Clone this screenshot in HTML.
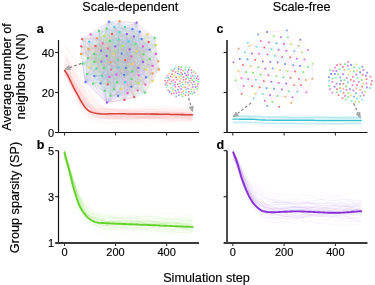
<!DOCTYPE html>
<html><head><meta charset="utf-8"><style>
html,body{margin:0;padding:0;background:#fff;width:375px;height:285px;overflow:hidden;}
svg{display:block;font-family:"Liberation Sans",sans-serif;will-change:transform;}
</style></head><body><svg width="375" height="285" viewBox="0 0 375 285"><defs><filter id="bl" x="-10%" y="-10%" width="120%" height="120%"><feGaussianBlur stdDeviation="0.45"/></filter><filter id="bl2" x="-10%" y="-10%" width="120%" height="120%"><feGaussianBlur stdDeviation="0.7"/></filter><filter id="bl4" x="-10%" y="-10%" width="120%" height="120%"><feGaussianBlur stdDeviation="0.8"/></filter><filter id="bl3" x="-30%" y="-30%" width="160%" height="160%"><feGaussianBlur stdDeviation="5"/></filter></defs><g fill="none" stroke="#f07070" stroke-width="1.2" stroke-opacity="0.03"><polyline points="64.5,67.5 65.7,69.3 66.8,71.5 68,74.3 69.2,77.4 70.4,80.5 71.5,83.5 72.7,86.5 73.9,89.5 75.1,92.2 76.2,94.9 77.4,97.6 78.6,100.4 79.8,103.2 80.9,105.7 82.1,108.1 83.3,110.2 84.5,112.1 85.6,113.7 86.8,115 88,115.8 89.2,116.5 90.3,117 91.5,117.3 92.7,117.5 93.9,117.7 95,117.9 96.2,117.9 97.4,117.9 98.6,117.9 99.7,117.9 100.9,117.8 102.1,117.7 103.3,117.5 104.4,117.3 105.6,117.1 106.8,116.9 107.9,116.9 109.1,117.1 110.3,117.3 111.5,117.5 112.6,117.6 113.8,117.8 115,118 116.2,118.2 117.3,118.3 118.5,118.5 119.7,118.7 120.9,118.9 122,119.1 123.2,119.2 124.4,119.4 125.6,119.6 126.7,119.8 127.9,120 129.1,120 130.3,120 131.4,120 132.6,120 133.8,120 135,120 136.1,120 137.3,120 138.5,120 139.7,120 140.8,120 142,120 143.2,120 144.4,120 145.5,119.9 146.7,119.9 147.9,119.9 149.1,119.9 150.2,119.9 151.4,119.9 152.6,119.9 153.7,119.9 154.9,119.9 156.1,119.9 157.3,120 158.4,120 159.6,120 160.8,120 162,120 163.1,120 164.3,120 165.5,120 166.7,120.1 167.8,120.1 169,120.1 170.2,120.1 171.4,120.1 172.5,120.2 173.7,120.3 174.9,120.4 176.1,120.5 177.2,120.5 178.4,120.6 179.6,120.7 180.8,120.8 181.9,120.9 183.1,121 184.3,121.1 185.5,121.1 186.6,121.2 187.8,121.3 189,121.3 190.2,121.4 191.3,121.4 192.5,121.5"/><polyline points="64.5,46.3 65.7,47.4 66.8,48.5 68,49.8 69.2,51.1 70.4,52.8 71.5,54.6 72.7,56.5 73.9,58.3 75.1,60.2 76.2,62.1 77.4,64 78.6,65.9 79.8,67.8 80.9,69.6 82.1,71.5 83.3,73.3 84.5,75.1 85.6,76.9 86.8,78.5 88,80.2 89.2,81.8 90.3,83.4 91.5,85.2 92.7,86.9 93.9,88.7 95,90.5 96.2,92.2 97.4,93.9 98.6,95.5 99.7,97.1 100.9,98.5 102.1,99.9 103.3,101.3 104.4,102.6 105.6,103.8 106.8,105 107.9,106.1 109.1,107.1 110.3,108 111.5,108.9 112.6,109.7 113.8,110.4 115,111 116.2,111.5 117.3,112 118.5,112.5 119.7,112.9 120.9,113.2 122,113.6 123.2,113.9 124.4,114.2 125.6,114.5 126.7,114.8 127.9,115 129.1,115.2 130.3,115.3 131.4,115.4 132.6,115.5 133.8,115.6 135,115.7 136.1,115.7 137.3,115.8 138.5,115.9 139.7,115.9 140.8,115.9 142,116 143.2,116 144.4,115.9 145.5,115.9 146.7,115.9 147.9,115.8 149.1,115.8 150.2,115.7 151.4,115.5 152.6,115.4 153.7,115.2 154.9,115.1 156.1,115 157.3,114.8 158.4,114.7 159.6,114.6 160.8,114.5 162,114.3 163.1,114.2 164.3,114.1 165.5,114 166.7,113.9 167.8,113.7 169,113.6 170.2,113.5 171.4,113.4 172.5,113.4 173.7,113.4 174.9,113.5 176.1,113.5 177.2,113.5 178.4,113.5 179.6,113.5 180.8,113.5 181.9,113.6 183.1,113.6 184.3,113.6 185.5,113.6 186.6,113.6 187.8,113.6 189,113.7 190.2,113.7 191.3,113.7 192.5,113.7"/><polyline points="64.5,68.9 65.7,70.6 66.8,72.7 68,75.5 69.2,78.4 70.4,81.3 71.5,84.2 72.7,87 73.9,89.7 75.1,92.3 76.2,94.7 77.4,97.2 78.6,99.9 79.8,102.4 80.9,104.7 82.1,106.8 83.3,108.6 84.5,110.2 85.6,111.6 86.8,112.7 88,113.5 89.2,114.1 90.3,114.6 91.5,115 92.7,115.3 93.9,115.5 95,115.7 96.2,115.8 97.4,115.9 98.6,116 99.7,116 100.9,116 102.1,116 103.3,115.9 104.4,115.8 105.6,115.7 106.8,115.6 107.9,115.7 109.1,115.8 110.3,115.9 111.5,116 112.6,116.1 113.8,116.2 115,116.4 116.2,116.5 117.3,116.6 118.5,116.7 119.7,116.9 120.9,117 122,117.1 123.2,117.2 124.4,117.4 125.6,117.5 126.7,117.6 127.9,117.7 129.1,117.8 130.3,117.7 131.4,117.6 132.6,117.5 133.8,117.4 135,117.3 136.1,117.3 137.3,117.2 138.5,117.1 139.7,117 140.8,117 142,116.9 143.2,116.8 144.4,116.7 145.5,116.6 146.7,116.6 147.9,116.5 149.1,116.4 150.2,116.4 151.4,116.5 152.6,116.5 153.7,116.6 154.9,116.7 156.1,116.8 157.3,116.9 158.4,117 159.6,117.1 160.8,117.2 162,117.3 163.1,117.4 164.3,117.5 165.5,117.6 166.7,117.7 167.8,117.7 169,117.8 170.2,117.9 171.4,118 172.5,118.1 173.7,118.2 174.9,118.3 176.1,118.4 177.2,118.4 178.4,118.5 179.6,118.6 180.8,118.7 181.9,118.8 183.1,118.9 184.3,118.9 185.5,119 186.6,119.1 187.8,119.1 189,119.2 190.2,119.2 191.3,119.3 192.5,119.3"/><polyline points="64.5,57.6 65.7,58.7 66.8,59.9 68,61.2 69.2,62.8 70.4,64.6 71.5,66.5 72.7,68.5 73.9,70.4 75.1,72.3 76.2,74.3 77.4,76.2 78.6,78.1 79.8,80 80.9,81.9 82.1,83.7 83.3,85.4 84.5,87.1 85.6,88.8 86.8,90.5 88,92.2 89.2,94 90.3,95.9 91.5,97.6 92.7,99.2 93.9,100.8 95,102.2 96.2,103.6 97.4,105 98.6,106.2 99.7,107.4 100.9,108.4 102.1,109.4 103.3,110.2 104.4,111 105.6,111.6 106.8,112.1 107.9,112.6 109.1,113.1 110.3,113.5 111.5,113.8 112.6,114.1 113.8,114.4 115,114.6 116.2,114.9 117.3,115.1 118.5,115.3 119.7,115.4 120.9,115.6 122,115.7 123.2,115.8 124.4,115.9 125.6,116 126.7,116.1 127.9,116.2 129.1,116.2 130.3,116.2 131.4,116.2 132.6,116.1 133.8,116.1 135,116 136.1,116 137.3,115.9 138.5,115.9 139.7,115.8 140.8,115.8 142,115.8 143.2,115.7 144.4,115.7 145.5,115.7 146.7,115.7 147.9,115.7 149.1,115.6 150.2,115.6 151.4,115.7 152.6,115.7 153.7,115.7 154.9,115.7 156.1,115.8 157.3,115.8 158.4,115.8 159.6,115.8 160.8,115.8 162,115.9 163.1,115.9 164.3,115.9 165.5,115.9 166.7,116 167.8,116 169,116 170.2,116 171.4,116.1 172.5,116.1 173.7,116 174.9,116 176.1,116 177.2,116 178.4,116 179.6,116 180.8,116 181.9,116 183.1,116 184.3,116 185.5,116 186.6,116 187.8,116 189,116 190.2,116 191.3,116 192.5,116"/><polyline points="64.5,49.9 65.7,51 66.8,52.2 68,53.5 69.2,54.9 70.4,56.6 71.5,58.4 72.7,60.3 73.9,62.2 75.1,64 76.2,65.9 77.4,67.7 78.6,69.5 79.8,71.3 80.9,73.1 82.1,74.8 83.3,76.5 84.5,78.1 85.6,79.7 86.8,81.3 88,83 89.2,84.7 90.3,86.5 91.5,88.3 92.7,90.2 93.9,92.1 95,93.8 96.2,95.6 97.4,97.3 98.6,98.9 99.7,100.5 100.9,102 102.1,103.5 103.3,104.9 104.4,106.2 105.6,107.5 106.8,108.6 107.9,109.5 109.1,110.3 110.3,110.9 111.5,111.4 112.6,111.9 113.8,112.2 115,112.6 116.2,112.8 117.3,113.1 118.5,113.3 119.7,113.4 120.9,113.6 122,113.7 123.2,113.8 124.4,113.9 125.6,113.9 126.7,114 127.9,114 129.1,114 130.3,114 131.4,114.1 132.6,114.1 133.8,114.1 135,114.1 136.1,114.1 137.3,114 138.5,114 139.7,113.9 140.8,113.9 142,113.8 143.2,113.7 144.4,113.6 145.5,113.5 146.7,113.4 147.9,113.3 149.1,113.2 150.2,113.1 151.4,113.2 152.6,113.2 153.7,113.3 154.9,113.4 156.1,113.5 157.3,113.5 158.4,113.6 159.6,113.7 160.8,113.7 162,113.8 163.1,113.9 164.3,113.9 165.5,114 166.7,114.1 167.8,114.2 169,114.2 170.2,114.3 171.4,114.4 172.5,114.4 173.7,114.4 174.9,114.4 176.1,114.5 177.2,114.5 178.4,114.5 179.6,114.5 180.8,114.5 181.9,114.6 183.1,114.6 184.3,114.6 185.5,114.6 186.6,114.7 187.8,114.7 189,114.7 190.2,114.7 191.3,114.8 192.5,114.8"/><polyline points="64.5,70.3 65.7,71.6 66.8,73 68,74.8 69.2,76.9 70.4,79.1 71.5,81.3 72.7,83.5 73.9,85.7 75.1,87.8 76.2,90 77.4,92 78.6,94 79.8,95.9 80.9,97.9 82.1,100 83.3,102.1 84.5,104.1 85.6,106 86.8,107.6 88,109.2 89.2,110.6 90.3,111.9 91.5,113 92.7,113.9 93.9,114.7 95,115.3 96.2,115.7 97.4,116.2 98.6,116.5 99.7,116.8 100.9,117 102.1,117.2 103.3,117.4 104.4,117.5 105.6,117.6 106.8,117.7 107.9,117.7 109.1,117.7 110.3,117.6 111.5,117.5 112.6,117.4 113.8,117.2 115,117.1 116.2,116.9 117.3,116.7 118.5,116.6 119.7,116.5 120.9,116.4 122,116.2 123.2,116.1 124.4,116 125.6,115.9 126.7,115.8 127.9,115.7 129.1,115.6 130.3,115.7 131.4,115.7 132.6,115.7 133.8,115.8 135,115.8 136.1,115.8 137.3,115.9 138.5,115.9 139.7,116 140.8,116 142,116 143.2,116.1 144.4,116.1 145.5,116.2 146.7,116.2 147.9,116.2 149.1,116.3 150.2,116.3 151.4,116.5 152.6,116.6 153.7,116.7 154.9,116.8 156.1,117 157.3,117.1 158.4,117.2 159.6,117.4 160.8,117.5 162,117.6 163.1,117.7 164.3,117.9 165.5,118 166.7,118.1 167.8,118.2 169,118.4 170.2,118.5 171.4,118.6 172.5,118.6 173.7,118.6 174.9,118.7 176.1,118.7 177.2,118.7 178.4,118.7 179.6,118.7 180.8,118.8 181.9,118.8 183.1,118.8 184.3,118.8 185.5,118.9 186.6,118.9 187.8,118.9 189,118.9 190.2,119 191.3,119 192.5,119"/><polyline points="64.5,54.4 65.7,55.6 66.8,56.8 68,58.2 69.2,59.8 70.4,61.6 71.5,63.6 72.7,65.6 73.9,67.6 75.1,69.6 76.2,71.6 77.4,73.6 78.6,75.6 79.8,77.6 80.9,79.5 82.1,81.4 83.3,83.3 84.5,85.1 85.6,86.8 86.8,88.5 88,90.2 89.2,92 90.3,93.8 91.5,95.6 92.7,97.2 93.9,98.8 95,100.3 96.2,101.7 97.4,103 98.6,104.2 99.7,105.4 100.9,106.4 102.1,107.3 103.3,108.2 104.4,108.9 105.6,109.6 106.8,110.1 107.9,110.6 109.1,111.1 110.3,111.6 111.5,112 112.6,112.3 113.8,112.7 115,113 116.2,113.2 117.3,113.5 118.5,113.7 119.7,113.9 120.9,114.1 122,114.3 123.2,114.4 124.4,114.6 125.6,114.7 126.7,114.8 127.9,114.9 129.1,115 130.3,115.1 131.4,115.2 132.6,115.2 133.8,115.2 135,115.2 136.1,115.2 137.3,115.2 138.5,115.2 139.7,115.2 140.8,115.2 142,115.2 143.2,115.2 144.4,115.3 145.5,115.3 146.7,115.3 147.9,115.4 149.1,115.4 150.2,115.4 151.4,115.3 152.6,115.1 153.7,115 154.9,114.9 156.1,114.8 157.3,114.6 158.4,114.5 159.6,114.4 160.8,114.3 162,114.1 163.1,114 164.3,113.9 165.5,113.8 166.7,113.6 167.8,113.5 169,113.4 170.2,113.3 171.4,113.2 172.5,113.4 173.7,113.6 174.9,113.8 176.1,114 177.2,114.2 178.4,114.4 179.6,114.6 180.8,114.8 181.9,114.9 183.1,115.1 184.3,115.3 185.5,115.5 186.6,115.7 187.8,115.9 189,116.1 190.2,116.3 191.3,116.5 192.5,116.7"/><polyline points="64.5,60.3 65.7,61.9 66.8,63.7 68,66.1 69.2,68.7 70.4,71.5 71.5,74.3 72.7,77.1 73.9,79.9 75.1,82.6 76.2,85.3 77.4,87.9 78.6,90.3 79.8,92.7 80.9,95.2 82.1,97.8 83.3,100.5 84.5,103 85.6,105.3 86.8,107.5 88,109.6 89.2,111.5 90.3,113.3 91.5,114.9 92.7,116.2 93.9,117.4 95,118.3 96.2,119.1 97.4,119.8 98.6,120.4 99.7,120.9 100.9,121.4 102.1,121.8 103.3,122.2 104.4,122.5 105.6,122.8 106.8,123.1 107.9,123.1 109.1,123 110.3,122.9 111.5,122.8 112.6,122.6 113.8,122.4 115,122.2 116.2,121.9 117.3,121.7 118.5,121.5 119.7,121.3 120.9,121.1 122,121 123.2,120.8 124.4,120.6 125.6,120.5 126.7,120.3 127.9,120.1 129.1,120.1 130.3,120.1 131.4,120.1 132.6,120.2 133.8,120.2 135,120.3 136.1,120.3 137.3,120.4 138.5,120.4 139.7,120.5 140.8,120.5 142,120.6 143.2,120.6 144.4,120.7 145.5,120.7 146.7,120.8 147.9,120.9 149.1,120.9 150.2,121 151.4,121 152.6,121.1 153.7,121.2 154.9,121.3 156.1,121.3 157.3,121.4 158.4,121.5 159.6,121.6 160.8,121.6 162,121.7 163.1,121.8 164.3,121.9 165.5,121.9 166.7,122 167.8,122.1 169,122.2 170.2,122.2 171.4,122.3 172.5,122.3 173.7,122.3 174.9,122.3 176.1,122.3 177.2,122.3 178.4,122.4 179.6,122.4 180.8,122.4 181.9,122.4 183.1,122.4 184.3,122.4 185.5,122.5 186.6,122.5 187.8,122.5 189,122.5 190.2,122.5 191.3,122.6 192.5,122.6"/><polyline points="64.5,51.8 65.7,53 66.8,54.2 68,55.6 69.2,57.2 70.4,59.1 71.5,61.1 72.7,63.1 73.9,65.2 75.1,67.2 76.2,69.3 77.4,71.3 78.6,73.4 79.8,75.4 80.9,77.4 82.1,79.3 83.3,81.2 84.5,83.1 85.6,84.8 86.8,86.6 88,88.3 89.2,90 90.3,91.9 91.5,93.7 92.7,95.6 93.9,97.3 95,99.1 96.2,100.7 97.4,102.2 98.6,103.6 99.7,105 100.9,106.3 102.1,107.5 103.3,108.7 104.4,109.7 105.6,110.6 106.8,111.4 107.9,112.3 109.1,112.9 110.3,113.5 111.5,114 112.6,114.5 113.8,114.9 115,115.2 116.2,115.5 117.3,115.8 118.5,116.1 119.7,116.3 120.9,116.5 122,116.7 123.2,116.9 124.4,117 125.6,117.1 126.7,117.2 127.9,117.3 129.1,117.4 130.3,117.4 131.4,117.4 132.6,117.4 133.8,117.3 135,117.3 136.1,117.2 137.3,117.2 138.5,117.1 139.7,117 140.8,116.8 142,116.7 143.2,116.6 144.4,116.5 145.5,116.4 146.7,116.3 147.9,116.2 149.1,116.1 150.2,116.1 151.4,116.3 152.6,116.4 153.7,116.6 154.9,116.8 156.1,116.9 157.3,117.1 158.4,117.3 159.6,117.5 160.8,117.6 162,117.8 163.1,118 164.3,118.1 165.5,118.3 166.7,118.5 167.8,118.7 169,118.8 170.2,119 171.4,119.1 172.5,119 173.7,118.8 174.9,118.6 176.1,118.5 177.2,118.3 178.4,118.2 179.6,118 180.8,117.9 181.9,117.7 183.1,117.5 184.3,117.4 185.5,117.2 186.6,117.1 187.8,116.9 189,116.8 190.2,116.6 191.3,116.4 192.5,116.3"/><polyline points="64.5,54.2 65.7,55.3 66.8,56.5 68,57.8 69.2,59.5 70.4,61.2 71.5,63.1 72.7,65 73.9,66.9 75.1,68.8 76.2,70.7 77.4,72.5 78.6,74.4 79.8,76.3 80.9,78 82.1,79.8 83.3,81.4 84.5,83.1 85.6,84.7 86.8,86.5 88,88.3 89.2,90.1 90.3,91.9 91.5,93.6 92.7,95.2 93.9,96.8 95,98.3 96.2,99.7 97.4,101 98.6,102.2 99.7,103.4 100.9,104.4 102.1,105.4 103.3,106.2 104.4,106.9 105.6,107.5 106.8,108.1 107.9,108.4 109.1,108.7 110.3,108.9 111.5,109 112.6,109.2 113.8,109.3 115,109.3 116.2,109.4 117.3,109.4 118.5,109.4 119.7,109.4 120.9,109.4 122,109.4 123.2,109.4 124.4,109.3 125.6,109.2 126.7,109.2 127.9,109.1 129.1,109 130.3,109.1 131.4,109.1 132.6,109.1 133.8,109.1 135,109.1 136.1,109.1 137.3,109.1 138.5,109.2 139.7,109.2 140.8,109.3 142,109.3 143.2,109.4 144.4,109.4 145.5,109.5 146.7,109.5 147.9,109.6 149.1,109.6 150.2,109.6 151.4,109.6 152.6,109.6 153.7,109.6 154.9,109.6 156.1,109.5 157.3,109.5 158.4,109.5 159.6,109.5 160.8,109.4 162,109.4 163.1,109.4 164.3,109.4 165.5,109.4 166.7,109.3 167.8,109.3 169,109.3 170.2,109.3 171.4,109.3 172.5,109.3 173.7,109.3 174.9,109.3 176.1,109.4 177.2,109.4 178.4,109.4 179.6,109.4 180.8,109.5 181.9,109.5 183.1,109.5 184.3,109.5 185.5,109.6 186.6,109.6 187.8,109.6 189,109.6 190.2,109.7 191.3,109.7 192.5,109.7"/><polyline points="64.5,63.5 65.7,64.7 66.8,66.1 68,67.6 69.2,69.5 70.4,71.5 71.5,73.6 72.7,75.6 73.9,77.7 75.1,79.8 76.2,81.8 77.4,83.8 78.6,85.8 79.8,87.7 80.9,89.5 82.1,91.3 83.3,93.1 84.5,95.1 85.6,97.1 86.8,98.9 88,100.5 89.2,102.1 90.3,103.5 91.5,104.8 92.7,106.1 93.9,107.2 95,108.1 96.2,108.9 97.4,109.7 98.6,110.2 99.7,110.6 100.9,110.9 102.1,111.2 103.3,111.4 104.4,111.5 105.6,111.7 106.8,111.8 107.9,112 109.1,112.3 110.3,112.6 111.5,112.9 112.6,113.1 113.8,113.4 115,113.6 116.2,113.8 117.3,114 118.5,114.2 119.7,114.3 120.9,114.5 122,114.6 123.2,114.7 124.4,114.8 125.6,114.9 126.7,115 127.9,115.2 129.1,115.2 130.3,115.2 131.4,115.2 132.6,115.1 133.8,115.1 135,115 136.1,115 137.3,114.9 138.5,114.9 139.7,114.9 140.8,114.8 142,114.8 143.2,114.7 144.4,114.7 145.5,114.7 146.7,114.6 147.9,114.6 149.1,114.5 150.2,114.5 151.4,114.6 152.6,114.6 153.7,114.6 154.9,114.7 156.1,114.7 157.3,114.7 158.4,114.8 159.6,114.8 160.8,114.9 162,114.9 163.1,114.9 164.3,115 165.5,115 166.7,115 167.8,115.1 169,115.1 170.2,115.1 171.4,115.2 172.5,115.1 173.7,115.1 174.9,115 176.1,115 177.2,115 178.4,114.9 179.6,114.9 180.8,114.8 181.9,114.8 183.1,114.7 184.3,114.7 185.5,114.7 186.6,114.6 187.8,114.6 189,114.5 190.2,114.5 191.3,114.4 192.5,114.4"/><polyline points="64.5,61.6 65.7,63 66.8,64.6 68,66.6 69.2,68.9 70.4,71.3 71.5,73.8 72.7,76.2 73.9,78.6 75.1,81 76.2,83.4 77.4,85.7 78.6,87.9 79.8,90 80.9,92.1 82.1,94.3 83.3,96.6 84.5,98.8 85.6,100.9 86.8,103 88,104.9 89.2,106.7 90.3,108.4 91.5,109.9 92.7,111.3 93.9,112.5 95,113.5 96.2,114.3 97.4,115.1 98.6,115.7 99.7,116.2 100.9,116.7 102.1,117.1 103.3,117.5 104.4,117.8 105.6,118.2 106.8,118.4 107.9,118.6 109.1,118.7 110.3,118.9 111.5,119 112.6,119 113.8,119.1 115,119.1 116.2,119.1 117.3,119.1 118.5,119.1 119.7,119 120.9,119 122,119 123.2,119 124.4,119.1 125.6,119.1 126.7,119.1 127.9,119.2 129.1,119.1 130.3,119 131.4,118.8 132.6,118.7 133.8,118.5 135,118.4 136.1,118.3 137.3,118.1 138.5,118 139.7,117.8 140.8,117.7 142,117.6 143.2,117.4 144.4,117.3 145.5,117.1 146.7,117 147.9,116.9 149.1,116.7 150.2,116.7 151.4,116.8 152.6,117 153.7,117.1 154.9,117.2 156.1,117.4 157.3,117.5 158.4,117.6 159.6,117.8 160.8,117.9 162,118.1 163.1,118.2 164.3,118.3 165.5,118.5 166.7,118.6 167.8,118.8 169,118.9 170.2,119 171.4,119.1 172.5,118.9 173.7,118.6 174.9,118.4 176.1,118.1 177.2,117.9 178.4,117.7 179.6,117.4 180.8,117.2 181.9,116.9 183.1,116.7 184.3,116.4 185.5,116.2 186.6,116 187.8,115.7 189,115.5 190.2,115.2 191.3,115 192.5,114.8"/><polyline points="64.5,43.5 65.7,44.5 66.8,45.5 68,46.6 69.2,47.8 70.4,49.2 71.5,50.7 72.7,52.4 73.9,54 75.1,55.6 76.2,57.3 77.4,58.9 78.6,60.6 79.8,62.2 80.9,63.8 82.1,65.4 83.3,67 84.5,68.5 85.6,70 86.8,71.6 88,73.1 89.2,74.5 90.3,76 91.5,77.4 92.7,78.9 93.9,80.4 95,82 96.2,83.6 97.4,85.1 98.6,86.6 99.7,88.1 100.9,89.5 102.1,90.9 103.3,92.2 104.4,93.5 105.6,94.7 106.8,95.9 107.9,96.9 109.1,97.9 110.3,98.8 111.5,99.7 112.6,100.5 113.8,101.2 115,101.9 116.2,102.4 117.3,102.9 118.5,103.3 119.7,103.7 120.9,104.1 122,104.4 123.2,104.7 124.4,104.9 125.6,105.2 126.7,105.4 127.9,105.6 129.1,105.7 130.3,105.9 131.4,106 132.6,106.1 133.8,106.1 135,106.2 136.1,106.3 137.3,106.3 138.5,106.3 139.7,106.4 140.8,106.4 142,106.4 143.2,106.4 144.4,106.4 145.5,106.4 146.7,106.4 147.9,106.4 149.1,106.3 150.2,106.3 151.4,106.3 152.6,106.4 153.7,106.4 154.9,106.4 156.1,106.4 157.3,106.4 158.4,106.4 159.6,106.5 160.8,106.5 162,106.5 163.1,106.6 164.3,106.6 165.5,106.7 166.7,106.7 167.8,106.8 169,106.8 170.2,106.9 171.4,106.9 172.5,106.9 173.7,106.9 174.9,106.8 176.1,106.8 177.2,106.8 178.4,106.7 179.6,106.7 180.8,106.7 181.9,106.6 183.1,106.6 184.3,106.6 185.5,106.6 186.6,106.5 187.8,106.5 189,106.5 190.2,106.4 191.3,106.4 192.5,106.4"/><polyline points="64.5,58 65.7,59.4 66.8,61 68,62.8 69.2,65 70.4,67.3 71.5,69.7 72.7,72 73.9,74.3 75.1,76.6 76.2,78.8 77.4,81 78.6,83.1 79.8,85.1 80.9,87 82.1,88.9 83.3,90.8 84.5,92.9 85.6,94.9 86.8,96.9 88,98.8 89.2,100.6 90.3,102.3 91.5,104 92.7,105.4 93.9,106.7 95,107.9 96.2,109 97.4,109.9 98.6,110.6 99.7,111.2 100.9,111.8 102.1,112.2 103.3,112.6 104.4,113 105.6,113.3 106.8,113.6 107.9,113.8 109.1,114 110.3,114 111.5,114.1 112.6,114.2 113.8,114.3 115,114.3 116.2,114.3 117.3,114.3 118.5,114.3 119.7,114.2 120.9,114.1 122,114 123.2,114 124.4,113.9 125.6,113.8 126.7,113.8 127.9,113.8 129.1,113.8 130.3,113.8 131.4,113.8 132.6,113.8 133.8,113.9 135,113.9 136.1,113.9 137.3,113.9 138.5,114 139.7,114 140.8,114 142,114 143.2,114 144.4,114.1 145.5,114.1 146.7,114.1 147.9,114.1 149.1,114.2 150.2,114.2 151.4,114.4 152.6,114.5 153.7,114.6 154.9,114.7 156.1,114.9 157.3,115 158.4,115.1 159.6,115.2 160.8,115.4 162,115.5 163.1,115.6 164.3,115.7 165.5,115.9 166.7,116 167.8,116.1 169,116.2 170.2,116.4 171.4,116.5 172.5,116.4 173.7,116.3 174.9,116.3 176.1,116.2 177.2,116.1 178.4,116 179.6,116 180.8,115.9 181.9,115.8 183.1,115.7 184.3,115.7 185.5,115.6 186.6,115.5 187.8,115.5 189,115.4 190.2,115.3 191.3,115.2 192.5,115.2"/><polyline points="64.5,54.6 65.7,56 66.8,57.6 68,59.4 69.2,61.7 70.4,64.2 71.5,66.6 72.7,69.1 73.9,71.6 75.1,74.1 76.2,76.5 77.4,79 78.6,81.3 79.8,83.6 80.9,85.7 82.1,87.9 83.3,90.1 84.5,92.5 85.6,94.9 86.8,97.1 88,99.3 89.2,101.4 90.3,103.3 91.5,105.2 92.7,106.9 93.9,108.5 95,109.9 96.2,111.2 97.4,112.3 98.6,113.3 99.7,114 100.9,114.7 102.1,115.3 103.3,115.8 104.4,116.3 105.6,116.7 106.8,117.1 107.9,117.4 109.1,117.6 110.3,117.7 111.5,117.8 112.6,117.8 113.8,117.9 115,118 116.2,118 117.3,118 118.5,118 119.7,117.9 120.9,117.8 122,117.7 123.2,117.6 124.4,117.5 125.6,117.4 126.7,117.4 127.9,117.3 129.1,117.3 130.3,117.2 131.4,117.1 132.6,117.1 133.8,117 135,117 136.1,116.9 137.3,116.9 138.5,116.8 139.7,116.8 140.8,116.7 142,116.6 143.2,116.6 144.4,116.5 145.5,116.5 146.7,116.4 147.9,116.4 149.1,116.3 150.2,116.3 151.4,116.3 152.6,116.2 153.7,116.2 154.9,116.2 156.1,116.2 157.3,116.2 158.4,116.2 159.6,116.1 160.8,116.1 162,116.1 163.1,116.1 164.3,116.1 165.5,116 166.7,116 167.8,116 169,116 170.2,116 171.4,116 172.5,116 173.7,116 174.9,116.1 176.1,116.1 177.2,116.1 178.4,116.2 179.6,116.2 180.8,116.2 181.9,116.3 183.1,116.3 184.3,116.3 185.5,116.3 186.6,116.4 187.8,116.4 189,116.4 190.2,116.5 191.3,116.5 192.5,116.6"/><polyline points="64.5,55.6 65.7,57 66.8,58.4 68,60 69.2,62.1 70.4,64.3 71.5,66.5 72.7,68.7 73.9,71 75.1,73.2 76.2,75.4 77.4,77.5 78.6,79.6 79.8,81.7 80.9,83.6 82.1,85.5 83.3,87.3 84.5,89.2 85.6,91.2 86.8,93.3 88,95.3 89.2,97.2 90.3,99.1 91.5,100.7 92.7,102.3 93.9,103.9 95,105.3 96.2,106.5 97.4,107.7 98.6,108.7 99.7,109.5 100.9,110.2 102.1,110.8 103.3,111.3 104.4,111.8 105.6,112.2 106.8,112.5 107.9,112.9 109.1,113.2 110.3,113.5 111.5,113.8 112.6,114 113.8,114.2 115,114.4 116.2,114.6 117.3,114.7 118.5,114.9 119.7,115 120.9,115.1 122,115.2 123.2,115.3 124.4,115.3 125.6,115.4 126.7,115.4 127.9,115.4 129.1,115.4 130.3,115.4 131.4,115.4 132.6,115.3 133.8,115.3 135,115.3 136.1,115.3 137.3,115.3 138.5,115.3 139.7,115.2 140.8,115.2 142,115.2 143.2,115.2 144.4,115.2 145.5,115.2 146.7,115.2 147.9,115.2 149.1,115.1 150.2,115.1 151.4,115.1 152.6,115 153.7,115 154.9,114.9 156.1,114.9 157.3,114.9 158.4,114.8 159.6,114.8 160.8,114.7 162,114.7 163.1,114.7 164.3,114.6 165.5,114.6 166.7,114.5 167.8,114.5 169,114.5 170.2,114.4 171.4,114.4 172.5,114.5 173.7,114.5 174.9,114.6 176.1,114.7 177.2,114.8 178.4,114.8 179.6,114.9 180.8,115 181.9,115.1 183.1,115.1 184.3,115.2 185.5,115.3 186.6,115.4 187.8,115.4 189,115.5 190.2,115.6 191.3,115.7 192.5,115.8"/><polyline points="64.5,67.6 65.7,68.7 66.8,70 68,71.5 69.2,73.4 70.4,75.4 71.5,77.3 72.7,79.3 73.9,81.3 75.1,83.3 76.2,85.3 77.4,87.2 78.6,89.1 79.8,90.9 80.9,92.6 82.1,94.3 83.3,96.1 84.5,98 85.6,99.9 86.8,101.6 88,103.3 89.2,104.8 90.3,106.3 91.5,107.6 92.7,108.9 93.9,110 95,111 96.2,111.9 97.4,112.6 98.6,113.2 99.7,113.7 100.9,114.1 102.1,114.5 103.3,114.8 104.4,115 105.6,115.2 106.8,115.4 107.9,115.6 109.1,115.7 110.3,115.8 111.5,115.9 112.6,116 113.8,116 115,116.1 116.2,116.1 117.3,116.1 118.5,116.1 119.7,116.1 120.9,116 122,116 123.2,115.9 124.4,115.8 125.6,115.8 126.7,115.8 127.9,115.7 129.1,115.8 130.3,115.9 131.4,116 132.6,116.2 133.8,116.3 135,116.4 136.1,116.6 137.3,116.7 138.5,116.8 139.7,116.9 140.8,117.1 142,117.2 143.2,117.3 144.4,117.5 145.5,117.6 146.7,117.7 147.9,117.9 149.1,118 150.2,118.1 151.4,118.1 152.6,118.1 153.7,118 154.9,118 156.1,118 157.3,118 158.4,118 159.6,118 160.8,118 162,118 163.1,118 164.3,117.9 165.5,117.9 166.7,117.9 167.8,117.9 169,117.9 170.2,117.9 171.4,117.9 172.5,117.9 173.7,117.9 174.9,117.9 176.1,117.9 177.2,117.9 178.4,117.9 179.6,117.9 180.8,117.9 181.9,117.9 183.1,117.9 184.3,117.9 185.5,117.9 186.6,117.9 187.8,117.9 189,117.9 190.2,117.9 191.3,117.9 192.5,117.9"/><polyline points="64.5,64.1 65.7,65.5 66.8,67 68,69 69.2,71.2 70.4,73.5 71.5,75.8 72.7,78.2 73.9,80.5 75.1,82.8 76.2,85 77.4,87.1 78.6,89.2 79.8,91.2 80.9,93.3 82.1,95.5 83.3,97.7 84.5,99.7 85.6,101.6 86.8,103.3 88,104.9 89.2,106.3 90.3,107.5 91.5,108.6 92.7,109.5 93.9,110.2 95,110.7 96.2,111.2 97.4,111.5 98.6,111.8 99.7,112 100.9,112.2 102.1,112.4 103.3,112.5 104.4,112.6 105.6,112.6 106.8,112.7 107.9,112.8 109.1,113 110.3,113.1 111.5,113.2 112.6,113.2 113.8,113.3 115,113.3 116.2,113.4 117.3,113.4 118.5,113.5 119.7,113.6 120.9,113.7 122,113.8 123.2,113.8 124.4,113.9 125.6,114 126.7,114.1 127.9,114.2 129.1,114.3 130.3,114.4 131.4,114.5 132.6,114.5 133.8,114.6 135,114.7 136.1,114.8 137.3,114.9 138.5,114.9 139.7,115 140.8,115.1 142,115.2 143.2,115.3 144.4,115.3 145.5,115.4 146.7,115.5 147.9,115.6 149.1,115.7 150.2,115.7 151.4,115.7 152.6,115.7 153.7,115.7 154.9,115.7 156.1,115.7 157.3,115.7 158.4,115.7 159.6,115.7 160.8,115.7 162,115.7 163.1,115.7 164.3,115.7 165.5,115.7 166.7,115.7 167.8,115.7 169,115.6 170.2,115.6 171.4,115.6 172.5,115.7 173.7,115.7 174.9,115.7 176.1,115.7 177.2,115.7 178.4,115.7 179.6,115.8 180.8,115.8 181.9,115.8 183.1,115.8 184.3,115.9 185.5,115.9 186.6,115.9 187.8,115.9 189,116 190.2,116 191.3,116 192.5,116"/><polyline points="64.5,46 65.7,47.2 66.8,48.4 68,49.8 69.2,51.2 70.4,53.1 71.5,55 72.7,57 73.9,59 75.1,60.9 76.2,62.9 77.4,64.9 78.6,66.8 79.8,68.7 80.9,70.6 82.1,72.5 83.3,74.3 84.5,76.1 85.6,77.8 86.8,79.5 88,81.2 89.2,82.9 90.3,84.7 91.5,86.5 92.7,88.3 93.9,90.1 95,91.9 96.2,93.5 97.4,95.1 98.6,96.6 99.7,98 100.9,99.4 102.1,100.7 103.3,101.9 104.4,103 105.6,104 106.8,104.9 107.9,105.8 109.1,106.5 110.3,107.2 111.5,107.7 112.6,108.2 113.8,108.6 115,109 116.2,109.3 117.3,109.6 118.5,109.8 119.7,110.1 120.9,110.3 122,110.5 123.2,110.7 124.4,110.8 125.6,110.9 126.7,111.1 127.9,111.1 129.1,111.3 130.3,111.5 131.4,111.6 132.6,111.8 133.8,111.9 135,112.1 136.1,112.2 137.3,112.3 138.5,112.4 139.7,112.4 140.8,112.5 142,112.6 143.2,112.6 144.4,112.6 145.5,112.7 146.7,112.7 147.9,112.8 149.1,112.9 150.2,112.9 151.4,112.9 152.6,112.9 153.7,112.8 154.9,112.8 156.1,112.8 157.3,112.8 158.4,112.7 159.6,112.7 160.8,112.7 162,112.7 163.1,112.6 164.3,112.6 165.5,112.6 166.7,112.6 167.8,112.5 169,112.5 170.2,112.5 171.4,112.5 172.5,112.5 173.7,112.5 174.9,112.5 176.1,112.5 177.2,112.5 178.4,112.5 179.6,112.5 180.8,112.5 181.9,112.5 183.1,112.5 184.3,112.5 185.5,112.5 186.6,112.5 187.8,112.5 189,112.5 190.2,112.5 191.3,112.5 192.5,112.5"/><polyline points="64.5,57.8 65.7,59.1 66.8,60.6 68,62.3 69.2,64.3 70.4,66.5 71.5,68.7 72.7,70.9 73.9,73 75.1,75.2 76.2,77.3 77.4,79.3 78.6,81.3 79.8,83.1 80.9,84.9 82.1,86.8 83.3,88.7 84.5,90.7 85.6,92.5 86.8,94.4 88,96.1 89.2,97.7 90.3,99.2 91.5,100.6 92.7,101.9 93.9,103 95,104 96.2,104.8 97.4,105.5 98.6,106.1 99.7,106.5 100.9,106.9 102.1,107.3 103.3,107.6 104.4,107.9 105.6,108.1 106.8,108.3 107.9,108.4 109.1,108.5 110.3,108.6 111.5,108.7 112.6,108.8 113.8,108.8 115,108.8 116.2,108.8 117.3,108.8 118.5,108.7 119.7,108.7 120.9,108.6 122,108.5 123.2,108.5 124.4,108.5 125.6,108.4 126.7,108.4 127.9,108.4 129.1,108.3 130.3,108.2 131.4,108.1 132.6,108 133.8,108 135,107.9 136.1,107.8 137.3,107.7 138.5,107.6 139.7,107.5 140.8,107.4 142,107.3 143.2,107.2 144.4,107.1 145.5,107 146.7,106.9 147.9,106.9 149.1,106.8 150.2,106.7 151.4,106.7 152.6,106.8 153.7,106.8 154.9,106.8 156.1,106.8 157.3,106.8 158.4,106.9 159.6,106.9 160.8,106.9 162,106.9 163.1,107 164.3,107 165.5,107 166.7,107 167.8,107 169,107.1 170.2,107.1 171.4,107.1 172.5,107.2 173.7,107.3 174.9,107.4 176.1,107.5 177.2,107.6 178.4,107.7 179.6,107.8 180.8,107.9 181.9,108 183.1,108.1 184.3,108.2 185.5,108.3 186.6,108.4 187.8,108.5 189,108.6 190.2,108.7 191.3,108.8 192.5,108.9"/><polyline points="64.5,62.7 65.7,63.8 66.8,65.1 68,66.5 69.2,68.3 70.4,70.2 71.5,72.1 72.7,73.9 73.9,75.8 75.1,77.7 76.2,79.5 77.4,81.3 78.6,83.1 79.8,84.8 80.9,86.3 82.1,87.9 83.3,89.5 84.5,91.1 85.6,92.9 86.8,94.5 88,96.1 89.2,97.6 90.3,99 91.5,100.3 92.7,101.6 93.9,102.7 95,103.7 96.2,104.6 97.4,105.4 98.6,106 99.7,106.6 100.9,107 102.1,107.4 103.3,107.7 104.4,108 105.6,108.2 106.8,108.4 107.9,108.7 109.1,108.9 110.3,109.1 111.5,109.3 112.6,109.5 113.8,109.7 115,109.8 116.2,110 117.3,110.1 118.5,110.2 119.7,110.3 120.9,110.3 122,110.4 123.2,110.4 124.4,110.5 125.6,110.5 126.7,110.6 127.9,110.7 129.1,110.7 130.3,110.7 131.4,110.8 132.6,110.8 133.8,110.8 135,110.8 136.1,110.9 137.3,110.9 138.5,110.9 139.7,110.9 140.8,111 142,111 143.2,111 144.4,111 145.5,111.1 146.7,111.1 147.9,111.1 149.1,111.2 150.2,111.2 151.4,111.2 152.6,111.1 153.7,111.1 154.9,111.1 156.1,111.1 157.3,111.1 158.4,111.1 159.6,111 160.8,111 162,111 163.1,111 164.3,111 165.5,111 166.7,111 167.8,110.9 169,110.9 170.2,110.9 171.4,110.9 172.5,111.1 173.7,111.2 174.9,111.3 176.1,111.5 177.2,111.6 178.4,111.7 179.6,111.9 180.8,112 181.9,112.1 183.1,112.3 184.3,112.4 185.5,112.5 186.6,112.7 187.8,112.8 189,112.9 190.2,113.1 191.3,113.2 192.5,113.4"/><polyline points="64.5,44.8 65.7,46.1 66.8,47.6 68,49.2 69.2,51 70.4,53.1 71.5,55.4 72.7,57.7 73.9,59.9 75.1,62.2 76.2,64.4 77.4,66.7 78.6,68.9 79.8,71 80.9,73.2 82.1,75.3 83.3,77.3 84.5,79.2 85.6,81.1 86.8,83 88,85 89.2,87.1 90.3,89.2 91.5,91.4 92.7,93.5 93.9,95.6 95,97.5 96.2,99.4 97.4,101.2 98.6,102.9 99.7,104.6 100.9,106.2 102.1,107.6 103.3,109 104.4,110.2 105.6,111.4 106.8,112.4 107.9,113.3 109.1,114.1 110.3,114.8 111.5,115.5 112.6,116 113.8,116.6 115,117 116.2,117.5 117.3,117.9 118.5,118.2 119.7,118.6 120.9,118.9 122,119.2 123.2,119.5 124.4,119.7 125.6,120 126.7,120.2 127.9,120.4 129.1,120.4 130.3,120.4 131.4,120.3 132.6,120.2 133.8,120 135,119.9 136.1,119.7 137.3,119.5 138.5,119.3 139.7,119.1 140.8,118.9 142,118.7 143.2,118.5 144.4,118.3 145.5,118.1 146.7,117.9 147.9,117.7 149.1,117.6 150.2,117.5 151.4,117.5 152.6,117.5 153.7,117.6 154.9,117.6 156.1,117.6 157.3,117.7 158.4,117.7 159.6,117.7 160.8,117.7 162,117.8 163.1,117.8 164.3,117.8 165.5,117.9 166.7,117.9 167.8,118 169,118 170.2,118 171.4,118 172.5,118 173.7,118 174.9,118 176.1,118 177.2,118 178.4,117.9 179.6,117.9 180.8,117.9 181.9,117.9 183.1,117.9 184.3,117.9 185.5,117.8 186.6,117.8 187.8,117.8 189,117.8 190.2,117.8 191.3,117.8 192.5,117.7"/><polyline points="64.5,63.2 65.7,64.7 66.8,66.3 68,68.2 69.2,70.5 70.4,72.9 71.5,75.3 72.7,77.7 73.9,80.1 75.1,82.5 76.2,84.9 77.4,87.1 78.6,89.2 79.8,91.3 80.9,93.5 82.1,95.7 83.3,98 84.5,100.1 85.6,102.2 86.8,104 88,105.6 89.2,107.2 90.3,108.5 91.5,109.7 92.7,110.7 93.9,111.6 95,112.2 96.2,112.7 97.4,113.1 98.6,113.4 99.7,113.7 100.9,113.9 102.1,114 103.3,114.2 104.4,114.2 105.6,114.3 106.8,114.3 107.9,114.3 109.1,114.2 110.3,114.2 111.5,114.1 112.6,114 113.8,113.8 115,113.6 116.2,113.5 117.3,113.3 118.5,113.1 119.7,113 120.9,112.8 122,112.7 123.2,112.6 124.4,112.4 125.6,112.3 126.7,112.2 127.9,112.1 129.1,112.1 130.3,112.2 131.4,112.3 132.6,112.4 133.8,112.6 135,112.7 136.1,112.8 137.3,113 138.5,113.1 139.7,113.2 140.8,113.4 142,113.5 143.2,113.6 144.4,113.8 145.5,113.9 146.7,114 147.9,114.2 149.1,114.3 150.2,114.4 151.4,114.4 152.6,114.4 153.7,114.3 154.9,114.3 156.1,114.3 157.3,114.3 158.4,114.3 159.6,114.3 160.8,114.3 162,114.3 163.1,114.3 164.3,114.3 165.5,114.3 166.7,114.3 167.8,114.2 169,114.2 170.2,114.2 171.4,114.2 172.5,114.3 173.7,114.3 174.9,114.4 176.1,114.5 177.2,114.5 178.4,114.6 179.6,114.6 180.8,114.7 181.9,114.8 183.1,114.8 184.3,114.9 185.5,114.9 186.6,115 187.8,115.1 189,115.1 190.2,115.2 191.3,115.3 192.5,115.3"/><polyline points="64.5,65.2 65.7,66.5 66.8,67.9 68,69.7 69.2,71.8 70.4,73.9 71.5,76.1 72.7,78.3 73.9,80.5 75.1,82.7 76.2,84.9 77.4,87 78.6,89 79.8,90.9 80.9,92.9 82.1,95 83.3,97.2 84.5,99.2 85.6,101.1 86.8,102.9 88,104.6 89.2,106.2 90.3,107.6 91.5,108.9 92.7,110 93.9,111 95,111.8 96.2,112.4 97.4,113 98.6,113.4 99.7,113.8 100.9,114.2 102.1,114.5 103.3,114.8 104.4,115 105.6,115.2 106.8,115.4 107.9,115.6 109.1,115.6 110.3,115.7 111.5,115.8 112.6,115.8 113.8,115.8 115,115.8 116.2,115.7 117.3,115.7 118.5,115.6 119.7,115.6 120.9,115.6 122,115.6 123.2,115.6 124.4,115.6 125.6,115.6 126.7,115.6 127.9,115.6 129.1,115.7 130.3,115.7 131.4,115.8 132.6,115.9 133.8,116 135,116.1 136.1,116.2 137.3,116.2 138.5,116.3 139.7,116.4 140.8,116.5 142,116.6 143.2,116.7 144.4,116.8 145.5,116.8 146.7,116.9 147.9,117 149.1,117.1 150.2,117.1 151.4,116.8 152.6,116.6 153.7,116.3 154.9,116.1 156.1,115.8 157.3,115.6 158.4,115.3 159.6,115.1 160.8,114.9 162,114.6 163.1,114.4 164.3,114.1 165.5,113.9 166.7,113.6 167.8,113.4 169,113.1 170.2,112.9 171.4,112.7 172.5,112.9 173.7,113.1 174.9,113.3 176.1,113.5 177.2,113.6 178.4,113.8 179.6,114 180.8,114.2 181.9,114.4 183.1,114.6 184.3,114.8 185.5,115 186.6,115.2 187.8,115.4 189,115.6 190.2,115.8 191.3,116 192.5,116.2"/><polyline points="64.5,64.3 65.7,65.4 66.8,66.7 68,68.1 69.2,69.9 70.4,71.9 71.5,73.9 72.7,75.9 73.9,77.9 75.1,79.9 76.2,81.9 77.4,83.9 78.6,85.9 79.8,87.8 80.9,89.6 82.1,91.4 83.3,93.2 84.5,95.1 85.6,97.1 86.8,99 88,100.8 89.2,102.5 90.3,104.1 91.5,105.6 92.7,107 93.9,108.3 95,109.5 96.2,110.6 97.4,111.6 98.6,112.4 99.7,113.1 100.9,113.7 102.1,114.2 103.3,114.6 104.4,114.9 105.6,115.2 106.8,115.5 107.9,115.6 109.1,115.8 110.3,115.8 111.5,115.9 112.6,115.9 113.8,115.9 115,115.9 116.2,115.9 117.3,115.9 118.5,115.8 119.7,115.8 120.9,115.7 122,115.6 123.2,115.5 124.4,115.3 125.6,115.2 126.7,115 127.9,114.9 129.1,114.8 130.3,114.8 131.4,114.9 132.6,114.9 133.8,114.9 135,114.9 136.1,114.9 137.3,115 138.5,115 139.7,115 140.8,115 142,115.1 143.2,115.1 144.4,115.1 145.5,115.1 146.7,115.2 147.9,115.2 149.1,115.2 150.2,115.2 151.4,115.3 152.6,115.3 153.7,115.3 154.9,115.4 156.1,115.4 157.3,115.5 158.4,115.5 159.6,115.5 160.8,115.6 162,115.6 163.1,115.6 164.3,115.7 165.5,115.7 166.7,115.8 167.8,115.8 169,115.8 170.2,115.9 171.4,115.9 172.5,115.9 173.7,115.9 174.9,115.8 176.1,115.8 177.2,115.8 178.4,115.8 179.6,115.8 180.8,115.7 181.9,115.7 183.1,115.7 184.3,115.7 185.5,115.6 186.6,115.6 187.8,115.6 189,115.6 190.2,115.6 191.3,115.5 192.5,115.5"/><polyline points="64.5,57.2 65.7,58.5 66.8,59.8 68,61.2 69.2,63 70.4,64.9 71.5,67 72.7,69.1 73.9,71.1 75.1,73.2 76.2,75.3 77.4,77.3 78.6,79.3 79.8,81.3 80.9,83.2 82.1,85.1 83.3,86.9 84.5,88.6 85.6,90.4 86.8,92.2 88,94 89.2,96 90.3,97.9 91.5,99.7 92.7,101.4 93.9,103.1 95,104.6 96.2,106.1 97.4,107.5 98.6,108.7 99.7,110 100.9,111 102.1,112 103.3,112.9 104.4,113.6 105.6,114.3 106.8,114.8 107.9,115.2 109.1,115.6 110.3,115.9 111.5,116.2 112.6,116.4 113.8,116.6 115,116.8 116.2,116.9 117.3,117.1 118.5,117.1 119.7,117.2 120.9,117.3 122,117.3 123.2,117.4 124.4,117.4 125.6,117.4 126.7,117.4 127.9,117.4 129.1,117.4 130.3,117.4 131.4,117.4 132.6,117.4 133.8,117.4 135,117.3 136.1,117.3 137.3,117.3 138.5,117.2 139.7,117.2 140.8,117.2 142,117.3 143.2,117.3 144.4,117.3 145.5,117.3 146.7,117.3 147.9,117.3 149.1,117.3 150.2,117.3 151.4,117.3 152.6,117.3 153.7,117.3 154.9,117.3 156.1,117.3 157.3,117.3 158.4,117.3 159.6,117.4 160.8,117.4 162,117.4 163.1,117.4 164.3,117.4 165.5,117.4 166.7,117.4 167.8,117.4 169,117.4 170.2,117.4 171.4,117.4 172.5,117.5 173.7,117.6 174.9,117.7 176.1,117.7 177.2,117.8 178.4,117.9 179.6,118 180.8,118.1 181.9,118.2 183.1,118.2 184.3,118.3 185.5,118.4 186.6,118.5 187.8,118.6 189,118.7 190.2,118.7 191.3,118.8 192.5,118.9"/><polyline points="64.5,58 65.7,59.5 66.8,61.1 68,63 69.2,65.3 70.4,67.7 71.5,70.1 72.7,72.5 73.9,75 75.1,77.4 76.2,79.8 77.4,82.1 78.6,84.3 79.8,86.4 80.9,88.5 82.1,90.7 83.3,93 84.5,95.3 85.6,97.5 86.8,99.5 88,101.5 89.2,103.3 90.3,105.1 91.5,106.7 92.7,108.1 93.9,109.4 95,110.5 96.2,111.4 97.4,112.1 98.6,112.8 99.7,113.3 100.9,113.8 102.1,114.3 103.3,114.7 104.4,115 105.6,115.4 106.8,115.6 107.9,115.8 109.1,115.9 110.3,116.1 111.5,116.2 112.6,116.3 113.8,116.3 115,116.3 116.2,116.3 117.3,116.3 118.5,116.3 119.7,116.2 120.9,116.2 122,116.2 123.2,116.2 124.4,116.2 125.6,116.2 126.7,116.2 127.9,116.2 129.1,116.1 130.3,116 131.4,115.8 132.6,115.7 133.8,115.5 135,115.4 136.1,115.2 137.3,115.1 138.5,114.9 139.7,114.8 140.8,114.6 142,114.5 143.2,114.3 144.4,114.2 145.5,114 146.7,113.9 147.9,113.7 149.1,113.6 150.2,113.5 151.4,113.5 152.6,113.6 153.7,113.6 154.9,113.7 156.1,113.7 157.3,113.8 158.4,113.8 159.6,113.9 160.8,113.9 162,114 163.1,114 164.3,114.1 165.5,114.1 166.7,114.2 167.8,114.2 169,114.3 170.2,114.3 171.4,114.4 172.5,114.4 173.7,114.4 174.9,114.4 176.1,114.4 177.2,114.4 178.4,114.4 179.6,114.4 180.8,114.4 181.9,114.4 183.1,114.4 184.3,114.4 185.5,114.4 186.6,114.4 187.8,114.4 189,114.4 190.2,114.4 191.3,114.4 192.5,114.4"/><polyline points="64.5,45.9 65.7,47 66.8,48.1 68,49.3 69.2,50.6 70.4,52.3 71.5,54 72.7,55.8 73.9,57.6 75.1,59.5 76.2,61.3 77.4,63.1 78.6,65 79.8,66.8 80.9,68.6 82.1,70.3 83.3,72.1 84.5,73.8 85.6,75.5 86.8,77.2 88,78.8 89.2,80.4 90.3,82 91.5,83.6 92.7,85.3 93.9,87 95,88.8 96.2,90.6 97.4,92.2 98.6,93.9 99.7,95.4 100.9,96.9 102.1,98.3 103.3,99.7 104.4,101 105.6,102.3 106.8,103.5 107.9,104.6 109.1,105.6 110.3,106.6 111.5,107.5 112.6,108.3 113.8,109 115,109.7 116.2,110.2 117.3,110.7 118.5,111.2 119.7,111.6 120.9,112 122,112.3 123.2,112.6 124.4,112.9 125.6,113.1 126.7,113.4 127.9,113.6 129.1,113.7 130.3,113.7 131.4,113.7 132.6,113.7 133.8,113.7 135,113.6 136.1,113.5 137.3,113.5 138.5,113.4 139.7,113.3 140.8,113.2 142,113.1 143.2,113 144.4,112.9 145.5,112.8 146.7,112.6 147.9,112.4 149.1,112.3 150.2,112.1 151.4,112.1 152.6,112.1 153.7,112.1 154.9,112.1 156.1,112.1 157.3,112 158.4,112.1 159.6,112.1 160.8,112.1 162,112.1 163.1,112.1 164.3,112.1 165.5,112.2 166.7,112.2 167.8,112.2 169,112.2 170.2,112.2 171.4,112.2 172.5,112.3 173.7,112.3 174.9,112.3 176.1,112.3 177.2,112.3 178.4,112.4 179.6,112.4 180.8,112.4 181.9,112.4 183.1,112.4 184.3,112.4 185.5,112.5 186.6,112.5 187.8,112.5 189,112.5 190.2,112.5 191.3,112.6 192.5,112.6"/><polyline points="64.5,60.1 65.7,61.3 66.8,62.6 68,64 69.2,65.8 70.4,67.7 71.5,69.8 72.7,71.8 73.9,73.8 75.1,75.9 76.2,77.9 77.4,79.9 78.6,81.9 79.8,83.8 80.9,85.7 82.1,87.5 83.3,89.3 84.5,91 85.6,92.8 86.8,94.7 88,96.6 89.2,98.4 90.3,100.2 91.5,101.8 92.7,103.4 93.9,104.8 95,106.2 96.2,107.6 97.4,108.7 98.6,109.8 99.7,110.8 100.9,111.6 102.1,112.4 103.3,113 104.4,113.5 105.6,113.9 106.8,114.3 107.9,114.5 109.1,114.8 110.3,115 111.5,115.1 112.6,115.3 113.8,115.4 115,115.5 116.2,115.5 117.3,115.6 118.5,115.6 119.7,115.6 120.9,115.6 122,115.6 123.2,115.5 124.4,115.5 125.6,115.5 126.7,115.4 127.9,115.3 129.1,115.2 130.3,115.1 131.4,115 132.6,114.9 133.8,114.8 135,114.7 136.1,114.7 137.3,114.6 138.5,114.6 139.7,114.5 140.8,114.5 142,114.4 143.2,114.4 144.4,114.3 145.5,114.3 146.7,114.2 147.9,114.2 149.1,114.1 150.2,114.2 151.4,114.4 152.6,114.5 153.7,114.7 154.9,114.9 156.1,115.1 157.3,115.2 158.4,115.4 159.6,115.6 160.8,115.8 162,116 163.1,116.1 164.3,116.3 165.5,116.5 166.7,116.7 167.8,116.9 169,117 170.2,117.2 171.4,117.4 172.5,117.3 173.7,117.3 174.9,117.3 176.1,117.2 177.2,117.2 178.4,117.2 179.6,117.1 180.8,117.1 181.9,117.1 183.1,117 184.3,117 185.5,116.9 186.6,116.9 187.8,116.9 189,116.8 190.2,116.8 191.3,116.8 192.5,116.7"/><polyline points="64.5,64.1 65.7,65.4 66.8,67 68,69 69.2,71.3 70.4,73.6 71.5,75.9 72.7,78.3 73.9,80.7 75.1,83 76.2,85.2 77.4,87.4 78.6,89.5 79.8,91.6 80.9,93.9 82.1,96.2 83.3,98.4 84.5,100.4 85.6,102.3 86.8,103.9 88,105.3 89.2,106.6 90.3,107.6 91.5,108.5 92.7,109.2 93.9,109.7 95,110.1 96.2,110.4 97.4,110.7 98.6,110.9 99.7,111.1 100.9,111.2 102.1,111.3 103.3,111.3 104.4,111.4 105.6,111.4 106.8,111.4 107.9,111.4 109.1,111.4 110.3,111.5 111.5,111.4 112.6,111.4 113.8,111.4 115,111.4 116.2,111.4 117.3,111.5 118.5,111.5 119.7,111.5 120.9,111.6 122,111.6 123.2,111.6 124.4,111.7 125.6,111.7 126.7,111.7 127.9,111.8 129.1,111.8 130.3,111.9 131.4,112 132.6,112 133.8,112.1 135,112.2 136.1,112.3 137.3,112.3 138.5,112.4 139.7,112.5 140.8,112.6 142,112.6 143.2,112.7 144.4,112.8 145.5,112.9 146.7,113 147.9,113 149.1,113.1 150.2,113.1 151.4,113.1 152.6,113.1 153.7,113 154.9,113 156.1,112.9 157.3,112.9 158.4,112.8 159.6,112.8 160.8,112.8 162,112.7 163.1,112.7 164.3,112.6 165.5,112.6 166.7,112.5 167.8,112.5 169,112.5 170.2,112.4 171.4,112.4 172.5,112.4 173.7,112.5 174.9,112.6 176.1,112.6 177.2,112.7 178.4,112.7 179.6,112.8 180.8,112.9 181.9,112.9 183.1,113 184.3,113.1 185.5,113.1 186.6,113.2 187.8,113.3 189,113.3 190.2,113.4 191.3,113.5 192.5,113.5"/><polyline points="64.5,58.1 65.7,59.2 66.8,60.4 68,61.7 69.2,63.3 70.4,65 71.5,66.9 72.7,68.8 73.9,70.6 75.1,72.5 76.2,74.4 77.4,76.2 78.6,78 79.8,79.8 80.9,81.5 82.1,83.2 83.3,84.8 84.5,86.3 85.6,87.8 86.8,89.5 88,91.2 89.2,93.1 90.3,94.9 91.5,96.6 92.7,98.3 93.9,99.9 95,101.4 96.2,102.9 97.4,104.3 98.6,105.7 99.7,106.9 100.9,108 102.1,109.1 103.3,110.1 104.4,111 105.6,111.7 106.8,112.3 107.9,112.8 109.1,113 110.3,113.2 111.5,113.4 112.6,113.5 113.8,113.6 115,113.6 116.2,113.7 117.3,113.7 118.5,113.7 119.7,113.6 120.9,113.6 122,113.5 123.2,113.4 124.4,113.3 125.6,113.2 126.7,113.1 127.9,113 129.1,113 130.3,113.1 131.4,113.2 132.6,113.3 133.8,113.4 135,113.5 136.1,113.5 137.3,113.6 138.5,113.7 139.7,113.7 140.8,113.8 142,113.9 143.2,114 144.4,114.2 145.5,114.3 146.7,114.4 147.9,114.5 149.1,114.6 150.2,114.6 151.4,114.6 152.6,114.6 153.7,114.5 154.9,114.5 156.1,114.5 157.3,114.4 158.4,114.4 159.6,114.4 160.8,114.3 162,114.3 163.1,114.3 164.3,114.2 165.5,114.2 166.7,114.2 167.8,114.2 169,114.1 170.2,114.1 171.4,114.1 172.5,114 173.7,114 174.9,113.9 176.1,113.8 177.2,113.8 178.4,113.7 179.6,113.7 180.8,113.6 181.9,113.6 183.1,113.5 184.3,113.5 185.5,113.4 186.6,113.4 187.8,113.3 189,113.3 190.2,113.2 191.3,113.2 192.5,113.1"/><polyline points="64.5,58.4 65.7,59.6 66.8,60.8 68,62.2 69.2,64 70.4,66 71.5,67.9 72.7,69.9 73.9,71.9 75.1,73.9 76.2,75.8 77.4,77.8 78.6,79.7 79.8,81.6 80.9,83.3 82.1,85.1 83.3,86.8 84.5,88.7 85.6,90.6 86.8,92.5 88,94.2 89.2,95.9 90.3,97.4 91.5,98.9 92.7,100.3 93.9,101.6 95,102.8 96.2,103.8 97.4,104.7 98.6,105.6 99.7,106.2 100.9,106.8 102.1,107.2 103.3,107.6 104.4,108 105.6,108.3 106.8,108.5 107.9,108.7 109.1,109 110.3,109.2 111.5,109.3 112.6,109.4 113.8,109.6 115,109.7 116.2,109.8 117.3,109.8 118.5,109.9 119.7,110 120.9,110 122,110 123.2,110 124.4,110 125.6,109.9 126.7,109.9 127.9,109.9 129.1,109.8 130.3,109.8 131.4,109.8 132.6,109.7 133.8,109.7 135,109.7 136.1,109.6 137.3,109.6 138.5,109.6 139.7,109.5 140.8,109.5 142,109.5 143.2,109.4 144.4,109.4 145.5,109.4 146.7,109.3 147.9,109.3 149.1,109.3 150.2,109.2 151.4,109.2 152.6,109.1 153.7,109 154.9,108.9 156.1,108.9 157.3,108.8 158.4,108.7 159.6,108.6 160.8,108.6 162,108.5 163.1,108.4 164.3,108.3 165.5,108.3 166.7,108.2 167.8,108.1 169,108 170.2,108 171.4,107.9 172.5,108.1 173.7,108.3 174.9,108.4 176.1,108.6 177.2,108.8 178.4,108.9 179.6,109.1 180.8,109.2 181.9,109.4 183.1,109.6 184.3,109.7 185.5,109.9 186.6,110.1 187.8,110.2 189,110.4 190.2,110.6 191.3,110.7 192.5,110.9"/><polyline points="64.5,56.2 65.7,57.7 66.8,59.3 68,61.2 69.2,63.5 70.4,66 71.5,68.5 72.7,70.9 73.9,73.4 75.1,75.8 76.2,78.2 77.4,80.6 78.6,82.9 79.8,85 80.9,87.1 82.1,89.2 83.3,91.3 84.5,93.6 85.6,95.8 86.8,98 88,99.9 89.2,101.8 90.3,103.6 91.5,105.3 92.7,106.8 93.9,108.1 95,109.3 96.2,110.4 97.4,111.2 98.6,111.9 99.7,112.5 100.9,113 102.1,113.4 103.3,113.8 104.4,114.1 105.6,114.3 106.8,114.6 107.9,114.8 109.1,115 110.3,115.1 111.5,115.2 112.6,115.3 113.8,115.4 115,115.5 116.2,115.5 117.3,115.6 118.5,115.6 119.7,115.5 120.9,115.5 122,115.5 123.2,115.4 124.4,115.4 125.6,115.3 126.7,115.3 127.9,115.3 129.1,115.3 130.3,115.2 131.4,115.1 132.6,115 133.8,114.9 135,114.8 136.1,114.7 137.3,114.6 138.5,114.5 139.7,114.4 140.8,114.3 142,114.2 143.2,114.1 144.4,114 145.5,113.9 146.7,113.8 147.9,113.7 149.1,113.6 150.2,113.5 151.4,113.6 152.6,113.7 153.7,113.8 154.9,113.9 156.1,113.9 157.3,114 158.4,114.1 159.6,114.2 160.8,114.3 162,114.3 163.1,114.4 164.3,114.5 165.5,114.6 166.7,114.7 167.8,114.7 169,114.8 170.2,114.9 171.4,115 172.5,115 173.7,115 174.9,115 176.1,115 177.2,115 178.4,114.9 179.6,114.9 180.8,114.9 181.9,114.9 183.1,114.9 184.3,114.9 185.5,114.9 186.6,114.9 187.8,114.9 189,114.9 190.2,114.9 191.3,114.9 192.5,114.9"/><polyline points="64.5,57.6 65.7,59 66.8,60.6 68,62.4 69.2,64.6 70.4,67 71.5,69.4 72.7,71.8 73.9,74.2 75.1,76.6 76.2,78.9 77.4,81.2 78.6,83.5 79.8,85.5 80.9,87.6 82.1,89.7 83.3,91.8 84.5,94.1 85.6,96.3 86.8,98.2 88,100 89.2,101.6 90.3,103 91.5,104.4 92.7,105.6 93.9,106.6 95,107.5 96.2,108.2 97.4,108.7 98.6,109.1 99.7,109.4 100.9,109.6 102.1,109.7 103.3,109.8 104.4,109.9 105.6,109.9 106.8,109.9 107.9,110 109.1,110.3 110.3,110.5 111.5,110.8 112.6,111 113.8,111.2 115,111.4 116.2,111.5 117.3,111.6 118.5,111.7 119.7,111.8 120.9,111.9 122,112 123.2,112.1 124.4,112.2 125.6,112.3 126.7,112.5 127.9,112.6 129.1,112.6 130.3,112.5 131.4,112.5 132.6,112.4 133.8,112.3 135,112.3 136.1,112.2 137.3,112.1 138.5,112.1 139.7,112 140.8,111.9 142,111.8 143.2,111.8 144.4,111.7 145.5,111.6 146.7,111.6 147.9,111.5 149.1,111.4 150.2,111.4 151.4,111.5 152.6,111.7 153.7,111.8 154.9,111.9 156.1,112 157.3,112.1 158.4,112.2 159.6,112.3 160.8,112.4 162,112.5 163.1,112.6 164.3,112.8 165.5,112.9 166.7,113 167.8,113.1 169,113.2 170.2,113.3 171.4,113.4 172.5,113.4 173.7,113.4 174.9,113.4 176.1,113.4 177.2,113.3 178.4,113.3 179.6,113.3 180.8,113.3 181.9,113.3 183.1,113.3 184.3,113.2 185.5,113.2 186.6,113.2 187.8,113.2 189,113.2 190.2,113.2 191.3,113.2 192.5,113.2"/><polyline points="64.5,55.3 65.7,56.5 66.8,57.7 68,59 69.2,60.6 70.4,62.4 71.5,64.3 72.7,66.2 73.9,68.1 75.1,70 76.2,71.9 77.4,73.8 78.6,75.6 79.8,77.4 80.9,79.2 82.1,80.9 83.3,82.6 84.5,84.1 85.6,85.7 86.8,87.3 88,89.1 89.2,90.9 90.3,92.7 91.5,94.5 92.7,96.3 93.9,97.9 95,99.5 96.2,101 97.4,102.4 98.6,103.8 99.7,105.1 100.9,106.3 102.1,107.4 103.3,108.5 104.4,109.4 105.6,110.2 106.8,110.9 107.9,111.5 109.1,112 110.3,112.4 111.5,112.8 112.6,113.1 113.8,113.4 115,113.7 116.2,114 117.3,114.2 118.5,114.4 119.7,114.6 120.9,114.8 122,114.9 123.2,115 124.4,115.1 125.6,115.2 126.7,115.3 127.9,115.4 129.1,115.5 130.3,115.5 131.4,115.6 132.6,115.6 133.8,115.6 135,115.6 136.1,115.6 137.3,115.6 138.5,115.6 139.7,115.6 140.8,115.5 142,115.5 143.2,115.6 144.4,115.6 145.5,115.6 146.7,115.6 147.9,115.7 149.1,115.7 150.2,115.7 151.4,115.7 152.6,115.6 153.7,115.6 154.9,115.6 156.1,115.5 157.3,115.5 158.4,115.5 159.6,115.4 160.8,115.4 162,115.4 163.1,115.3 164.3,115.3 165.5,115.3 166.7,115.3 167.8,115.2 169,115.2 170.2,115.2 171.4,115.2 172.5,115.4 173.7,115.5 174.9,115.7 176.1,115.9 177.2,116.1 178.4,116.2 179.6,116.4 180.8,116.6 181.9,116.8 183.1,117 184.3,117.1 185.5,117.3 186.6,117.5 187.8,117.7 189,117.9 190.2,118 191.3,118.2 192.5,118.4"/><polyline points="64.5,70 65.7,71.3 66.8,72.8 68,74.6 69.2,76.7 70.4,79 71.5,81.2 72.7,83.4 73.9,85.7 75.1,87.9 76.2,90 77.4,92.1 78.6,94.1 79.8,96.1 80.9,98.1 82.1,100.2 83.3,102.4 84.5,104.4 85.6,106.3 86.8,108 88,109.5 89.2,111 90.3,112.3 91.5,113.4 92.7,114.4 93.9,115.2 95,115.8 96.2,116.3 97.4,116.8 98.6,117.1 99.7,117.4 100.9,117.7 102.1,118 103.3,118.2 104.4,118.3 105.6,118.4 106.8,118.6 107.9,118.7 109.1,118.8 110.3,118.8 111.5,118.9 112.6,118.9 113.8,118.9 115,118.8 116.2,118.8 117.3,118.8 118.5,118.8 119.7,118.8 120.9,118.8 122,118.8 123.2,118.9 124.4,118.9 125.6,118.9 126.7,118.9 127.9,118.9 129.1,119 130.3,119 131.4,119 132.6,119 133.8,119 135,119 136.1,119 137.3,119 138.5,119 139.7,119 140.8,119 142,119 143.2,119 144.4,119 145.5,119 146.7,119 147.9,119 149.1,119.1 150.2,119 151.4,118.9 152.6,118.8 153.7,118.7 154.9,118.6 156.1,118.5 157.3,118.4 158.4,118.3 159.6,118.2 160.8,118.1 162,117.9 163.1,117.8 164.3,117.7 165.5,117.6 166.7,117.5 167.8,117.4 169,117.3 170.2,117.2 171.4,117.1 172.5,117.2 173.7,117.3 174.9,117.3 176.1,117.4 177.2,117.5 178.4,117.5 179.6,117.6 180.8,117.7 181.9,117.8 183.1,117.8 184.3,117.9 185.5,118 186.6,118.1 187.8,118.2 189,118.2 190.2,118.3 191.3,118.4 192.5,118.5"/><polyline points="64.5,66.5 65.7,67.7 66.8,69 68,70.6 69.2,72.5 70.4,74.5 71.5,76.5 72.7,78.5 73.9,80.5 75.1,82.4 76.2,84.4 77.4,86.2 78.6,88 79.8,89.7 80.9,91.4 82.1,93.2 83.3,95 84.5,96.8 85.6,98.5 86.8,100 88,101.4 89.2,102.7 90.3,103.8 91.5,104.8 92.7,105.7 93.9,106.5 95,107 96.2,107.5 97.4,107.8 98.6,108.1 99.7,108.3 100.9,108.5 102.1,108.7 103.3,108.8 104.4,108.9 105.6,108.9 106.8,108.9 107.9,109.1 109.1,109.4 110.3,109.6 111.5,109.8 112.6,110 113.8,110.2 115,110.3 116.2,110.4 117.3,110.5 118.5,110.7 119.7,110.8 120.9,111 122,111.1 123.2,111.3 124.4,111.4 125.6,111.6 126.7,111.8 127.9,111.9 129.1,112 130.3,111.9 131.4,111.9 132.6,111.8 133.8,111.7 135,111.6 136.1,111.6 137.3,111.5 138.5,111.4 139.7,111.4 140.8,111.3 142,111.2 143.2,111.2 144.4,111.1 145.5,111 146.7,111 147.9,110.9 149.1,110.9 150.2,110.8 151.4,110.9 152.6,111 153.7,111.1 154.9,111.2 156.1,111.3 157.3,111.4 158.4,111.5 159.6,111.6 160.8,111.6 162,111.7 163.1,111.8 164.3,111.9 165.5,112 166.7,112.1 167.8,112.2 169,112.3 170.2,112.4 171.4,112.4 172.5,112.4 173.7,112.3 174.9,112.3 176.1,112.2 177.2,112.2 178.4,112.1 179.6,112.1 180.8,112 181.9,112 183.1,111.9 184.3,111.9 185.5,111.8 186.6,111.8 187.8,111.7 189,111.7 190.2,111.6 191.3,111.6 192.5,111.5"/><polyline points="64.5,67 65.7,68.4 66.8,70 68,72 69.2,74.3 70.4,76.6 71.5,79 72.7,81.3 73.9,83.5 75.1,85.8 76.2,87.9 77.4,89.9 78.6,91.9 79.8,94 80.9,96.2 82.1,98.2 83.3,100.2 84.5,101.9 85.6,103.5 86.8,105.1 88,106.5 89.2,107.7 90.3,108.7 91.5,109.5 92.7,110.1 93.9,110.7 95,111.1 96.2,111.5 97.4,111.9 98.6,112.2 99.7,112.4 100.9,112.7 102.1,112.9 103.3,113 104.4,113.2 105.6,113.3 106.8,113.4 107.9,113.4 109.1,113.4 110.3,113.3 111.5,113.2 112.6,113.1 113.8,113 115,113 116.2,113 117.3,112.9 118.5,112.9 119.7,112.8 120.9,112.8 122,112.8 123.2,112.7 124.4,112.7 125.6,112.6 126.7,112.6 127.9,112.6 129.1,112.6 130.3,112.6 131.4,112.6 132.6,112.7 133.8,112.7 135,112.7 136.1,112.8 137.3,112.8 138.5,112.8 139.7,112.9 140.8,112.9 142,112.9 143.2,113 144.4,113 145.5,113 146.7,113.1 147.9,113.1 149.1,113.1 150.2,113.1 151.4,113 152.6,112.9 153.7,112.8 154.9,112.7 156.1,112.6 157.3,112.5 158.4,112.4 159.6,112.3 160.8,112.2 162,112.1 163.1,112 164.3,111.9 165.5,111.8 166.7,111.7 167.8,111.6 169,111.5 170.2,111.4 171.4,111.3 172.5,111.4 173.7,111.6 174.9,111.7 176.1,111.8 177.2,112 178.4,112.1 179.6,112.3 180.8,112.4 181.9,112.5 183.1,112.7 184.3,112.8 185.5,113 186.6,113.1 187.8,113.3 189,113.4 190.2,113.6 191.3,113.7 192.5,113.8"/><polyline points="64.5,73.7 65.7,74.8 66.8,76 68,77.4 69.2,79.1 70.4,80.8 71.5,82.5 72.7,84.2 73.9,85.9 75.1,87.5 76.2,89.1 77.4,90.6 78.6,92 79.8,93.4 80.9,94.8 82.1,96.3 83.3,97.7 84.5,99 85.6,100.2 86.8,101.4 88,102.6 89.2,103.6 90.3,104.5 91.5,105.3 92.7,105.9 93.9,106.4 95,106.9 96.2,107.2 97.4,107.5 98.6,107.7 99.7,107.9 100.9,108.1 102.1,108.3 103.3,108.4 104.4,108.5 105.6,108.6 106.8,108.7 107.9,108.7 109.1,108.8 110.3,108.8 111.5,108.8 112.6,108.8 113.8,108.7 115,108.7 116.2,108.7 117.3,108.6 118.5,108.6 119.7,108.6 120.9,108.6 122,108.6 123.2,108.6 124.4,108.6 125.6,108.6 126.7,108.6 127.9,108.6 129.1,108.6 130.3,108.6 131.4,108.6 132.6,108.6 133.8,108.6 135,108.6 136.1,108.6 137.3,108.5 138.5,108.5 139.7,108.5 140.8,108.5 142,108.5 143.2,108.5 144.4,108.5 145.5,108.5 146.7,108.5 147.9,108.5 149.1,108.5 150.2,108.4 151.4,108.4 152.6,108.4 153.7,108.3 154.9,108.3 156.1,108.2 157.3,108.2 158.4,108.1 159.6,108.1 160.8,108.1 162,108 163.1,108 164.3,107.9 165.5,107.9 166.7,107.9 167.8,107.8 169,107.8 170.2,107.7 171.4,107.7 172.5,107.8 173.7,107.8 174.9,107.9 176.1,107.9 177.2,108 178.4,108 179.6,108.1 180.8,108.1 181.9,108.2 183.1,108.2 184.3,108.3 185.5,108.4 186.6,108.4 187.8,108.5 189,108.5 190.2,108.6 191.3,108.6 192.5,108.7"/><polyline points="64.5,74.5 65.7,75.7 66.8,77.2 68,79.2 69.2,81.2 70.4,83.3 71.5,85.4 72.7,87.4 73.9,89.3 75.1,91.1 76.2,92.8 77.4,94.6 78.6,96.4 79.8,98.2 80.9,99.8 82.1,101.2 83.3,102.6 84.5,103.7 85.6,104.7 86.8,105.5 88,106.2 89.2,106.7 90.3,107.1 91.5,107.4 92.7,107.6 93.9,107.8 95,108 96.2,108.1 97.4,108.2 98.6,108.2 99.7,108.3 100.9,108.3 102.1,108.3 103.3,108.3 104.4,108.2 105.6,108.2 106.8,108.1 107.9,108.2 109.1,108.4 110.3,108.5 111.5,108.7 112.6,108.9 113.8,109 115,109.2 116.2,109.4 117.3,109.5 118.5,109.7 119.7,109.9 120.9,110.1 122,110.2 123.2,110.4 124.4,110.6 125.6,110.8 126.7,110.9 127.9,111.1 129.1,111.1 130.3,111.1 131.4,111 132.6,110.9 133.8,110.8 135,110.7 136.1,110.7 137.3,110.6 138.5,110.5 139.7,110.4 140.8,110.3 142,110.2 143.2,110.2 144.4,110.1 145.5,110 146.7,109.9 147.9,109.8 149.1,109.8 150.2,109.7 151.4,109.7 152.6,109.7 153.7,109.7 154.9,109.7 156.1,109.7 157.3,109.7 158.4,109.7 159.6,109.7 160.8,109.7 162,109.7 163.1,109.7 164.3,109.7 165.5,109.7 166.7,109.7 167.8,109.7 169,109.7 170.2,109.7 171.4,109.8 172.5,109.9 173.7,110 174.9,110.1 176.1,110.2 177.2,110.3 178.4,110.4 179.6,110.5 180.8,110.6 181.9,110.7 183.1,110.8 184.3,110.9 185.5,110.9 186.6,111 187.8,111.1 189,111.2 190.2,111.3 191.3,111.4 192.5,111.4"/><polyline points="64.5,74.1 65.7,75.2 66.8,76.5 68,78.2 69.2,80.1 70.4,82 71.5,83.9 72.7,85.8 73.9,87.7 75.1,89.6 76.2,91.3 77.4,93 78.6,94.8 79.8,96.6 80.9,98.4 82.1,100.2 83.3,101.7 84.5,103.2 85.6,104.6 86.8,105.7 88,106.6 89.2,107.4 90.3,107.9 91.5,108.3 92.7,108.7 93.9,108.9 95,109.1 96.2,109.2 97.4,109.3 98.6,109.4 99.7,109.4 100.9,109.4 102.1,109.4 103.3,109.4 104.4,109.3 105.6,109.2 106.8,109.1 107.9,109.2 109.1,109.3 110.3,109.5 111.5,109.6 112.6,109.8 113.8,110 115,110.1 116.2,110.3 117.3,110.5 118.5,110.7 119.7,110.9 120.9,111 122,111.2 123.2,111.4 124.4,111.6 125.6,111.8 126.7,111.9 127.9,112.1 129.1,112.2 130.3,112.1 131.4,112 132.6,111.9 133.8,111.8 135,111.7 136.1,111.6 137.3,111.5 138.5,111.4 139.7,111.4 140.8,111.3 142,111.2 143.2,111.1 144.4,111 145.5,110.9 146.7,110.8 147.9,110.7 149.1,110.6 150.2,110.6 151.4,110.6 152.6,110.6 153.7,110.6 154.9,110.6 156.1,110.6 157.3,110.6 158.4,110.7 159.6,110.7 160.8,110.7 162,110.7 163.1,110.7 164.3,110.7 165.5,110.7 166.7,110.8 167.8,110.8 169,110.8 170.2,110.8 171.4,110.8 172.5,110.8 173.7,110.8 174.9,110.8 176.1,110.8 177.2,110.7 178.4,110.7 179.6,110.7 180.8,110.7 181.9,110.7 183.1,110.7 184.3,110.7 185.5,110.6 186.6,110.6 187.8,110.6 189,110.6 190.2,110.6 191.3,110.6 192.5,110.6"/><polyline points="64.5,75.1 65.7,76.2 66.8,77.6 68,79.4 69.2,81.3 70.4,83.3 71.5,85.4 72.7,87.4 73.9,89.4 75.1,91.3 76.2,93.2 77.4,95 78.6,96.7 79.8,98.6 80.9,100.6 82.1,102.4 83.3,104.2 84.5,105.8 85.6,107.3 86.8,108.6 88,109.8 89.2,110.8 90.3,111.6 91.5,112.2 92.7,112.8 93.9,113.2 95,113.5 96.2,113.8 97.4,114 98.6,114.2 99.7,114.4 100.9,114.5 102.1,114.6 103.3,114.7 104.4,114.7 105.6,114.8 106.8,114.8 107.9,114.8 109.1,114.7 110.3,114.6 111.5,114.5 112.6,114.4 113.8,114.3 115,114.2 116.2,114.1 117.3,114.1 118.5,114 119.7,114 120.9,113.9 122,113.8 123.2,113.8 124.4,113.7 125.6,113.7 126.7,113.6 127.9,113.5 129.1,113.6 130.3,113.7 131.4,113.8 132.6,113.9 133.8,114.1 135,114.2 136.1,114.3 137.3,114.5 138.5,114.6 139.7,114.7 140.8,114.8 142,115 143.2,115.1 144.4,115.2 145.5,115.3 146.7,115.5 147.9,115.6 149.1,115.7 150.2,115.8 151.4,115.7 152.6,115.6 153.7,115.6 154.9,115.5 156.1,115.4 157.3,115.4 158.4,115.3 159.6,115.2 160.8,115.1 162,115.1 163.1,115 164.3,114.9 165.5,114.9 166.7,114.8 167.8,114.7 169,114.7 170.2,114.6 171.4,114.5 172.5,114.6 173.7,114.6 174.9,114.6 176.1,114.6 177.2,114.7 178.4,114.7 179.6,114.7 180.8,114.7 181.9,114.8 183.1,114.8 184.3,114.8 185.5,114.9 186.6,114.9 187.8,114.9 189,114.9 190.2,115 191.3,115 192.5,115"/><polyline points="64.5,72.1 65.7,74 66.8,76.4 68,79.5 69.2,82.6 70.4,85.8 71.5,88.8 72.7,91.9 73.9,94.7 75.1,97.3 76.2,100.2 77.4,103.1 78.6,105.7 79.8,108.1 80.9,110.3 82.1,112.1 83.3,113.6 84.5,114.7 85.6,115.6 86.8,116.2 88,116.6 89.2,116.9 90.3,117.2 91.5,117.4 92.7,117.5 93.9,117.6 95,117.7 96.2,117.7 97.4,117.7 98.6,117.6 99.7,117.4 100.9,117.3 102.1,117.3 103.3,117.2 104.4,117.2 105.6,117.1 106.8,117.1 107.9,117.1 109.1,117.2 110.3,117.3 111.5,117.3 112.6,117.4 113.8,117.5 115,117.5 116.2,117.6 117.3,117.7 118.5,117.8 119.7,117.8 120.9,117.9 122,118 123.2,118 124.4,118.1 125.6,118.2 126.7,118.3 127.9,118.3 129.1,118.3 130.3,118.3 131.4,118.2 132.6,118.1 133.8,118 135,118 136.1,117.9 137.3,117.8 138.5,117.8 139.7,117.7 140.8,117.6 142,117.5 143.2,117.5 144.4,117.4 145.5,117.3 146.7,117.3 147.9,117.2 149.1,117.2 150.2,117.2 151.4,117.3 152.6,117.4 153.7,117.6 154.9,117.7 156.1,117.9 157.3,118 158.4,118.2 159.6,118.3 160.8,118.4 162,118.6 163.1,118.7 164.3,118.9 165.5,119 166.7,119.1 167.8,119.3 169,119.4 170.2,119.6 171.4,119.6 172.5,119.6 173.7,119.6 174.9,119.5 176.1,119.5 177.2,119.5 178.4,119.4 179.6,119.4 180.8,119.3 181.9,119.3 183.1,119.3 184.3,119.2 185.5,119.2 186.6,119.1 187.8,119.1 189,119.1 190.2,119 191.3,119 192.5,118.9"/><polyline points="64.5,72.1 65.7,73.6 66.8,75.4 68,77.7 69.2,80.1 70.4,82.5 71.5,84.9 72.7,87.2 73.9,89.4 75.1,91.5 76.2,93.5 77.4,95.6 78.6,97.8 79.8,99.8 80.9,101.6 82.1,103.3 83.3,104.7 84.5,105.9 85.6,106.9 86.8,107.7 88,108.4 89.2,108.9 90.3,109.4 91.5,109.7 92.7,110.1 93.9,110.3 95,110.5 96.2,110.7 97.4,110.9 98.6,111 99.7,111.1 100.9,111.2 102.1,111.2 103.3,111.3 104.4,111.3 105.6,111.4 106.8,111.4 107.9,111.5 109.1,111.6 110.3,111.7 111.5,111.7 112.6,111.8 113.8,111.9 115,112 116.2,112.1 117.3,112.1 118.5,112.2 119.7,112.3 120.9,112.4 122,112.5 123.2,112.6 124.4,112.6 125.6,112.7 126.7,112.8 127.9,112.9 129.1,112.8 130.3,112.7 131.4,112.5 132.6,112.3 133.8,112.1 135,112 136.1,111.8 137.3,111.6 138.5,111.4 139.7,111.3 140.8,111.1 142,110.9 143.2,110.7 144.4,110.6 145.5,110.4 146.7,110.2 147.9,110 149.1,109.9 150.2,109.8 151.4,109.8 152.6,109.8 153.7,109.8 154.9,109.8 156.1,109.8 157.3,109.8 158.4,109.8 159.6,109.8 160.8,109.8 162,109.8 163.1,109.8 164.3,109.8 165.5,109.8 166.7,109.8 167.8,109.8 169,109.8 170.2,109.8 171.4,109.8 172.5,109.8 173.7,109.8 174.9,109.8 176.1,109.8 177.2,109.8 178.4,109.8 179.6,109.7 180.8,109.7 181.9,109.7 183.1,109.6 184.3,109.6 185.5,109.6 186.6,109.5 187.8,109.5 189,109.5 190.2,109.4 191.3,109.4 192.5,109.3"/><polyline points="64.5,70.4 65.7,71.6 66.8,72.9 68,74.5 69.2,76.3 70.4,78.2 71.5,80.2 72.7,82.1 73.9,84.1 75.1,86 76.2,87.9 77.4,89.7 78.6,91.4 79.8,93.1 80.9,94.8 82.1,96.6 83.3,98.5 84.5,100.2 85.6,101.8 86.8,103.3 88,104.8 89.2,106.2 90.3,107.5 91.5,108.6 92.7,109.5 93.9,110.3 95,111 96.2,111.6 97.4,112.1 98.6,112.5 99.7,112.9 100.9,113.2 102.1,113.6 103.3,113.9 104.4,114.1 105.6,114.3 106.8,114.5 107.9,114.6 109.1,114.6 110.3,114.6 111.5,114.6 112.6,114.5 113.8,114.5 115,114.4 116.2,114.3 117.3,114.2 118.5,114.1 119.7,114 120.9,114 122,113.9 123.2,113.9 124.4,113.8 125.6,113.8 126.7,113.7 127.9,113.7 129.1,113.7 130.3,113.7 131.4,113.7 132.6,113.8 133.8,113.8 135,113.9 136.1,113.9 137.3,114 138.5,114 139.7,114.1 140.8,114.1 142,114.2 143.2,114.2 144.4,114.3 145.5,114.3 146.7,114.4 147.9,114.4 149.1,114.5 150.2,114.5 151.4,114.6 152.6,114.6 153.7,114.7 154.9,114.8 156.1,114.8 157.3,114.9 158.4,115 159.6,115 160.8,115.1 162,115.2 163.1,115.2 164.3,115.3 165.5,115.3 166.7,115.4 167.8,115.5 169,115.5 170.2,115.6 171.4,115.7 172.5,115.6 173.7,115.6 174.9,115.6 176.1,115.5 177.2,115.5 178.4,115.5 179.6,115.5 180.8,115.4 181.9,115.4 183.1,115.4 184.3,115.4 185.5,115.3 186.6,115.3 187.8,115.3 189,115.3 190.2,115.2 191.3,115.2 192.5,115.2"/><polyline points="64.5,64.8 65.7,66.1 66.8,67.5 68,69.3 69.2,71.3 70.4,73.4 71.5,75.5 72.7,77.6 73.9,79.7 75.1,81.8 76.2,83.8 77.4,85.6 78.6,87.5 79.8,89.2 80.9,91.1 82.1,93.1 83.3,95 84.5,96.7 85.6,98.4 86.8,99.9 88,101.5 89.2,102.8 90.3,104 91.5,105 92.7,105.9 93.9,106.6 95,107.2 96.2,107.7 97.4,108.2 98.6,108.5 99.7,108.9 100.9,109.2 102.1,109.4 103.3,109.7 104.4,109.9 105.6,110.1 106.8,110.2 107.9,110.3 109.1,110.4 110.3,110.5 111.5,110.5 112.6,110.5 113.8,110.5 115,110.4 116.2,110.4 117.3,110.4 118.5,110.4 119.7,110.5 120.9,110.5 122,110.5 123.2,110.5 124.4,110.6 125.6,110.6 126.7,110.6 127.9,110.7 129.1,110.6 130.3,110.5 131.4,110.4 132.6,110.2 133.8,110.1 135,110 136.1,109.9 137.3,109.7 138.5,109.6 139.7,109.5 140.8,109.4 142,109.2 143.2,109.1 144.4,109 145.5,108.9 146.7,108.8 147.9,108.6 149.1,108.5 150.2,108.5 151.4,108.6 152.6,108.7 153.7,108.8 154.9,108.9 156.1,108.9 157.3,109 158.4,109.1 159.6,109.2 160.8,109.3 162,109.4 163.1,109.5 164.3,109.6 165.5,109.7 166.7,109.8 167.8,109.9 169,110 170.2,110.1 171.4,110.2 172.5,110.2 173.7,110.2 174.9,110.2 176.1,110.2 177.2,110.2 178.4,110.2 179.6,110.2 180.8,110.2 181.9,110.1 183.1,110.1 184.3,110.1 185.5,110.1 186.6,110.1 187.8,110.1 189,110.1 190.2,110.1 191.3,110.1 192.5,110.1"/><polyline points="64.5,68.2 65.7,69.4 66.8,70.8 68,72.4 69.2,74.3 70.4,76.3 71.5,78.4 72.7,80.5 73.9,82.6 75.1,84.6 76.2,86.7 77.4,88.6 78.6,90.6 79.8,92.4 80.9,94.2 82.1,96 83.3,98 84.5,99.9 85.6,101.8 86.8,103.7 88,105.4 89.2,107.1 90.3,108.6 91.5,110 92.7,111.4 93.9,112.5 95,113.6 96.2,114.5 97.4,115.2 98.6,115.9 99.7,116.4 100.9,116.9 102.1,117.3 103.3,117.7 104.4,118 105.6,118.4 106.8,118.6 107.9,118.8 109.1,118.9 110.3,119 111.5,119 112.6,119.1 113.8,119.1 115,119.1 116.2,119.1 117.3,119 118.5,119 119.7,118.9 120.9,118.8 122,118.7 123.2,118.7 124.4,118.6 125.6,118.6 126.7,118.5 127.9,118.5 129.1,118.5 130.3,118.4 131.4,118.4 132.6,118.3 133.8,118.3 135,118.2 136.1,118.2 137.3,118.2 138.5,118.1 139.7,118.1 140.8,118 142,118 143.2,117.9 144.4,117.9 145.5,117.9 146.7,117.8 147.9,117.8 149.1,117.7 150.2,117.8 151.4,117.9 152.6,118 153.7,118.1 154.9,118.2 156.1,118.4 157.3,118.5 158.4,118.6 159.6,118.7 160.8,118.9 162,119 163.1,119.1 164.3,119.2 165.5,119.4 166.7,119.5 167.8,119.6 169,119.7 170.2,119.9 171.4,120 172.5,120 173.7,120 174.9,120.1 176.1,120.1 177.2,120.1 178.4,120.1 179.6,120.2 180.8,120.2 181.9,120.2 183.1,120.3 184.3,120.3 185.5,120.3 186.6,120.4 187.8,120.4 189,120.4 190.2,120.5 191.3,120.5 192.5,120.5"/><polyline points="64.5,74.4 65.7,75.5 66.8,76.8 68,78.4 69.2,80.2 70.4,82 71.5,83.9 72.7,85.7 73.9,87.5 75.1,89.3 76.2,91 77.4,92.7 78.6,94.2 79.8,95.8 80.9,97.4 82.1,99.1 83.3,100.7 84.5,102.2 85.6,103.6 86.8,104.8 88,105.9 89.2,106.9 90.3,107.6 91.5,108.3 92.7,108.8 93.9,109.2 95,109.5 96.2,109.7 97.4,109.8 98.6,109.9 99.7,110 100.9,110 102.1,110 103.3,110 104.4,109.9 105.6,109.8 106.8,109.7 107.9,109.8 109.1,110.1 110.3,110.3 111.5,110.4 112.6,110.6 113.8,110.7 115,110.9 116.2,111 117.3,111.2 118.5,111.4 119.7,111.6 120.9,111.8 122,112 123.2,112.1 124.4,112.3 125.6,112.5 126.7,112.7 127.9,112.9 129.1,113 130.3,113 131.4,112.9 132.6,112.9 133.8,112.9 135,112.9 136.1,112.9 137.3,112.9 138.5,112.8 139.7,112.8 140.8,112.8 142,112.8 143.2,112.8 144.4,112.8 145.5,112.8 146.7,112.7 147.9,112.7 149.1,112.7 150.2,112.7 151.4,112.6 152.6,112.5 153.7,112.5 154.9,112.4 156.1,112.3 157.3,112.2 158.4,112.2 159.6,112.1 160.8,112 162,112 163.1,111.9 164.3,111.8 165.5,111.7 166.7,111.7 167.8,111.6 169,111.5 170.2,111.5 171.4,111.4 172.5,111.5 173.7,111.6 174.9,111.6 176.1,111.7 177.2,111.8 178.4,111.9 179.6,112 180.8,112 181.9,112.1 183.1,112.2 184.3,112.3 185.5,112.4 186.6,112.4 187.8,112.5 189,112.6 190.2,112.7 191.3,112.8 192.5,112.9"/><polyline points="64.5,63.4 65.7,64.6 66.8,65.9 68,67.4 69.2,69.4 70.4,71.4 71.5,73.5 72.7,75.6 73.9,77.7 75.1,79.8 76.2,81.9 77.4,84 78.6,86 79.8,88 80.9,89.8 82.1,91.7 83.3,93.6 84.5,95.6 85.6,97.6 86.8,99.6 88,101.4 89.2,103 90.3,104.6 91.5,106 92.7,107.4 93.9,108.6 95,109.8 96.2,110.7 97.4,111.6 98.6,112.3 99.7,112.9 100.9,113.3 102.1,113.7 103.3,114 104.4,114.2 105.6,114.4 106.8,114.6 107.9,114.9 109.1,115.2 110.3,115.5 111.5,115.7 112.6,116 113.8,116.2 115,116.4 116.2,116.6 117.3,116.8 118.5,116.9 119.7,117.1 120.9,117.2 122,117.3 123.2,117.4 124.4,117.4 125.6,117.5 126.7,117.6 127.9,117.7 129.1,117.7 130.3,117.8 131.4,117.8 132.6,117.8 133.8,117.8 135,117.8 136.1,117.8 137.3,117.8 138.5,117.9 139.7,117.9 140.8,117.9 142,117.9 143.2,117.9 144.4,117.9 145.5,118 146.7,118 147.9,118 149.1,118 150.2,118 151.4,117.9 152.6,117.8 153.7,117.6 154.9,117.5 156.1,117.4 157.3,117.3 158.4,117.2 159.6,117.1 160.8,116.9 162,116.8 163.1,116.7 164.3,116.6 165.5,116.5 166.7,116.4 167.8,116.3 169,116.1 170.2,116 171.4,115.9 172.5,116 173.7,116 174.9,116.1 176.1,116.1 177.2,116.1 178.4,116.2 179.6,116.2 180.8,116.3 181.9,116.3 183.1,116.4 184.3,116.4 185.5,116.5 186.6,116.5 187.8,116.5 189,116.6 190.2,116.6 191.3,116.7 192.5,116.7"/><polyline points="64.5,68.7 65.7,70.1 66.8,71.5 68,73.2 69.2,75.3 70.4,77.5 71.5,79.8 72.7,82 73.9,84.3 75.1,86.4 76.2,88.6 77.4,90.8 78.6,92.8 79.8,94.8 80.9,96.7 82.1,98.6 83.3,100.6 84.5,102.6 85.6,104.6 86.8,106.6 88,108.5 89.2,110.2 90.3,111.9 91.5,113.4 92.7,114.8 93.9,116.1 95,117.2 96.2,118.3 97.4,119.1 98.6,119.7 99.7,120.3 100.9,120.8 102.1,121.3 103.3,121.6 104.4,122 105.6,122.3 106.8,122.6 107.9,122.7 109.1,122.8 110.3,122.8 111.5,122.8 112.6,122.8 113.8,122.8 115,122.8 116.2,122.8 117.3,122.7 118.5,122.6 119.7,122.5 120.9,122.3 122,122.2 123.2,122.1 124.4,122 125.6,121.8 126.7,121.8 127.9,121.7 129.1,121.6 130.3,121.7 131.4,121.7 132.6,121.7 133.8,121.7 135,121.8 136.1,121.8 137.3,121.8 138.5,121.8 139.7,121.9 140.8,121.9 142,121.9 143.2,122 144.4,122 145.5,122 146.7,122 147.9,122.1 149.1,122.1 150.2,122.1 151.4,122.2 152.6,122.2 153.7,122.3 154.9,122.3 156.1,122.4 157.3,122.4 158.4,122.5 159.6,122.5 160.8,122.5 162,122.6 163.1,122.6 164.3,122.7 165.5,122.7 166.7,122.8 167.8,122.8 169,122.9 170.2,122.9 171.4,123 172.5,123.1 173.7,123.2 174.9,123.3 176.1,123.4 177.2,123.5 178.4,123.6 179.6,123.7 180.8,123.8 181.9,123.9 183.1,124 184.3,124.1 185.5,124.2 186.6,124.3 187.8,124.5 189,124.6 190.2,124.7 191.3,124.8 192.5,124.9"/><polyline points="64.5,69.1 65.7,70.5 66.8,72.1 68,74.1 69.2,76.4 70.4,78.7 71.5,81.1 72.7,83.4 73.9,85.6 75.1,87.8 76.2,89.9 77.4,91.9 78.6,93.8 79.8,95.9 80.9,98.1 82.1,100.1 83.3,101.9 84.5,103.6 85.6,105.1 86.8,106.6 88,108 89.2,109.2 90.3,110.1 91.5,110.9 92.7,111.5 93.9,112.1 95,112.5 96.2,112.9 97.4,113.2 98.6,113.6 99.7,113.8 100.9,114 102.1,114.2 103.3,114.4 104.4,114.6 105.6,114.7 106.8,114.8 107.9,114.8 109.1,114.8 110.3,114.7 111.5,114.7 112.6,114.7 113.8,114.6 115,114.7 116.2,114.7 117.3,114.7 118.5,114.7 119.7,114.7 120.9,114.7 122,114.7 123.2,114.7 124.4,114.7 125.6,114.7 126.7,114.7 127.9,114.8 129.1,114.7 130.3,114.7 131.4,114.7 132.6,114.6 133.8,114.6 135,114.6 136.1,114.5 137.3,114.5 138.5,114.4 139.7,114.4 140.8,114.4 142,114.3 143.2,114.3 144.4,114.3 145.5,114.2 146.7,114.2 147.9,114.2 149.1,114.1 150.2,114.1 151.4,114.3 152.6,114.4 153.7,114.5 154.9,114.6 156.1,114.7 157.3,114.8 158.4,114.9 159.6,115 160.8,115.1 162,115.3 163.1,115.4 164.3,115.5 165.5,115.6 166.7,115.7 167.8,115.8 169,116 170.2,116.1 171.4,116.2 172.5,116.1 173.7,116 174.9,115.9 176.1,115.9 177.2,115.8 178.4,115.7 179.6,115.6 180.8,115.6 181.9,115.5 183.1,115.4 184.3,115.3 185.5,115.3 186.6,115.2 187.8,115.1 189,115 190.2,115 191.3,114.9 192.5,114.8"/><polyline points="64.5,70 65.7,71.3 66.8,72.7 68,74.4 69.2,76.4 70.4,78.6 71.5,80.7 72.7,82.8 73.9,85 75.1,87 76.2,89.1 77.4,91.1 78.6,92.9 79.8,94.7 80.9,96.5 82.1,98.4 83.3,100.4 84.5,102.3 85.6,104.1 86.8,105.7 88,107.2 89.2,108.6 90.3,109.9 91.5,111 92.7,111.9 93.9,112.8 95,113.4 96.2,113.9 97.4,114.3 98.6,114.7 99.7,114.9 100.9,115.1 102.1,115.3 103.3,115.5 104.4,115.6 105.6,115.6 106.8,115.7 107.9,115.8 109.1,115.9 110.3,116 111.5,116 112.6,116.1 113.8,116.1 115,116.1 116.2,116.1 117.3,116 118.5,116 119.7,116 120.9,116 122,116 123.2,116 124.4,116 125.6,116.1 126.7,116.1 127.9,116.1 129.1,116.1 130.3,116.2 131.4,116.2 132.6,116.3 133.8,116.3 135,116.3 136.1,116.4 137.3,116.4 138.5,116.5 139.7,116.5 140.8,116.6 142,116.6 143.2,116.7 144.4,116.7 145.5,116.8 146.7,116.8 147.9,116.9 149.1,116.9 150.2,117 151.4,117 152.6,117 153.7,117 154.9,117 156.1,117 157.3,117 158.4,117.1 159.6,117.1 160.8,117.1 162,117.1 163.1,117.1 164.3,117.1 165.5,117.2 166.7,117.2 167.8,117.2 169,117.2 170.2,117.2 171.4,117.2 172.5,117.3 173.7,117.3 174.9,117.3 176.1,117.3 177.2,117.4 178.4,117.4 179.6,117.4 180.8,117.4 181.9,117.5 183.1,117.5 184.3,117.5 185.5,117.5 186.6,117.6 187.8,117.6 189,117.6 190.2,117.7 191.3,117.7 192.5,117.7"/><polyline points="64.5,71.3 65.7,72.6 66.8,74 68,75.7 69.2,77.7 70.4,79.8 71.5,82 72.7,84.1 73.9,86.2 75.1,88.2 76.2,90.3 77.4,92.2 78.6,94.1 79.8,95.9 80.9,97.7 82.1,99.6 83.3,101.6 84.5,103.5 85.6,105.3 86.8,106.9 88,108.5 89.2,110 90.3,111.3 91.5,112.5 92.7,113.6 93.9,114.5 95,115.2 96.2,115.8 97.4,116.3 98.6,116.7 99.7,117.1 100.9,117.4 102.1,117.6 103.3,117.9 104.4,118.1 105.6,118.3 106.8,118.4 107.9,118.5 109.1,118.6 110.3,118.7 111.5,118.8 112.6,118.8 113.8,118.8 115,118.8 116.2,118.8 117.3,118.8 118.5,118.7 119.7,118.7 120.9,118.7 122,118.7 123.2,118.7 124.4,118.7 125.6,118.8 126.7,118.8 127.9,118.8 129.1,118.7 130.3,118.6 131.4,118.5 132.6,118.4 133.8,118.3 135,118.2 136.1,118.1 137.3,118 138.5,117.8 139.7,117.7 140.8,117.6 142,117.5 143.2,117.4 144.4,117.3 145.5,117.2 146.7,117.1 147.9,117 149.1,116.9 150.2,116.8 151.4,116.9 152.6,117 153.7,117 154.9,117.1 156.1,117.2 157.3,117.2 158.4,117.3 159.6,117.4 160.8,117.5 162,117.5 163.1,117.6 164.3,117.7 165.5,117.8 166.7,117.8 167.8,117.9 169,118 170.2,118.1 171.4,118.1 172.5,118.1 173.7,118.1 174.9,118.1 176.1,118.1 177.2,118.1 178.4,118.1 179.6,118.1 180.8,118.1 181.9,118.1 183.1,118.1 184.3,118.1 185.5,118.1 186.6,118.1 187.8,118.1 189,118.1 190.2,118.1 191.3,118.1 192.5,118.1"/><polyline points="64.5,74.1 65.7,75.8 66.8,78 68,80.8 69.2,83.5 70.4,86.3 71.5,89 72.7,91.5 73.9,93.9 75.1,96.4 76.2,99 77.4,101.3 78.6,103.4 79.8,105.2 80.9,106.8 82.1,108 83.3,108.8 84.5,109.4 85.6,109.9 86.8,110.3 88,110.7 89.2,111 90.3,111.3 91.5,111.5 92.7,111.7 93.9,111.9 95,112 96.2,112 97.4,112.1 98.6,112.2 99.7,112.3 100.9,112.4 102.1,112.6 103.3,112.7 104.4,112.8 105.6,113 106.8,113.1 107.9,113.1 109.1,113.1 110.3,113.1 111.5,113 112.6,113 113.8,113 115,113 116.2,113 117.3,112.9 118.5,112.9 119.7,112.9 120.9,112.9 122,112.9 123.2,112.9 124.4,112.8 125.6,112.8 126.7,112.8 127.9,112.8 129.1,112.8 130.3,112.9 131.4,113 132.6,113 133.8,113.1 135,113.2 136.1,113.3 137.3,113.3 138.5,113.4 139.7,113.5 140.8,113.6 142,113.7 143.2,113.7 144.4,113.8 145.5,113.9 146.7,114 147.9,114.1 149.1,114.2 150.2,114.2 151.4,114.2 152.6,114.1 153.7,114.1 154.9,114 156.1,113.9 157.3,113.9 158.4,113.8 159.6,113.8 160.8,113.7 162,113.6 163.1,113.5 164.3,113.4 165.5,113.4 166.7,113.3 167.8,113.2 169,113.1 170.2,113 171.4,112.9 172.5,113 173.7,113 174.9,113 176.1,113 177.2,113 178.4,113 179.6,113 180.8,113 181.9,113 183.1,113 184.3,113.1 185.5,113.1 186.6,113.1 187.8,113.1 189,113.1 190.2,113.1 191.3,113.1 192.5,113.1"/><polyline points="64.5,62.3 65.7,63.7 66.8,65.2 68,67.1 69.2,69.2 70.4,71.5 71.5,73.8 72.7,76 73.9,78.3 75.1,80.5 76.2,82.7 77.4,84.8 78.6,86.8 79.8,88.7 80.9,90.6 82.1,92.6 83.3,94.6 84.5,96.6 85.6,98.5 86.8,100.4 88,102.1 89.2,103.8 90.3,105.4 91.5,106.8 92.7,108.1 93.9,109.2 95,110.1 96.2,110.9 97.4,111.5 98.6,112.1 99.7,112.6 100.9,113.1 102.1,113.5 103.3,113.9 104.4,114.2 105.6,114.5 106.8,114.8 107.9,114.8 109.1,114.7 110.3,114.6 111.5,114.5 112.6,114.4 113.8,114.2 115,114 116.2,113.7 117.3,113.5 118.5,113.2 119.7,113 120.9,112.8 122,112.6 123.2,112.4 124.4,112.2 125.6,112 126.7,111.8 127.9,111.6 129.1,111.6 130.3,111.8 131.4,112 132.6,112.3 133.8,112.5 135,112.7 136.1,112.9 137.3,113.1 138.5,113.4 139.7,113.6 140.8,113.8 142,114 143.2,114.2 144.4,114.5 145.5,114.7 146.7,114.9 147.9,115.1 149.1,115.3 150.2,115.5 151.4,115.4 152.6,115.4 153.7,115.4 154.9,115.3 156.1,115.3 157.3,115.3 158.4,115.2 159.6,115.2 160.8,115.2 162,115.1 163.1,115.1 164.3,115.1 165.5,115 166.7,115 167.8,115 169,114.9 170.2,114.9 171.4,114.9 172.5,115 173.7,115 174.9,115.1 176.1,115.1 177.2,115.2 178.4,115.2 179.6,115.3 180.8,115.4 181.9,115.4 183.1,115.5 184.3,115.5 185.5,115.6 186.6,115.7 187.8,115.7 189,115.8 190.2,115.9 191.3,115.9 192.5,116"/><polyline points="64.5,69.7 65.7,71.1 66.8,72.7 68,74.9 69.2,77.1 70.4,79.4 71.5,81.7 72.7,84 73.9,86.2 75.1,88.2 76.2,90.2 77.4,92.2 78.6,94.3 79.8,96.4 80.9,98.3 82.1,100.1 83.3,101.7 84.5,103.1 85.6,104.3 86.8,105.4 88,106.3 89.2,106.9 90.3,107.5 91.5,107.9 92.7,108.2 93.9,108.5 95,108.8 96.2,109 97.4,109.2 98.6,109.3 99.7,109.4 100.9,109.5 102.1,109.6 103.3,109.6 104.4,109.6 105.6,109.6 106.8,109.6 107.9,109.6 109.1,109.6 110.3,109.6 111.5,109.6 112.6,109.6 113.8,109.6 115,109.6 116.2,109.6 117.3,109.6 118.5,109.6 119.7,109.6 120.9,109.6 122,109.6 123.2,109.6 124.4,109.6 125.6,109.6 126.7,109.6 127.9,109.6 129.1,109.5 130.3,109.5 131.4,109.4 132.6,109.4 133.8,109.4 135,109.3 136.1,109.3 137.3,109.2 138.5,109.2 139.7,109.1 140.8,109.1 142,109 143.2,109 144.4,109 145.5,108.9 146.7,108.9 147.9,108.8 149.1,108.8 150.2,108.8 151.4,109 152.6,109.2 153.7,109.4 154.9,109.6 156.1,109.8 157.3,110 158.4,110.2 159.6,110.5 160.8,110.7 162,110.9 163.1,111.1 164.3,111.3 165.5,111.5 166.7,111.7 167.8,111.9 169,112.1 170.2,112.4 171.4,112.5 172.5,112.5 173.7,112.5 174.9,112.5 176.1,112.5 177.2,112.4 178.4,112.4 179.6,112.4 180.8,112.4 181.9,112.4 183.1,112.3 184.3,112.3 185.5,112.3 186.6,112.3 187.8,112.3 189,112.2 190.2,112.2 191.3,112.1 192.5,112.1"/><polyline points="64.5,71.1 65.7,72.6 66.8,74.5 68,76.9 69.2,79.5 70.4,82.1 71.5,84.7 72.7,87.3 73.9,89.8 75.1,92.2 76.2,94.5 77.4,96.8 78.6,99.3 79.8,101.7 80.9,103.9 82.1,105.9 83.3,107.8 84.5,109.5 85.6,110.9 86.8,112.1 88,113.1 89.2,113.8 90.3,114.3 91.5,114.8 92.7,115.1 93.9,115.4 95,115.7 96.2,115.9 97.4,116 98.6,116.1 99.7,116.2 100.9,116.3 102.1,116.3 103.3,116.3 104.4,116.3 105.6,116.2 106.8,116.2 107.9,116.2 109.1,116.2 110.3,116.2 111.5,116.2 112.6,116.2 113.8,116.3 115,116.3 116.2,116.3 117.3,116.3 118.5,116.3 119.7,116.4 120.9,116.4 122,116.4 123.2,116.4 124.4,116.4 125.6,116.5 126.7,116.5 127.9,116.5 129.1,116.5 130.3,116.5 131.4,116.4 132.6,116.4 133.8,116.4 135,116.3 136.1,116.3 137.3,116.3 138.5,116.2 139.7,116.2 140.8,116.2 142,116.1 143.2,116.1 144.4,116.1 145.5,116 146.7,116 147.9,116 149.1,115.9 150.2,115.9 151.4,115.9 152.6,115.9 153.7,115.9 154.9,116 156.1,116 157.3,116 158.4,116 159.6,116 160.8,116 162,116 163.1,116.1 164.3,116.1 165.5,116.1 166.7,116.1 167.8,116.1 169,116.2 170.2,116.2 171.4,116.2 172.5,116.2 173.7,116.2 174.9,116.2 176.1,116.2 177.2,116.2 178.4,116.2 179.6,116.2 180.8,116.1 181.9,116.1 183.1,116.1 184.3,116.1 185.5,116.1 186.6,116.1 187.8,116.1 189,116.1 190.2,116 191.3,116 192.5,116"/><polyline points="64.5,69.4 65.7,70.7 66.8,72.2 68,74.1 69.2,76.2 70.4,78.5 71.5,80.7 72.7,83 73.9,85.3 75.1,87.5 76.2,89.7 77.4,91.8 78.6,93.7 79.8,95.7 80.9,97.7 82.1,99.8 83.3,101.9 84.5,104 85.6,105.8 86.8,107.5 88,109.2 89.2,110.7 90.3,112 91.5,113.2 92.7,114.3 93.9,115.1 95,115.8 96.2,116.3 97.4,116.8 98.6,117.2 99.7,117.5 100.9,117.8 102.1,118.1 103.3,118.3 104.4,118.5 105.6,118.7 106.8,118.8 107.9,118.9 109.1,118.8 110.3,118.8 111.5,118.8 112.6,118.7 113.8,118.6 115,118.4 116.2,118.3 117.3,118.2 118.5,118 119.7,117.9 120.9,117.9 122,117.8 123.2,117.7 124.4,117.6 125.6,117.5 126.7,117.4 127.9,117.4 129.1,117.4 130.3,117.4 131.4,117.5 132.6,117.6 133.8,117.7 135,117.8 136.1,117.8 137.3,117.9 138.5,118 139.7,118.1 140.8,118.2 142,118.3 143.2,118.3 144.4,118.4 145.5,118.5 146.7,118.6 147.9,118.7 149.1,118.8 150.2,118.9 151.4,119 152.6,119.1 153.7,119.3 154.9,119.4 156.1,119.6 157.3,119.7 158.4,119.9 159.6,120 160.8,120.1 162,120.3 163.1,120.4 164.3,120.6 165.5,120.7 166.7,120.9 167.8,121 169,121.2 170.2,121.3 171.4,121.4 172.5,121.3 173.7,121.2 174.9,121 176.1,120.9 177.2,120.8 178.4,120.7 179.6,120.6 180.8,120.4 181.9,120.3 183.1,120.2 184.3,120.1 185.5,120 186.6,119.9 187.8,119.7 189,119.6 190.2,119.5 191.3,119.4 192.5,119.3"/><polyline points="64.5,77.6 65.7,78.8 66.8,80.2 68,82 69.2,83.9 70.4,85.9 71.5,87.9 72.7,89.8 73.9,91.7 75.1,93.6 76.2,95.3 77.4,97.1 78.6,99 79.8,100.9 80.9,102.6 82.1,104.2 83.3,105.7 84.5,107.1 85.6,108.2 86.8,109 88,109.5 89.2,109.9 90.3,110.1 91.5,110.3 92.7,110.4 93.9,110.4 95,110.5 96.2,110.4 97.4,110.3 98.6,110.3 99.7,110.2 100.9,110.1 102.1,109.9 103.3,109.7 104.4,109.5 105.6,109.3 106.8,109.1 107.9,109.1 109.1,109.2 110.3,109.2 111.5,109.3 112.6,109.4 113.8,109.5 115,109.5 116.2,109.6 117.3,109.7 118.5,109.8 119.7,109.8 120.9,109.9 122,110 123.2,110 124.4,110.1 125.6,110.2 126.7,110.3 127.9,110.4 129.1,110.3 130.3,110.3 131.4,110.2 132.6,110.1 133.8,110 135,109.9 136.1,109.8 137.3,109.7 138.5,109.6 139.7,109.5 140.8,109.5 142,109.4 143.2,109.3 144.4,109.2 145.5,109.1 146.7,109 147.9,108.9 149.1,108.8 150.2,108.8 151.4,108.8 152.6,108.8 153.7,108.8 154.9,108.9 156.1,108.9 157.3,108.9 158.4,108.9 159.6,108.9 160.8,109 162,109 163.1,109 164.3,109 165.5,109.1 166.7,109.1 167.8,109.1 169,109.1 170.2,109.2 171.4,109.2 172.5,109.3 173.7,109.4 174.9,109.5 176.1,109.6 177.2,109.8 178.4,109.9 179.6,110 180.8,110.1 181.9,110.2 183.1,110.3 184.3,110.4 185.5,110.5 186.6,110.6 187.8,110.7 189,110.8 190.2,110.9 191.3,111 192.5,111.1"/><polyline points="64.5,70.1 65.7,71.6 66.8,73.3 68,75.7 69.2,78.2 70.4,80.8 71.5,83.3 72.7,85.9 73.9,88.4 75.1,90.7 76.2,93 77.4,95.2 78.6,97.4 79.8,99.8 80.9,102.1 82.1,104.2 83.3,106.1 84.5,107.9 85.6,109.5 86.8,110.9 88,112.1 89.2,113 90.3,113.7 91.5,114.3 92.7,114.7 93.9,115.1 95,115.4 96.2,115.7 97.4,115.9 98.6,116 99.7,116.1 100.9,116.3 102.1,116.3 103.3,116.4 104.4,116.4 105.6,116.4 106.8,116.3 107.9,116.3 109.1,116.3 110.3,116.4 111.5,116.4 112.6,116.5 113.8,116.6 115,116.6 116.2,116.7 117.3,116.8 118.5,116.8 119.7,116.9 120.9,117 122,117 123.2,117.1 124.4,117.2 125.6,117.2 126.7,117.3 127.9,117.4 129.1,117.4 130.3,117.3 131.4,117.2 132.6,117.2 133.8,117.1 135,117 136.1,117 137.3,116.9 138.5,116.8 139.7,116.8 140.8,116.7 142,116.6 143.2,116.5 144.4,116.5 145.5,116.4 146.7,116.3 147.9,116.3 149.1,116.2 150.2,116.2 151.4,116.1 152.6,116.1 153.7,116.1 154.9,116 156.1,116 157.3,116 158.4,115.9 159.6,115.9 160.8,115.9 162,115.9 163.1,115.8 164.3,115.8 165.5,115.8 166.7,115.8 167.8,115.7 169,115.7 170.2,115.7 171.4,115.7 172.5,115.8 173.7,116 174.9,116.1 176.1,116.3 177.2,116.4 178.4,116.5 179.6,116.7 180.8,116.8 181.9,117 183.1,117.1 184.3,117.3 185.5,117.4 186.6,117.5 187.8,117.7 189,117.8 190.2,118 191.3,118.1 192.5,118.2"/><polyline points="64.5,71.7 65.7,73.5 66.8,75.8 68,78.7 69.2,81.7 70.4,84.8 71.5,87.9 72.7,90.9 73.9,93.8 75.1,96.5 76.2,99.1 77.4,101.9 78.6,104.8 79.8,107.5 80.9,109.9 82.1,112.1 83.3,114.1 84.5,115.7 85.6,117.1 86.8,118.2 88,118.9 89.2,119.5 90.3,120 91.5,120.4 92.7,120.8 93.9,121 95,121.2 96.2,121.4 97.4,121.5 98.6,121.6 99.7,121.7 100.9,121.7 102.1,121.7 103.3,121.6 104.4,121.6 105.6,121.6 106.8,121.6 107.9,121.6 109.1,121.7 110.3,121.7 111.5,121.8 112.6,121.8 113.8,121.9 115,121.9 116.2,122 117.3,122 118.5,122.1 119.7,122.2 120.9,122.2 122,122.3 123.2,122.3 124.4,122.4 125.6,122.4 126.7,122.5 127.9,122.6 129.1,122.6 130.3,122.7 131.4,122.8 132.6,123 133.8,123.1 135,123.2 136.1,123.3 137.3,123.4 138.5,123.5 139.7,123.6 140.8,123.7 142,123.8 143.2,123.9 144.4,124 145.5,124.1 146.7,124.3 147.9,124.4 149.1,124.5 150.2,124.5 151.4,124.3 152.6,124.1 153.7,123.9 154.9,123.7 156.1,123.5 157.3,123.3 158.4,123.1 159.6,122.9 160.8,122.7 162,122.5 163.1,122.3 164.3,122.1 165.5,121.9 166.7,121.7 167.8,121.5 169,121.3 170.2,121.1 171.4,121 172.5,121 173.7,121 174.9,121 176.1,121 177.2,121 178.4,121 179.6,120.9 180.8,120.9 181.9,120.9 183.1,120.9 184.3,120.8 185.5,120.8 186.6,120.8 187.8,120.8 189,120.7 190.2,120.7 191.3,120.7 192.5,120.7"/><polyline points="64.5,71.2 65.7,72.6 66.8,74.3 68,76.5 69.2,78.9 70.4,81.3 71.5,83.8 72.7,86.2 73.9,88.6 75.1,90.9 76.2,93.1 77.4,95.3 78.6,97.5 79.8,99.8 80.9,102.1 82.1,104.2 83.3,106.1 84.5,108 85.6,109.6 86.8,111 88,112.2 89.2,113.2 90.3,114 91.5,114.6 92.7,115 93.9,115.4 95,115.7 96.2,116 97.4,116.2 98.6,116.4 99.7,116.5 100.9,116.6 102.1,116.7 103.3,116.8 104.4,116.8 105.6,116.8 106.8,116.7 107.9,116.7 109.1,116.7 110.3,116.7 111.5,116.7 112.6,116.7 113.8,116.7 115,116.7 116.2,116.8 117.3,116.8 118.5,116.8 119.7,116.8 120.9,116.9 122,116.9 123.2,116.9 124.4,117 125.6,117 126.7,117 127.9,117.1 129.1,117.1 130.3,117 131.4,117 132.6,117 133.8,116.9 135,116.9 136.1,116.8 137.3,116.8 138.5,116.8 139.7,116.7 140.8,116.7 142,116.7 143.2,116.6 144.4,116.6 145.5,116.6 146.7,116.5 147.9,116.5 149.1,116.5 150.2,116.5 151.4,116.5 152.6,116.5 153.7,116.5 154.9,116.6 156.1,116.6 157.3,116.6 158.4,116.6 159.6,116.6 160.8,116.7 162,116.7 163.1,116.7 164.3,116.7 165.5,116.8 166.7,116.8 167.8,116.8 169,116.9 170.2,116.9 171.4,116.9 172.5,117 173.7,117 174.9,117 176.1,117 177.2,117.1 178.4,117.1 179.6,117.1 180.8,117.2 181.9,117.2 183.1,117.2 184.3,117.2 185.5,117.3 186.6,117.3 187.8,117.3 189,117.3 190.2,117.4 191.3,117.4 192.5,117.4"/><polyline points="64.5,72 65.7,73.2 66.8,74.7 68,76.6 69.2,78.8 70.4,80.9 71.5,83.1 72.7,85.3 73.9,87.4 75.1,89.5 76.2,91.5 77.4,93.4 78.6,95.4 79.8,97.4 80.9,99.5 82.1,101.5 83.3,103.3 84.5,104.9 85.6,106.5 86.8,107.8 88,108.8 89.2,109.7 90.3,110.4 91.5,110.9 92.7,111.3 93.9,111.5 95,111.7 96.2,111.9 97.4,112 98.6,112.1 99.7,112.1 100.9,112.1 102.1,112.1 103.3,112.1 104.4,112 105.6,111.9 106.8,111.8 107.9,111.8 109.1,111.7 110.3,111.7 111.5,111.7 112.6,111.7 113.8,111.7 115,111.7 116.2,111.7 117.3,111.7 118.5,111.7 119.7,111.8 120.9,111.8 122,111.8 123.2,111.8 124.4,111.8 125.6,111.8 126.7,111.8 127.9,111.9 129.1,111.9 130.3,111.8 131.4,111.8 132.6,111.8 133.8,111.8 135,111.8 136.1,111.8 137.3,111.7 138.5,111.7 139.7,111.7 140.8,111.7 142,111.7 143.2,111.7 144.4,111.6 145.5,111.6 146.7,111.6 147.9,111.6 149.1,111.6 150.2,111.6 151.4,111.6 152.6,111.6 153.7,111.6 154.9,111.6 156.1,111.6 157.3,111.6 158.4,111.6 159.6,111.5 160.8,111.5 162,111.5 163.1,111.5 164.3,111.5 165.5,111.5 166.7,111.5 167.8,111.6 169,111.6 170.2,111.6 171.4,111.6 172.5,111.8 173.7,112 174.9,112.2 176.1,112.5 177.2,112.7 178.4,112.9 179.6,113.1 180.8,113.3 181.9,113.5 183.1,113.8 184.3,114 185.5,114.2 186.6,114.4 187.8,114.6 189,114.8 190.2,115.1 191.3,115.3 192.5,115.5"/><polyline points="64.5,72.2 65.7,73.8 66.8,75.5 68,77.9 69.2,80.4 70.4,83 71.5,85.6 72.7,88.2 73.9,90.7 75.1,93.1 76.2,95.5 77.4,97.7 78.6,99.9 79.8,102.2 80.9,104.6 82.1,106.8 83.3,108.8 84.5,110.6 85.6,112.4 86.8,114 88,115.5 89.2,116.8 90.3,117.8 91.5,118.7 92.7,119.4 93.9,120 95,120.5 96.2,121 97.4,121.5 98.6,121.8 99.7,122.2 100.9,122.5 102.1,122.8 103.3,123 104.4,123.3 105.6,123.5 106.8,123.6 107.9,123.5 109.1,123.4 110.3,123.2 111.5,123 112.6,122.9 113.8,122.8 115,122.6 116.2,122.5 117.3,122.4 118.5,122.3 119.7,122.2 120.9,122.1 122,121.9 123.2,121.8 124.4,121.7 125.6,121.6 126.7,121.5 127.9,121.4 129.1,121.3 130.3,121.3 131.4,121.2 132.6,121.2 133.8,121.2 135,121.2 136.1,121.1 137.3,121.1 138.5,121.1 139.7,121 140.8,121 142,121 143.2,121 144.4,120.9 145.5,120.9 146.7,120.9 147.9,120.9 149.1,120.8 150.2,120.8 151.4,120.8 152.6,120.8 153.7,120.7 154.9,120.7 156.1,120.7 157.3,120.6 158.4,120.6 159.6,120.6 160.8,120.5 162,120.5 163.1,120.5 164.3,120.5 165.5,120.4 166.7,120.4 167.8,120.4 169,120.4 170.2,120.3 171.4,120.3 172.5,120.3 173.7,120.3 174.9,120.3 176.1,120.2 177.2,120.2 178.4,120.2 179.6,120.2 180.8,120.2 181.9,120.1 183.1,120.1 184.3,120.1 185.5,120.1 186.6,120.1 187.8,120.1 189,120 190.2,120 191.3,120 192.5,120"/><polyline points="64.5,69 65.7,70.2 66.8,71.5 68,73 69.2,74.9 70.4,76.9 71.5,78.8 72.7,80.8 73.9,82.8 75.1,84.8 76.2,86.8 77.4,88.7 78.6,90.5 79.8,92.3 80.9,94 82.1,95.8 83.3,97.6 84.5,99.5 85.6,101.3 86.8,103 88,104.6 89.2,106 90.3,107.4 91.5,108.7 92.7,109.8 93.9,110.8 95,111.7 96.2,112.4 97.4,113 98.6,113.5 99.7,113.9 100.9,114.2 102.1,114.5 103.3,114.7 104.4,114.9 105.6,115.1 106.8,115.2 107.9,115.4 109.1,115.6 110.3,115.7 111.5,115.9 112.6,116 113.8,116.2 115,116.3 116.2,116.4 117.3,116.4 118.5,116.5 119.7,116.5 120.9,116.5 122,116.6 123.2,116.6 124.4,116.7 125.6,116.7 126.7,116.8 127.9,116.9 129.1,116.9 130.3,116.9 131.4,116.8 132.6,116.8 133.8,116.7 135,116.7 136.1,116.6 137.3,116.6 138.5,116.6 139.7,116.5 140.8,116.5 142,116.4 143.2,116.4 144.4,116.4 145.5,116.3 146.7,116.3 147.9,116.3 149.1,116.2 150.2,116.2 151.4,116.1 152.6,116 153.7,115.9 154.9,115.8 156.1,115.7 157.3,115.6 158.4,115.5 159.6,115.5 160.8,115.4 162,115.3 163.1,115.2 164.3,115.1 165.5,115 166.7,114.9 167.8,114.9 169,114.8 170.2,114.7 171.4,114.6 172.5,114.7 173.7,114.8 174.9,114.9 176.1,115 177.2,115.1 178.4,115.2 179.6,115.3 180.8,115.4 181.9,115.4 183.1,115.5 184.3,115.6 185.5,115.7 186.6,115.8 187.8,115.9 189,116 190.2,116.1 191.3,116.2 192.5,116.3"/><polyline points="64.5,72.6 65.7,73.9 66.8,75.4 68,77.2 69.2,79.3 70.4,81.5 71.5,83.6 72.7,85.7 73.9,87.8 75.1,89.8 76.2,91.8 77.4,93.6 78.6,95.4 79.8,97.2 80.9,99.1 82.1,101 83.3,102.7 84.5,104.3 85.6,105.8 86.8,107.2 88,108.5 89.2,109.7 90.3,110.7 91.5,111.5 92.7,112.1 93.9,112.6 95,113.1 96.2,113.5 97.4,113.8 98.6,114 99.7,114.3 100.9,114.5 102.1,114.6 103.3,114.7 104.4,114.9 105.6,115 106.8,115.1 107.9,115.2 109.1,115.3 110.3,115.4 111.5,115.4 112.6,115.5 113.8,115.6 115,115.7 116.2,115.8 117.3,115.9 118.5,116 119.7,116.1 120.9,116.2 122,116.3 123.2,116.5 124.4,116.6 125.6,116.7 126.7,116.8 127.9,116.9 129.1,116.9 130.3,116.8 131.4,116.7 132.6,116.5 133.8,116.4 135,116.3 136.1,116.2 137.3,116 138.5,115.9 139.7,115.8 140.8,115.7 142,115.6 143.2,115.4 144.4,115.3 145.5,115.2 146.7,115.1 147.9,115 149.1,114.8 150.2,114.7 151.4,114.7 152.6,114.7 153.7,114.6 154.9,114.6 156.1,114.5 157.3,114.5 158.4,114.4 159.6,114.4 160.8,114.4 162,114.3 163.1,114.3 164.3,114.2 165.5,114.2 166.7,114.2 167.8,114.1 169,114.1 170.2,114 171.4,114 172.5,114.1 173.7,114.2 174.9,114.4 176.1,114.5 177.2,114.6 178.4,114.7 179.6,114.8 180.8,114.9 181.9,115 183.1,115.2 184.3,115.3 185.5,115.4 186.6,115.5 187.8,115.6 189,115.8 190.2,115.9 191.3,116 192.5,116.1"/><polyline points="64.5,71.9 65.7,73.2 66.8,74.7 68,76.7 69.2,78.9 70.4,81.1 71.5,83.4 72.7,85.6 73.9,87.8 75.1,89.9 76.2,91.9 77.4,93.8 78.6,95.7 79.8,97.6 80.9,99.6 82.1,101.5 83.3,103.3 84.5,105 85.6,106.5 86.8,108 88,109.4 89.2,110.6 90.3,111.7 91.5,112.5 92.7,113.2 93.9,113.7 95,114.2 96.2,114.6 97.4,115 98.6,115.3 99.7,115.6 100.9,115.9 102.1,116.1 103.3,116.3 104.4,116.5 105.6,116.6 106.8,116.8 107.9,116.7 109.1,116.6 110.3,116.4 111.5,116.3 112.6,116.1 113.8,116 115,115.8 116.2,115.7 117.3,115.6 118.5,115.5 119.7,115.4 120.9,115.2 122,115.1 123.2,115 124.4,114.9 125.6,114.8 126.7,114.7 127.9,114.6 129.1,114.6 130.3,114.8 131.4,115.1 132.6,115.3 133.8,115.5 135,115.7 136.1,116 137.3,116.2 138.5,116.4 139.7,116.6 140.8,116.9 142,117.1 143.2,117.3 144.4,117.5 145.5,117.8 146.7,118 147.9,118.2 149.1,118.5 150.2,118.6 151.4,118.5 152.6,118.5 153.7,118.4 154.9,118.4 156.1,118.3 157.3,118.3 158.4,118.2 159.6,118.1 160.8,118.1 162,118 163.1,118 164.3,117.9 165.5,117.9 166.7,117.8 167.8,117.8 169,117.7 170.2,117.7 171.4,117.6 172.5,117.4 173.7,117.3 174.9,117.1 176.1,117 177.2,116.8 178.4,116.6 179.6,116.5 180.8,116.3 181.9,116.2 183.1,116 184.3,115.9 185.5,115.7 186.6,115.6 187.8,115.4 189,115.2 190.2,115.1 191.3,114.9 192.5,114.8"/><polyline points="64.5,62.7 65.7,64.4 66.8,66.3 68,68.8 69.2,71.5 70.4,74.4 71.5,77.2 72.7,80 73.9,82.8 75.1,85.5 76.2,88.1 77.4,90.5 78.6,92.9 79.8,95.4 80.9,98 82.1,100.5 83.3,102.9 84.5,105 85.6,107 86.8,108.9 88,110.6 89.2,112.1 90.3,113.4 91.5,114.3 92.7,115.1 93.9,115.8 95,116.3 96.2,116.8 97.4,117.2 98.6,117.5 99.7,117.8 100.9,118.1 102.1,118.2 103.3,118.4 104.4,118.6 105.6,118.7 106.8,118.8 107.9,118.8 109.1,118.7 110.3,118.5 111.5,118.4 112.6,118.2 113.8,118.1 115,118 116.2,117.9 117.3,117.8 118.5,117.7 119.7,117.6 120.9,117.5 122,117.4 123.2,117.3 124.4,117.2 125.6,117.1 126.7,117 127.9,116.9 129.1,117 130.3,117.1 131.4,117.2 132.6,117.3 133.8,117.5 135,117.6 136.1,117.7 137.3,117.8 138.5,118 139.7,118.1 140.8,118.2 142,118.3 143.2,118.5 144.4,118.6 145.5,118.7 146.7,118.9 147.9,119 149.1,119.1 150.2,119.2 151.4,119.1 152.6,119.1 153.7,119 154.9,119 156.1,118.9 157.3,118.9 158.4,118.8 159.6,118.8 160.8,118.7 162,118.7 163.1,118.6 164.3,118.6 165.5,118.5 166.7,118.5 167.8,118.4 169,118.4 170.2,118.4 171.4,118.3 172.5,118.4 173.7,118.5 174.9,118.6 176.1,118.7 177.2,118.8 178.4,118.9 179.6,119 180.8,119.1 181.9,119.2 183.1,119.3 184.3,119.5 185.5,119.6 186.6,119.7 187.8,119.8 189,119.9 190.2,120 191.3,120.1 192.5,120.2"/><polyline points="64.5,68.4 65.7,69.7 66.8,71.2 68,73.1 69.2,75.3 70.4,77.5 71.5,79.6 72.7,81.8 73.9,84 75.1,86 76.2,88.1 77.4,89.9 78.6,91.8 79.8,93.6 80.9,95.6 82.1,97.6 83.3,99.4 84.5,101 85.6,102.5 86.8,104 88,105.4 89.2,106.5 90.3,107.5 91.5,108.3 92.7,109 93.9,109.5 95,110 96.2,110.3 97.4,110.6 98.6,110.9 99.7,111.2 100.9,111.3 102.1,111.5 103.3,111.6 104.4,111.8 105.6,111.9 106.8,112 107.9,111.9 109.1,111.8 110.3,111.6 111.5,111.4 112.6,111.2 113.8,111 115,110.9 116.2,110.7 117.3,110.6 118.5,110.5 119.7,110.3 120.9,110.2 122,110.1 123.2,109.9 124.4,109.8 125.6,109.7 126.7,109.5 127.9,109.4 129.1,109.3 130.3,109.3 131.4,109.3 132.6,109.3 133.8,109.3 135,109.3 136.1,109.3 137.3,109.3 138.5,109.3 139.7,109.3 140.8,109.3 142,109.3 143.2,109.3 144.4,109.3 145.5,109.3 146.7,109.3 147.9,109.3 149.1,109.3 150.2,109.3 151.4,109.5 152.6,109.7 153.7,109.9 154.9,110.1 156.1,110.3 157.3,110.5 158.4,110.7 159.6,110.9 160.8,111.1 162,111.3 163.1,111.4 164.3,111.6 165.5,111.8 166.7,112 167.8,112.2 169,112.4 170.2,112.6 171.4,112.8 172.5,112.6 173.7,112.5 174.9,112.4 176.1,112.2 177.2,112.1 178.4,112 179.6,111.8 180.8,111.7 181.9,111.6 183.1,111.4 184.3,111.3 185.5,111.2 186.6,111.1 187.8,110.9 189,110.8 190.2,110.7 191.3,110.5 192.5,110.4"/><polyline points="64.5,69.5 65.7,70.6 66.8,71.8 68,73.3 69.2,75 70.4,76.9 71.5,78.7 72.7,80.6 73.9,82.4 75.1,84.2 76.2,86 77.4,87.7 78.6,89.4 79.8,90.9 80.9,92.4 82.1,94 83.3,95.7 84.5,97.3 85.6,98.9 86.8,100.5 88,101.9 89.2,103.3 90.3,104.6 91.5,105.8 92.7,106.9 93.9,107.9 95,108.7 96.2,109.4 97.4,110 98.6,110.5 99.7,110.9 100.9,111.3 102.1,111.6 103.3,111.9 104.4,112.1 105.6,112.4 106.8,112.6 107.9,112.7 109.1,112.7 110.3,112.7 111.5,112.7 112.6,112.7 113.8,112.7 115,112.7 116.2,112.6 117.3,112.5 118.5,112.5 119.7,112.4 120.9,112.3 122,112.2 123.2,112.1 124.4,112 125.6,111.9 126.7,111.9 127.9,111.8 129.1,111.8 130.3,111.8 131.4,111.9 132.6,111.9 133.8,111.9 135,112 136.1,112 137.3,112 138.5,112.1 139.7,112.1 140.8,112.1 142,112.2 143.2,112.2 144.4,112.3 145.5,112.3 146.7,112.3 147.9,112.4 149.1,112.4 150.2,112.4 151.4,112.4 152.6,112.4 153.7,112.3 154.9,112.3 156.1,112.3 157.3,112.3 158.4,112.2 159.6,112.2 160.8,112.2 162,112.2 163.1,112.1 164.3,112.1 165.5,112.1 166.7,112.1 167.8,112 169,112 170.2,112 171.4,112 172.5,112.1 173.7,112.2 174.9,112.4 176.1,112.5 177.2,112.6 178.4,112.8 179.6,112.9 180.8,113 181.9,113.2 183.1,113.3 184.3,113.4 185.5,113.6 186.6,113.7 187.8,113.8 189,114 190.2,114.1 191.3,114.2 192.5,114.4"/><polyline points="64.5,65.8 65.7,67.4 66.8,69.4 68,72 69.2,74.9 70.4,77.7 71.5,80.6 72.7,83.4 73.9,86.3 75.1,89 76.2,91.5 77.4,94.1 78.6,96.7 79.8,99.5 80.9,102.2 82.1,104.6 83.3,106.9 84.5,108.9 85.6,110.8 86.8,112.3 88,113.6 89.2,114.6 90.3,115.3 91.5,115.9 92.7,116.4 93.9,116.8 95,117.1 96.2,117.4 97.4,117.6 98.6,117.7 99.7,117.8 100.9,118 102.1,118 103.3,118.1 104.4,118.1 105.6,118 106.8,118 107.9,117.9 109.1,117.9 110.3,118 111.5,118 112.6,118.1 113.8,118.1 115,118.2 116.2,118.3 117.3,118.3 118.5,118.4 119.7,118.4 120.9,118.5 122,118.6 123.2,118.6 124.4,118.7 125.6,118.7 126.7,118.8 127.9,118.9 129.1,118.9 130.3,118.8 131.4,118.8 132.6,118.7 133.8,118.6 135,118.6 136.1,118.5 137.3,118.5 138.5,118.4 139.7,118.4 140.8,118.3 142,118.2 143.2,118.2 144.4,118.1 145.5,118.1 146.7,118 147.9,118 149.1,117.9 150.2,117.8 151.4,117.7 152.6,117.6 153.7,117.4 154.9,117.3 156.1,117.1 157.3,117 158.4,116.9 159.6,116.7 160.8,116.6 162,116.5 163.1,116.4 164.3,116.2 165.5,116.1 166.7,116 167.8,115.8 169,115.7 170.2,115.6 171.4,115.5 172.5,115.6 173.7,115.7 174.9,115.8 176.1,115.9 177.2,116 178.4,116.1 179.6,116.3 180.8,116.4 181.9,116.5 183.1,116.6 184.3,116.7 185.5,116.8 186.6,116.9 187.8,117 189,117.1 190.2,117.2 191.3,117.3 192.5,117.4"/><polyline points="64.5,69.3 65.7,71 66.8,73 68,75.7 69.2,78.6 70.4,81.5 71.5,84.4 72.7,87.2 73.9,90 75.1,92.7 76.2,95.2 77.4,97.8 78.6,100.6 79.8,103.3 80.9,105.8 82.1,108.1 83.3,110.2 84.5,112.1 85.6,113.7 86.8,114.9 88,115.9 89.2,116.6 90.3,117.1 91.5,117.5 92.7,117.9 93.9,118.2 95,118.4 96.2,118.6 97.4,118.7 98.6,118.8 99.7,118.8 100.9,118.9 102.1,118.9 103.3,118.8 104.4,118.7 105.6,118.6 106.8,118.6 107.9,118.6 109.1,118.6 110.3,118.7 111.5,118.7 112.6,118.8 113.8,118.8 115,118.9 116.2,118.9 117.3,118.9 118.5,119 119.7,119 120.9,119.1 122,119.1 123.2,119.2 124.4,119.2 125.6,119.3 126.7,119.3 127.9,119.4 129.1,119.4 130.3,119.4 131.4,119.3 132.6,119.3 133.8,119.2 135,119.2 136.1,119.1 137.3,119.1 138.5,119.1 139.7,119 140.8,119 142,118.9 143.2,118.9 144.4,118.8 145.5,118.8 146.7,118.8 147.9,118.7 149.1,118.7 150.2,118.7 151.4,118.7 152.6,118.8 153.7,118.8 154.9,118.8 156.1,118.9 157.3,118.9 158.4,119 159.6,119.1 160.8,119.1 162,119.2 163.1,119.2 164.3,119.3 165.5,119.3 166.7,119.4 167.8,119.5 169,119.5 170.2,119.6 171.4,119.6 172.5,119.6 173.7,119.6 174.9,119.6 176.1,119.6 177.2,119.6 178.4,119.5 179.6,119.5 180.8,119.5 181.9,119.5 183.1,119.5 184.3,119.5 185.5,119.5 186.6,119.4 187.8,119.4 189,119.3 190.2,119.3 191.3,119.3 192.5,119.2"/><polyline points="64.5,74.2 65.7,75.4 66.8,76.8 68,78.7 69.2,80.7 70.4,82.8 71.5,84.9 72.7,87 73.9,89.1 75.1,91.2 76.2,93.2 77.4,95.1 78.6,96.9 79.8,98.8 80.9,100.8 82.1,102.8 83.3,104.7 84.5,106.5 85.6,108.1 86.8,109.6 88,110.9 89.2,112 90.3,113 91.5,113.8 92.7,114.4 93.9,114.9 95,115.3 96.2,115.7 97.4,115.9 98.6,116.1 99.7,116.3 100.9,116.5 102.1,116.6 103.3,116.7 104.4,116.7 105.6,116.8 106.8,116.8 107.9,116.8 109.1,116.8 110.3,116.8 111.5,116.7 112.6,116.6 113.8,116.6 115,116.5 116.2,116.5 117.3,116.4 118.5,116.4 119.7,116.4 120.9,116.4 122,116.4 123.2,116.3 124.4,116.3 125.6,116.3 126.7,116.3 127.9,116.3 129.1,116.3 130.3,116.2 131.4,116.2 132.6,116.2 133.8,116.2 135,116.2 136.1,116.2 137.3,116.2 138.5,116.1 139.7,116.1 140.8,116.1 142,116.1 143.2,116.1 144.4,116.1 145.5,116.1 146.7,116.1 147.9,116.1 149.1,116 150.2,116 151.4,116.1 152.6,116.1 153.7,116.1 154.9,116.1 156.1,116.1 157.3,116.2 158.4,116.2 159.6,116.2 160.8,116.2 162,116.2 163.1,116.2 164.3,116.3 165.5,116.3 166.7,116.3 167.8,116.3 169,116.3 170.2,116.4 171.4,116.4 172.5,116.5 173.7,116.5 174.9,116.6 176.1,116.7 177.2,116.7 178.4,116.8 179.6,116.9 180.8,116.9 181.9,117 183.1,117.1 184.3,117.1 185.5,117.2 186.6,117.3 187.8,117.3 189,117.4 190.2,117.5 191.3,117.6 192.5,117.6"/><polyline points="64.5,63.6 65.7,65.3 66.8,67.2 68,69.8 69.2,72.6 70.4,75.4 71.5,78.2 72.7,81 73.9,83.8 75.1,86.5 76.2,89 77.4,91.5 78.6,93.9 79.8,96.4 80.9,99.1 82.1,101.6 83.3,103.8 84.5,105.9 85.6,107.9 86.8,109.7 88,111.3 89.2,112.7 90.3,113.9 91.5,114.8 92.7,115.5 93.9,116.2 95,116.7 96.2,117.2 97.4,117.6 98.6,117.9 99.7,118.2 100.9,118.5 102.1,118.7 103.3,118.9 104.4,119.1 105.6,119.2 106.8,119.3 107.9,119.3 109.1,119.2 110.3,119 111.5,118.9 112.6,118.8 113.8,118.7 115,118.6 116.2,118.6 117.3,118.5 118.5,118.4 119.7,118.3 120.9,118.3 122,118.2 123.2,118.1 124.4,118.1 125.6,118 126.7,117.9 127.9,117.9 129.1,117.8 130.3,117.8 131.4,117.7 132.6,117.7 133.8,117.7 135,117.6 136.1,117.6 137.3,117.6 138.5,117.5 139.7,117.5 140.8,117.5 142,117.4 143.2,117.4 144.4,117.4 145.5,117.4 146.7,117.3 147.9,117.3 149.1,117.3 150.2,117.3 151.4,117.3 152.6,117.3 153.7,117.4 154.9,117.4 156.1,117.5 157.3,117.5 158.4,117.6 159.6,117.6 160.8,117.6 162,117.7 163.1,117.7 164.3,117.8 165.5,117.8 166.7,117.9 167.8,117.9 169,118 170.2,118 171.4,118.1 172.5,118.1 173.7,118.2 174.9,118.2 176.1,118.2 177.2,118.3 178.4,118.3 179.6,118.4 180.8,118.4 181.9,118.4 183.1,118.5 184.3,118.5 185.5,118.6 186.6,118.6 187.8,118.7 189,118.7 190.2,118.8 191.3,118.8 192.5,118.8"/><polyline points="64.5,67.6 65.7,68.7 66.8,70 68,71.4 69.2,73.3 70.4,75.2 71.5,77.1 72.7,79.1 73.9,81.1 75.1,83.1 76.2,85 77.4,87 78.6,88.9 79.8,90.7 80.9,92.5 82.1,94.2 83.3,96 84.5,97.9 85.6,99.9 86.8,101.6 88,103.2 89.2,104.7 90.3,106 91.5,107.3 92.7,108.5 93.9,109.5 95,110.4 96.2,111.2 97.4,111.9 98.6,112.4 99.7,112.8 100.9,113.1 102.1,113.3 103.3,113.5 104.4,113.7 105.6,113.8 106.8,113.9 107.9,113.9 109.1,113.9 110.3,113.9 111.5,113.8 112.6,113.7 113.8,113.6 115,113.6 116.2,113.4 117.3,113.3 118.5,113.2 119.7,113 120.9,112.8 122,112.6 123.2,112.4 124.4,112.2 125.6,112 126.7,111.9 127.9,111.7 129.1,111.7 130.3,111.8 131.4,111.9 132.6,112 133.8,112.1 135,112.2 136.1,112.3 137.3,112.4 138.5,112.5 139.7,112.7 140.8,112.8 142,112.9 143.2,113 144.4,113.1 145.5,113.2 146.7,113.3 147.9,113.4 149.1,113.5 150.2,113.6 151.4,113.7 152.6,113.8 153.7,113.8 154.9,113.9 156.1,113.9 157.3,114 158.4,114.1 159.6,114.1 160.8,114.2 162,114.2 163.1,114.3 164.3,114.4 165.5,114.4 166.7,114.5 167.8,114.6 169,114.6 170.2,114.7 171.4,114.8 172.5,115 173.7,115.2 174.9,115.4 176.1,115.6 177.2,115.8 178.4,116 179.6,116.2 180.8,116.4 181.9,116.5 183.1,116.7 184.3,116.9 185.5,117.1 186.6,117.3 187.8,117.5 189,117.7 190.2,117.9 191.3,118.1 192.5,118.3"/><polyline points="64.5,68.2 65.7,69.4 66.8,70.7 68,72.3 69.2,74.3 70.4,76.3 71.5,78.3 72.7,80.3 73.9,82.3 75.1,84.3 76.2,86.3 77.4,88.2 78.6,90 79.8,91.8 80.9,93.5 82.1,95.4 83.3,97.3 84.5,99.2 85.6,100.9 86.8,102.5 88,103.9 89.2,105.3 90.3,106.5 91.5,107.5 92.7,108.4 93.9,109.2 95,109.8 96.2,110.2 97.4,110.6 98.6,110.9 99.7,111.1 100.9,111.3 102.1,111.5 103.3,111.6 104.4,111.7 105.6,111.7 106.8,111.7 107.9,111.7 109.1,111.7 110.3,111.7 111.5,111.7 112.6,111.6 113.8,111.6 115,111.5 116.2,111.4 117.3,111.2 118.5,111.1 119.7,111 120.9,110.9 122,110.8 123.2,110.7 124.4,110.7 125.6,110.6 126.7,110.5 127.9,110.4 129.1,110.4 130.3,110.5 131.4,110.6 132.6,110.6 133.8,110.7 135,110.8 136.1,110.8 137.3,110.9 138.5,111 139.7,111 140.8,111.1 142,111.2 143.2,111.3 144.4,111.3 145.5,111.4 146.7,111.5 147.9,111.5 149.1,111.6 150.2,111.6 151.4,111.6 152.6,111.6 153.7,111.6 154.9,111.5 156.1,111.5 157.3,111.5 158.4,111.5 159.6,111.4 160.8,111.4 162,111.4 163.1,111.4 164.3,111.3 165.5,111.3 166.7,111.3 167.8,111.3 169,111.2 170.2,111.2 171.4,111.2 172.5,111.4 173.7,111.6 174.9,111.7 176.1,111.9 177.2,112.1 178.4,112.3 179.6,112.5 180.8,112.6 181.9,112.8 183.1,113 184.3,113.2 185.5,113.4 186.6,113.5 187.8,113.7 189,113.9 190.2,114.1 191.3,114.3 192.5,114.5"/><polyline points="64.5,72.9 65.7,74.3 66.8,75.8 68,77.9 69.2,80.2 70.4,82.4 71.5,84.7 72.7,86.9 73.9,89.1 75.1,91.1 76.2,93.1 77.4,95.1 78.6,97.2 79.8,99.3 80.9,101.3 82.1,103 83.3,104.7 84.5,106.2 85.6,107.5 86.8,108.6 88,109.6 89.2,110.3 90.3,110.9 91.5,111.4 92.7,111.8 93.9,112.2 95,112.5 96.2,112.8 97.4,113 98.6,113.2 99.7,113.4 100.9,113.6 102.1,113.7 103.3,113.8 104.4,113.8 105.6,113.9 106.8,113.9 107.9,113.8 109.1,113.6 110.3,113.5 111.5,113.3 112.6,113.2 113.8,113 115,112.9 116.2,112.7 117.3,112.6 118.5,112.4 119.7,112.3 120.9,112.1 122,112 123.2,111.8 124.4,111.6 125.6,111.5 126.7,111.3 127.9,111.2 129.1,111.2 130.3,111.2 131.4,111.3 132.6,111.4 133.8,111.4 135,111.5 136.1,111.6 137.3,111.6 138.5,111.7 139.7,111.8 140.8,111.9 142,111.9 143.2,112 144.4,112.1 145.5,112.1 146.7,112.2 147.9,112.3 149.1,112.4 150.2,112.4 151.4,112.4 152.6,112.3 153.7,112.3 154.9,112.2 156.1,112.2 157.3,112.1 158.4,112.1 159.6,112.1 160.8,112 162,112 163.1,112 164.3,111.9 165.5,111.9 166.7,111.9 167.8,111.8 169,111.8 170.2,111.8 171.4,111.7 172.5,111.8 173.7,111.8 174.9,111.9 176.1,111.9 177.2,112 178.4,112 179.6,112 180.8,112.1 181.9,112.1 183.1,112.2 184.3,112.2 185.5,112.3 186.6,112.3 187.8,112.3 189,112.4 190.2,112.4 191.3,112.4 192.5,112.5"/><polyline points="64.5,74.4 65.7,75.5 66.8,76.9 68,78.6 69.2,80.6 70.4,82.5 71.5,84.5 72.7,86.5 73.9,88.4 75.1,90.3 76.2,92.2 77.4,93.9 78.6,95.6 79.8,97.4 80.9,99.2 82.1,101 83.3,102.6 84.5,104.2 85.6,105.6 86.8,106.9 88,108.2 89.2,109.3 90.3,110.2 91.5,111 92.7,111.6 93.9,112.2 95,112.6 96.2,113 97.4,113.4 98.6,113.7 99.7,114 100.9,114.3 102.1,114.5 103.3,114.7 104.4,114.9 105.6,115.1 106.8,115.2 107.9,115.2 109.1,115 110.3,114.8 111.5,114.6 112.6,114.4 113.8,114.2 115,114 116.2,113.9 117.3,113.7 118.5,113.6 119.7,113.4 120.9,113.3 122,113.1 123.2,113 124.4,112.8 125.6,112.6 126.7,112.5 127.9,112.3 129.1,112.3 130.3,112.5 131.4,112.6 132.6,112.7 133.8,112.9 135,113 136.1,113.2 137.3,113.3 138.5,113.4 139.7,113.6 140.8,113.7 142,113.8 143.2,114 144.4,114.1 145.5,114.3 146.7,114.4 147.9,114.6 149.1,114.7 150.2,114.8 151.4,114.8 152.6,114.8 153.7,114.8 154.9,114.8 156.1,114.8 157.3,114.8 158.4,114.9 159.6,114.9 160.8,114.9 162,114.9 163.1,114.9 164.3,114.9 165.5,114.9 166.7,114.9 167.8,114.9 169,115 170.2,115 171.4,115 172.5,114.9 173.7,114.8 174.9,114.7 176.1,114.6 177.2,114.5 178.4,114.5 179.6,114.4 180.8,114.3 181.9,114.2 183.1,114.1 184.3,114 185.5,114 186.6,113.9 187.8,113.8 189,113.7 190.2,113.6 191.3,113.5 192.5,113.5"/><polyline points="64.5,68.4 65.7,69.7 66.8,71.1 68,72.6 69.2,74.6 70.4,76.7 71.5,78.8 72.7,80.9 73.9,83 75.1,85.1 76.2,87.2 77.4,89.2 78.6,91.2 79.8,93.1 80.9,94.9 82.1,96.7 83.3,98.6 84.5,100.6 85.6,102.6 86.8,104.4 88,106 89.2,107.6 90.3,109 91.5,110.3 92.7,111.5 93.9,112.6 95,113.5 96.2,114.3 97.4,114.9 98.6,115.4 99.7,115.8 100.9,116.1 102.1,116.4 103.3,116.6 104.4,116.7 105.6,116.8 106.8,116.9 107.9,117.1 109.1,117.3 110.3,117.5 111.5,117.7 112.6,117.8 113.8,118 115,118.1 116.2,118.2 117.3,118.3 118.5,118.4 119.7,118.4 120.9,118.5 122,118.5 123.2,118.5 124.4,118.6 125.6,118.6 126.7,118.7 127.9,118.8 129.1,118.7 130.3,118.6 131.4,118.5 132.6,118.4 133.8,118.3 135,118.2 136.1,118.1 137.3,118 138.5,117.8 139.7,117.7 140.8,117.6 142,117.5 143.2,117.4 144.4,117.3 145.5,117.2 146.7,117.1 147.9,117 149.1,116.9 150.2,116.9 151.4,117.1 152.6,117.3 153.7,117.5 154.9,117.7 156.1,117.9 157.3,118.1 158.4,118.3 159.6,118.5 160.8,118.7 162,118.9 163.1,119.1 164.3,119.3 165.5,119.5 166.7,119.7 167.8,119.9 169,120.1 170.2,120.3 171.4,120.5 172.5,120.4 173.7,120.3 174.9,120.2 176.1,120.2 177.2,120.1 178.4,120 179.6,119.9 180.8,119.9 181.9,119.8 183.1,119.7 184.3,119.7 185.5,119.6 186.6,119.5 187.8,119.4 189,119.4 190.2,119.3 191.3,119.2 192.5,119.1"/><polyline points="64.5,74.5 65.7,76 66.8,77.8 68,80.2 69.2,82.6 70.4,85.1 71.5,87.5 72.7,89.9 73.9,92.1 75.1,94.2 76.2,96.3 77.4,98.6 78.6,100.7 79.8,102.6 80.9,104.4 82.1,105.9 83.3,107.2 84.5,108.3 85.6,109.1 86.8,109.7 88,110.1 89.2,110.4 90.3,110.6 91.5,110.8 92.7,111 93.9,111 95,111.1 96.2,111.1 97.4,111.1 98.6,111.1 99.7,111 100.9,110.9 102.1,110.8 103.3,110.7 104.4,110.7 105.6,110.6 106.8,110.6 107.9,110.5 109.1,110.5 110.3,110.4 111.5,110.3 112.6,110.3 113.8,110.2 115,110.2 116.2,110.1 117.3,110 118.5,110 119.7,109.9 120.9,109.9 122,109.8 123.2,109.7 124.4,109.7 125.6,109.6 126.7,109.6 127.9,109.5 129.1,109.6 130.3,109.7 131.4,109.8 132.6,109.9 133.8,110 135,110.2 136.1,110.3 137.3,110.4 138.5,110.5 139.7,110.7 140.8,110.8 142,110.9 143.2,111 144.4,111.1 145.5,111.3 146.7,111.4 147.9,111.5 149.1,111.7 150.2,111.8 151.4,111.8 152.6,111.9 153.7,112 154.9,112 156.1,112.1 157.3,112.2 158.4,112.2 159.6,112.3 160.8,112.4 162,112.5 163.1,112.5 164.3,112.6 165.5,112.7 166.7,112.7 167.8,112.8 169,112.9 170.2,113 171.4,113 172.5,112.9 173.7,112.8 174.9,112.7 176.1,112.6 177.2,112.4 178.4,112.3 179.6,112.2 180.8,112 181.9,111.9 183.1,111.8 184.3,111.7 185.5,111.5 186.6,111.4 187.8,111.3 189,111.2 190.2,111 191.3,110.9 192.5,110.8"/><polyline points="64.5,69.5 65.7,70.7 66.8,72.1 68,73.8 69.2,75.8 70.4,77.9 71.5,80 72.7,82.1 73.9,84.3 75.1,86.4 76.2,88.4 77.4,90.4 78.6,92.3 79.8,94.2 80.9,96 82.1,97.9 83.3,99.9 84.5,101.8 85.6,103.7 86.8,105.4 88,106.9 89.2,108.3 90.3,109.6 91.5,110.7 92.7,111.7 93.9,112.6 95,113.3 96.2,113.8 97.4,114.2 98.6,114.6 99.7,114.8 100.9,115 102.1,115.2 103.3,115.3 104.4,115.4 105.6,115.5 106.8,115.5 107.9,115.6 109.1,115.8 110.3,115.9 111.5,116 112.6,116.1 113.8,116.2 115,116.2 116.2,116.2 117.3,116.3 118.5,116.3 119.7,116.3 120.9,116.3 122,116.3 123.2,116.4 124.4,116.4 125.6,116.5 126.7,116.5 127.9,116.6 129.1,116.7 130.3,116.8 131.4,117 132.6,117.1 133.8,117.3 135,117.4 136.1,117.6 137.3,117.7 138.5,117.9 139.7,118 140.8,118.2 142,118.3 143.2,118.5 144.4,118.7 145.5,118.8 146.7,119 147.9,119.1 149.1,119.3 150.2,119.3 151.4,119.1 152.6,118.9 153.7,118.6 154.9,118.4 156.1,118.2 157.3,118 158.4,117.8 159.6,117.5 160.8,117.3 162,117.1 163.1,116.9 164.3,116.7 165.5,116.4 166.7,116.2 167.8,116 169,115.8 170.2,115.6 171.4,115.4 172.5,115.5 173.7,115.6 174.9,115.7 176.1,115.8 177.2,115.9 178.4,115.9 179.6,116 180.8,116.1 181.9,116.2 183.1,116.3 184.3,116.4 185.5,116.5 186.6,116.6 187.8,116.7 189,116.8 190.2,116.9 191.3,117 192.5,117.1"/><polyline points="64.5,68.8 65.7,70.6 66.8,72.8 68,75.7 69.2,78.7 70.4,81.8 71.5,84.8 72.7,87.8 73.9,90.7 75.1,93.5 76.2,96.1 77.4,98.7 78.6,101.5 79.8,104.2 80.9,106.8 82.1,109 83.3,111.1 84.5,113 85.6,114.5 86.8,115.9 88,116.9 89.2,117.6 90.3,118.2 91.5,118.7 92.7,119 93.9,119.3 95,119.6 96.2,119.7 97.4,119.9 98.6,119.9 99.7,120 100.9,120 102.1,120 103.3,120 104.4,119.9 105.6,119.8 106.8,119.7 107.9,119.5 109.1,119.4 110.3,119.2 111.5,119.1 112.6,119 113.8,118.8 115,118.7 116.2,118.6 117.3,118.5 118.5,118.3 119.7,118.2 120.9,118.1 122,117.9 123.2,117.8 124.4,117.7 125.6,117.5 126.7,117.4 127.9,117.3 129.1,117.3 130.3,117.3 131.4,117.4 132.6,117.5 133.8,117.5 135,117.6 136.1,117.7 137.3,117.7 138.5,117.8 139.7,117.9 140.8,117.9 142,118 143.2,118.1 144.4,118.1 145.5,118.2 146.7,118.3 147.9,118.3 149.1,118.4 150.2,118.5 151.4,118.6 152.6,118.7 153.7,118.8 154.9,119 156.1,119.1 157.3,119.2 158.4,119.3 159.6,119.4 160.8,119.6 162,119.7 163.1,119.8 164.3,119.9 165.5,120.1 166.7,120.2 167.8,120.3 169,120.4 170.2,120.6 171.4,120.7 172.5,120.7 173.7,120.7 174.9,120.7 176.1,120.7 177.2,120.6 178.4,120.6 179.6,120.6 180.8,120.6 181.9,120.6 183.1,120.6 184.3,120.6 185.5,120.6 186.6,120.6 187.8,120.5 189,120.5 190.2,120.5 191.3,120.4 192.5,120.4"/><polyline points="64.5,69.7 65.7,71.1 66.8,72.6 68,74.6 69.2,76.8 70.4,79.1 71.5,81.3 72.7,83.5 73.9,85.7 75.1,87.8 76.2,89.8 77.4,91.7 78.6,93.5 79.8,95.4 80.9,97.3 82.1,99.2 83.3,101 84.5,102.6 85.6,104 86.8,105.5 88,106.9 89.2,108 90.3,109.1 91.5,109.9 92.7,110.6 93.9,111.1 95,111.5 96.2,111.9 97.4,112.2 98.6,112.4 99.7,112.6 100.9,112.8 102.1,112.9 103.3,113 104.4,113.1 105.6,113.2 106.8,113.3 107.9,113.4 109.1,113.6 110.3,113.7 111.5,113.8 112.6,113.9 113.8,114 115,114.1 116.2,114.2 117.3,114.4 118.5,114.5 119.7,114.7 120.9,114.8 122,115 123.2,115.1 124.4,115.3 125.6,115.4 126.7,115.6 127.9,115.7 129.1,115.8 130.3,115.9 131.4,116 132.6,116.1 133.8,116.2 135,116.3 136.1,116.4 137.3,116.5 138.5,116.6 139.7,116.7 140.8,116.8 142,116.9 143.2,117 144.4,117.1 145.5,117.2 146.7,117.3 147.9,117.4 149.1,117.5 150.2,117.5 151.4,117.3 152.6,117.1 153.7,116.9 154.9,116.7 156.1,116.5 157.3,116.3 158.4,116.1 159.6,115.9 160.8,115.7 162,115.5 163.1,115.3 164.3,115.1 165.5,114.9 166.7,114.7 167.8,114.4 169,114.2 170.2,114 171.4,113.9 172.5,113.8 173.7,113.8 174.9,113.8 176.1,113.7 177.2,113.7 178.4,113.6 179.6,113.6 180.8,113.6 181.9,113.5 183.1,113.5 184.3,113.5 185.5,113.4 186.6,113.4 187.8,113.4 189,113.3 190.2,113.3 191.3,113.3 192.5,113.2"/><polyline points="64.5,69.6 65.7,71 66.8,72.7 68,75 69.2,77.4 70.4,79.8 71.5,82.2 72.7,84.7 73.9,87 75.1,89.3 76.2,91.5 77.4,93.6 78.6,95.9 79.8,98.3 80.9,100.4 82.1,102.4 83.3,104.3 84.5,106 85.6,107.5 86.8,108.6 88,109.6 89.2,110.2 90.3,110.7 91.5,111.1 92.7,111.4 93.9,111.7 95,111.9 96.2,112 97.4,112.1 98.6,112.2 99.7,112.2 100.9,112.3 102.1,112.3 103.3,112.2 104.4,112.1 105.6,112 106.8,111.9 107.9,111.8 109.1,111.8 110.3,111.7 111.5,111.6 112.6,111.6 113.8,111.5 115,111.5 116.2,111.4 117.3,111.4 118.5,111.3 119.7,111.3 120.9,111.2 122,111.2 123.2,111.1 124.4,111.1 125.6,111 126.7,111 127.9,110.9 129.1,110.9 130.3,111 131.4,111 132.6,111.1 133.8,111.2 135,111.2 136.1,111.3 137.3,111.3 138.5,111.4 139.7,111.4 140.8,111.5 142,111.5 143.2,111.6 144.4,111.7 145.5,111.7 146.7,111.8 147.9,111.8 149.1,111.9 150.2,111.9 151.4,112 152.6,112 153.7,112.1 154.9,112.1 156.1,112.1 157.3,112.2 158.4,112.2 159.6,112.3 160.8,112.3 162,112.4 163.1,112.4 164.3,112.5 165.5,112.5 166.7,112.6 167.8,112.6 169,112.7 170.2,112.7 171.4,112.8 172.5,112.9 173.7,112.9 174.9,113 176.1,113.1 177.2,113.2 178.4,113.3 179.6,113.3 180.8,113.4 181.9,113.5 183.1,113.6 184.3,113.7 185.5,113.8 186.6,113.8 187.8,113.9 189,114 190.2,114.1 191.3,114.1 192.5,114.2"/><polyline points="64.5,73.5 65.7,75.1 66.8,77 68,79.5 69.2,82.2 70.4,84.8 71.5,87.5 72.7,90.1 73.9,92.7 75.1,95.1 76.2,97.4 77.4,99.8 78.6,102.3 79.8,104.7 80.9,106.9 82.1,108.9 83.3,110.7 84.5,112.3 85.6,113.6 86.8,114.6 88,115.4 89.2,116 90.3,116.4 91.5,116.8 92.7,117.1 93.9,117.4 95,117.5 96.2,117.7 97.4,117.8 98.6,117.8 99.7,117.9 100.9,117.9 102.1,117.9 103.3,117.8 104.4,117.7 105.6,117.7 106.8,117.6 107.9,117.6 109.1,117.6 110.3,117.7 111.5,117.7 112.6,117.7 113.8,117.8 115,117.8 116.2,117.8 117.3,117.8 118.5,117.9 119.7,117.9 120.9,117.9 122,118 123.2,118 124.4,118 125.6,118.1 126.7,118.1 127.9,118.1 129.1,118.2 130.3,118.2 131.4,118.2 132.6,118.2 133.8,118.2 135,118.3 136.1,118.3 137.3,118.3 138.5,118.3 139.7,118.3 140.8,118.4 142,118.4 143.2,118.4 144.4,118.4 145.5,118.5 146.7,118.5 147.9,118.5 149.1,118.5 150.2,118.5 151.4,118.5 152.6,118.5 153.7,118.4 154.9,118.4 156.1,118.4 157.3,118.3 158.4,118.3 159.6,118.3 160.8,118.2 162,118.2 163.1,118.2 164.3,118.1 165.5,118.1 166.7,118.1 167.8,118.1 169,118 170.2,118 171.4,118 172.5,117.8 173.7,117.7 174.9,117.6 176.1,117.5 177.2,117.4 178.4,117.3 179.6,117.1 180.8,117 181.9,116.9 183.1,116.8 184.3,116.7 185.5,116.5 186.6,116.4 187.8,116.2 189,116.1 190.2,116 191.3,115.8 192.5,115.7"/><polyline points="64.5,70 65.7,71.2 66.8,72.5 68,74.2 69.2,76.1 70.4,78.1 71.5,80 72.7,82 73.9,83.9 75.1,85.7 76.2,87.5 77.4,89.2 78.6,90.8 79.8,92.5 80.9,94.2 82.1,95.9 83.3,97.5 84.5,99 85.6,100.4 86.8,101.7 88,103 89.2,104.1 90.3,105.1 91.5,106 92.7,106.6 93.9,107.1 95,107.6 96.2,107.9 97.4,108.2 98.6,108.5 99.7,108.7 100.9,108.9 102.1,109.1 103.3,109.2 104.4,109.3 105.6,109.4 106.8,109.5 107.9,109.6 109.1,109.6 110.3,109.7 111.5,109.7 112.6,109.7 113.8,109.6 115,109.6 116.2,109.6 117.3,109.7 118.5,109.7 119.7,109.7 120.9,109.7 122,109.8 123.2,109.8 124.4,109.8 125.6,109.9 126.7,109.9 127.9,109.9 129.1,110 130.3,110.1 131.4,110.3 132.6,110.4 133.8,110.5 135,110.6 136.1,110.8 137.3,110.9 138.5,111 139.7,111.2 140.8,111.3 142,111.4 143.2,111.5 144.4,111.7 145.5,111.8 146.7,111.9 147.9,112.1 149.1,112.2 150.2,112.2 151.4,112 152.6,111.9 153.7,111.7 154.9,111.5 156.1,111.3 157.3,111.1 158.4,111 159.6,110.8 160.8,110.6 162,110.4 163.1,110.2 164.3,110.1 165.5,109.9 166.7,109.7 167.8,109.5 169,109.3 170.2,109.2 171.4,109 172.5,109 173.7,108.9 174.9,108.9 176.1,108.9 177.2,108.9 178.4,108.8 179.6,108.8 180.8,108.8 181.9,108.7 183.1,108.7 184.3,108.7 185.5,108.7 186.6,108.6 187.8,108.6 189,108.6 190.2,108.6 191.3,108.5 192.5,108.5"/><polyline points="64.5,65.8 65.7,67.2 66.8,68.6 68,70.3 69.2,72.3 70.4,74.5 71.5,76.7 72.7,78.8 73.9,81 75.1,83.1 76.2,85.2 77.4,87.2 78.6,89.1 79.8,90.9 80.9,92.7 82.1,94.4 83.3,96.3 84.5,98.2 85.6,100 86.8,101.9 88,103.6 89.2,105.2 90.3,106.8 91.5,108.3 92.7,109.6 93.9,110.7 95,111.8 96.2,112.8 97.4,113.5 98.6,114.1 99.7,114.6 100.9,115.1 102.1,115.5 103.3,115.8 104.4,116.1 105.6,116.4 106.8,116.6 107.9,116.9 109.1,117.1 110.3,117.3 111.5,117.5 112.6,117.6 113.8,117.8 115,117.9 116.2,118 117.3,118.1 118.5,118.2 119.7,118.2 120.9,118.3 122,118.3 123.2,118.3 124.4,118.4 125.6,118.5 126.7,118.5 127.9,118.6 129.1,118.6 130.3,118.6 131.4,118.6 132.6,118.5 133.8,118.5 135,118.5 136.1,118.4 137.3,118.4 138.5,118.4 139.7,118.3 140.8,118.3 142,118.3 143.2,118.3 144.4,118.2 145.5,118.2 146.7,118.2 147.9,118.1 149.1,118.1 150.2,118.1 151.4,118 152.6,118 153.7,117.9 154.9,117.9 156.1,117.9 157.3,117.8 158.4,117.8 159.6,117.7 160.8,117.7 162,117.6 163.1,117.6 164.3,117.6 165.5,117.5 166.7,117.5 167.8,117.4 169,117.4 170.2,117.3 171.4,117.3 172.5,117.5 173.7,117.6 174.9,117.8 176.1,117.9 177.2,118.1 178.4,118.2 179.6,118.3 180.8,118.5 181.9,118.6 183.1,118.8 184.3,118.9 185.5,119.1 186.6,119.2 187.8,119.4 189,119.5 190.2,119.6 191.3,119.8 192.5,119.9"/><polyline points="64.5,72 65.7,73.4 66.8,75 68,77.2 69.2,79.6 70.4,81.9 71.5,84.4 72.7,86.7 73.9,89.1 75.1,91.4 76.2,93.6 77.4,95.7 78.6,97.9 79.8,100.2 80.9,102.5 82.1,104.7 83.3,106.6 84.5,108.5 85.6,110.2 86.8,111.5 88,112.7 89.2,113.7 90.3,114.4 91.5,114.9 92.7,115.4 93.9,115.7 95,116 96.2,116.3 97.4,116.5 98.6,116.6 99.7,116.7 100.9,116.8 102.1,116.9 103.3,116.9 104.4,116.9 105.6,116.9 106.8,116.8 107.9,116.8 109.1,116.8 110.3,116.8 111.5,116.8 112.6,116.8 113.8,116.9 115,116.9 116.2,116.9 117.3,117 118.5,117 119.7,117 120.9,117.1 122,117.1 123.2,117.2 124.4,117.2 125.6,117.2 126.7,117.3 127.9,117.3 129.1,117.4 130.3,117.4 131.4,117.5 132.6,117.5 133.8,117.6 135,117.7 136.1,117.7 137.3,117.8 138.5,117.9 139.7,117.9 140.8,118 142,118.1 143.2,118.1 144.4,118.2 145.5,118.3 146.7,118.3 147.9,118.4 149.1,118.5 150.2,118.5 151.4,118.4 152.6,118.4 153.7,118.3 154.9,118.3 156.1,118.2 157.3,118.2 158.4,118.1 159.6,118.1 160.8,118 162,118 163.1,117.9 164.3,117.9 165.5,117.8 166.7,117.8 167.8,117.7 169,117.7 170.2,117.6 171.4,117.6 172.5,117.6 173.7,117.6 174.9,117.7 176.1,117.7 177.2,117.7 178.4,117.7 179.6,117.7 180.8,117.8 181.9,117.8 183.1,117.8 184.3,117.8 185.5,117.8 186.6,117.8 187.8,117.9 189,117.9 190.2,117.9 191.3,117.9 192.5,117.9"/><polyline points="64.5,68.9 65.7,70.1 66.8,71.4 68,73 69.2,74.9 70.4,76.9 71.5,78.9 72.7,80.9 73.9,82.9 75.1,84.8 76.2,86.8 77.4,88.7 78.6,90.5 79.8,92.2 80.9,93.9 82.1,95.8 83.3,97.7 84.5,99.5 85.6,101.3 86.8,102.9 88,104.4 89.2,105.9 90.3,107.2 91.5,108.4 92.7,109.4 93.9,110.4 95,111.1 96.2,111.7 97.4,112.3 98.6,112.7 99.7,113.1 100.9,113.4 102.1,113.7 103.3,114 104.4,114.2 105.6,114.4 106.8,114.6 107.9,114.8 109.1,114.9 110.3,115.1 111.5,115.2 112.6,115.3 113.8,115.3 115,115.4 116.2,115.4 117.3,115.5 118.5,115.5 119.7,115.5 120.9,115.5 122,115.6 123.2,115.7 124.4,115.7 125.6,115.8 126.7,115.9 127.9,115.9 129.1,116 130.3,116 131.4,116.1 132.6,116.2 133.8,116.2 135,116.3 136.1,116.3 137.3,116.4 138.5,116.4 139.7,116.5 140.8,116.5 142,116.6 143.2,116.6 144.4,116.7 145.5,116.7 146.7,116.8 147.9,116.8 149.1,116.9 150.2,116.9 151.4,116.6 152.6,116.4 153.7,116.1 154.9,115.9 156.1,115.6 157.3,115.4 158.4,115.1 159.6,114.9 160.8,114.6 162,114.4 163.1,114.1 164.3,113.9 165.5,113.6 166.7,113.4 167.8,113.1 169,112.9 170.2,112.6 171.4,112.5 172.5,112.6 173.7,112.8 174.9,112.9 176.1,113.1 177.2,113.3 178.4,113.4 179.6,113.6 180.8,113.7 181.9,113.9 183.1,114.1 184.3,114.2 185.5,114.4 186.6,114.6 187.8,114.7 189,114.9 190.2,115.1 191.3,115.2 192.5,115.4"/><polyline points="64.5,69.1 65.7,70.6 66.8,72.5 68,74.9 69.2,77.6 70.4,80.2 71.5,82.8 72.7,85.4 73.9,87.9 75.1,90.3 76.2,92.6 77.4,94.9 78.6,97.4 79.8,99.8 80.9,102 82.1,104 83.3,105.9 84.5,107.5 85.6,108.9 86.8,110 88,110.9 89.2,111.6 90.3,112.1 91.5,112.5 92.7,112.9 93.9,113.2 95,113.5 96.2,113.7 97.4,113.9 98.6,114 99.7,114.1 100.9,114.2 102.1,114.3 103.3,114.3 104.4,114.3 105.6,114.2 106.8,114.3 107.9,114.3 109.1,114.3 110.3,114.3 111.5,114.3 112.6,114.3 113.8,114.3 115,114.3 116.2,114.3 117.3,114.3 118.5,114.3 119.7,114.3 120.9,114.4 122,114.4 123.2,114.4 124.4,114.4 125.6,114.4 126.7,114.4 127.9,114.4 129.1,114.4 130.3,114.3 131.4,114.1 132.6,114 133.8,113.9 135,113.8 136.1,113.7 137.3,113.6 138.5,113.4 139.7,113.3 140.8,113.2 142,113.1 143.2,113 144.4,112.9 145.5,112.8 146.7,112.6 147.9,112.5 149.1,112.4 150.2,112.3 151.4,112.4 152.6,112.4 153.7,112.4 154.9,112.4 156.1,112.4 157.3,112.5 158.4,112.5 159.6,112.5 160.8,112.6 162,112.6 163.1,112.6 164.3,112.6 165.5,112.7 166.7,112.7 167.8,112.7 169,112.8 170.2,112.8 171.4,112.8 172.5,113 173.7,113.1 174.9,113.2 176.1,113.4 177.2,113.5 178.4,113.6 179.6,113.8 180.8,113.9 181.9,114 183.1,114.1 184.3,114.3 185.5,114.4 186.6,114.5 187.8,114.6 189,114.7 190.2,114.8 191.3,114.9 192.5,115"/></g><g fill="none" stroke="#7fd8e6" stroke-width="0.9" stroke-opacity="0.17"><polyline points="232.9,116.1 234.2,115.8 235.5,115.8 236.8,115.8 238.1,115.8 239.4,115.8 240.7,115.8 242,115.8 243.3,115.8 244.6,115.8 245.9,115.9 247.2,115.9 248.5,115.9 249.7,115.9 251,115.9 252.3,115.9 253.6,116 254.9,116 256.2,116.1 257.5,116.2 258.8,116.3 260.1,116.5 261.4,116.5 262.7,116.6 264,116.6 265.3,116.6 266.6,116.6 267.9,116.6 269.2,116.6 270.5,116.7 271.8,116.7 273.1,116.7 274.4,116.7 275.7,116.7 277,116.7 278.3,116.8 279.6,116.8 280.9,116.8 282.1,116.8 283.4,116.9 284.7,116.9 286,116.9 287.3,117 288.6,117 289.9,117 291.2,117.1 292.5,117.1 293.8,117.1 295.1,117.1 296.4,117.2 297.7,117.2 299,117.2 300.3,117.2 301.6,117.2 302.9,117.2 304.2,117.2 305.5,117.2 306.8,117.2 308.1,117.2 309.4,117.2 310.7,117.2 312,117.1 313.2,117.1 314.5,117.1 315.8,117.1 317.1,117.1 318.4,117.1 319.7,117.2 321,117.2 322.3,117.3 323.6,117.3 324.9,117.4 326.2,117.4 327.5,117.5 328.8,117.5 330.1,117.6 331.4,117.6 332.7,117.7 334,117.7 335.3,117.8 336.6,117.8 337.9,117.9 339.2,117.9 340.5,117.9 341.8,117.9 343.1,117.9 344.4,117.8 345.6,117.8 346.9,117.8 348.2,117.8 349.5,117.7 350.8,117.7 352.1,117.7 353.4,117.6 354.7,117.6 356,117.6 357.3,117.5 358.6,117.5 359.9,117.5 361.2,117.5"/><polyline points="232.9,116.1 234.2,116.7 235.5,116.8 236.8,116.8 238.1,116.9 239.4,116.9 240.7,117 242,117.1 243.3,117.1 244.6,117.2 245.9,117.2 247.2,117.3 248.5,117.4 249.7,117.4 251,117.5 252.3,117.6 253.6,117.7 254.9,117.7 256.2,117.8 257.5,117.9 258.8,118 260.1,118.1 261.4,118.2 262.7,118.2 264,118.2 265.3,118.2 266.6,118.2 267.9,118.1 269.2,118.1 270.5,118.1 271.8,118.1 273.1,118.1 274.4,118.1 275.7,118.1 277,118.1 278.3,118.1 279.6,118.2 280.9,118.2 282.1,118.2 283.4,118.3 284.7,118.3 286,118.3 287.3,118.3 288.6,118.4 289.9,118.4 291.2,118.4 292.5,118.4 293.8,118.5 295.1,118.5 296.4,118.5 297.7,118.5 299,118.5 300.3,118.4 301.6,118.4 302.9,118.4 304.2,118.4 305.5,118.3 306.8,118.3 308.1,118.3 309.4,118.2 310.7,118.2 312,118.2 313.2,118.1 314.5,118.1 315.8,118.1 317.1,118.1 318.4,118 319.7,118 321,118 322.3,118 323.6,118 324.9,118 326.2,118 327.5,118 328.8,118 330.1,118 331.4,118 332.7,118 334,118 335.3,118 336.6,118 337.9,118 339.2,118 340.5,118 341.8,118.1 343.1,118.1 344.4,118.2 345.6,118.2 346.9,118.2 348.2,118.3 349.5,118.3 350.8,118.4 352.1,118.4 353.4,118.5 354.7,118.5 356,118.5 357.3,118.6 358.6,118.6 359.9,118.7 361.2,118.7"/><polyline points="232.9,116.1 234.2,116.1 235.5,116.1 236.8,116 238.1,116 239.4,115.9 240.7,115.9 242,115.8 243.3,115.8 244.6,115.7 245.9,115.7 247.2,115.6 248.5,115.6 249.7,115.5 251,115.5 252.3,115.5 253.6,115.4 254.9,115.5 256.2,115.5 257.5,115.7 258.8,115.9 260.1,116 261.4,116.1 262.7,116.2 264,116.2 265.3,116.3 266.6,116.3 267.9,116.4 269.2,116.4 270.5,116.4 271.8,116.5 273.1,116.5 274.4,116.5 275.7,116.6 277,116.6 278.3,116.6 279.6,116.6 280.9,116.7 282.1,116.7 283.4,116.7 284.7,116.7 286,116.8 287.3,116.8 288.6,116.8 289.9,116.8 291.2,116.9 292.5,116.9 293.8,116.9 295.1,116.9 296.4,117 297.7,117 299,117 300.3,117 301.6,117 302.9,117 304.2,117.1 305.5,117.1 306.8,117.1 308.1,117.1 309.4,117.1 310.7,117.1 312,117.1 313.2,117.2 314.5,117.2 315.8,117.2 317.1,117.2 318.4,117.2 319.7,117.2 321,117.2 322.3,117.1 323.6,117.1 324.9,117.1 326.2,117.1 327.5,117 328.8,117 330.1,117 331.4,116.9 332.7,116.9 334,116.9 335.3,116.9 336.6,116.8 337.9,116.8 339.2,116.8 340.5,116.7 341.8,116.7 343.1,116.7 344.4,116.7 345.6,116.7 346.9,116.6 348.2,116.6 349.5,116.6 350.8,116.6 352.1,116.5 353.4,116.5 354.7,116.5 356,116.5 357.3,116.5 358.6,116.4 359.9,116.4 361.2,116.4"/><polyline points="232.9,116.1 234.2,116.2 235.5,116.2 236.8,116.2 238.1,116.2 239.4,116.2 240.7,116.2 242,116.3 243.3,116.3 244.6,116.3 245.9,116.3 247.2,116.3 248.5,116.3 249.7,116.4 251,116.4 252.3,116.4 253.6,116.5 254.9,116.5 256.2,116.6 257.5,116.7 258.8,116.9 260.1,117 261.4,117.1 262.7,117.2 264,117.2 265.3,117.2 266.6,117.2 267.9,117.3 269.2,117.3 270.5,117.3 271.8,117.3 273.1,117.3 274.4,117.4 275.7,117.4 277,117.4 278.3,117.4 279.6,117.4 280.9,117.3 282.1,117.3 283.4,117.3 284.7,117.3 286,117.3 287.3,117.3 288.6,117.3 289.9,117.3 291.2,117.2 292.5,117.2 293.8,117.2 295.1,117.2 296.4,117.2 297.7,117.2 299,117.2 300.3,117.2 301.6,117.2 302.9,117.2 304.2,117.2 305.5,117.2 306.8,117.2 308.1,117.3 309.4,117.3 310.7,117.3 312,117.3 313.2,117.3 314.5,117.3 315.8,117.3 317.1,117.3 318.4,117.3 319.7,117.4 321,117.4 322.3,117.4 323.6,117.4 324.9,117.4 326.2,117.4 327.5,117.5 328.8,117.5 330.1,117.5 331.4,117.5 332.7,117.5 334,117.5 335.3,117.5 336.6,117.6 337.9,117.6 339.2,117.6 340.5,117.6 341.8,117.6 343.1,117.6 344.4,117.5 345.6,117.5 346.9,117.5 348.2,117.5 349.5,117.5 350.8,117.5 352.1,117.5 353.4,117.5 354.7,117.4 356,117.4 357.3,117.4 358.6,117.4 359.9,117.4 361.2,117.4"/><polyline points="232.9,116.1 234.2,116 235.5,116 236.8,116 238.1,116.1 239.4,116.1 240.7,116.1 242,116.1 243.3,116.2 244.6,116.2 245.9,116.2 247.2,116.2 248.5,116.3 249.7,116.3 251,116.3 252.3,116.4 253.6,116.4 254.9,116.5 256.2,116.5 257.5,116.6 258.8,116.7 260.1,116.8 261.4,116.8 262.7,116.8 264,116.8 265.3,116.8 266.6,116.8 267.9,116.8 269.2,116.7 270.5,116.7 271.8,116.7 273.1,116.7 274.4,116.6 275.7,116.6 277,116.7 278.3,116.8 279.6,116.8 280.9,116.9 282.1,117 283.4,117.1 284.7,117.2 286,117.2 287.3,117.3 288.6,117.4 289.9,117.5 291.2,117.6 292.5,117.6 293.8,117.7 295.1,117.8 296.4,117.9 297.7,117.9 299,117.8 300.3,117.7 301.6,117.6 302.9,117.5 304.2,117.4 305.5,117.3 306.8,117.2 308.1,117.1 309.4,117 310.7,116.9 312,116.8 313.2,116.7 314.5,116.6 315.8,116.5 317.1,116.4 318.4,116.3 319.7,116.4 321,116.5 322.3,116.5 323.6,116.6 324.9,116.7 326.2,116.8 327.5,116.8 328.8,116.9 330.1,117 331.4,117 332.7,117.1 334,117.2 335.3,117.3 336.6,117.3 337.9,117.4 339.2,117.5 340.5,117.5 341.8,117.5 343.1,117.5 344.4,117.4 345.6,117.4 346.9,117.4 348.2,117.4 349.5,117.4 350.8,117.3 352.1,117.3 353.4,117.3 354.7,117.3 356,117.3 357.3,117.3 358.6,117.2 359.9,117.2 361.2,117.2"/><polyline points="232.9,116.1 234.2,116.9 235.5,117 236.8,117 238.1,117 239.4,117 240.7,117 242,117 243.3,117 244.6,117.1 245.9,117.1 247.2,117.1 248.5,117.1 249.7,117.2 251,117.2 252.3,117.2 253.6,117.3 254.9,117.3 256.2,117.3 257.5,117.5 258.8,117.6 260.1,117.7 261.4,117.8 262.7,117.8 264,117.8 265.3,117.8 266.6,117.8 267.9,117.8 269.2,117.8 270.5,117.8 271.8,117.8 273.1,117.8 274.4,117.8 275.7,117.8 277,117.8 278.3,117.9 279.6,117.9 280.9,117.9 282.1,117.9 283.4,118 284.7,118 286,118 287.3,118 288.6,118 289.9,118.1 291.2,118.1 292.5,118.1 293.8,118.1 295.1,118.1 296.4,118.1 297.7,118.2 299,118.2 300.3,118.2 301.6,118.2 302.9,118.2 304.2,118.2 305.5,118.2 306.8,118.2 308.1,118.2 309.4,118.2 310.7,118.2 312,118.2 313.2,118.2 314.5,118.2 315.8,118.2 317.1,118.2 318.4,118.2 319.7,118.2 321,118.2 322.3,118.2 323.6,118.3 324.9,118.3 326.2,118.3 327.5,118.3 328.8,118.4 330.1,118.4 331.4,118.4 332.7,118.4 334,118.4 335.3,118.5 336.6,118.5 337.9,118.5 339.2,118.5 340.5,118.5 341.8,118.5 343.1,118.5 344.4,118.5 345.6,118.5 346.9,118.5 348.2,118.5 349.5,118.5 350.8,118.4 352.1,118.4 353.4,118.4 354.7,118.4 356,118.4 357.3,118.4 358.6,118.4 359.9,118.4 361.2,118.4"/><polyline points="232.9,116.1 234.2,116.4 235.5,116.4 236.8,116.4 238.1,116.4 239.4,116.3 240.7,116.3 242,116.3 243.3,116.3 244.6,116.3 245.9,116.2 247.2,116.2 248.5,116.2 249.7,116.2 251,116.2 252.3,116.2 253.6,116.2 254.9,116.2 256.2,116.3 257.5,116.4 258.8,116.6 260.1,116.7 261.4,116.8 262.7,116.8 264,116.8 265.3,116.9 266.6,116.9 267.9,116.9 269.2,116.9 270.5,116.9 271.8,117 273.1,117 274.4,117 275.7,117 277,117 278.3,117.1 279.6,117.1 280.9,117.2 282.1,117.2 283.4,117.2 284.7,117.3 286,117.3 287.3,117.4 288.6,117.4 289.9,117.4 291.2,117.5 292.5,117.5 293.8,117.5 295.1,117.6 296.4,117.6 297.7,117.6 299,117.6 300.3,117.6 301.6,117.6 302.9,117.6 304.2,117.6 305.5,117.6 306.8,117.6 308.1,117.6 309.4,117.6 310.7,117.5 312,117.5 313.2,117.5 314.5,117.5 315.8,117.5 317.1,117.5 318.4,117.5 319.7,117.5 321,117.5 322.3,117.5 323.6,117.5 324.9,117.6 326.2,117.6 327.5,117.6 328.8,117.6 330.1,117.6 331.4,117.6 332.7,117.6 334,117.6 335.3,117.7 336.6,117.7 337.9,117.7 339.2,117.7 340.5,117.7 341.8,117.7 343.1,117.7 344.4,117.7 345.6,117.7 346.9,117.7 348.2,117.7 349.5,117.7 350.8,117.8 352.1,117.8 353.4,117.8 354.7,117.8 356,117.8 357.3,117.8 358.6,117.8 359.9,117.8 361.2,117.8"/><polyline points="232.9,116.1 234.2,116.9 235.5,116.9 236.8,117 238.1,117.1 239.4,117.1 240.7,117.2 242,117.3 243.3,117.3 244.6,117.4 245.9,117.5 247.2,117.5 248.5,117.6 249.7,117.7 251,117.8 252.3,117.9 253.6,118 254.9,118 256.2,118.1 257.5,118.2 258.8,118.4 260.1,118.5 261.4,118.6 262.7,118.7 264,118.7 265.3,118.7 266.6,118.7 267.9,118.8 269.2,118.8 270.5,118.8 271.8,118.8 273.1,118.8 274.4,118.8 275.7,118.9 277,118.8 278.3,118.8 279.6,118.8 280.9,118.8 282.1,118.7 283.4,118.7 284.7,118.7 286,118.6 287.3,118.6 288.6,118.6 289.9,118.5 291.2,118.5 292.5,118.5 293.8,118.4 295.1,118.4 296.4,118.4 297.7,118.4 299,118.4 300.3,118.4 301.6,118.4 302.9,118.4 304.2,118.4 305.5,118.4 306.8,118.4 308.1,118.4 309.4,118.4 310.7,118.4 312,118.5 313.2,118.5 314.5,118.5 315.8,118.5 317.1,118.5 318.4,118.5 319.7,118.5 321,118.5 322.3,118.5 323.6,118.5 324.9,118.5 326.2,118.5 327.5,118.5 328.8,118.5 330.1,118.5 331.4,118.5 332.7,118.5 334,118.5 335.3,118.4 336.6,118.4 337.9,118.4 339.2,118.4 340.5,118.4 341.8,118.4 343.1,118.4 344.4,118.4 345.6,118.4 346.9,118.4 348.2,118.4 349.5,118.4 350.8,118.4 352.1,118.4 353.4,118.4 354.7,118.4 356,118.4 357.3,118.4 358.6,118.4 359.9,118.4 361.2,118.4"/><polyline points="232.9,116.1 234.2,115.4 235.5,115.5 236.8,115.5 238.1,115.5 239.4,115.6 240.7,115.6 242,115.6 243.3,115.7 244.6,115.7 245.9,115.8 247.2,115.8 248.5,115.9 249.7,115.9 251,116 252.3,116 253.6,116.1 254.9,116.2 256.2,116.3 257.5,116.4 258.8,116.6 260.1,116.8 261.4,116.9 262.7,117 264,117.1 265.3,117.1 266.6,117.2 267.9,117.2 269.2,117.3 270.5,117.3 271.8,117.4 273.1,117.4 274.4,117.5 275.7,117.5 277,117.5 278.3,117.5 279.6,117.5 280.9,117.5 282.1,117.5 283.4,117.5 284.7,117.5 286,117.4 287.3,117.4 288.6,117.4 289.9,117.4 291.2,117.4 292.5,117.4 293.8,117.4 295.1,117.3 296.4,117.3 297.7,117.3 299,117.3 300.3,117.2 301.6,117.2 302.9,117.2 304.2,117.2 305.5,117.1 306.8,117.1 308.1,117.1 309.4,117.1 310.7,117 312,117 313.2,117 314.5,116.9 315.8,116.9 317.1,116.9 318.4,116.9 319.7,116.9 321,116.9 322.3,116.9 323.6,116.9 324.9,116.9 326.2,116.9 327.5,116.9 328.8,116.9 330.1,116.9 331.4,117 332.7,117 334,117 335.3,117 336.6,117 337.9,117 339.2,117 340.5,117 341.8,117 343.1,117 344.4,117 345.6,117 346.9,117 348.2,117 349.5,117 350.8,117 352.1,117 353.4,117 354.7,117 356,117 357.3,117 358.6,117 359.9,117 361.2,117"/><polyline points="232.9,116.1 234.2,116.1 235.5,116.1 236.8,116.2 238.1,116.2 239.4,116.3 240.7,116.3 242,116.3 243.3,116.4 244.6,116.4 245.9,116.5 247.2,116.5 248.5,116.6 249.7,116.6 251,116.7 252.3,116.8 253.6,116.8 254.9,116.9 256.2,116.9 257.5,117 258.8,117.1 260.1,117.2 261.4,117.2 262.7,117.2 264,117.2 265.3,117.2 266.6,117.2 267.9,117.1 269.2,117.1 270.5,117.1 271.8,117.1 273.1,117 274.4,117 275.7,117 277,117 278.3,117 279.6,117.1 280.9,117.1 282.1,117.1 283.4,117.1 284.7,117.2 286,117.2 287.3,117.2 288.6,117.2 289.9,117.2 291.2,117.3 292.5,117.3 293.8,117.3 295.1,117.3 296.4,117.3 297.7,117.4 299,117.4 300.3,117.4 301.6,117.4 302.9,117.4 304.2,117.5 305.5,117.5 306.8,117.5 308.1,117.5 309.4,117.5 310.7,117.6 312,117.6 313.2,117.6 314.5,117.6 315.8,117.6 317.1,117.6 318.4,117.7 319.7,117.6 321,117.6 322.3,117.6 323.6,117.6 324.9,117.5 326.2,117.5 327.5,117.5 328.8,117.5 330.1,117.4 331.4,117.4 332.7,117.4 334,117.3 335.3,117.3 336.6,117.3 337.9,117.3 339.2,117.2 340.5,117.2 341.8,117.2 343.1,117.2 344.4,117.2 345.6,117.2 346.9,117.2 348.2,117.2 349.5,117.2 350.8,117.2 352.1,117.3 353.4,117.3 354.7,117.3 356,117.3 357.3,117.3 358.6,117.3 359.9,117.3 361.2,117.3"/></g><g fill="none" stroke="#8edde9" stroke-width="1.0" stroke-opacity="0.2"><polyline points="232.9,122.5 234.2,121.7 235.5,121.7 236.8,121.7 238.1,121.7 239.4,121.6 240.7,121.6 242,121.6 243.3,121.6 244.6,121.6 245.9,121.6 247.2,121.6 248.5,121.6 249.7,121.6 251,121.6 252.3,121.7 253.6,121.7 254.9,121.7 256.2,121.8 257.5,122 258.8,122.2 260.1,122.3 261.4,122.5 262.7,122.5 264,122.6 265.3,122.6 266.6,122.7 267.9,122.8 269.2,122.8 270.5,122.9 271.8,122.9 273.1,122.9 274.4,123 275.7,123 277,123 278.3,123 279.6,123 280.9,123 282.1,123 283.4,123 284.7,123 286,123 287.3,123 288.6,123 289.9,123 291.2,123 292.5,122.9 293.8,122.9 295.1,122.9 296.4,122.9 297.7,122.9 299,122.9 300.3,122.9 301.6,122.9 302.9,123 304.2,123 305.5,123 306.8,123 308.1,123 309.4,123 310.7,123 312,123 313.2,123 314.5,123 315.8,123 317.1,123.1 318.4,123.1 319.7,123.1 321,123.1 322.3,123.1 323.6,123.1 324.9,123.1 326.2,123.1 327.5,123.2 328.8,123.2 330.1,123.2 331.4,123.2 332.7,123.2 334,123.2 335.3,123.2 336.6,123.2 337.9,123.2 339.2,123.3 340.5,123.3 341.8,123.2 343.1,123.2 344.4,123.2 345.6,123.2 346.9,123.2 348.2,123.2 349.5,123.2 350.8,123.2 352.1,123.2 353.4,123.2 354.7,123.2 356,123.2 357.3,123.2 358.6,123.2 359.9,123.2 361.2,123.1"/><polyline points="232.9,122.5 234.2,122.4 235.5,122.4 236.8,122.4 238.1,122.4 239.4,122.4 240.7,122.4 242,122.4 243.3,122.4 244.6,122.4 245.9,122.4 247.2,122.4 248.5,122.4 249.7,122.4 251,122.4 252.3,122.4 253.6,122.5 254.9,122.5 256.2,122.6 257.5,122.8 258.8,122.9 260.1,123.1 261.4,123.2 262.7,123.3 264,123.3 265.3,123.4 266.6,123.4 267.9,123.5 269.2,123.5 270.5,123.6 271.8,123.6 273.1,123.6 274.4,123.7 275.7,123.7 277,123.7 278.3,123.7 279.6,123.7 280.9,123.7 282.1,123.7 283.4,123.7 284.7,123.7 286,123.7 287.3,123.7 288.6,123.7 289.9,123.7 291.2,123.6 292.5,123.6 293.8,123.6 295.1,123.6 296.4,123.6 297.7,123.6 299,123.6 300.3,123.6 301.6,123.6 302.9,123.6 304.2,123.6 305.5,123.6 306.8,123.6 308.1,123.6 309.4,123.6 310.7,123.5 312,123.5 313.2,123.5 314.5,123.5 315.8,123.5 317.1,123.5 318.4,123.5 319.7,123.5 321,123.5 322.3,123.5 323.6,123.5 324.9,123.5 326.2,123.5 327.5,123.5 328.8,123.5 330.1,123.5 331.4,123.5 332.7,123.5 334,123.5 335.3,123.5 336.6,123.5 337.9,123.5 339.2,123.5 340.5,123.5 341.8,123.5 343.1,123.5 344.4,123.5 345.6,123.5 346.9,123.4 348.2,123.4 349.5,123.4 350.8,123.4 352.1,123.4 353.4,123.4 354.7,123.4 356,123.4 357.3,123.3 358.6,123.3 359.9,123.3 361.2,123.3"/><polyline points="232.9,122.5 234.2,123.6 235.5,123.6 236.8,123.6 238.1,123.6 239.4,123.6 240.7,123.7 242,123.7 243.3,123.7 244.6,123.7 245.9,123.8 247.2,123.8 248.5,123.8 249.7,123.9 251,123.9 252.3,124 253.6,124 254.9,124 256.2,124.1 257.5,124.1 258.8,124.2 260.1,124.3 261.4,124.4 262.7,124.4 264,124.4 265.3,124.3 266.6,124.3 267.9,124.3 269.2,124.3 270.5,124.2 271.8,124.2 273.1,124.2 274.4,124.1 275.7,124.1 277,124.1 278.3,124.2 279.6,124.2 280.9,124.2 282.1,124.2 283.4,124.2 284.7,124.2 286,124.2 287.3,124.3 288.6,124.3 289.9,124.3 291.2,124.3 292.5,124.3 293.8,124.3 295.1,124.3 296.4,124.3 297.7,124.4 299,124.4 300.3,124.5 301.6,124.5 302.9,124.6 304.2,124.6 305.5,124.7 306.8,124.7 308.1,124.8 309.4,124.8 310.7,124.9 312,124.9 313.2,124.9 314.5,125 315.8,125 317.1,125.1 318.4,125.1 319.7,125.1 321,125 322.3,125 323.6,124.9 324.9,124.9 326.2,124.8 327.5,124.8 328.8,124.7 330.1,124.7 331.4,124.6 332.7,124.6 334,124.5 335.3,124.5 336.6,124.4 337.9,124.4 339.2,124.3 340.5,124.3 341.8,124.3 343.1,124.3 344.4,124.3 345.6,124.3 346.9,124.3 348.2,124.3 349.5,124.3 350.8,124.3 352.1,124.3 353.4,124.3 354.7,124.3 356,124.3 357.3,124.3 358.6,124.3 359.9,124.3 361.2,124.3"/><polyline points="232.9,122.5 234.2,122.5 235.5,122.5 236.8,122.5 238.1,122.5 239.4,122.6 240.7,122.6 242,122.6 243.3,122.6 244.6,122.6 245.9,122.7 247.2,122.7 248.5,122.7 249.7,122.7 251,122.8 252.3,122.8 253.6,122.9 254.9,122.9 256.2,123 257.5,123.1 258.8,123.2 260.1,123.4 261.4,123.4 262.7,123.5 264,123.5 265.3,123.5 266.6,123.5 267.9,123.5 269.2,123.5 270.5,123.5 271.8,123.5 273.1,123.5 274.4,123.6 275.7,123.6 277,123.6 278.3,123.6 279.6,123.6 280.9,123.6 282.1,123.6 283.4,123.6 284.7,123.6 286,123.6 287.3,123.6 288.6,123.6 289.9,123.6 291.2,123.6 292.5,123.6 293.8,123.6 295.1,123.6 296.4,123.6 297.7,123.6 299,123.7 300.3,123.7 301.6,123.8 302.9,123.8 304.2,123.9 305.5,123.9 306.8,124 308.1,124 309.4,124 310.7,124.1 312,124.1 313.2,124.2 314.5,124.2 315.8,124.3 317.1,124.3 318.4,124.4 319.7,124.4 321,124.3 322.3,124.3 323.6,124.3 324.9,124.3 326.2,124.3 327.5,124.2 328.8,124.2 330.1,124.2 331.4,124.2 332.7,124.2 334,124.1 335.3,124.1 336.6,124.1 337.9,124.1 339.2,124.1 340.5,124 341.8,124 343.1,124 344.4,124 345.6,123.9 346.9,123.9 348.2,123.9 349.5,123.9 350.8,123.8 352.1,123.8 353.4,123.8 354.7,123.8 356,123.7 357.3,123.7 358.6,123.7 359.9,123.7 361.2,123.7"/><polyline points="232.9,122.5 234.2,121.7 235.5,121.7 236.8,121.7 238.1,121.7 239.4,121.7 240.7,121.7 242,121.8 243.3,121.8 244.6,121.8 245.9,121.8 247.2,121.8 248.5,121.9 249.7,121.9 251,121.9 252.3,121.9 253.6,122 254.9,122 256.2,122.1 257.5,122.2 258.8,122.4 260.1,122.5 261.4,122.6 262.7,122.6 264,122.6 265.3,122.7 266.6,122.7 267.9,122.7 269.2,122.7 270.5,122.7 271.8,122.7 273.1,122.7 274.4,122.8 275.7,122.8 277,122.8 278.3,122.8 279.6,122.8 280.9,122.8 282.1,122.9 283.4,122.9 284.7,122.9 286,122.9 287.3,122.9 288.6,122.9 289.9,122.9 291.2,122.9 292.5,123 293.8,123 295.1,123 296.4,123 297.7,123 299,123 300.3,123 301.6,123 302.9,123 304.2,123 305.5,123 306.8,123 308.1,122.9 309.4,122.9 310.7,122.9 312,122.9 313.2,122.9 314.5,122.9 315.8,122.9 317.1,122.9 318.4,122.9 319.7,122.9 321,123 322.3,123 323.6,123 324.9,123 326.2,123.1 327.5,123.1 328.8,123.1 330.1,123.2 331.4,123.2 332.7,123.2 334,123.3 335.3,123.3 336.6,123.3 337.9,123.4 339.2,123.4 340.5,123.4 341.8,123.3 343.1,123.2 344.4,123.2 345.6,123.1 346.9,123 348.2,123 349.5,122.9 350.8,122.9 352.1,122.8 353.4,122.7 354.7,122.7 356,122.6 357.3,122.5 358.6,122.5 359.9,122.4 361.2,122.4"/><polyline points="232.9,122.5 234.2,122.7 235.5,122.7 236.8,122.7 238.1,122.7 239.4,122.7 240.7,122.7 242,122.6 243.3,122.6 244.6,122.6 245.9,122.6 247.2,122.6 248.5,122.6 249.7,122.6 251,122.6 252.3,122.6 253.6,122.6 254.9,122.7 256.2,122.7 257.5,122.9 258.8,123 260.1,123.2 261.4,123.3 262.7,123.3 264,123.4 265.3,123.4 266.6,123.4 267.9,123.4 269.2,123.5 270.5,123.5 271.8,123.5 273.1,123.5 274.4,123.6 275.7,123.6 277,123.6 278.3,123.6 279.6,123.6 280.9,123.6 282.1,123.6 283.4,123.6 284.7,123.6 286,123.6 287.3,123.6 288.6,123.6 289.9,123.6 291.2,123.6 292.5,123.6 293.8,123.7 295.1,123.7 296.4,123.7 297.7,123.7 299,123.7 300.3,123.7 301.6,123.7 302.9,123.7 304.2,123.7 305.5,123.7 306.8,123.7 308.1,123.8 309.4,123.8 310.7,123.8 312,123.8 313.2,123.8 314.5,123.8 315.8,123.8 317.1,123.8 318.4,123.8 319.7,123.8 321,123.8 322.3,123.8 323.6,123.8 324.9,123.8 326.2,123.8 327.5,123.8 328.8,123.8 330.1,123.8 331.4,123.8 332.7,123.8 334,123.8 335.3,123.8 336.6,123.8 337.9,123.8 339.2,123.8 340.5,123.8 341.8,123.7 343.1,123.7 344.4,123.7 345.6,123.7 346.9,123.6 348.2,123.6 349.5,123.6 350.8,123.6 352.1,123.5 353.4,123.5 354.7,123.5 356,123.4 357.3,123.4 358.6,123.4 359.9,123.4 361.2,123.3"/></g><g fill="none" stroke="#8fdc6a" stroke-width="0.8" stroke-opacity="0.085"><polyline points="64.4,153.7 65.7,157.9 67,162.1 68.3,166.5 69.6,171 70.9,175.7 72.2,180.5 73.5,185.4 74.8,190 76,194.4 77.3,198.5 78.6,202.3 79.9,206 81.2,209.4 82.5,212.5 83.8,215.3 85.1,217.7 86.4,219.9 87.7,221.8 89,223.6 90.3,225.2 91.6,226.7 92.9,228 94.2,229.3 95.5,230.2 96.7,231 98,231.7 99.3,232.3 100.6,232.8 101.9,233.3 103.2,233.7 104.5,233.9 105.8,234.1 107.1,234.3 108.4,234.2 109.7,234.1 111,234 112.3,233.9 113.6,233.8 114.9,233.6 116.2,233.5 117.5,233.4 118.7,233.3 120,233.2 121.3,233 122.6,232.9 123.9,232.8 125.2,232.7 126.5,232.6 127.8,232.5 129.1,232.4 130.4,232.5 131.7,232.6 133,232.6 134.3,232.7 135.6,232.8 136.9,232.8 138.2,232.9 139.4,232.9 140.7,233 142,233.1 143.3,233.1 144.6,233.2 145.9,233.2 147.2,233.3 148.5,233.4 149.8,233.4 151.1,233.4 152.4,233.5 153.7,233.5 155,233.5 156.3,233.5 157.6,233.5 158.9,233.6 160.2,233.6 161.4,233.6 162.7,233.6 164,233.7 165.3,233.7 166.6,233.7 167.9,233.7 169.2,233.8 170.5,233.8 171.8,233.9 173.1,234.1 174.4,234.3 175.7,234.5 177,234.7 178.3,234.9 179.6,235.1 180.9,235.3 182.1,235.4 183.4,235.6 184.7,235.8 186,236 187.3,236.2 188.6,236.4 189.9,236.6 191.2,236.8 192.5,237"/><polyline points="64.4,153.8 65.7,157.8 67,161.8 68.3,166 69.6,170.4 70.9,174.9 72.2,179.5 73.5,184.2 74.8,188.6 76,192.6 77.3,196.4 78.6,200 79.9,203.4 81.2,206.5 82.5,209.2 83.8,211.5 85.1,213.6 86.4,215.4 87.7,217 89,218.4 90.3,219.6 91.6,220.7 92.9,221.8 94.2,222.7 95.5,223.4 96.7,224 98,224.5 99.3,224.9 100.6,225.3 101.9,225.6 103.2,225.7 104.5,225.8 105.8,225.8 107.1,225.8 108.4,225.9 109.7,225.9 111,225.9 112.3,226 113.6,226 114.9,226 116.2,226.1 117.5,226.1 118.7,226.1 120,226.2 121.3,226.2 122.6,226.2 123.9,226.3 125.2,226.3 126.5,226.3 127.8,226.3 129.1,226.5 130.4,226.8 131.7,227 133,227.3 134.3,227.6 135.6,227.8 136.9,228.1 138.2,228.4 139.4,228.6 140.7,228.9 142,229.2 143.3,229.4 144.6,229.7 145.9,229.9 147.2,230.2 148.5,230.5 149.8,230.7 151.1,230.6 152.4,230.5 153.7,230.4 155,230.2 156.3,230.1 157.6,230 158.9,229.9 160.2,229.8 161.4,229.6 162.7,229.5 164,229.4 165.3,229.3 166.6,229.2 167.9,229 169.2,228.9 170.5,228.8 171.8,228.7 173.1,228.7 174.4,228.7 175.7,228.7 177,228.7 178.3,228.6 179.6,228.6 180.9,228.6 182.1,228.6 183.4,228.6 184.7,228.5 186,228.5 187.3,228.5 188.6,228.5 189.9,228.5 191.2,228.4 192.5,228.4"/><polyline points="64.4,153.8 65.7,158.4 67,163.1 68.3,168.2 69.6,173.5 70.9,178.9 72.2,184.3 73.5,189.1 74.8,193.5 76,197.5 77.3,201.2 78.6,204.3 79.9,206.7 81.2,208.8 82.5,210.6 83.8,212.2 85.1,213.6 86.4,214.9 87.7,215.8 89,216.6 90.3,217.1 91.6,217.6 92.9,218 94.2,218.3 95.5,218.4 96.7,218.5 98,218.6 99.3,218.6 100.6,218.7 101.9,218.7 103.2,218.7 104.5,218.8 105.8,218.8 107.1,218.9 108.4,218.9 109.7,218.9 111,218.9 112.3,218.9 113.6,218.9 114.9,218.9 116.2,218.9 117.5,218.9 118.7,218.9 120,218.9 121.3,218.9 122.6,218.9 123.9,218.9 125.2,218.9 126.5,218.9 127.8,218.9 129.1,218.9 130.4,218.8 131.7,218.7 133,218.6 134.3,218.5 135.6,218.5 136.9,218.4 138.2,218.3 139.4,218.2 140.7,218.1 142,218 143.3,218 144.6,217.9 145.9,217.8 147.2,217.7 148.5,217.6 149.8,217.5 151.1,217.7 152.4,217.9 153.7,218 155,218.2 156.3,218.4 157.6,218.5 158.9,218.7 160.2,218.9 161.4,219 162.7,219.2 164,219.3 165.3,219.5 166.6,219.7 167.9,219.8 169.2,220 170.5,220.2 171.8,220.2 173.1,220.2 174.4,220.2 175.7,220.2 177,220.2 178.3,220.2 179.6,220.2 180.9,220.2 182.1,220.1 183.4,220.1 184.7,220 186,219.9 187.3,219.8 188.6,219.8 189.9,219.7 191.2,219.6 192.5,219.5"/><polyline points="64.4,150.8 65.7,155.1 67,159.6 68.3,164.1 69.6,168.8 70.9,173.6 72.2,178.5 73.5,183.3 74.8,187.8 76,191.8 77.3,195.6 78.6,199.1 79.9,202.3 81.2,205.2 82.5,207.7 83.8,209.7 85.1,211.4 86.4,213.1 87.7,214.6 89,216.1 90.3,217.4 91.6,218.6 92.9,219.7 94.2,220.6 95.5,221.4 96.7,222 98,222.5 99.3,223 100.6,223.4 101.9,223.7 103.2,223.9 104.5,224 105.8,224.1 107.1,224.2 108.4,224.3 109.7,224.5 111,224.6 112.3,224.7 113.6,224.8 114.9,225 116.2,225.1 117.5,225.2 118.7,225.3 120,225.5 121.3,225.6 122.6,225.7 123.9,225.8 125.2,226 126.5,226.1 127.8,226.2 129.1,226.3 130.4,226.4 131.7,226.5 133,226.6 134.3,226.6 135.6,226.7 136.9,226.8 138.2,226.9 139.4,226.9 140.7,227 142,227.1 143.3,227.2 144.6,227.3 145.9,227.3 147.2,227.4 148.5,227.5 149.8,227.6 151.1,227.6 152.4,227.6 153.7,227.7 155,227.7 156.3,227.7 157.6,227.8 158.9,227.8 160.2,227.8 161.4,227.9 162.7,227.9 164,228 165.3,228 166.6,228 167.9,228.1 169.2,228.1 170.5,228.1 171.8,228.1 173.1,227.9 174.4,227.8 175.7,227.6 177,227.5 178.3,227.3 179.6,227.1 180.9,227 182.1,226.8 183.4,226.7 184.7,226.5 186,226.4 187.3,226.2 188.6,226 189.9,225.9 191.2,225.7 192.5,225.6"/><polyline points="64.4,152.7 65.7,156.5 67,160.4 68.3,164.4 69.6,168.6 70.9,173 72.2,177.5 73.5,181.9 74.8,186 76,189.8 77.3,193.2 78.6,196.4 79.9,199.5 81.2,202.1 82.5,204.3 83.8,206.2 85.1,207.9 86.4,209.3 87.7,210.4 89,211.4 90.3,212.3 91.6,213.1 92.9,213.7 94.2,214.3 95.5,214.8 96.7,215.3 98,215.7 99.3,216 100.6,216.1 101.9,216.2 103.2,216.2 104.5,216.1 105.8,216.1 107.1,216 108.4,216.2 109.7,216.4 111,216.6 112.3,216.8 113.6,217 114.9,217.2 116.2,217.4 117.5,217.6 118.7,217.8 120,218 121.3,218.2 122.6,218.5 123.9,218.7 125.2,218.9 126.5,219.1 127.8,219.3 129.1,219.4 130.4,219.6 131.7,219.8 133,219.9 134.3,220.1 135.6,220.3 136.9,220.4 138.2,220.6 139.4,220.8 140.7,220.9 142,221.1 143.3,221.2 144.6,221.4 145.9,221.6 147.2,221.7 148.5,221.9 149.8,222.1 151.1,221.9 152.4,221.6 153.7,221.4 155,221.2 156.3,221 157.6,220.8 158.9,220.6 160.2,220.4 161.4,220.2 162.7,220 164,219.8 165.3,219.6 166.6,219.4 167.9,219.2 169.2,219 170.5,218.8 171.8,218.7 173.1,218.9 174.4,219 175.7,219.1 177,219.2 178.3,219.4 179.6,219.5 180.9,219.6 182.1,219.7 183.4,219.8 184.7,220 186,220.1 187.3,220.2 188.6,220.3 189.9,220.5 191.2,220.6 192.5,220.7"/><polyline points="64.4,152 65.7,156.2 67,160.5 68.3,164.8 69.6,169.2 70.9,173.8 72.2,178.4 73.5,183 74.8,187.5 76,191.6 77.3,195.5 78.6,199 79.9,202.3 81.2,205.5 82.5,208.3 83.8,210.8 85.1,212.8 86.4,214.7 87.7,216.6 89,218.3 90.3,219.9 91.6,221.3 92.9,222.6 94.2,223.8 95.5,224.8 96.7,225.7 98,226.4 99.3,227 100.6,227.6 101.9,228.2 103.2,228.6 104.5,229 105.8,229.2 107.1,229.4 108.4,229.5 109.7,229.5 111,229.6 112.3,229.6 113.6,229.6 114.9,229.7 116.2,229.7 117.5,229.7 118.7,229.7 120,229.8 121.3,229.8 122.6,229.8 123.9,229.9 125.2,229.9 126.5,229.9 127.8,229.9 129.1,229.9 130.4,229.9 131.7,229.8 133,229.8 134.3,229.7 135.6,229.7 136.9,229.6 138.2,229.6 139.4,229.5 140.7,229.5 142,229.4 143.3,229.4 144.6,229.3 145.9,229.2 147.2,229.2 148.5,229.1 149.8,229.1 151.1,229.1 152.4,229.2 153.7,229.2 155,229.2 156.3,229.3 157.6,229.3 158.9,229.4 160.2,229.4 161.4,229.5 162.7,229.5 164,229.5 165.3,229.6 166.6,229.6 167.9,229.7 169.2,229.7 170.5,229.8 171.8,229.8 173.1,229.9 174.4,229.9 175.7,230 177,230 178.3,230.1 179.6,230.1 180.9,230.2 182.1,230.2 183.4,230.3 184.7,230.3 186,230.4 187.3,230.4 188.6,230.5 189.9,230.5 191.2,230.6 192.5,230.6"/><polyline points="64.4,154.3 65.7,158.5 67,162.7 68.3,167.1 69.6,171.7 70.9,176.5 72.2,181.3 73.5,185.9 74.8,190.2 76,194.1 77.3,197.7 78.6,201.1 79.9,204.2 81.2,206.8 82.5,208.9 83.8,210.7 85.1,212.3 86.4,213.8 87.7,215.2 89,216.4 90.3,217.6 91.6,218.7 92.9,219.7 94.2,220.4 95.5,221.2 96.7,221.8 98,222.4 99.3,222.8 100.6,223.1 101.9,223.4 103.2,223.6 104.5,223.8 105.8,224 107.1,224.2 108.4,224.3 109.7,224.4 111,224.5 112.3,224.6 113.6,224.7 114.9,224.8 116.2,224.9 117.5,225.1 118.7,225.2 120,225.3 121.3,225.4 122.6,225.5 123.9,225.6 125.2,225.7 126.5,225.8 127.8,225.9 129.1,225.9 130.4,225.7 131.7,225.5 133,225.3 134.3,225.2 135.6,225 136.9,224.8 138.2,224.6 139.4,224.4 140.7,224.2 142,224 143.3,223.9 144.6,223.7 145.9,223.5 147.2,223.3 148.5,223.1 149.8,222.9 151.1,223.3 152.4,223.7 153.7,224.1 155,224.5 156.3,224.9 157.6,225.3 158.9,225.7 160.2,226.1 161.4,226.5 162.7,226.9 164,227.3 165.3,227.7 166.6,228.1 167.9,228.5 169.2,228.9 170.5,229.3 171.8,229.4 173.1,229.3 174.4,229.2 175.7,229.1 177,229 178.3,228.9 179.6,228.8 180.9,228.7 182.1,228.6 183.4,228.5 184.7,228.4 186,228.3 187.3,228.2 188.6,228.1 189.9,228 191.2,227.9 192.5,227.8"/><polyline points="64.4,151.7 65.7,155.3 67,158.9 68.3,162.6 69.6,166.4 70.9,170.4 72.2,174.4 73.5,178.4 74.8,182.4 76,186.1 77.3,189.5 78.6,192.6 79.9,195.6 81.2,198.3 82.5,200.9 83.8,203.1 85.1,204.9 86.4,206.6 87.7,208.3 89,209.8 90.3,211.2 91.6,212.4 92.9,213.6 94.2,214.8 95.5,215.9 96.7,216.9 98,217.7 99.3,218.5 100.6,219.2 101.9,219.8 103.2,220.4 104.5,220.9 105.8,221.3 107.1,221.6 108.4,221.6 109.7,221.6 111,221.5 112.3,221.4 113.6,221.4 114.9,221.3 116.2,221.2 117.5,221.1 118.7,221 120,220.9 121.3,220.9 122.6,220.8 123.9,220.7 125.2,220.6 126.5,220.6 127.8,220.5 129.1,220.5 130.4,220.7 131.7,220.9 133,221.1 134.3,221.3 135.6,221.4 136.9,221.6 138.2,221.8 139.4,222 140.7,222.2 142,222.4 143.3,222.5 144.6,222.7 145.9,222.9 147.2,223.1 148.5,223.3 149.8,223.4 151.1,223.4 152.4,223.3 153.7,223.3 155,223.2 156.3,223.2 157.6,223.1 158.9,223.1 160.2,223 161.4,222.9 162.7,222.9 164,222.8 165.3,222.8 166.6,222.7 167.9,222.7 169.2,222.6 170.5,222.6 171.8,222.6 173.1,222.6 174.4,222.6 175.7,222.7 177,222.7 178.3,222.7 179.6,222.8 180.9,222.8 182.1,222.8 183.4,222.9 184.7,222.9 186,222.9 187.3,223 188.6,223 189.9,223 191.2,223.1 192.5,223.1"/><polyline points="64.4,152.5 65.7,157.3 67,162.2 68.3,167.4 69.6,172.7 70.9,178.2 72.2,183.8 73.5,189 74.8,193.8 76,198.2 77.3,202.2 78.6,206 79.9,209.4 81.2,212.1 82.5,214.5 83.8,216.7 85.1,218.6 86.4,220.2 87.7,221.5 89,222.8 90.3,223.8 91.6,224.7 92.9,225.3 94.2,225.8 95.5,226.2 96.7,226.4 98,226.5 99.3,226.4 100.6,226.3 101.9,226.2 103.2,226.1 104.5,225.9 105.8,225.8 107.1,225.6 108.4,225.8 109.7,226.1 111,226.3 112.3,226.5 113.6,226.7 114.9,226.9 116.2,227.1 117.5,227.4 118.7,227.6 120,227.8 121.3,228 122.6,228.2 123.9,228.4 125.2,228.6 126.5,228.8 127.8,229 129.1,229.2 130.4,229.3 131.7,229.5 133,229.6 134.3,229.7 135.6,229.9 136.9,230 138.2,230.1 139.4,230.3 140.7,230.4 142,230.6 143.3,230.7 144.6,230.8 145.9,231 147.2,231.1 148.5,231.2 149.8,231.4 151.1,231.4 152.4,231.4 153.7,231.4 155,231.4 156.3,231.4 157.6,231.4 158.9,231.4 160.2,231.4 161.4,231.5 162.7,231.5 164,231.5 165.3,231.5 166.6,231.5 167.9,231.5 169.2,231.5 170.5,231.5 171.8,231.5 173.1,231.6 174.4,231.7 175.7,231.7 177,231.8 178.3,231.8 179.6,231.9 180.9,232 182.1,232 183.4,232.1 184.7,232.1 186,232.2 187.3,232.3 188.6,232.3 189.9,232.4 191.2,232.4 192.5,232.5"/><polyline points="64.4,153.3 65.7,157.8 67,162.3 68.3,167.2 69.6,172.3 70.9,177.6 72.2,182.8 73.5,187.6 74.8,191.9 76,195.8 77.3,199.4 78.6,202.6 79.9,205.1 81.2,207.2 82.5,209.1 83.8,210.7 85.1,212.1 86.4,213.2 87.7,214.2 89,214.9 90.3,215.4 91.6,215.8 92.9,216.1 94.2,216.3 95.5,216.5 96.7,216.5 98,216.5 99.3,216.5 100.6,216.4 101.9,216.3 103.2,216.3 104.5,216.2 105.8,216.1 107.1,216.1 108.4,216.2 109.7,216.4 111,216.5 112.3,216.7 113.6,216.8 114.9,217 116.2,217.1 117.5,217.3 118.7,217.4 120,217.6 121.3,217.7 122.6,217.9 123.9,218 125.2,218.2 126.5,218.3 127.8,218.5 129.1,218.4 130.4,218.3 131.7,218.1 133,218 134.3,217.8 135.6,217.6 136.9,217.5 138.2,217.3 139.4,217.2 140.7,217 142,216.8 143.3,216.7 144.6,216.5 145.9,216.4 147.2,216.2 148.5,216.1 149.8,215.9 151.1,216.1 152.4,216.2 153.7,216.4 155,216.5 156.3,216.7 157.6,216.8 158.9,217 160.2,217.1 161.4,217.3 162.7,217.4 164,217.6 165.3,217.7 166.6,217.9 167.9,218.1 169.2,218.2 170.5,218.4 171.8,218.4 173.1,218.4 174.4,218.4 175.7,218.3 177,218.3 178.3,218.3 179.6,218.3 180.9,218.2 182.1,218.2 183.4,218.2 184.7,218.1 186,218.1 187.3,218 188.6,217.9 189.9,217.8 191.2,217.7 192.5,217.7"/><polyline points="64.4,152.6 65.7,156.2 67,159.9 68.3,163.8 69.6,167.8 70.9,172 72.2,176.3 73.5,180.6 74.8,184.7 76,188.4 77.3,191.9 78.6,195.1 79.9,198.2 81.2,201 82.5,203.4 83.8,205.4 85.1,207.2 86.4,208.7 87.7,210.1 89,211.3 90.3,212.4 91.6,213.4 92.9,214.3 94.2,215.2 95.5,216 96.7,216.6 98,217.2 99.3,217.7 100.6,218.1 101.9,218.4 103.2,218.7 104.5,218.8 105.8,218.8 107.1,218.9 108.4,219.1 109.7,219.3 111,219.6 112.3,219.8 113.6,220 114.9,220.2 116.2,220.4 117.5,220.6 118.7,220.8 120,221 121.3,221.2 122.6,221.4 123.9,221.6 125.2,221.9 126.5,222.1 127.8,222.3 129.1,222.3 130.4,222.2 131.7,222.2 133,222.1 134.3,222 135.6,221.9 136.9,221.8 138.2,221.7 139.4,221.7 140.7,221.6 142,221.5 143.3,221.4 144.6,221.3 145.9,221.2 147.2,221.1 148.5,221 149.8,221 151.1,221.1 152.4,221.2 153.7,221.4 155,221.5 156.3,221.7 157.6,221.8 158.9,221.9 160.2,222.1 161.4,222.2 162.7,222.4 164,222.5 165.3,222.7 166.6,222.8 167.9,223 169.2,223.1 170.5,223.2 171.8,223.3 173.1,223.3 174.4,223.2 175.7,223.2 177,223.2 178.3,223.2 179.6,223.1 180.9,223.1 182.1,223.1 183.4,223 184.7,223 186,223 187.3,223 188.6,222.9 189.9,222.9 191.2,222.9 192.5,222.8"/><polyline points="64.4,155.3 65.7,159.6 67,164 68.3,168.8 69.6,173.8 70.9,178.9 72.2,184.1 73.5,188.9 74.8,193.3 76,197.3 77.3,201 78.6,204.4 79.9,207.3 81.2,209.7 82.5,211.7 83.8,213.6 85.1,215.2 86.4,216.7 87.7,218 89,219.2 90.3,220.3 91.6,221.1 92.9,221.8 94.2,222.5 95.5,223.1 96.7,223.6 98,223.9 99.3,224.2 100.6,224.4 101.9,224.7 103.2,224.9 104.5,225.1 105.8,225.3 107.1,225.5 108.4,225.5 109.7,225.5 111,225.5 112.3,225.5 113.6,225.5 114.9,225.5 116.2,225.5 117.5,225.5 118.7,225.5 120,225.5 121.3,225.4 122.6,225.4 123.9,225.4 125.2,225.4 126.5,225.4 127.8,225.4 129.1,225.3 130.4,225.3 131.7,225.2 133,225.2 134.3,225.1 135.6,225.1 136.9,225 138.2,225 139.4,224.9 140.7,224.9 142,224.8 143.3,224.8 144.6,224.7 145.9,224.7 147.2,224.6 148.5,224.6 149.8,224.5 151.1,224.6 152.4,224.7 153.7,224.7 155,224.8 156.3,224.8 157.6,224.9 158.9,224.9 160.2,225 161.4,225 162.7,225.1 164,225.1 165.3,225.2 166.6,225.2 167.9,225.3 169.2,225.4 170.5,225.4 171.8,225.5 173.1,225.7 174.4,225.8 175.7,226 177,226.1 178.3,226.3 179.6,226.4 180.9,226.6 182.1,226.7 183.4,226.9 184.7,227 186,227.2 187.3,227.3 188.6,227.5 189.9,227.6 191.2,227.8 192.5,227.9"/><polyline points="64.4,155.8 65.7,159.2 67,162.6 68.3,166.1 69.6,169.8 70.9,173.6 72.2,177.5 73.5,181.5 74.8,185.3 76,188.9 77.3,192.1 78.6,195.1 79.9,197.9 81.2,200.5 82.5,203 83.8,205 85.1,206.7 86.4,208.3 87.7,209.9 89,211.4 90.3,212.7 91.6,214 92.9,215.2 94.2,216.4 95.5,217.6 96.7,218.6 98,219.6 99.3,220.4 100.6,221.2 101.9,221.9 103.2,222.6 104.5,223.2 105.8,223.6 107.1,224 108.4,224 109.7,223.9 111,223.8 112.3,223.7 113.6,223.6 114.9,223.4 116.2,223.3 117.5,223.2 118.7,223.1 120,222.9 121.3,222.8 122.6,222.7 123.9,222.6 125.2,222.5 126.5,222.4 127.8,222.2 129.1,222.2 130.4,222.2 131.7,222.3 133,222.3 134.3,222.4 135.6,222.4 136.9,222.5 138.2,222.5 139.4,222.6 140.7,222.6 142,222.7 143.3,222.7 144.6,222.8 145.9,222.8 147.2,222.9 148.5,222.9 149.8,222.9 151.1,222.9 152.4,222.8 153.7,222.7 155,222.7 156.3,222.6 157.6,222.6 158.9,222.5 160.2,222.4 161.4,222.4 162.7,222.3 164,222.2 165.3,222.2 166.6,222.1 167.9,222 169.2,222 170.5,221.9 171.8,222 173.1,222.3 174.4,222.6 175.7,222.9 177,223.2 178.3,223.5 179.6,223.8 180.9,224.1 182.1,224.4 183.4,224.7 184.7,225 186,225.3 187.3,225.6 188.6,225.9 189.9,226.2 191.2,226.5 192.5,226.8"/><polyline points="64.4,150.4 65.7,154.4 67,158.4 68.3,162.6 69.6,167.1 70.9,171.6 72.2,176.3 73.5,181 74.8,185.4 76,189.4 77.3,193.2 78.6,196.7 79.9,200 81.2,203.1 82.5,205.7 83.8,207.9 85.1,209.9 86.4,211.7 87.7,213.2 89,214.5 90.3,215.8 91.6,216.9 92.9,218 94.2,218.8 95.5,219.5 96.7,220.1 98,220.7 99.3,221.1 100.6,221.5 101.9,221.7 103.2,221.9 104.5,222 105.8,222 107.1,222.1 108.4,222.1 109.7,222.1 111,222.2 112.3,222.2 113.6,222.2 114.9,222.2 116.2,222.2 117.5,222.3 118.7,222.3 120,222.3 121.3,222.3 122.6,222.4 123.9,222.4 125.2,222.4 126.5,222.4 127.8,222.4 129.1,222.4 130.4,222.3 131.7,222.3 133,222.2 134.3,222.1 135.6,222 136.9,222 138.2,221.9 139.4,221.8 140.7,221.7 142,221.7 143.3,221.6 144.6,221.5 145.9,221.5 147.2,221.4 148.5,221.3 149.8,221.2 151.1,221.3 152.4,221.4 153.7,221.5 155,221.6 156.3,221.7 157.6,221.7 158.9,221.8 160.2,221.9 161.4,222 162.7,222.1 164,222.2 165.3,222.3 166.6,222.4 167.9,222.5 169.2,222.5 170.5,222.6 171.8,222.7 173.1,222.8 174.4,222.9 175.7,222.9 177,223 178.3,223.1 179.6,223.2 180.9,223.2 182.1,223.3 183.4,223.4 184.7,223.5 186,223.5 187.3,223.6 188.6,223.7 189.9,223.8 191.2,223.8 192.5,223.9"/><polyline points="64.4,150.7 65.7,155.3 67,159.9 68.3,164.8 69.6,169.8 70.9,174.9 72.2,180.2 73.5,185.1 74.8,189.6 76,193.7 77.3,197.4 78.6,200.9 79.9,204 81.2,206.5 82.5,208.6 83.8,210.4 85.1,212 86.4,213.6 87.7,215.1 89,216.6 90.3,217.9 91.6,219.1 92.9,220.1 94.2,221 95.5,221.8 96.7,222.5 98,223.1 99.3,223.5 100.6,223.9 101.9,224.2 103.2,224.5 104.5,224.8 105.8,225.1 107.1,225.4 108.4,225.3 109.7,225.3 111,225.2 112.3,225.2 113.6,225.1 114.9,225.1 116.2,225 117.5,224.9 118.7,224.9 120,224.8 121.3,224.8 122.6,224.7 123.9,224.6 125.2,224.6 126.5,224.5 127.8,224.4 129.1,224.4 130.4,224.3 131.7,224.3 133,224.3 134.3,224.3 135.6,224.2 136.9,224.2 138.2,224.2 139.4,224.1 140.7,224.1 142,224.1 143.3,224 144.6,224 145.9,224 147.2,224 148.5,223.9 149.8,223.9 151.1,223.9 152.4,224 153.7,224 155,224 156.3,224.1 157.6,224.1 158.9,224.1 160.2,224.1 161.4,224.2 162.7,224.2 164,224.2 165.3,224.3 166.6,224.3 167.9,224.3 169.2,224.4 170.5,224.4 171.8,224.5 173.1,224.6 174.4,224.7 175.7,224.8 177,225 178.3,225.1 179.6,225.2 180.9,225.3 182.1,225.4 183.4,225.6 184.7,225.7 186,225.8 187.3,225.9 188.6,226.1 189.9,226.2 191.2,226.3 192.5,226.4"/><polyline points="64.4,153.6 65.7,157.3 67,161 68.3,164.8 69.6,168.8 70.9,172.9 72.2,177 73.5,181.2 74.8,185.4 76,189.3 77.3,192.9 78.6,196.2 79.9,199.3 81.2,202.3 82.5,205.1 83.8,207.5 85.1,209.5 86.4,211.3 87.7,212.9 89,214.3 90.3,215.6 91.6,216.7 92.9,217.8 94.2,218.7 95.5,219.6 96.7,220.4 98,221 99.3,221.6 100.6,222 101.9,222.4 103.2,222.8 104.5,223 105.8,223.2 107.1,223.3 108.4,223.5 109.7,223.6 111,223.8 112.3,223.9 113.6,224.1 114.9,224.2 116.2,224.3 117.5,224.4 118.7,224.5 120,224.7 121.3,224.8 122.6,224.9 123.9,225 125.2,225.1 126.5,225.3 127.8,225.4 129.1,225.4 130.4,225.4 131.7,225.3 133,225.3 134.3,225.2 135.6,225.2 136.9,225.1 138.2,225 139.4,225 140.7,224.9 142,224.9 143.3,224.8 144.6,224.8 145.9,224.7 147.2,224.6 148.5,224.6 149.8,224.5 151.1,224.6 152.4,224.7 153.7,224.7 155,224.8 156.3,224.9 157.6,224.9 158.9,225 160.2,225.1 161.4,225.1 162.7,225.2 164,225.3 165.3,225.3 166.6,225.4 167.9,225.5 169.2,225.6 170.5,225.6 171.8,225.8 173.1,226.2 174.4,226.5 175.7,226.9 177,227.2 178.3,227.6 179.6,227.9 180.9,228.3 182.1,228.6 183.4,229 184.7,229.4 186,229.7 187.3,230.1 188.6,230.4 189.9,230.8 191.2,231.1 192.5,231.5"/><polyline points="64.4,153.8 65.7,158.3 67,162.8 68.3,167.7 69.6,172.7 70.9,177.8 72.2,183 73.5,187.7 74.8,192 76,195.8 77.3,199.3 78.6,202.5 79.9,205 81.2,207 82.5,208.8 83.8,210.2 85.1,211.5 86.4,212.6 87.7,213.9 89,215 90.3,215.9 91.6,216.7 92.9,217.4 94.2,218.1 95.5,218.7 96.7,219.2 98,219.5 99.3,219.8 100.6,220.1 101.9,220.4 103.2,220.7 104.5,220.9 105.8,221.2 107.1,221.4 108.4,221.5 109.7,221.5 111,221.6 112.3,221.7 113.6,221.7 114.9,221.8 116.2,221.8 117.5,221.9 118.7,221.9 120,222 121.3,222 122.6,222.1 123.9,222.1 125.2,222.2 126.5,222.2 127.8,222.2 129.1,222.2 130.4,222.1 131.7,221.9 133,221.8 134.3,221.7 135.6,221.5 136.9,221.4 138.2,221.3 139.4,221.1 140.7,221 142,220.9 143.3,220.7 144.6,220.6 145.9,220.5 147.2,220.3 148.5,220.2 149.8,220.1 151.1,220.1 152.4,220.1 153.7,220.2 155,220.2 156.3,220.2 157.6,220.2 158.9,220.2 160.2,220.3 161.4,220.3 162.7,220.3 164,220.3 165.3,220.3 166.6,220.4 167.9,220.4 169.2,220.4 170.5,220.4 171.8,220.6 173.1,220.9 174.4,221.1 175.7,221.4 177,221.7 178.3,222 179.6,222.3 180.9,222.6 182.1,222.9 183.4,223.1 184.7,223.4 186,223.7 187.3,224 188.6,224.3 189.9,224.6 191.2,224.8 192.5,225"/><polyline points="64.4,152.9 65.7,157.5 67,162.2 68.3,167.2 69.6,172.4 70.9,177.6 72.2,182.9 73.5,187.7 74.8,192 76,195.9 77.3,199.5 78.6,202.7 79.9,205.3 81.2,207.4 82.5,209.2 83.8,210.6 85.1,211.9 86.4,213.1 87.7,214.4 89,215.5 90.3,216.5 91.6,217.3 92.9,218 94.2,218.7 95.5,219.3 96.7,219.8 98,220.1 99.3,220.4 100.6,220.6 101.9,220.9 103.2,221.1 104.5,221.4 105.8,221.6 107.1,221.8 108.4,222 109.7,222.1 111,222.3 112.3,222.4 113.6,222.6 114.9,222.7 116.2,222.9 117.5,223 118.7,223.2 120,223.3 121.3,223.5 122.6,223.6 123.9,223.8 125.2,223.9 126.5,224 127.8,224.2 129.1,224.2 130.4,224 131.7,223.8 133,223.6 134.3,223.4 135.6,223.2 136.9,223 138.2,222.8 139.4,222.6 140.7,222.4 142,222.2 143.3,222 144.6,221.8 145.9,221.7 147.2,221.5 148.5,221.3 149.8,221.1 151.1,221.4 152.4,221.7 153.7,222 155,222.3 156.3,222.6 157.6,222.9 158.9,223.2 160.2,223.5 161.4,223.8 162.7,224.1 164,224.4 165.3,224.7 166.6,224.9 167.9,225.2 169.2,225.5 170.5,225.8 171.8,226 173.1,225.9 174.4,225.8 175.7,225.8 177,225.7 178.3,225.7 179.6,225.6 180.9,225.6 182.1,225.5 183.4,225.4 184.7,225.4 186,225.3 187.3,225.3 188.6,225.2 189.9,225.1 191.2,225 192.5,224.9"/><polyline points="64.4,151.7 65.7,155.7 67,159.8 68.3,163.9 69.6,168.3 70.9,172.7 72.2,177.2 73.5,181.8 74.8,186.2 76,190.2 77.3,194.1 78.6,197.6 79.9,200.9 81.2,204 82.5,206.8 83.8,209.2 85.1,211.3 86.4,213.1 87.7,214.8 89,216.4 90.3,217.8 91.6,219.1 92.9,220.2 94.2,221.3 95.5,222.2 96.7,222.9 98,223.6 99.3,224.1 100.6,224.6 101.9,225.1 103.2,225.4 104.5,225.7 105.8,225.8 107.1,225.9 108.4,225.9 109.7,225.9 111,225.9 112.3,225.9 113.6,225.9 114.9,225.9 116.2,225.9 117.5,225.8 118.7,225.8 120,225.8 121.3,225.8 122.6,225.8 123.9,225.8 125.2,225.7 126.5,225.7 127.8,225.7 129.1,225.7 130.4,225.7 131.7,225.8 133,225.8 134.3,225.8 135.6,225.8 136.9,225.9 138.2,225.9 139.4,225.9 140.7,225.9 142,226 143.3,226 144.6,226 145.9,226 147.2,226 148.5,226.1 149.8,226.1 151.1,226.2 152.4,226.4 153.7,226.5 155,226.7 156.3,226.8 157.6,226.9 158.9,227.1 160.2,227.2 161.4,227.4 162.7,227.5 164,227.7 165.3,227.8 166.6,228 167.9,228.1 169.2,228.3 170.5,228.4 171.8,228.5 173.1,228.5 174.4,228.5 175.7,228.5 177,228.5 178.3,228.5 179.6,228.5 180.9,228.5 182.1,228.5 183.4,228.5 184.7,228.5 186,228.4 187.3,228.4 188.6,228.4 189.9,228.4 191.2,228.4 192.5,228.4"/><polyline points="64.4,153 65.7,156.8 67,160.5 68.3,164.5 69.6,168.6 70.9,172.8 72.2,177.1 73.5,181.6 74.8,185.9 76,189.9 77.3,193.7 78.6,197.2 79.9,200.6 81.2,203.8 82.5,206.8 83.8,209.4 85.1,211.6 86.4,213.5 87.7,215.2 89,216.7 90.3,218 91.6,219.1 92.9,220.2 94.2,221.2 95.5,222 96.7,222.7 98,223.3 99.3,223.8 100.6,224.2 101.9,224.5 103.2,224.8 104.5,225 105.8,225.1 107.1,225.1 108.4,225 109.7,224.9 111,224.8 112.3,224.6 113.6,224.5 114.9,224.3 116.2,224.1 117.5,224 118.7,223.8 120,223.6 121.3,223.5 122.6,223.3 123.9,223.2 125.2,223 126.5,222.8 127.8,222.7 129.1,222.7 130.4,222.9 131.7,223.1 133,223.4 134.3,223.6 135.6,223.8 136.9,224 138.2,224.2 139.4,224.4 140.7,224.6 142,224.8 143.3,225 144.6,225.3 145.9,225.5 147.2,225.7 148.5,225.9 149.8,226.1 151.1,226.1 152.4,226.1 153.7,226.1 155,226.1 156.3,226.1 157.6,226.1 158.9,226.1 160.2,226.1 161.4,226.1 162.7,226.2 164,226.2 165.3,226.2 166.6,226.2 167.9,226.2 169.2,226.2 170.5,226.2 171.8,226.3 173.1,226.5 174.4,226.7 175.7,226.9 177,227.1 178.3,227.3 179.6,227.5 180.9,227.7 182.1,227.9 183.4,228.1 184.7,228.3 186,228.5 187.3,228.7 188.6,228.9 189.9,229.1 191.2,229.3 192.5,229.5"/><polyline points="64.4,158 65.7,161.2 67,164.4 68.3,167.8 69.6,171.4 70.9,175.1 72.2,178.9 73.5,182.8 74.8,186.4 76,189.7 77.3,192.8 78.6,195.6 79.9,198.3 81.2,200.7 82.5,202.8 83.8,204.5 85.1,205.9 86.4,207.2 87.7,208.3 89,209.4 90.3,210.3 91.6,211.1 92.9,212 94.2,212.8 95.5,213.7 96.7,214.5 98,215.1 99.3,215.7 100.6,216.3 101.9,216.7 103.2,217.1 104.5,217.3 105.8,217.5 107.1,217.7 108.4,217.7 109.7,217.6 111,217.6 112.3,217.5 113.6,217.5 114.9,217.4 116.2,217.4 117.5,217.3 118.7,217.3 120,217.3 121.3,217.2 122.6,217.2 123.9,217.1 125.2,217.1 126.5,217 127.8,217 129.1,217 130.4,217 131.7,217 133,217 134.3,217 135.6,217 136.9,217 138.2,217 139.4,217 140.7,217 142,217 143.3,217 144.6,217 145.9,217 147.2,217 148.5,217 149.8,217 151.1,216.9 152.4,216.9 153.7,216.8 155,216.7 156.3,216.6 157.6,216.5 158.9,216.5 160.2,216.4 161.4,216.3 162.7,216.2 164,216.2 165.3,216.1 166.6,216 167.9,215.9 169.2,215.9 170.5,215.8 171.8,215.9 173.1,216.1 174.4,216.3 175.7,216.5 177,216.7 178.3,216.9 179.6,217.1 180.9,217.3 182.1,217.5 183.4,217.7 184.7,217.9 186,218.1 187.3,218.3 188.6,218.6 189.9,218.8 191.2,219 192.5,219.2"/><polyline points="64.4,152.3 65.7,156 67,159.7 68.3,163.6 69.6,167.7 70.9,171.9 72.2,176.2 73.5,180.5 74.8,184.5 76,188.2 77.3,191.5 78.6,194.6 79.9,197.5 81.2,200.1 82.5,202.3 83.8,204.1 85.1,205.6 86.4,206.9 87.7,208.1 89,209 90.3,209.9 91.6,210.7 92.9,211.4 94.2,212 95.5,212.6 96.7,213.1 98,213.5 99.3,213.9 100.6,214.1 101.9,214.3 103.2,214.3 104.5,214.3 105.8,214.3 107.1,214.2 108.4,214.3 109.7,214.3 111,214.3 112.3,214.4 113.6,214.4 114.9,214.4 116.2,214.5 117.5,214.5 118.7,214.5 120,214.6 121.3,214.6 122.6,214.6 123.9,214.7 125.2,214.7 126.5,214.7 127.8,214.8 129.1,214.9 130.4,215.1 131.7,215.4 133,215.6 134.3,215.8 135.6,216.1 136.9,216.3 138.2,216.5 139.4,216.8 140.7,217 142,217.3 143.3,217.5 144.6,217.7 145.9,218 147.2,218.2 148.5,218.4 149.8,218.7 151.1,218.7 152.4,218.6 153.7,218.6 155,218.6 156.3,218.6 157.6,218.6 158.9,218.6 160.2,218.6 161.4,218.6 162.7,218.6 164,218.6 165.3,218.6 166.6,218.6 167.9,218.6 169.2,218.6 170.5,218.6 171.8,218.7 173.1,218.8 174.4,219 175.7,219.1 177,219.2 178.3,219.4 179.6,219.5 180.9,219.7 182.1,219.8 183.4,220 184.7,220.1 186,220.3 187.3,220.4 188.6,220.6 189.9,220.7 191.2,220.8 192.5,221"/><polyline points="64.4,155.1 65.7,158.3 67,161.5 68.3,164.9 69.6,168.5 70.9,172.2 72.2,176 73.5,179.8 74.8,183.6 76,187 77.3,190.2 78.6,193.1 79.9,195.9 81.2,198.4 82.5,200.8 83.8,202.8 85.1,204.3 86.4,205.7 87.7,207 89,208 90.3,209 91.6,209.8 92.9,210.6 94.2,211.4 95.5,212.3 96.7,213 98,213.6 99.3,214.1 100.6,214.6 101.9,215 103.2,215.3 104.5,215.5 105.8,215.7 107.1,215.7 108.4,215.9 109.7,216.1 111,216.3 112.3,216.4 113.6,216.6 114.9,216.7 116.2,216.9 117.5,217 118.7,217.1 120,217.3 121.3,217.4 122.6,217.6 123.9,217.7 125.2,217.9 126.5,218 127.8,218.2 129.1,218.3 130.4,218.4 131.7,218.5 133,218.6 134.3,218.7 135.6,218.8 136.9,218.9 138.2,219 139.4,219.1 140.7,219.2 142,219.3 143.3,219.4 144.6,219.5 145.9,219.6 147.2,219.7 148.5,219.8 149.8,219.9 151.1,219.8 152.4,219.6 153.7,219.5 155,219.4 156.3,219.2 157.6,219.1 158.9,218.9 160.2,218.8 161.4,218.7 162.7,218.5 164,218.4 165.3,218.3 166.6,218.1 167.9,218 169.2,217.9 170.5,217.7 171.8,217.7 173.1,217.8 174.4,217.9 175.7,218 177,218.1 178.3,218.2 179.6,218.3 180.9,218.4 182.1,218.5 183.4,218.6 184.7,218.7 186,218.8 187.3,218.9 188.6,218.9 189.9,219 191.2,219.1 192.5,219.2"/><polyline points="64.4,157.5 65.7,161.2 67,165 68.3,168.9 69.6,173 70.9,177.2 72.2,181.6 73.5,185.9 74.8,189.9 76,193.6 77.3,197 78.6,200.2 79.9,203.1 81.2,205.8 82.5,208.1 83.8,209.9 85.1,211.5 86.4,212.9 87.7,214.1 89,215.1 90.3,216 91.6,216.8 92.9,217.5 94.2,218.1 95.5,218.7 96.7,219.2 98,219.6 99.3,219.9 100.6,220.2 101.9,220.4 103.2,220.4 104.5,220.3 105.8,220.3 107.1,220.2 108.4,220.4 109.7,220.5 111,220.7 112.3,220.8 113.6,221 114.9,221.2 116.2,221.3 117.5,221.5 118.7,221.6 120,221.8 121.3,221.9 122.6,222.1 123.9,222.2 125.2,222.4 126.5,222.5 127.8,222.7 129.1,222.7 130.4,222.6 131.7,222.5 133,222.4 134.3,222.3 135.6,222.2 136.9,222.1 138.2,222 139.4,221.9 140.7,221.8 142,221.6 143.3,221.5 144.6,221.4 145.9,221.3 147.2,221.2 148.5,221.1 149.8,221 151.1,221.4 152.4,221.7 153.7,222.1 155,222.4 156.3,222.8 157.6,223.2 158.9,223.5 160.2,223.9 161.4,224.2 162.7,224.6 164,225 165.3,225.3 166.6,225.7 167.9,226.1 169.2,226.4 170.5,226.8 171.8,227 173.1,227 174.4,227.1 175.7,227.1 177,227.2 178.3,227.3 179.6,227.3 180.9,227.4 182.1,227.4 183.4,227.5 184.7,227.5 186,227.6 187.3,227.6 188.6,227.7 189.9,227.7 191.2,227.8 192.5,227.8"/><polyline points="64.4,151.6 65.7,156 67,160.4 68.3,164.9 69.6,169.6 70.9,174.4 72.2,179.2 73.5,184.1 74.8,188.6 76,192.7 77.3,196.5 78.6,200 79.9,203.4 81.2,206.4 82.5,209 83.8,211.1 85.1,212.9 86.4,214.7 87.7,216.5 89,218.1 90.3,219.7 91.6,221.1 92.9,222.4 94.2,223.6 95.5,224.5 96.7,225.3 98,226 99.3,226.7 100.6,227.3 101.9,227.7 103.2,228.1 104.5,228.4 105.8,228.6 107.1,228.9 108.4,229 109.7,229.1 111,229.2 112.3,229.2 113.6,229.3 114.9,229.4 116.2,229.5 117.5,229.6 118.7,229.7 120,229.8 121.3,229.9 122.6,229.9 123.9,230 125.2,230.1 126.5,230.2 127.8,230.3 129.1,230.3 130.4,230.4 131.7,230.5 133,230.5 134.3,230.6 135.6,230.7 136.9,230.7 138.2,230.8 139.4,230.9 140.7,230.9 142,231 143.3,231 144.6,231.1 145.9,231.2 147.2,231.2 148.5,231.3 149.8,231.4 151.1,231.4 152.4,231.3 153.7,231.3 155,231.3 156.3,231.3 157.6,231.3 158.9,231.3 160.2,231.3 161.4,231.3 162.7,231.3 164,231.3 165.3,231.3 166.6,231.3 167.9,231.3 169.2,231.3 170.5,231.3 171.8,231.3 173.1,231.5 174.4,231.6 175.7,231.8 177,231.9 178.3,232 179.6,232.2 180.9,232.3 182.1,232.5 183.4,232.6 184.7,232.7 186,232.9 187.3,233 188.6,233.2 189.9,233.3 191.2,233.5 192.5,233.6"/><polyline points="64.4,151.5 65.7,155.3 67,159.1 68.3,163 69.6,167.1 70.9,171.3 72.2,175.5 73.5,179.9 74.8,183.9 76,187.7 77.3,191.3 78.6,194.5 79.9,197.5 81.2,200.3 82.5,202.8 83.8,204.9 85.1,206.6 86.4,208.3 87.7,210.1 89,211.7 90.3,213.3 91.6,214.7 92.9,216.1 94.2,217.4 95.5,218.6 96.7,219.7 98,220.6 99.3,221.5 100.6,222.3 101.9,223.1 103.2,223.7 104.5,224.3 105.8,224.7 107.1,225.2 108.4,225.1 109.7,224.9 111,224.8 112.3,224.7 113.6,224.6 114.9,224.4 116.2,224.3 117.5,224.1 118.7,224 120,223.9 121.3,223.7 122.6,223.6 123.9,223.5 125.2,223.3 126.5,223.2 127.8,223 129.1,223 130.4,223.1 131.7,223.3 133,223.4 134.3,223.5 135.6,223.6 136.9,223.7 138.2,223.8 139.4,223.9 140.7,224 142,224.1 143.3,224.2 144.6,224.4 145.9,224.5 147.2,224.6 148.5,224.7 149.8,224.8 151.1,224.7 152.4,224.6 153.7,224.5 155,224.4 156.3,224.3 157.6,224.3 158.9,224.2 160.2,224.1 161.4,224 162.7,223.9 164,223.8 165.3,223.7 166.6,223.7 167.9,223.6 169.2,223.5 170.5,223.4 171.8,223.5 173.1,223.8 174.4,224.1 175.7,224.4 177,224.8 178.3,225.1 179.6,225.4 180.9,225.7 182.1,226 183.4,226.3 184.7,226.6 186,226.9 187.3,227.3 188.6,227.6 189.9,227.9 191.2,228.2 192.5,228.5"/><polyline points="64.4,154.6 65.7,159.5 67,164.5 68.3,169.8 69.6,175.2 70.9,180.8 72.2,186.1 73.5,191 74.8,195.3 76,199.2 77.3,202.7 78.6,205.7 79.9,207.9 81.2,209.7 82.5,211.2 83.8,212.5 85.1,213.5 86.4,214.4 87.7,215.3 89,216 90.3,216.4 91.6,216.8 92.9,217.1 94.2,217.3 95.5,217.4 96.7,217.4 98,217.5 99.3,217.5 100.6,217.5 101.9,217.4 103.2,217.4 104.5,217.4 105.8,217.4 107.1,217.4 108.4,217.6 109.7,217.8 111,218 112.3,218.2 113.6,218.3 114.9,218.5 116.2,218.7 117.5,218.9 118.7,219.1 120,219.3 121.3,219.5 122.6,219.6 123.9,219.8 125.2,220 126.5,220.2 127.8,220.4 129.1,220.4 130.4,220.4 131.7,220.3 133,220.3 134.3,220.2 135.6,220.2 136.9,220.1 138.2,220.1 139.4,220 140.7,220 142,219.9 143.3,219.9 144.6,219.8 145.9,219.8 147.2,219.7 148.5,219.7 149.8,219.6 151.1,219.7 152.4,219.7 153.7,219.8 155,219.8 156.3,219.9 157.6,220 158.9,220 160.2,220.1 161.4,220.1 162.7,220.2 164,220.3 165.3,220.3 166.6,220.4 167.9,220.4 169.2,220.5 170.5,220.6 171.8,220.6 173.1,220.7 174.4,220.7 175.7,220.8 177,220.8 178.3,220.9 179.6,220.9 180.9,221 182.1,221.1 183.4,221.1 184.7,221.1 186,221.1 187.3,221 188.6,221 189.9,221 191.2,221 192.5,221"/><polyline points="64.4,157 65.7,160.3 67,163.7 68.3,167.2 69.6,170.9 70.9,174.7 72.2,178.6 73.5,182.6 74.8,186.2 76,189.5 77.3,192.5 78.6,195.2 79.9,197.8 81.2,200.1 82.5,201.9 83.8,203.4 85.1,204.6 86.4,205.7 87.7,206.7 89,207.6 90.3,208.3 91.6,209.1 92.9,209.7 94.2,210.4 95.5,211.1 96.7,211.7 98,212.3 99.3,212.8 100.6,213.2 101.9,213.5 103.2,213.6 104.5,213.7 105.8,213.8 107.1,213.9 108.4,214.1 109.7,214.2 111,214.3 112.3,214.4 113.6,214.5 114.9,214.7 116.2,214.8 117.5,214.9 118.7,215 120,215.1 121.3,215.3 122.6,215.4 123.9,215.5 125.2,215.6 126.5,215.7 127.8,215.8 129.1,215.8 130.4,215.7 131.7,215.6 133,215.5 134.3,215.4 135.6,215.3 136.9,215.2 138.2,215 139.4,214.9 140.7,214.8 142,214.7 143.3,214.6 144.6,214.5 145.9,214.3 147.2,214.2 148.5,214.1 149.8,214 151.1,214 152.4,213.9 153.7,213.9 155,213.8 156.3,213.8 157.6,213.7 158.9,213.7 160.2,213.7 161.4,213.6 162.7,213.6 164,213.5 165.3,213.5 166.6,213.5 167.9,213.4 169.2,213.4 170.5,213.4 171.8,213.4 173.1,213.6 174.4,213.8 175.7,214 177,214.2 178.3,214.4 179.6,214.5 180.9,214.7 182.1,214.9 183.4,215.1 184.7,215.3 186,215.5 187.3,215.7 188.6,215.8 189.9,216 191.2,216.2 192.5,216.4"/><polyline points="64.4,154.3 65.7,157.7 67,161.1 68.3,164.7 69.6,168.5 70.9,172.5 72.2,176.7 73.5,180.9 74.8,185.1 76,189.1 77.3,192.9 78.6,196.4 79.9,199.8 81.2,203 82.5,206.2 83.8,208.9 85.1,211.4 86.4,213.4 87.7,215.1 89,216.6 90.3,217.9 91.6,219.1 92.9,220.2 94.2,221.2 95.5,222.1 96.7,222.9 98,223.6 99.3,224.1 100.6,224.6 101.9,225 103.2,225.4 104.5,225.7 105.8,225.9 107.1,226 108.4,226 109.7,226 111,225.9 112.3,225.9 113.6,225.8 114.9,225.8 116.2,225.7 117.5,225.7 118.7,225.6 120,225.5 121.3,225.5 122.6,225.4 123.9,225.3 125.2,225.3 126.5,225.2 127.8,225.2 129.1,225.2 130.4,225.2 131.7,225.2 133,225.3 134.3,225.3 135.6,225.3 136.9,225.4 138.2,225.4 139.4,225.5 140.7,225.5 142,225.5 143.3,225.6 144.6,225.6 145.9,225.6 147.2,225.7 148.5,225.7 149.8,225.7 151.1,225.6 152.4,225.5 153.7,225.4 155,225.2 156.3,225.1 157.6,225 158.9,224.9 160.2,224.7 161.4,224.6 162.7,224.5 164,224.3 165.3,224.2 166.6,224.1 167.9,224 169.2,223.8 170.5,223.7 171.8,223.7 173.1,223.8 174.4,223.8 175.7,223.9 177,224 178.3,224 179.6,224.1 180.9,224.2 182.1,224.2 183.4,224.3 184.7,224.4 186,224.4 187.3,224.5 188.6,224.6 189.9,224.6 191.2,224.7 192.5,224.8"/><polyline points="64.4,157.9 65.7,161 67,164.1 68.3,167.5 69.6,171 70.9,174.7 72.2,178.5 73.5,182.5 74.8,186.2 76,189.8 77.3,193.2 78.6,196.2 79.9,199.1 81.2,201.9 82.5,204.4 83.8,206.7 85.1,208.5 86.4,210.1 87.7,211.4 89,212.7 90.3,213.7 91.6,214.7 92.9,215.6 94.2,216.5 95.5,217.4 96.7,218.2 98,218.9 99.3,219.5 100.6,220 101.9,220.4 103.2,220.8 104.5,221.1 105.8,221.3 107.1,221.4 108.4,221.4 109.7,221.3 111,221.2 112.3,221.1 113.6,221 114.9,220.9 116.2,220.8 117.5,220.7 118.7,220.6 120,220.5 121.3,220.4 122.6,220.3 123.9,220.3 125.2,220.2 126.5,220.1 127.8,220 129.1,220 130.4,220.3 131.7,220.5 133,220.7 134.3,221 135.6,221.2 136.9,221.5 138.2,221.7 139.4,221.9 140.7,222.2 142,222.4 143.3,222.6 144.6,222.9 145.9,223.1 147.2,223.3 148.5,223.6 149.8,223.8 151.1,223.8 152.4,223.7 153.7,223.7 155,223.6 156.3,223.6 157.6,223.6 158.9,223.5 160.2,223.5 161.4,223.5 162.7,223.4 164,223.4 165.3,223.4 166.6,223.3 167.9,223.3 169.2,223.3 170.5,223.2 171.8,223.2 173.1,223.2 174.4,223.2 175.7,223.2 177,223.2 178.3,223.2 179.6,223.2 180.9,223.2 182.1,223.2 183.4,223.2 184.7,223.2 186,223.2 187.3,223.2 188.6,223.2 189.9,223.2 191.2,223.2 192.5,223.2"/><polyline points="64.4,152.4 65.7,157.1 67,161.9 68.3,167 69.6,172.3 70.9,177.6 72.2,183.1 73.5,188.1 74.8,192.7 76,196.8 77.3,200.6 78.6,204.2 79.9,207.1 81.2,209.5 82.5,211.5 83.8,213.4 85.1,214.9 86.4,216.2 87.7,217.3 89,218.1 90.3,218.8 91.6,219.3 92.9,219.6 94.2,219.9 95.5,220 96.7,220 98,219.9 99.3,219.7 100.6,219.5 101.9,219.2 103.2,219 104.5,218.7 105.8,218.5 107.1,218.2 108.4,218.3 109.7,218.3 111,218.4 112.3,218.4 113.6,218.5 114.9,218.5 116.2,218.6 117.5,218.6 118.7,218.7 120,218.7 121.3,218.8 122.6,218.8 123.9,218.8 125.2,218.9 126.5,218.9 127.8,219 129.1,219.1 130.4,219.5 131.7,219.8 133,220.1 134.3,220.4 135.6,220.7 136.9,221 138.2,221.3 139.4,221.6 140.7,221.9 142,222.2 143.3,222.5 144.6,222.8 145.9,223.1 147.2,223.4 148.5,223.7 149.8,224.1 151.1,224.2 152.4,224.4 153.7,224.5 155,224.6 156.3,224.8 157.6,224.9 158.9,225.1 160.2,225.2 161.4,225.4 162.7,225.5 164,225.7 165.3,225.8 166.6,226 167.9,226.1 169.2,226.3 170.5,226.4 171.8,226.5 173.1,226.4 174.4,226.4 175.7,226.3 177,226.3 178.3,226.3 179.6,226.2 180.9,226.2 182.1,226.1 183.4,226.1 184.7,226.1 186,226 187.3,226 188.6,226 189.9,225.9 191.2,225.9 192.5,225.8"/><polyline points="64.4,158.2 65.7,161.4 67,164.6 68.3,168 69.6,171.6 70.9,175.4 72.2,179.3 73.5,183.3 74.8,187.2 76,190.8 77.3,194.3 78.6,197.4 79.9,200.4 81.2,203.3 82.5,206 83.8,208.3 85.1,210.3 86.4,211.9 87.7,213.2 89,214.4 90.3,215.4 91.6,216.3 92.9,217.1 94.2,217.9 95.5,218.7 96.7,219.5 98,220 99.3,220.5 100.6,220.9 101.9,221.2 103.2,221.5 104.5,221.7 105.8,221.8 107.1,221.8 108.4,221.9 109.7,222 111,222.1 112.3,222.1 113.6,222.2 114.9,222.3 116.2,222.3 117.5,222.4 118.7,222.5 120,222.5 121.3,222.6 122.6,222.7 123.9,222.8 125.2,222.8 126.5,222.9 127.8,223 129.1,223 130.4,223 131.7,223 133,222.9 134.3,222.9 135.6,222.9 136.9,222.9 138.2,222.9 139.4,222.9 140.7,222.8 142,222.8 143.3,222.8 144.6,222.8 145.9,222.8 147.2,222.7 148.5,222.7 149.8,222.7 151.1,222.8 152.4,222.9 153.7,223 155,223.1 156.3,223.2 157.6,223.3 158.9,223.4 160.2,223.4 161.4,223.5 162.7,223.6 164,223.7 165.3,223.8 166.6,223.9 167.9,224 169.2,224.1 170.5,224.2 171.8,224.3 173.1,224.3 174.4,224.3 175.7,224.3 177,224.3 178.3,224.3 179.6,224.3 180.9,224.3 182.1,224.3 183.4,224.4 184.7,224.4 186,224.4 187.3,224.4 188.6,224.4 189.9,224.4 191.2,224.4 192.5,224.4"/><polyline points="64.4,152.1 65.7,157.1 67,162.2 68.3,167.6 69.6,173.2 70.9,178.9 72.2,184.5 73.5,189.6 74.8,194.2 76,198.3 77.3,202.2 78.6,205.5 79.9,208 81.2,210.2 82.5,212.1 83.8,213.7 85.1,215.1 86.4,216.4 87.7,217.6 89,218.6 90.3,219.3 91.6,219.9 92.9,220.5 94.2,220.9 95.5,221.1 96.7,221.2 98,221.3 99.3,221.4 100.6,221.5 101.9,221.5 103.2,221.6 104.5,221.7 105.8,221.7 107.1,221.8 108.4,221.8 109.7,221.7 111,221.7 112.3,221.6 113.6,221.6 114.9,221.5 116.2,221.4 117.5,221.4 118.7,221.3 120,221.3 121.3,221.2 122.6,221.1 123.9,221.1 125.2,221 126.5,221 127.8,220.9 129.1,221 130.4,221.1 131.7,221.3 133,221.5 134.3,221.6 135.6,221.8 136.9,222 138.2,222.2 139.4,222.3 140.7,222.5 142,222.7 143.3,222.9 144.6,223.1 145.9,223.2 147.2,223.4 148.5,223.6 149.8,223.8 151.1,223.7 152.4,223.6 153.7,223.5 155,223.5 156.3,223.4 157.6,223.3 158.9,223.2 160.2,223.2 161.4,223.1 162.7,223 164,222.9 165.3,222.9 166.6,222.8 167.9,222.7 169.2,222.6 170.5,222.6 171.8,222.7 173.1,223 174.4,223.3 175.7,223.6 177,223.9 178.3,224.2 179.6,224.5 180.9,224.8 182.1,225.1 183.4,225.3 184.7,225.6 186,225.8 187.3,226 188.6,226.3 189.9,226.5 191.2,226.8 192.5,227"/><polyline points="64.4,157.2 65.7,161 67,165 68.3,169.2 69.6,173.5 70.9,178 72.2,182.6 73.5,187.3 74.8,191.6 76,195.7 77.3,199.4 78.6,202.9 79.9,206.3 81.2,209.4 82.5,212.1 83.8,214.3 85.1,216.4 86.4,218.1 87.7,219.5 89,220.7 90.3,221.8 91.6,222.9 92.9,223.8 94.2,224.5 95.5,225.1 96.7,225.6 98,226 99.3,226.4 100.6,226.6 101.9,226.8 103.2,226.8 104.5,226.8 105.8,226.7 107.1,226.6 108.4,226.7 109.7,226.8 111,226.9 112.3,227 113.6,227.1 114.9,227.2 116.2,227.3 117.5,227.4 118.7,227.5 120,227.5 121.3,227.6 122.6,227.7 123.9,227.8 125.2,227.9 126.5,228 127.8,228.1 129.1,228.1 130.4,228.1 131.7,228.1 133,228.1 134.3,228.1 135.6,228.1 136.9,228.1 138.2,228.1 139.4,228.1 140.7,228.1 142,228.1 143.3,228.1 144.6,228.1 145.9,228.1 147.2,228.1 148.5,228.1 149.8,228.1 151.1,228 152.4,227.8 153.7,227.7 155,227.6 156.3,227.4 157.6,227.3 158.9,227.1 160.2,227 161.4,226.9 162.7,226.7 164,226.6 165.3,226.5 166.6,226.3 167.9,226.2 169.2,226.1 170.5,225.9 171.8,226 173.1,226.3 174.4,226.6 175.7,226.9 177,227.2 178.3,227.5 179.6,227.8 180.9,228.1 182.1,228.4 183.4,228.7 184.7,229 186,229.3 187.3,229.7 188.6,230 189.9,230.3 191.2,230.6 192.5,230.9"/><polyline points="64.4,156.5 65.7,159.8 67,163.1 68.3,166.5 69.6,170.2 70.9,174 72.2,177.9 73.5,181.9 74.8,185.7 76,189.3 77.3,192.7 78.6,195.8 79.9,198.8 81.2,201.6 82.5,204.1 83.8,206.4 85.1,208.2 86.4,209.7 87.7,210.8 89,211.7 90.3,212.5 91.6,213.2 92.9,213.8 94.2,214.4 95.5,215 96.7,215.5 98,215.8 99.3,216.1 100.6,216.3 101.9,216.4 103.2,216.5 104.5,216.5 105.8,216.4 107.1,216.2 108.4,216.5 109.7,216.8 111,217.1 112.3,217.4 113.6,217.7 114.9,218 116.2,218.3 117.5,218.6 118.7,218.9 120,219.2 121.3,219.5 122.6,219.8 123.9,220 125.2,220.3 126.5,220.6 127.8,220.9 129.1,221 130.4,221 131.7,220.9 133,220.9 134.3,220.8 135.6,220.8 136.9,220.7 138.2,220.7 139.4,220.6 140.7,220.6 142,220.5 143.3,220.5 144.6,220.4 145.9,220.4 147.2,220.3 148.5,220.3 149.8,220.2 151.1,220.5 152.4,220.7 153.7,221 155,221.3 156.3,221.5 157.6,221.8 158.9,222.1 160.2,222.4 161.4,222.6 162.7,222.9 164,223.2 165.3,223.4 166.6,223.7 167.9,224 169.2,224.3 170.5,224.5 171.8,224.6 173.1,224.4 174.4,224.2 175.7,224.1 177,223.9 178.3,223.7 179.6,223.6 180.9,223.4 182.1,223.2 183.4,223.1 184.7,222.9 186,222.7 187.3,222.6 188.6,222.4 189.9,222.2 191.2,222 192.5,221.9"/><polyline points="64.4,158.3 65.7,161.7 67,165.2 68.3,168.9 69.6,172.7 70.9,176.7 72.2,180.7 73.5,184.9 74.8,188.6 76,192.1 77.3,195.3 78.6,198.2 79.9,201 81.2,203.6 82.5,205.7 83.8,207.3 85.1,208.8 86.4,210.1 87.7,211.4 89,212.6 90.3,213.7 91.6,214.7 92.9,215.6 94.2,216.5 95.5,217.5 96.7,218.3 98,219 99.3,219.6 100.6,220.2 101.9,220.7 103.2,221.1 104.5,221.3 105.8,221.6 107.1,221.8 108.4,222 109.7,222.3 111,222.5 112.3,222.7 113.6,222.9 114.9,223.1 116.2,223.3 117.5,223.6 118.7,223.8 120,224 121.3,224.2 122.6,224.4 123.9,224.6 125.2,224.9 126.5,225.1 127.8,225.3 129.1,225.4 130.4,225.5 131.7,225.5 133,225.5 134.3,225.6 135.6,225.6 136.9,225.7 138.2,225.7 139.4,225.8 140.7,225.8 142,225.8 143.3,225.9 144.6,225.9 145.9,226 147.2,226 148.5,226 149.8,226.1 151.1,225.8 152.4,225.5 153.7,225.3 155,225 156.3,224.7 157.6,224.5 158.9,224.2 160.2,223.9 161.4,223.7 162.7,223.4 164,223.1 165.3,222.8 166.6,222.6 167.9,222.3 169.2,222 170.5,221.8 171.8,221.8 173.1,222 174.4,222.3 175.7,222.6 177,222.8 178.3,223.1 179.6,223.3 180.9,223.6 182.1,223.9 183.4,224.1 184.7,224.4 186,224.6 187.3,224.9 188.6,225.2 189.9,225.4 191.2,225.7 192.5,225.9"/><polyline points="64.4,150.9 65.7,155.8 67,160.8 68.3,166 69.6,171.5 70.9,177 72.2,182.7 73.5,187.9 74.8,192.7 76,197 77.3,201 78.6,204.8 79.9,208 81.2,210.5 82.5,212.8 83.8,214.8 85.1,216.6 86.4,218.2 87.7,219.6 89,220.9 90.3,222 91.6,222.9 92.9,223.7 94.2,224.3 95.5,224.7 96.7,225 98,225.2 99.3,225.2 100.6,225.3 101.9,225.3 103.2,225.3 104.5,225.3 105.8,225.3 107.1,225.3 108.4,225.5 109.7,225.7 111,225.9 112.3,226.1 113.6,226.3 114.9,226.5 116.2,226.7 117.5,226.9 118.7,227.1 120,227.3 121.3,227.5 122.6,227.6 123.9,227.8 125.2,228 126.5,228.2 127.8,228.4 129.1,228.5 130.4,228.5 131.7,228.4 133,228.4 134.3,228.4 135.6,228.4 136.9,228.4 138.2,228.4 139.4,228.4 140.7,228.3 142,228.3 143.3,228.3 144.6,228.3 145.9,228.3 147.2,228.3 148.5,228.3 149.8,228.3 151.1,228.4 152.4,228.5 153.7,228.6 155,228.7 156.3,228.8 157.6,229 158.9,229.1 160.2,229.2 161.4,229.3 162.7,229.4 164,229.5 165.3,229.7 166.6,229.8 167.9,229.9 169.2,230 170.5,230.1 171.8,230.2 173.1,230.2 174.4,230.2 175.7,230.1 177,230.1 178.3,230.1 179.6,230.1 180.9,230.1 182.1,230 183.4,230 184.7,230 186,230 187.3,230 188.6,230 189.9,229.9 191.2,229.9 192.5,229.9"/><polyline points="64.4,154.1 65.7,158.2 67,162.4 68.3,166.8 69.6,171.3 70.9,176 72.2,180.7 73.5,185.3 74.8,189.5 76,193.4 77.3,196.9 78.6,200.2 79.9,203.2 81.2,205.7 82.5,207.7 83.8,209.5 85.1,211 86.4,212.4 87.7,213.7 89,214.8 90.3,215.9 91.6,216.8 92.9,217.6 94.2,218.3 95.5,218.9 96.7,219.5 98,219.9 99.3,220.3 100.6,220.5 101.9,220.7 103.2,220.8 104.5,220.9 105.8,220.9 107.1,221 108.4,221.1 109.7,221.2 111,221.4 112.3,221.5 113.6,221.6 114.9,221.7 116.2,221.9 117.5,222 118.7,222.1 120,222.2 121.3,222.4 122.6,222.5 123.9,222.6 125.2,222.7 126.5,222.8 127.8,223 129.1,223.1 130.4,223.2 131.7,223.3 133,223.5 134.3,223.6 135.6,223.8 136.9,223.9 138.2,224 139.4,224.2 140.7,224.3 142,224.4 143.3,224.6 144.6,224.7 145.9,224.8 147.2,225 148.5,225.1 149.8,225.2 151.1,225.1 152.4,224.9 153.7,224.7 155,224.5 156.3,224.3 157.6,224.2 158.9,224 160.2,223.8 161.4,223.6 162.7,223.4 164,223.3 165.3,223.1 166.6,222.9 167.9,222.7 169.2,222.6 170.5,222.4 171.8,222.4 173.1,222.6 174.4,222.9 175.7,223.1 177,223.3 178.3,223.6 179.6,223.8 180.9,224 182.1,224.2 183.4,224.5 184.7,224.7 186,224.9 187.3,225.2 188.6,225.4 189.9,225.6 191.2,225.9 192.5,226.1"/><polyline points="64.4,155.9 65.7,160.3 67,164.6 68.3,169.3 69.6,174.1 70.9,179 72.2,184 73.5,188.6 74.8,192.7 76,196.4 77.3,199.8 78.6,202.9 79.9,205.4 81.2,207.3 82.5,208.9 83.8,210.3 85.1,211.4 86.4,212.5 87.7,213.7 89,214.8 90.3,215.8 91.6,216.6 92.9,217.3 94.2,218 95.5,218.7 96.7,219.3 98,219.8 99.3,220.1 100.6,220.4 101.9,220.8 103.2,221.1 104.5,221.3 105.8,221.6 107.1,221.9 108.4,222.1 109.7,222.3 111,222.5 112.3,222.6 113.6,222.8 114.9,223 116.2,223.2 117.5,223.4 118.7,223.5 120,223.7 121.3,223.9 122.6,224.1 123.9,224.2 125.2,224.4 126.5,224.6 127.8,224.8 129.1,224.9 130.4,224.9 131.7,224.9 133,225 134.3,225 135.6,225 136.9,225.1 138.2,225.1 139.4,225.2 140.7,225.2 142,225.2 143.3,225.3 144.6,225.3 145.9,225.3 147.2,225.4 148.5,225.4 149.8,225.5 151.1,225.2 152.4,224.9 153.7,224.7 155,224.4 156.3,224.2 157.6,223.9 158.9,223.6 160.2,223.4 161.4,223.1 162.7,222.9 164,222.6 165.3,222.3 166.6,222.1 167.9,221.8 169.2,221.5 170.5,221.3 171.8,221.3 173.1,221.5 174.4,221.7 175.7,221.9 177,222.1 178.3,222.3 179.6,222.5 180.9,222.7 182.1,222.9 183.4,223.1 184.7,223.3 186,223.5 187.3,223.7 188.6,223.9 189.9,224.1 191.2,224.4 192.5,224.6"/><polyline points="64.4,157.9 65.7,161.9 67,165.9 68.3,170.1 69.6,174.5 70.9,178.9 72.2,183.4 73.5,188 74.8,192.2 76,196.1 77.3,199.7 78.6,203 79.9,206.2 81.2,209 82.5,211.5 83.8,213.4 85.1,215.1 86.4,216.8 87.7,218.3 89,219.8 90.3,221.1 91.6,222.4 92.9,223.5 94.2,224.6 95.5,225.5 96.7,226.3 98,227 99.3,227.6 100.6,228.2 101.9,228.6 103.2,229 104.5,229.2 105.8,229.5 107.1,229.7 108.4,229.4 109.7,229.2 111,228.9 112.3,228.6 113.6,228.3 114.9,228 116.2,227.8 117.5,227.5 118.7,227.2 120,226.9 121.3,226.7 122.6,226.4 123.9,226.1 125.2,225.8 126.5,225.6 127.8,225.3 129.1,225.3 130.4,225.6 131.7,225.9 133,226.2 134.3,226.5 135.6,226.8 136.9,227.1 138.2,227.4 139.4,227.7 140.7,228 142,228.3 143.3,228.6 144.6,228.9 145.9,229.2 147.2,229.5 148.5,229.8 149.8,230.1 151.1,230.3 152.4,230.4 153.7,230.5 155,230.6 156.3,230.7 157.6,230.8 158.9,230.9 160.2,231 161.4,231.2 162.7,231.3 164,231.4 165.3,231.5 166.6,231.6 167.9,231.7 169.2,231.8 170.5,232 171.8,232.1 173.1,232.2 174.4,232.2 175.7,232.3 177,232.4 178.3,232.5 179.6,232.6 180.9,232.7 182.1,232.8 183.4,232.9 184.7,233 186,233.1 187.3,233.2 188.6,233.2 189.9,233.3 191.2,233.4 192.5,233.5"/><polyline points="64.4,150.6 65.7,154.1 67,157.7 68.3,161.4 69.6,165.3 70.9,169.2 72.2,173.3 73.5,177.4 74.8,181.4 76,185.1 77.3,188.6 78.6,191.7 79.9,194.7 81.2,197.5 82.5,200.1 83.8,202.3 85.1,204.1 86.4,205.8 87.7,207.5 89,209 90.3,210.4 91.6,211.6 92.9,212.8 94.2,213.9 95.5,215 96.7,216 98,216.9 99.3,217.6 100.6,218.3 101.9,218.9 103.2,219.5 104.5,219.9 105.8,220.3 107.1,220.6 108.4,220.7 109.7,220.7 111,220.7 112.3,220.7 113.6,220.7 114.9,220.7 116.2,220.7 117.5,220.7 118.7,220.7 120,220.7 121.3,220.7 122.6,220.7 123.9,220.7 125.2,220.7 126.5,220.7 127.8,220.7 129.1,220.7 130.4,220.7 131.7,220.8 133,220.8 134.3,220.9 135.6,220.9 136.9,221 138.2,221 139.4,221.1 140.7,221.1 142,221.1 143.3,221.2 144.6,221.2 145.9,221.3 147.2,221.3 148.5,221.4 149.8,221.4 151.1,221.6 152.4,221.7 153.7,221.9 155,222 156.3,222.2 157.6,222.3 158.9,222.5 160.2,222.6 161.4,222.8 162.7,222.9 164,223.1 165.3,223.3 166.6,223.4 167.9,223.6 169.2,223.7 170.5,223.9 171.8,223.9 173.1,223.6 174.4,223.4 175.7,223.1 177,222.9 178.3,222.6 179.6,222.4 180.9,222.1 182.1,221.9 183.4,221.7 184.7,221.4 186,221.2 187.3,220.9 188.6,220.7 189.9,220.5 191.2,220.2 192.5,220"/><polyline points="64.4,155.5 65.7,159.2 67,162.9 68.3,166.7 69.6,170.6 70.9,174.7 72.2,178.8 73.5,182.9 74.8,187.1 76,190.9 77.3,194.4 78.6,197.7 79.9,200.8 81.2,203.7 82.5,206.4 83.8,208.8 85.1,210.8 86.4,212.6 87.7,214.4 89,215.9 90.3,217.4 91.6,218.7 92.9,219.9 94.2,221.1 95.5,222.1 96.7,223.1 98,224 99.3,224.7 100.6,225.3 101.9,225.9 103.2,226.5 104.5,226.9 105.8,227.3 107.1,227.6 108.4,227.7 109.7,227.8 111,227.9 112.3,227.9 113.6,228 114.9,228 116.2,228.1 117.5,228.1 118.7,228.1 120,228.2 121.3,228.2 122.6,228.2 123.9,228.3 125.2,228.3 126.5,228.4 127.8,228.4 129.1,228.4 130.4,228.4 131.7,228.4 133,228.4 134.3,228.4 135.6,228.4 136.9,228.4 138.2,228.5 139.4,228.5 140.7,228.5 142,228.5 143.3,228.5 144.6,228.5 145.9,228.5 147.2,228.5 148.5,228.5 149.8,228.5 151.1,228.3 152.4,228.1 153.7,228 155,227.8 156.3,227.7 157.6,227.5 158.9,227.4 160.2,227.2 161.4,227.1 162.7,226.9 164,226.8 165.3,226.6 166.6,226.5 167.9,226.3 169.2,226.2 170.5,226 171.8,226.1 173.1,226.4 174.4,226.6 175.7,226.9 177,227.1 178.3,227.4 179.6,227.6 180.9,227.9 182.1,228.2 183.4,228.4 184.7,228.7 186,228.9 187.3,229.2 188.6,229.5 189.9,229.7 191.2,230 192.5,230.2"/><polyline points="64.4,156.5 65.7,161.7 67,167 68.3,172.6 69.6,178.3 70.9,184.3 72.2,190 73.5,195.2 74.8,199.9 76,204.2 77.3,208.2 78.6,211.6 79.9,214.2 81.2,216.5 82.5,218.5 83.8,220.2 85.1,221.7 86.4,223.2 87.7,224.5 89,225.6 90.3,226.6 91.6,227.4 92.9,228.1 94.2,228.6 95.5,228.9 96.7,229.2 98,229.4 99.3,229.6 100.6,229.8 101.9,229.9 103.2,230.1 104.5,230.3 105.8,230.5 107.1,230.6 108.4,230.5 109.7,230.4 111,230.2 112.3,230.1 113.6,229.9 114.9,229.8 116.2,229.7 117.5,229.5 118.7,229.4 120,229.2 121.3,229.1 122.6,228.9 123.9,228.8 125.2,228.6 126.5,228.5 127.8,228.4 129.1,228.5 130.4,229.1 131.7,229.6 133,230.1 134.3,230.6 135.6,231.1 136.9,231.7 138.2,232.2 139.4,232.7 140.7,233.2 142,233.7 143.3,234.3 144.6,234.8 145.9,235.3 147.2,235.8 148.5,236.4 149.8,236.9 151.1,236.7 152.4,236.5 153.7,236.3 155,236.1 156.3,235.9 157.6,235.7 158.9,235.5 160.2,235.3 161.4,235.1 162.7,234.9 164,234.7 165.3,234.5 166.6,234.3 167.9,234.1 169.2,233.9 170.5,233.7 171.8,233.5 173.1,233.4 174.4,233.3 175.7,233.2 177,233.1 178.3,233.1 179.6,233 180.9,232.9 182.1,232.8 183.4,232.6 184.7,232.5 186,232.3 187.3,232.2 188.6,232 189.9,231.9 191.2,231.7 192.5,231.5"/><polyline points="64.4,157.5 65.7,161.6 67,165.8 68.3,170.4 69.6,175.2 70.9,180.1 72.2,185.1 73.5,189.6 74.8,193.7 76,197.4 77.3,200.9 78.6,204 79.9,206.5 81.2,208.6 82.5,210.3 83.8,211.9 85.1,213.2 86.4,214.3 87.7,215.2 89,216 90.3,216.6 91.6,217 92.9,217.3 94.2,217.6 95.5,217.9 96.7,218.1 98,218.2 99.3,218.2 100.6,218.2 101.9,218.2 103.2,218.2 104.5,218.2 105.8,218.2 107.1,218.1 108.4,218.1 109.7,218.1 111,218.1 112.3,218 113.6,218 114.9,218 116.2,217.9 117.5,217.9 118.7,217.8 120,217.8 121.3,217.8 122.6,217.7 123.9,217.7 125.2,217.6 126.5,217.6 127.8,217.6 129.1,217.6 130.4,217.8 131.7,218.1 133,218.3 134.3,218.5 135.6,218.7 136.9,218.9 138.2,219.1 139.4,219.3 140.7,219.5 142,219.7 143.3,219.9 144.6,220.2 145.9,220.4 147.2,220.6 148.5,220.8 149.8,221 151.1,221 152.4,221.1 153.7,221.1 155,221.1 156.3,221.2 157.6,221.2 158.9,221.2 160.2,221.2 161.4,221.3 162.7,221.3 164,221.3 165.3,221.4 166.6,221.4 167.9,221.4 169.2,221.5 170.5,221.5 171.8,221.5 173.1,221.4 174.4,221.3 175.7,221.2 177,221.1 178.3,221.1 179.6,221 180.9,220.9 182.1,220.8 183.4,220.7 184.7,220.6 186,220.6 187.3,220.5 188.6,220.4 189.9,220.3 191.2,220.2 192.5,220"/><polyline points="64.4,152.2 65.7,155.9 67,159.8 68.3,163.9 69.6,168.2 70.9,172.7 72.2,177.3 73.5,181.9 74.8,186.3 76,190.4 77.3,194.1 78.6,197.7 79.9,201.2 81.2,204.3 82.5,207.1 83.8,209.5 85.1,211.6 86.4,213.4 87.7,214.8 89,216 90.3,217.1 91.6,218.1 92.9,218.9 94.2,219.6 95.5,220.2 96.7,220.6 98,221 99.3,221.3 100.6,221.5 101.9,221.6 103.2,221.5 104.5,221.5 105.8,221.4 107.1,221.3 108.4,221.3 109.7,221.3 111,221.4 112.3,221.4 113.6,221.4 114.9,221.4 116.2,221.5 117.5,221.5 118.7,221.5 120,221.5 121.3,221.6 122.6,221.6 123.9,221.6 125.2,221.6 126.5,221.7 127.8,221.7 129.1,221.8 130.4,221.9 131.7,222.1 133,222.2 134.3,222.4 135.6,222.5 136.9,222.7 138.2,222.8 139.4,223 140.7,223.1 142,223.2 143.3,223.4 144.6,223.5 145.9,223.7 147.2,223.8 148.5,224 149.8,224.1 151.1,223.8 152.4,223.4 153.7,223.1 155,222.8 156.3,222.5 157.6,222.1 158.9,221.8 160.2,221.5 161.4,221.1 162.7,220.8 164,220.5 165.3,220.2 166.6,219.8 167.9,219.5 169.2,219.2 170.5,218.9 171.8,218.8 173.1,219 174.4,219.2 175.7,219.4 177,219.6 178.3,219.8 179.6,220 180.9,220.2 182.1,220.4 183.4,220.6 184.7,220.8 186,221 187.3,221.2 188.6,221.4 189.9,221.6 191.2,221.8 192.5,222"/><polyline points="64.4,151.7 65.7,156.3 67,161 68.3,165.9 69.6,171.2 70.9,176.5 72.2,181.7 73.5,186.4 74.8,190.7 76,194.6 77.3,198.1 78.6,201.1 79.9,203.4 81.2,205.4 82.5,207 83.8,208.4 85.1,209.6 86.4,210.7 87.7,211.7 89,212.4 90.3,213 91.6,213.4 92.9,213.8 94.2,214.1 95.5,214.3 96.7,214.4 98,214.6 99.3,214.7 100.6,214.7 101.9,214.8 103.2,214.9 104.5,215 105.8,215 107.1,215.1 108.4,215.2 109.7,215.4 111,215.5 112.3,215.7 113.6,215.8 114.9,215.9 116.2,216 117.5,216.2 118.7,216.3 120,216.4 121.3,216.6 122.6,216.7 123.9,216.8 125.2,216.9 126.5,217.1 127.8,217.2 129.1,217.2 130.4,217.1 131.7,217.1 133,217 134.3,217 135.6,216.9 136.9,216.8 138.2,216.8 139.4,216.7 140.7,216.7 142,216.6 143.3,216.6 144.6,216.5 145.9,216.4 147.2,216.4 148.5,216.3 149.8,216.3 151.1,216.5 152.4,216.7 153.7,216.8 155,217 156.3,217.2 157.6,217.4 158.9,217.6 160.2,217.8 161.4,218 162.7,218.2 164,218.3 165.3,218.5 166.6,218.7 167.9,218.9 169.2,219.1 170.5,219.3 171.8,219.3 173.1,219 174.4,218.8 175.7,218.6 177,218.4 178.3,218.2 179.6,218 180.9,217.7 182.1,217.5 183.4,217.3 184.7,217 186,216.7 187.3,216.5 188.6,216.2 189.9,215.9 191.2,215.6 192.5,215.3"/><polyline points="64.4,157.8 65.7,161.8 67,165.8 68.3,170.2 69.6,174.7 70.9,179.3 72.2,184 73.5,188.5 74.8,192.5 76,196.1 77.3,199.5 78.6,202.6 79.9,205.2 81.2,207.4 82.5,209.1 83.8,210.6 85.1,211.8 86.4,212.9 87.7,214 89,214.9 90.3,215.7 91.6,216.5 92.9,217 94.2,217.5 95.5,218.1 96.7,218.6 98,218.9 99.3,219.1 100.6,219.2 101.9,219.4 103.2,219.5 104.5,219.5 105.8,219.6 107.1,219.7 108.4,219.9 109.7,220.1 111,220.4 112.3,220.6 113.6,220.8 114.9,221.1 116.2,221.3 117.5,221.5 118.7,221.7 120,222 121.3,222.2 122.6,222.4 123.9,222.6 125.2,222.8 126.5,223.1 127.8,223.3 129.1,223.4 130.4,223.4 131.7,223.4 133,223.5 134.3,223.5 135.6,223.5 136.9,223.5 138.2,223.5 139.4,223.6 140.7,223.6 142,223.6 143.3,223.6 144.6,223.6 145.9,223.7 147.2,223.7 148.5,223.7 149.8,223.7 151.1,223.9 152.4,224.1 153.7,224.3 155,224.5 156.3,224.7 157.6,224.8 158.9,225 160.2,225.2 161.4,225.4 162.7,225.6 164,225.8 165.3,225.9 166.6,226.1 167.9,226.3 169.2,226.5 170.5,226.7 171.8,226.7 173.1,226.5 174.4,226.3 175.7,226.2 177,226 178.3,225.8 179.6,225.7 180.9,225.5 182.1,225.3 183.4,225.1 184.7,225 186,224.8 187.3,224.6 188.6,224.4 189.9,224.3 191.2,224.1 192.5,223.9"/><polyline points="64.4,153.8 65.7,158.1 67,162.4 68.3,167 69.6,171.9 70.9,176.8 72.2,181.9 73.5,186.8 74.8,191.3 76,195.6 77.3,199.5 78.6,203.2 79.9,206.6 81.2,209.5 82.5,212 83.8,214.2 85.1,216.2 86.4,217.9 87.7,219.4 89,220.8 90.3,222.1 91.6,223.3 92.9,224.3 94.2,225.1 95.5,225.7 96.7,226.3 98,226.8 99.3,227.2 100.6,227.4 101.9,227.5 103.2,227.7 104.5,227.8 105.8,227.9 107.1,228 108.4,227.9 109.7,227.9 111,227.8 112.3,227.8 113.6,227.7 114.9,227.7 116.2,227.7 117.5,227.6 118.7,227.6 120,227.5 121.3,227.5 122.6,227.4 123.9,227.4 125.2,227.3 126.5,227.3 127.8,227.2 129.1,227.2 130.4,227.2 131.7,227.2 133,227.2 134.3,227.3 135.6,227.3 136.9,227.3 138.2,227.3 139.4,227.3 140.7,227.4 142,227.4 143.3,227.4 144.6,227.4 145.9,227.4 147.2,227.5 148.5,227.5 149.8,227.5 151.1,227.7 152.4,227.8 153.7,228 155,228.1 156.3,228.3 157.6,228.4 158.9,228.6 160.2,228.7 161.4,228.9 162.7,229 164,229.2 165.3,229.4 166.6,229.5 167.9,229.7 169.2,229.8 170.5,230 171.8,230.1 173.1,230.2 174.4,230.2 175.7,230.3 177,230.4 178.3,230.5 179.6,230.6 180.9,230.6 182.1,230.7 183.4,230.8 184.7,230.9 186,230.9 187.3,231 188.6,231.1 189.9,231.2 191.2,231.3 192.5,231.3"/><polyline points="64.4,156.4 65.7,159.6 67,162.9 68.3,166.3 69.6,169.9 70.9,173.7 72.2,177.5 73.5,181.4 74.8,185.3 76,189 77.3,192.3 78.6,195.4 79.9,198.4 81.2,201.2 82.5,203.8 83.8,206.1 85.1,208 86.4,209.7 87.7,211.1 89,212.4 90.3,213.5 91.6,214.5 92.9,215.5 94.2,216.3 95.5,217.2 96.7,218 98,218.7 99.3,219.3 100.6,219.8 101.9,220.2 103.2,220.6 104.5,220.9 105.8,221.2 107.1,221.3 108.4,221.4 109.7,221.4 111,221.5 112.3,221.5 113.6,221.6 114.9,221.6 116.2,221.7 117.5,221.7 118.7,221.7 120,221.7 121.3,221.8 122.6,221.8 123.9,221.8 125.2,221.9 126.5,221.9 127.8,222 129.1,222 130.4,222 131.7,222 133,222 134.3,222 135.6,222 136.9,222 138.2,222 139.4,222 140.7,222 142,222 143.3,222 144.6,222 145.9,222 147.2,222 148.5,222.1 149.8,222.1 151.1,222.2 152.4,222.3 153.7,222.4 155,222.5 156.3,222.6 157.6,222.7 158.9,222.8 160.2,222.9 161.4,223 162.7,223.2 164,223.3 165.3,223.4 166.6,223.5 167.9,223.6 169.2,223.7 170.5,223.8 171.8,223.9 173.1,223.9 174.4,224 175.7,224 177,224 178.3,224.1 179.6,224.1 180.9,224.1 182.1,224.1 183.4,224.2 184.7,224.2 186,224.2 187.3,224.3 188.6,224.3 189.9,224.3 191.2,224.4 192.5,224.4"/><polyline points="64.4,150.5 65.7,155.4 67,160.4 68.3,165.8 69.6,171.4 70.9,177.2 72.2,182.9 73.5,188.2 74.8,193.1 76,197.6 77.3,201.9 78.6,205.7 79.9,208.9 81.2,211.6 82.5,214.1 83.8,216.3 85.1,218.4 86.4,220 87.7,221.4 89,222.5 90.3,223.4 91.6,224 92.9,224.6 94.2,225 95.5,225.2 96.7,225.1 98,225 99.3,224.9 100.6,224.8 101.9,224.7 103.2,224.5 104.5,224.3 105.8,224.2 107.1,224 108.4,224.1 109.7,224.1 111,224.1 112.3,224.1 113.6,224.1 114.9,224.2 116.2,224.2 117.5,224.2 118.7,224.2 120,224.2 121.3,224.2 122.6,224.2 123.9,224.3 125.2,224.3 126.5,224.3 127.8,224.3 129.1,224.4 130.4,224.5 131.7,224.7 133,224.9 134.3,225 135.6,225.2 136.9,225.4 138.2,225.6 139.4,225.7 140.7,225.9 142,226.1 143.3,226.2 144.6,226.4 145.9,226.6 147.2,226.8 148.5,226.9 149.8,227.1 151.1,227.1 152.4,227.1 153.7,227.1 155,227 156.3,227 157.6,227 158.9,227 160.2,227 161.4,227 162.7,226.9 164,226.9 165.3,226.9 166.6,226.9 167.9,226.9 169.2,226.9 170.5,226.8 171.8,226.9 173.1,226.9 174.4,227 175.7,227 177,227.1 178.3,227.1 179.6,227.2 180.9,227.3 182.1,227.3 183.4,227.4 184.7,227.4 186,227.5 187.3,227.5 188.6,227.5 189.9,227.5 191.2,227.5 192.5,227.5"/></g><g fill="none" stroke="#b08ae6" stroke-width="0.8" stroke-opacity="0.085"><polyline points="233.2,158.5 234.5,160.9 235.8,163.3 237.1,166.1 238.4,169.3 239.7,172.9 241,176.5 242.3,179.9 243.5,183 244.8,185.9 246.1,188.5 247.4,191 248.7,193.4 250,195.6 251.3,197.7 252.6,199.7 253.9,201.4 255.2,202.8 256.5,203.9 257.8,204.8 259.1,205.6 260.4,206.3 261.6,206.8 262.9,207.3 264.2,207.8 265.5,208.3 266.8,208.5 268.1,208.5 269.4,208.5 270.7,208.3 272,208.2 273.3,208 274.6,207.8 275.9,207.6 277.2,208 278.5,208.4 279.7,208.7 281,209.1 282.3,209.5 283.6,209.8 284.9,210.2 286.2,210.5 287.5,210.8 288.8,211.2 290.1,211.5 291.4,211.8 292.7,212.1 294,212.5 295.3,212.8 296.6,213.1 297.8,213.2 299.1,212.9 300.4,212.7 301.7,212.5 303,212.3 304.3,212.1 305.6,211.9 306.9,211.7 308.2,211.5 309.5,211.3 310.8,211.2 312.1,211 313.4,210.9 314.7,210.7 315.9,210.6 317.2,210.4 318.5,210.3 319.8,210.5 321.1,210.7 322.4,210.9 323.7,211.1 325,211.3 326.3,211.5 327.6,211.8 328.9,212 330.2,212.2 331.5,212.4 332.8,212.6 334,212.8 335.3,213.1 336.6,213.3 337.9,213.5 339.2,213.7 340.5,213.6 341.8,213.3 343.1,213 344.4,212.7 345.7,212.3 347,212 348.3,211.6 349.6,211.3 350.9,210.9 352.1,210.6 353.4,210.2 354.7,209.8 356,209.4 357.3,209 358.6,208.6 359.9,208.2 361.2,207.8"/><polyline points="233.2,157.7 234.5,160.7 235.8,163.9 237.1,167.7 238.4,172.2 239.7,176.7 241,180.8 242.3,184.7 243.5,188.1 244.8,191.3 246.1,194.2 247.4,197 248.7,199.6 250,201.8 251.3,203.7 252.6,205.4 253.9,207 255.2,208.2 256.5,209.3 257.8,210.4 259.1,211.2 260.4,211.9 261.6,212.2 262.9,212.4 264.2,212.6 265.5,212.8 266.8,213 268.1,213.1 269.4,213.1 270.7,213.1 272,213.1 273.3,213 274.6,213 275.9,212.9 277.2,212.7 278.5,212.5 279.7,212.3 281,212.1 282.3,211.9 283.6,211.7 284.9,211.5 286.2,211.3 287.5,211.1 288.8,210.9 290.1,210.7 291.4,210.5 292.7,210.4 294,210.2 295.3,210.1 296.6,209.9 297.8,209.8 299.1,209.6 300.4,209.4 301.7,209.2 303,209 304.3,208.8 305.6,208.6 306.9,208.5 308.2,208.3 309.5,208.1 310.8,207.9 312.1,207.8 313.4,207.6 314.7,207.4 315.9,207.3 317.2,207.1 318.5,206.9 319.8,207.1 321.1,207.3 322.4,207.4 323.7,207.6 325,207.7 326.3,207.9 327.6,208 328.9,208.1 330.2,208.2 331.5,208.3 332.8,208.4 334,208.5 335.3,208.5 336.6,208.5 337.9,208.6 339.2,208.6 340.5,208.7 341.8,208.9 343.1,209.1 344.4,209.3 345.7,209.5 347,209.6 348.3,209.8 349.6,210 350.9,210.2 352.1,210.4 353.4,210.6 354.7,210.8 356,211 357.3,211.3 358.6,211.6 359.9,211.9 361.2,212.2"/><polyline points="233.2,151 234.5,153.7 235.8,156.5 237.1,159.5 238.4,162.9 239.7,166.8 241,170.7 242.3,174.4 243.5,177.9 244.8,181.3 246.1,184.4 247.4,187.4 248.7,190.2 250,192.9 251.3,195.5 252.6,197.9 253.9,200.3 255.2,202.3 256.5,204.1 257.8,205.7 259.1,207.2 260.4,208.6 261.6,209.8 262.9,210.8 264.2,211.7 265.5,212.5 266.8,213.3 268.1,213.9 269.4,214.4 270.7,214.6 272,214.8 273.3,214.9 274.6,215 275.9,215.1 277.2,215.3 278.5,215.5 279.7,215.6 281,215.7 282.3,215.7 283.6,215.8 284.9,215.8 286.2,215.9 287.5,215.9 288.8,215.9 290.1,215.9 291.4,216 292.7,216 294,216 295.3,216 296.6,216 297.8,216 299.1,215.9 300.4,215.8 301.7,215.7 303,215.6 304.3,215.6 305.6,215.5 306.9,215.4 308.2,215.3 309.5,215.3 310.8,215.2 312.1,215.2 313.4,215.1 314.7,215.1 315.9,215.1 317.2,215 318.5,215 319.8,215 321.1,214.9 322.4,214.9 323.7,214.9 325,214.9 326.3,214.9 327.6,214.8 328.9,214.8 330.2,214.8 331.5,214.8 332.8,214.8 334,214.8 335.3,214.8 336.6,214.8 337.9,214.8 339.2,214.8 340.5,215 341.8,215.3 343.1,215.7 344.4,216.1 345.7,216.4 347,216.8 348.3,217.1 349.6,217.5 350.9,217.8 352.1,218.1 353.4,218.5 354.7,218.8 356,219.1 357.3,219.5 358.6,219.8 359.9,220.1 361.2,220.4"/><polyline points="233.2,151.4 234.5,154 235.8,156.6 237.1,159.3 238.4,162.4 239.7,165.9 241,169.5 242.3,173.1 243.5,176.5 244.8,179.8 246.1,182.9 247.4,185.8 248.7,188.6 250,191.3 251.3,193.8 252.6,196.2 253.9,198.6 255.2,200.8 256.5,203 257.8,204.8 259.1,206.6 260.4,208.2 261.6,209.7 262.9,211 264.2,212.1 265.5,213.1 266.8,214 268.1,214.9 269.4,215.8 270.7,216.5 272,217.1 273.3,217.6 274.6,218 275.9,218.2 277.2,218.4 278.5,218.6 279.7,218.7 281,218.8 282.3,218.9 283.6,218.9 284.9,218.9 286.2,218.9 287.5,218.9 288.8,218.9 290.1,218.8 291.4,218.8 292.7,218.7 294,218.7 295.3,218.6 296.6,218.6 297.8,218.4 299.1,218.1 300.4,217.9 301.7,217.6 303,217.4 304.3,217.1 305.6,216.9 306.9,216.6 308.2,216.3 309.5,216.1 310.8,215.8 312.1,215.6 313.4,215.3 314.7,215.1 315.9,214.8 317.2,214.6 318.5,214.4 319.8,214.6 321.1,214.7 322.4,214.9 323.7,215.1 325,215.3 326.3,215.5 327.6,215.7 328.9,215.9 330.2,216.2 331.5,216.4 332.8,216.6 334,216.8 335.3,217.1 336.6,217.3 337.9,217.5 339.2,217.8 340.5,217.9 341.8,217.9 343.1,218 344.4,218 345.7,218 347,218.1 348.3,218.1 349.6,218.2 350.9,218.2 352.1,218.2 353.4,218.3 354.7,218.3 356,218.4 357.3,218.4 358.6,218.4 359.9,218.5 361.2,218.5"/><polyline points="233.2,154 234.5,156.8 235.8,159.6 237.1,163 238.4,167.1 239.7,171.1 241,174.9 242.3,178.3 243.5,181.3 244.8,184 246.1,186.5 247.4,188.8 248.7,190.8 250,192.7 251.3,194.1 252.6,195.3 253.9,196.3 255.2,197.4 256.5,198.8 257.8,200 259.1,201.3 260.4,202.4 261.6,203.4 262.9,204.2 264.2,204.9 265.5,205.7 266.8,206.4 268.1,207 269.4,207.6 270.7,208.2 272,208.7 273.3,209.1 274.6,209.6 275.9,210 277.2,210.1 278.5,210.1 279.7,210.2 281,210.2 282.3,210.2 283.6,210.2 284.9,210.3 286.2,210.3 287.5,210.3 288.8,210.3 290.1,210.4 291.4,210.4 292.7,210.5 294,210.5 295.3,210.6 296.6,210.6 297.8,210.7 299.1,210.8 300.4,211 301.7,211.1 303,211.2 304.3,211.4 305.6,211.5 306.9,211.6 308.2,211.8 309.5,212 310.8,212.1 312.1,212.3 313.4,212.5 314.7,212.6 315.9,212.8 317.2,213 318.5,213.1 319.8,212.8 321.1,212.6 322.4,212.3 323.7,212 325,211.7 326.3,211.4 327.6,211.1 328.9,210.7 330.2,210.4 331.5,210.1 332.8,209.8 334,209.4 335.3,209.1 336.6,208.7 337.9,208.3 339.2,208 340.5,207.8 341.8,208 343.1,208.1 344.4,208.3 345.7,208.4 347,208.5 348.3,208.6 349.6,208.7 350.9,208.8 352.1,208.9 353.4,209 354.7,209.1 356,209.2 357.3,209.3 358.6,209.4 359.9,209.5 361.2,209.7"/><polyline points="233.2,152.1 234.5,153.9 235.8,155.7 237.1,157.9 238.4,160.6 239.7,163.7 241,166.9 242.3,169.8 243.5,172.5 244.8,175 246.1,177.4 247.4,179.6 248.7,181.7 250,183.7 251.3,185.6 252.6,187.3 253.9,188.9 255.2,190.3 256.5,191.5 257.8,192.6 259.1,193.6 260.4,194.4 261.6,195.2 262.9,196 264.2,197 265.5,197.9 266.8,198.6 268.1,199 269.4,199.4 270.7,199.7 272,200 273.3,200.2 274.6,200.4 275.9,200.6 277.2,200.5 278.5,200.4 279.7,200.3 281,200.1 282.3,199.9 283.6,199.8 284.9,199.6 286.2,199.4 287.5,199.3 288.8,199.1 290.1,198.9 291.4,198.7 292.7,198.5 294,198.3 295.3,198.1 296.6,198 297.8,197.9 299.1,197.9 300.4,197.9 301.7,197.9 303,197.9 304.3,197.9 305.6,197.9 306.9,197.9 308.2,197.9 309.5,198 310.8,198 312.1,198.1 313.4,198.1 314.7,198.2 315.9,198.3 317.2,198.3 318.5,198.4 319.8,198.9 321.1,199.4 322.4,199.9 323.7,200.5 325,201 326.3,201.5 327.6,202 328.9,202.6 330.2,203.1 331.5,203.6 332.8,204.1 334,204.7 335.3,205.2 336.6,205.7 337.9,206.2 339.2,206.8 340.5,206.9 341.8,206.6 343.1,206.3 344.4,205.9 345.7,205.6 347,205.3 348.3,205 349.6,204.7 350.9,204.3 352.1,204 353.4,203.7 354.7,203.3 356,202.9 357.3,202.6 358.6,202.2 359.9,201.8 361.2,201.4"/><polyline points="233.2,154 234.5,156.2 235.8,158.4 237.1,160.8 238.4,163.6 239.7,166.9 241,170.1 242.3,173.1 243.5,175.9 244.8,178.5 246.1,180.9 247.4,183.1 248.7,185.1 250,187 251.3,188.7 252.6,190.4 253.9,191.9 255.2,193.3 256.5,194.8 257.8,196.2 259.1,197.5 260.4,198.8 261.6,199.9 262.9,201 264.2,202.2 265.5,203.3 266.8,204.4 268.1,205.2 269.4,205.9 270.7,206.4 272,206.9 273.3,207.4 274.6,207.8 275.9,208.3 277.2,208.3 278.5,208.4 279.7,208.4 281,208.4 282.3,208.3 283.6,208.3 284.9,208.2 286.2,208.2 287.5,208.1 288.8,208 290.1,208 291.4,207.9 292.7,207.8 294,207.7 295.3,207.7 296.6,207.6 297.8,207.5 299.1,207.4 300.4,207.2 301.7,207.1 303,207 304.3,206.9 305.6,206.8 306.9,206.7 308.2,206.6 309.5,206.5 310.8,206.4 312.1,206.4 313.4,206.3 314.7,206.2 315.9,206.2 317.2,206.1 318.5,206.1 319.8,206 321.1,206 322.4,205.9 323.7,205.9 325,205.8 326.3,205.8 327.6,205.8 328.9,205.7 330.2,205.7 331.5,205.7 332.8,205.6 334,205.6 335.3,205.6 336.6,205.6 337.9,205.5 339.2,205.5 340.5,205.6 341.8,205.8 343.1,206 344.4,206.1 345.7,206.3 347,206.5 348.3,206.7 349.6,206.8 350.9,207 352.1,207.2 353.4,207.3 354.7,207.5 356,207.6 357.3,207.8 358.6,207.9 359.9,208 361.2,208.2"/><polyline points="233.2,155.8 234.5,158 235.8,160.4 237.1,163 238.4,166.1 239.7,169.6 241,173.1 242.3,176.3 243.5,179.4 244.8,182.2 246.1,184.8 247.4,187.2 248.7,189.5 250,191.7 251.3,193.8 252.6,195.7 253.9,197.4 255.2,198.7 256.5,199.9 257.8,200.8 259.1,201.7 260.4,202.3 261.6,202.9 262.9,203.5 264.2,204.1 265.5,204.7 266.8,205 268.1,205.1 269.4,205.1 270.7,205.1 272,205 273.3,204.9 274.6,204.8 275.9,204.6 277.2,204.6 278.5,204.6 279.7,204.5 281,204.4 282.3,204.3 283.6,204.3 284.9,204.2 286.2,204 287.5,203.9 288.8,203.8 290.1,203.7 291.4,203.6 292.7,203.5 294,203.4 295.3,203.2 296.6,203.1 297.8,203.1 299.1,203.2 300.4,203.3 301.7,203.5 303,203.6 304.3,203.7 305.6,203.8 306.9,204 308.2,204.1 309.5,204.3 310.8,204.4 312.1,204.6 313.4,204.8 314.7,204.9 315.9,205.1 317.2,205.3 318.5,205.5 319.8,205.5 321.1,205.6 322.4,205.6 323.7,205.7 325,205.7 326.3,205.8 327.6,205.8 328.9,205.9 330.2,205.9 331.5,206 332.8,206.1 334,206.1 335.3,206.2 336.6,206.2 337.9,206.3 339.2,206.3 340.5,206.4 341.8,206.4 343.1,206.4 344.4,206.4 345.7,206.4 347,206.5 348.3,206.5 349.6,206.5 350.9,206.5 352.1,206.4 353.4,206.4 354.7,206.4 356,206.4 357.3,206.3 358.6,206.3 359.9,206.2 361.2,206.1"/><polyline points="233.2,151.5 234.5,154.5 235.8,157.5 237.1,160.9 238.4,165 239.7,169.3 241,173.2 242.3,177 243.5,180.4 244.8,183.5 246.1,186.4 247.4,189 248.7,191.5 250,193.9 251.3,195.9 252.6,197.7 253.9,199.2 255.2,200.7 256.5,202 257.8,203.2 259.1,204.2 260.4,205.2 261.6,206.1 262.9,206.7 264.2,207.2 265.5,207.5 266.8,207.7 268.1,208 269.4,208.1 270.7,208.3 272,208.4 273.3,208.4 274.6,208.4 275.9,208.4 277.2,208.5 278.5,208.6 279.7,208.7 281,208.8 282.3,208.9 283.6,208.9 284.9,209 286.2,209.1 287.5,209.2 288.8,209.3 290.1,209.3 291.4,209.4 292.7,209.5 294,209.6 295.3,209.7 296.6,209.8 297.8,209.8 299.1,209.8 300.4,209.8 301.7,209.8 303,209.7 304.3,209.7 305.6,209.7 306.9,209.7 308.2,209.8 309.5,209.8 310.8,209.8 312.1,209.8 313.4,209.9 314.7,209.9 315.9,209.9 317.2,210 318.5,210 319.8,210 321.1,209.9 322.4,209.9 323.7,209.9 325,209.9 326.3,209.8 327.6,209.8 328.9,209.8 330.2,209.7 331.5,209.7 332.8,209.6 334,209.6 335.3,209.5 336.6,209.4 337.9,209.4 339.2,209.3 340.5,209.3 341.8,209.4 343.1,209.5 344.4,209.5 345.7,209.6 347,209.6 348.3,209.7 349.6,209.7 350.9,209.7 352.1,209.7 353.4,209.7 354.7,209.7 356,209.7 357.3,209.7 358.6,209.7 359.9,209.7 361.2,209.7"/><polyline points="233.2,158.2 234.5,160.2 235.8,162.3 237.1,164.7 238.4,167.7 239.7,171 241,174.3 242.3,177.5 243.5,180.4 244.8,183.1 246.1,185.7 247.4,188.1 248.7,190.3 250,192.5 251.3,194.7 252.6,196.6 253.9,198.3 255.2,199.8 256.5,201 257.8,202.2 259.1,203.2 260.4,204.1 261.6,204.9 262.9,205.7 264.2,206.6 265.5,207.3 266.8,207.9 268.1,208.2 269.4,208.5 270.7,208.8 272,209 273.3,209.2 274.6,209.3 275.9,209.4 277.2,209.3 278.5,209.2 279.7,209.1 281,209 282.3,208.9 283.6,208.8 284.9,208.6 286.2,208.5 287.5,208.4 288.8,208.2 290.1,208.1 291.4,207.9 292.7,207.8 294,207.6 295.3,207.5 296.6,207.3 297.8,207.3 299.1,207.4 300.4,207.6 301.7,207.7 303,207.8 304.3,208 305.6,208.1 306.9,208.3 308.2,208.5 309.5,208.6 310.8,208.8 312.1,209 313.4,209.2 314.7,209.4 315.9,209.6 317.2,209.8 318.5,210 319.8,209.8 321.1,209.7 322.4,209.5 323.7,209.3 325,209.2 326.3,209 327.6,208.9 328.9,208.7 330.2,208.5 331.5,208.4 332.8,208.2 334,208.1 335.3,207.9 336.6,207.7 337.9,207.6 339.2,207.4 340.5,207.3 341.8,207.2 343.1,207.2 344.4,207.2 345.7,207.1 347,207.1 348.3,207 349.6,206.9 350.9,206.9 352.1,206.8 353.4,206.7 354.7,206.6 356,206.5 357.3,206.4 358.6,206.2 359.9,206.1 361.2,206"/><polyline points="233.2,150.8 234.5,153.7 235.8,156.5 237.1,159.7 238.4,163.5 239.7,167.5 241,171.3 242.3,174.9 243.5,178.3 244.8,181.2 246.1,184 247.4,186.6 248.7,188.9 250,191.2 251.3,193.2 252.6,195.1 253.9,196.6 255.2,198.1 256.5,199.7 257.8,201.1 259.1,202.4 260.4,203.5 261.6,204.6 262.9,205.7 264.2,206.7 265.5,207.5 266.8,208 268.1,208.4 269.4,208.8 270.7,209.1 272,209.4 273.3,209.7 274.6,209.9 275.9,210.1 277.2,210 278.5,209.8 279.7,209.6 281,209.4 282.3,209.2 283.6,209 284.9,208.8 286.2,208.6 287.5,208.4 288.8,208.2 290.1,208 291.4,207.7 292.7,207.5 294,207.3 295.3,207.1 296.6,206.9 297.8,206.8 299.1,207 300.4,207.1 301.7,207.2 303,207.4 304.3,207.5 305.6,207.7 306.9,207.8 308.2,208 309.5,208.2 310.8,208.4 312.1,208.6 313.4,208.8 314.7,209 315.9,209.2 317.2,209.4 318.5,209.6 319.8,210 321.1,210.4 322.4,210.7 323.7,211.1 325,211.5 326.3,211.9 327.6,212.3 328.9,212.7 330.2,213 331.5,213.4 332.8,213.8 334,214.2 335.3,214.6 336.6,214.9 337.9,215.3 339.2,215.7 340.5,215.8 341.8,215.6 343.1,215.5 344.4,215.3 345.7,215.2 347,215 348.3,214.9 349.6,214.7 350.9,214.5 352.1,214.3 353.4,214.1 354.7,213.9 356,213.6 357.3,213.4 358.6,213.2 359.9,212.9 361.2,212.7"/><polyline points="233.2,155.7 234.5,157.7 235.8,159.8 237.1,162 238.4,164.4 239.7,167.5 241,170.6 242.3,173.6 243.5,176.5 244.8,179.1 246.1,181.6 247.4,183.9 248.7,186.1 250,188.1 251.3,190 252.6,191.9 253.9,193.7 255.2,195.4 256.5,196.9 257.8,198.4 259.1,199.7 260.4,200.9 261.6,202.1 262.9,203.2 264.2,204.3 265.5,205.4 266.8,206.3 268.1,207.3 269.4,208.1 270.7,208.8 272,209.3 273.3,209.7 274.6,210 275.9,210.4 277.2,210.5 278.5,210.7 279.7,210.8 281,210.9 282.3,210.9 283.6,210.9 284.9,210.9 286.2,210.9 287.5,210.9 288.8,210.8 290.1,210.8 291.4,210.8 292.7,210.7 294,210.7 295.3,210.6 296.6,210.6 297.8,210.6 299.1,210.7 300.4,210.8 301.7,210.9 303,211 304.3,211.1 305.6,211.2 306.9,211.2 308.2,211.3 309.5,211.4 310.8,211.5 312.1,211.6 313.4,211.8 314.7,211.9 315.9,212 317.2,212.1 318.5,212.3 319.8,211.8 321.1,211.2 322.4,210.7 323.7,210.2 325,209.8 326.3,209.3 327.6,208.8 328.9,208.3 330.2,207.8 331.5,207.3 332.8,206.9 334,206.4 335.3,205.9 336.6,205.5 337.9,205 339.2,204.5 340.5,204.5 341.8,205 343.1,205.4 344.4,205.9 345.7,206.3 347,206.8 348.3,207.2 349.6,207.7 350.9,208.1 352.1,208.6 353.4,209 354.7,209.5 356,209.9 357.3,210.3 358.6,210.8 359.9,211.2 361.2,211.6"/><polyline points="233.2,154.6 234.5,157.1 235.8,159.7 237.1,162.4 238.4,165.4 239.7,169 241,172.6 242.3,176.1 243.5,179.3 244.8,182.5 246.1,185.3 247.4,187.9 248.7,190.5 250,192.9 251.3,195.2 252.6,197.4 253.9,199.4 255.2,201.4 256.5,203.2 257.8,204.8 259.1,206.4 260.4,207.8 261.6,209.2 262.9,210.4 264.2,211.5 265.5,212.6 266.8,213.5 268.1,214.4 269.4,215.2 270.7,215.7 272,216.1 273.3,216.5 274.6,216.8 275.9,217.2 277.2,217.4 278.5,217.7 279.7,217.9 281,218 282.3,218.1 283.6,218.2 284.9,218.4 286.2,218.5 287.5,218.5 288.8,218.6 290.1,218.7 291.4,218.8 292.7,218.9 294,219 295.3,219 296.6,219.1 297.8,218.9 299.1,218.5 300.4,218 301.7,217.6 303,217.1 304.3,216.7 305.6,216.3 306.9,215.8 308.2,215.4 309.5,215 310.8,214.6 312.1,214.2 313.4,213.8 314.7,213.4 315.9,213 317.2,212.6 318.5,212.2 319.8,212.2 321.1,212.3 322.4,212.4 323.7,212.4 325,212.5 326.3,212.5 327.6,212.6 328.9,212.7 330.2,212.8 331.5,212.8 332.8,212.9 334,213 335.3,213.1 336.6,213.1 337.9,213.2 339.2,213.3 340.5,213.2 341.8,212.9 343.1,212.6 344.4,212.2 345.7,211.9 347,211.6 348.3,211.3 349.6,211 350.9,210.6 352.1,210.3 353.4,210 354.7,209.6 356,209.3 357.3,208.9 358.6,208.6 359.9,208.2 361.2,207.9"/><polyline points="233.2,151.1 234.5,153.9 235.8,156.8 237.1,160.2 238.4,164.3 239.7,168.6 241,172.7 242.3,176.6 243.5,180.2 244.8,183.6 246.1,186.8 247.4,189.9 248.7,192.8 250,195.6 251.3,198.3 252.6,200.6 253.9,202.7 255.2,204.5 256.5,205.8 257.8,206.9 259.1,207.8 260.4,208.6 261.6,209.3 262.9,209.8 264.2,210.1 265.5,210.1 266.8,210.1 268.1,210 269.4,209.9 270.7,209.8 272,209.6 273.3,209.3 274.6,209.1 275.9,208.8 277.2,208.7 278.5,208.6 279.7,208.5 281,208.4 282.3,208.3 283.6,208.2 284.9,208.1 286.2,208 287.5,207.9 288.8,207.7 290.1,207.6 291.4,207.5 292.7,207.4 294,207.3 295.3,207.2 296.6,207.1 297.8,207.2 299.1,207.4 300.4,207.6 301.7,207.8 303,208 304.3,208.2 305.6,208.4 306.9,208.7 308.2,208.9 309.5,209.2 310.8,209.4 312.1,209.7 313.4,209.9 314.7,210.2 315.9,210.5 317.2,210.7 318.5,211 319.8,210.9 321.1,210.9 322.4,210.8 323.7,210.7 325,210.6 326.3,210.6 327.6,210.5 328.9,210.4 330.2,210.3 331.5,210.3 332.8,210.2 334,210.1 335.3,210 336.6,209.9 337.9,209.8 339.2,209.7 340.5,209.7 341.8,209.9 343.1,210.1 344.4,210.3 345.7,210.5 347,210.7 348.3,210.9 349.6,211 350.9,211.2 352.1,211.3 353.4,211.5 354.7,211.6 356,211.7 357.3,211.9 358.6,212 359.9,212.1 361.2,212.2"/><polyline points="233.2,154.8 234.5,157.7 235.8,160.7 237.1,164.1 238.4,168.3 239.7,172.7 241,176.9 242.3,180.9 243.5,184.7 244.8,188.2 246.1,191.5 247.4,194.7 248.7,197.7 250,200.7 251.3,203.4 252.6,205.8 253.9,208.1 255.2,210 256.5,211.6 257.8,212.9 259.1,214.1 260.4,215.2 261.6,216.2 262.9,217 264.2,217.4 265.5,217.7 266.8,217.8 268.1,218 269.4,218.1 270.7,218.1 272,218.1 273.3,218.1 274.6,218 275.9,217.9 277.2,217.8 278.5,217.7 279.7,217.6 281,217.4 282.3,217.3 283.6,217.2 284.9,217 286.2,216.9 287.5,216.8 288.8,216.6 290.1,216.5 291.4,216.4 292.7,216.2 294,216.1 295.3,216 296.6,215.9 297.8,216 299.1,216.5 300.4,216.9 301.7,217.4 303,217.8 304.3,218.3 305.6,218.8 306.9,219.2 308.2,219.7 309.5,220.2 310.8,220.7 312.1,221.2 313.4,221.7 314.7,222.2 315.9,222.7 317.2,223.3 318.5,223.8 319.8,223.2 321.1,222.5 322.4,221.9 323.7,221.3 325,220.7 326.3,220.1 327.6,219.5 328.9,218.8 330.2,218.2 331.5,217.6 332.8,217 334,216.3 335.3,215.7 336.6,215 337.9,214.4 339.2,213.7 340.5,213.5 341.8,213.6 343.1,213.7 344.4,213.7 345.7,213.8 347,213.9 348.3,213.9 349.6,214 350.9,214 352.1,214 353.4,214 354.7,214 356,214.1 357.3,214.1 358.6,214.1 359.9,214.1 361.2,214.1"/><polyline points="233.2,156.9 234.5,158.6 235.8,160.3 237.1,162.2 238.4,164.5 239.7,167.4 241,170.2 242.3,173 243.5,175.5 244.8,178 246.1,180.1 247.4,182.1 248.7,184.1 250,185.9 251.3,187.5 252.6,189.2 253.9,190.7 255.2,192.1 256.5,193.2 257.8,194.2 259.1,195.2 260.4,196 261.6,196.9 262.9,197.6 264.2,198.5 265.5,199.4 266.8,200.2 268.1,200.9 269.4,201.5 270.7,201.9 272,202.1 273.3,202.3 274.6,202.5 275.9,202.6 277.2,202.8 278.5,202.9 279.7,203 281,203 282.3,203 283.6,203 284.9,203 286.2,203 287.5,203 288.8,202.9 290.1,202.9 291.4,202.9 292.7,202.8 294,202.8 295.3,202.7 296.6,202.7 297.8,202.7 299.1,202.7 300.4,202.7 301.7,202.7 303,202.8 304.3,202.8 305.6,202.8 306.9,202.9 308.2,202.9 309.5,203 310.8,203 312.1,203.1 313.4,203.1 314.7,203.2 315.9,203.3 317.2,203.3 318.5,203.4 319.8,203.4 321.1,203.3 322.4,203.2 323.7,203.2 325,203.1 326.3,203.1 327.6,203.1 328.9,203 330.2,203 331.5,202.9 332.8,202.9 334,202.9 335.3,202.8 336.6,202.8 337.9,202.8 339.2,202.8 340.5,202.8 341.8,202.8 343.1,202.8 344.4,202.9 345.7,202.9 347,202.9 348.3,203 349.6,203 350.9,203 352.1,203 353.4,203.1 354.7,203.1 356,203.1 357.3,203.1 358.6,203.1 359.9,203.1 361.2,203.1"/><polyline points="233.2,155.4 234.5,158.5 235.8,161.8 237.1,165.8 238.4,170.6 239.7,175.3 241,179.8 242.3,183.9 243.5,187.7 244.8,191.3 246.1,194.7 247.4,198 248.7,201 250,203.8 251.3,206.3 252.6,208.5 253.9,210.6 255.2,212.2 256.5,213.1 257.8,213.9 259.1,214.5 260.4,214.8 261.6,214.7 262.9,214.5 264.2,214.2 265.5,213.8 266.8,213.5 268.1,213 269.4,212.5 270.7,212 272,211.4 273.3,210.8 274.6,210.2 275.9,209.6 277.2,210 278.5,210.4 279.7,210.8 281,211.2 282.3,211.5 283.6,211.9 284.9,212.3 286.2,212.7 287.5,213 288.8,213.4 290.1,213.8 291.4,214.2 292.7,214.7 294,215.1 295.3,215.5 296.6,216 297.8,216.1 299.1,215.9 300.4,215.7 301.7,215.5 303,215.3 304.3,215.1 305.6,215 306.9,214.8 308.2,214.6 309.5,214.4 310.8,214.3 312.1,214.1 313.4,213.9 314.7,213.8 315.9,213.6 317.2,213.4 318.5,213.2 319.8,213.2 321.1,213.1 322.4,213 323.7,212.9 325,212.8 326.3,212.7 327.6,212.6 328.9,212.5 330.2,212.4 331.5,212.3 332.8,212.1 334,211.9 335.3,211.8 336.6,211.6 337.9,211.4 339.2,211.2 340.5,211 341.8,210.9 343.1,210.8 344.4,210.7 345.7,210.6 347,210.5 348.3,210.4 349.6,210.4 350.9,210.3 352.1,210.2 353.4,210.1 354.7,210 356,209.9 357.3,210 358.6,210 359.9,210 361.2,210"/><polyline points="233.2,150.7 234.5,153.9 235.8,157.2 237.1,161 238.4,165.7 239.7,170.3 241,174.7 242.3,178.7 243.5,182.4 244.8,185.8 246.1,189 247.4,191.9 248.7,194.8 250,197.3 251.3,199.6 252.6,201.5 253.9,203.3 255.2,204.9 256.5,206.4 257.8,207.6 259.1,208.9 260.4,209.9 261.6,210.8 262.9,211.2 264.2,211.6 265.5,211.9 266.8,212.2 268.1,212.4 269.4,212.5 270.7,212.6 272,212.7 273.3,212.7 274.6,212.7 275.9,212.7 277.2,213 278.5,213.2 279.7,213.4 281,213.5 282.3,213.7 283.6,213.9 284.9,214.1 286.2,214.3 287.5,214.5 288.8,214.7 290.1,214.9 291.4,215.1 292.7,215.3 294,215.5 295.3,215.8 296.6,216 297.8,215.9 299.1,215.4 300.4,215 301.7,214.5 303,214.1 304.3,213.6 305.6,213.2 306.9,212.8 308.2,212.4 309.5,211.9 310.8,211.5 312.1,211.1 313.4,210.7 314.7,210.3 315.9,209.9 317.2,209.5 318.5,209.1 319.8,209.4 321.1,209.7 322.4,210 323.7,210.3 325,210.6 326.3,210.9 327.6,211.2 328.9,211.5 330.2,211.8 331.5,212.1 332.8,212.3 334,212.6 335.3,212.9 336.6,213.1 337.9,213.3 339.2,213.5 340.5,213.7 341.8,213.9 343.1,214 344.4,214.2 345.7,214.3 347,214.4 348.3,214.5 349.6,214.7 350.9,214.8 352.1,214.9 353.4,215 354.7,215.1 356,215.2 357.3,215.3 358.6,215.5 359.9,215.6 361.2,215.7"/><polyline points="233.2,155.5 234.5,157.2 235.8,159 237.1,161 238.4,163.3 239.7,166.2 241,169.1 242.3,172 243.5,174.6 244.8,177.1 246.1,179.4 247.4,181.6 248.7,183.6 250,185.5 251.3,187.3 252.6,189.1 253.9,190.7 255.2,192.2 256.5,193.3 257.8,194.3 259.1,195.2 260.4,196 261.6,196.8 262.9,197.5 264.2,198.3 265.5,199 266.8,199.7 268.1,200.4 269.4,200.8 270.7,201.2 272,201.3 273.3,201.4 274.6,201.5 275.9,201.5 277.2,201.8 278.5,202 279.7,202.2 281,202.4 282.3,202.5 283.6,202.6 284.9,202.7 286.2,202.8 287.5,202.9 288.8,203 290.1,203.1 291.4,203.1 292.7,203.2 294,203.3 295.3,203.3 296.6,203.4 297.8,203.3 299.1,203.1 300.4,202.9 301.7,202.7 303,202.5 304.3,202.2 305.6,202 306.9,201.8 308.2,201.6 309.5,201.4 310.8,201.2 312.1,201 313.4,200.8 314.7,200.6 315.9,200.5 317.2,200.3 318.5,200.1 319.8,199.9 321.1,199.7 322.4,199.4 323.7,199.2 325,199 326.3,198.8 327.6,198.6 328.9,198.4 330.2,198.2 331.5,198 332.8,197.8 334,197.5 335.3,197.4 336.6,197.2 337.9,197 339.2,196.8 340.5,196.9 341.8,197.5 343.1,198.1 344.4,198.6 345.7,199.2 347,199.8 348.3,200.3 349.6,200.9 350.9,201.4 352.1,202 353.4,202.6 354.7,203.1 356,203.6 357.3,204.2 358.6,204.7 359.9,205.3 361.2,205.8"/><polyline points="233.2,154.3 234.5,157.1 235.8,160.1 237.1,163.2 238.4,166.8 239.7,170.9 241,174.9 242.3,178.8 243.5,182.6 244.8,186.1 246.1,189.4 247.4,192.6 248.7,195.6 250,198.5 251.3,201.3 252.6,204 253.9,206.5 255.2,208.7 256.5,210.7 257.8,212.4 259.1,214.1 260.4,215.6 261.6,216.9 262.9,218.1 264.2,219 265.5,219.9 266.8,220.6 268.1,221.2 269.4,221.7 270.7,222 272,222.2 273.3,222.3 274.6,222.5 275.9,222.6 277.2,222.6 278.5,222.5 279.7,222.4 281,222.2 282.3,222.1 283.6,221.9 284.9,221.7 286.2,221.5 287.5,221.3 288.8,221.1 290.1,220.9 291.4,220.7 292.7,220.5 294,220.3 295.3,220.1 296.6,219.9 297.8,219.9 299.1,220 300.4,220.2 301.7,220.4 303,220.6 304.3,220.8 305.6,221 306.9,221.2 308.2,221.4 309.5,221.6 310.8,221.8 312.1,222 313.4,222.2 314.7,222.5 315.9,222.7 317.2,222.9 318.5,223.2 319.8,223.3 321.1,223.4 322.4,223.5 323.7,223.6 325,223.7 326.3,223.9 327.6,224 328.9,224.1 330.2,224.3 331.5,224.4 332.8,224.5 334,224.7 335.3,224.8 336.6,224.9 337.9,225.1 339.2,225.2 340.5,225.3 341.8,225.2 343.1,225.2 344.4,225.2 345.7,225.1 347,225.1 348.3,225.1 349.6,225 350.9,225 352.1,224.9 353.4,224.9 354.7,224.8 356,224.8 357.3,224.7 358.6,224.6 359.9,224.6 361.2,224.5"/><polyline points="233.2,156 234.5,158.3 235.8,160.6 237.1,163 238.4,165.7 239.7,169.1 241,172.4 242.3,175.6 243.5,178.7 244.8,181.6 246.1,184.3 247.4,186.8 248.7,189.1 250,191.4 251.3,193.5 252.6,195.5 253.9,197.4 255.2,199.2 256.5,200.7 257.8,202.1 259.1,203.4 260.4,204.5 261.6,205.6 262.9,206.5 264.2,207.4 265.5,208.2 266.8,209 268.1,209.7 269.4,210.3 270.7,210.8 272,211 273.3,211.2 274.6,211.3 275.9,211.4 277.2,211.6 278.5,211.7 279.7,211.8 281,211.9 282.3,211.9 283.6,211.9 284.9,211.9 286.2,211.9 287.5,211.9 288.8,211.8 290.1,211.8 291.4,211.7 292.7,211.7 294,211.6 295.3,211.6 296.6,211.5 297.8,211.7 299.1,212 300.4,212.3 301.7,212.7 303,213 304.3,213.3 305.6,213.6 306.9,214 308.2,214.3 309.5,214.7 310.8,215 312.1,215.3 313.4,215.7 314.7,216 315.9,216.4 317.2,216.8 318.5,217.2 319.8,216.5 321.1,215.9 322.4,215.2 323.7,214.6 325,214 326.3,213.3 327.6,212.7 328.9,212.1 330.2,211.5 331.5,210.9 332.8,210.3 334,209.6 335.3,209 336.6,208.4 337.9,207.8 339.2,207.2 340.5,207.1 341.8,207.4 343.1,207.7 344.4,208 345.7,208.4 347,208.7 348.3,209 349.6,209.3 350.9,209.6 352.1,209.9 353.4,210.2 354.7,210.6 356,210.9 357.3,211.2 358.6,211.5 359.9,211.8 361.2,212.1"/><polyline points="233.2,151.3 234.5,153.6 235.8,155.9 237.1,158.6 238.4,161.9 239.7,165.6 241,169.2 242.3,172.6 243.5,175.9 244.8,178.8 246.1,181.6 247.4,184.3 248.7,186.9 250,189.3 251.3,191.7 252.6,193.9 253.9,195.9 255.2,197.5 256.5,198.7 257.8,199.8 259.1,200.7 260.4,201.5 261.6,202.2 262.9,202.8 264.2,203.5 265.5,204 266.8,204.2 268.1,204.3 269.4,204.3 270.7,204.3 272,204.3 273.3,204.2 274.6,204.1 275.9,204 277.2,203.8 278.5,203.7 279.7,203.5 281,203.3 282.3,203.2 283.6,203 284.9,202.8 286.2,202.6 287.5,202.4 288.8,202.2 290.1,202 291.4,201.8 292.7,201.6 294,201.4 295.3,201.2 296.6,201 297.8,201 299.1,201.2 300.4,201.4 301.7,201.6 303,201.8 304.3,202 305.6,202.2 306.9,202.5 308.2,202.7 309.5,203 310.8,203.2 312.1,203.5 313.4,203.7 314.7,204 315.9,204.3 317.2,204.6 318.5,204.8 319.8,204.9 321.1,205 322.4,205.1 323.7,205.2 325,205.2 326.3,205.3 327.6,205.4 328.9,205.5 330.2,205.6 331.5,205.7 332.8,205.8 334,205.9 335.3,205.9 336.6,206 337.9,206.1 339.2,206.2 340.5,206.2 341.8,206.2 343.1,206.1 344.4,206.1 345.7,206 347,206 348.3,205.9 349.6,205.9 350.9,205.8 352.1,205.7 353.4,205.6 354.7,205.5 356,205.4 357.3,205.3 358.6,205.2 359.9,205 361.2,204.9"/><polyline points="233.2,155.3 234.5,158.4 235.8,161.5 237.1,165 238.4,169.4 239.7,173.7 241,177.7 242.3,181.5 243.5,184.8 244.8,187.9 246.1,190.7 247.4,193.3 248.7,195.7 250,197.9 251.3,199.7 252.6,201.2 253.9,202.6 255.2,203.9 256.5,205.2 257.8,206.4 259.1,207.5 260.4,208.5 261.6,209.3 262.9,209.9 264.2,210.3 265.5,210.7 266.8,211.1 268.1,211.4 269.4,211.7 270.7,211.9 272,212.1 273.3,212.2 274.6,212.3 275.9,212.4 277.2,212.4 278.5,212.4 279.7,212.3 281,212.3 282.3,212.2 283.6,212.2 284.9,212.1 286.2,212.1 287.5,212 288.8,212 290.1,211.9 291.4,211.9 292.7,211.9 294,211.8 295.3,211.8 296.6,211.8 297.8,211.9 299.1,212.1 300.4,212.3 301.7,212.6 303,212.8 304.3,213 305.6,213.3 306.9,213.5 308.2,213.8 309.5,214 310.8,214.3 312.1,214.5 313.4,214.8 314.7,215.1 315.9,215.4 317.2,215.6 318.5,215.9 319.8,215.7 321.1,215.4 322.4,215.2 323.7,214.9 325,214.7 326.3,214.4 327.6,214.2 328.9,213.9 330.2,213.6 331.5,213.4 332.8,213.1 334,212.8 335.3,212.5 336.6,212.2 337.9,211.9 339.2,211.5 340.5,211.5 341.8,211.8 343.1,212.2 344.4,212.5 345.7,212.7 347,213 348.3,213.3 349.6,213.6 350.9,213.9 352.1,214.1 353.4,214.4 354.7,214.6 356,214.9 357.3,215.2 358.6,215.4 359.9,215.7 361.2,216"/><polyline points="233.2,153.7 234.5,156.7 235.8,159.7 237.1,163 238.4,166.8 239.7,171 241,175.2 242.3,179.1 243.5,182.8 244.8,186.2 246.1,189.5 247.4,192.6 248.7,195.5 250,198.3 251.3,200.9 252.6,203.4 253.9,205.7 255.2,207.6 256.5,209.4 257.8,210.9 259.1,212.3 260.4,213.5 261.6,214.6 262.9,215.5 264.2,216.3 265.5,217 266.8,217.5 268.1,217.7 269.4,217.8 270.7,217.9 272,218 273.3,218 274.6,218 275.9,218 277.2,217.8 278.5,217.5 279.7,217.2 281,217 282.3,216.7 283.6,216.3 284.9,216 286.2,215.7 287.5,215.4 288.8,215.1 290.1,214.7 291.4,214.4 292.7,214.1 294,213.8 295.3,213.4 296.6,213.1 297.8,213 299.1,213.1 300.4,213.2 301.7,213.3 303,213.5 304.3,213.6 305.6,213.7 306.9,213.9 308.2,214 309.5,214.2 310.8,214.3 312.1,214.5 313.4,214.7 314.7,214.9 315.9,215.1 317.2,215.3 318.5,215.5 319.8,215.6 321.1,215.7 322.4,215.9 323.7,216 325,216.2 326.3,216.3 327.6,216.5 328.9,216.7 330.2,216.8 331.5,217 332.8,217.1 334,217.3 335.3,217.4 336.6,217.6 337.9,217.7 339.2,217.9 340.5,218.1 341.8,218.4 343.1,218.7 344.4,219 345.7,219.3 347,219.6 348.3,219.9 349.6,220.2 350.9,220.5 352.1,220.7 353.4,221 354.7,221.2 356,221.5 357.3,221.7 358.6,221.9 359.9,222.2 361.2,222.4"/><polyline points="233.2,151.5 234.5,154.3 235.8,157.2 237.1,160.2 238.4,163.4 239.7,167.3 241,171.1 242.3,174.9 243.5,178.5 244.8,181.9 246.1,185.1 247.4,188.1 248.7,190.9 250,193.6 251.3,196.2 252.6,198.7 253.9,201.1 255.2,203.3 256.5,205.4 257.8,207.3 259.1,208.9 260.4,210.5 261.6,212 262.9,213.2 264.2,214.2 265.5,215.1 266.8,216 268.1,216.8 269.4,217.5 270.7,218.1 272,218.6 273.3,218.9 274.6,219.1 275.9,219.3 277.2,219.7 278.5,220.2 279.7,220.5 281,220.9 282.3,221.3 283.6,221.6 284.9,221.8 286.2,222.1 287.5,222.3 288.8,222.6 290.1,222.8 291.4,223.1 292.7,223.3 294,223.6 295.3,223.8 296.6,224 297.8,224 299.1,223.7 300.4,223.4 301.7,223.1 303,222.8 304.3,222.5 305.6,222.2 306.9,221.9 308.2,221.6 309.5,221.3 310.8,221 312.1,220.7 313.4,220.4 314.7,220.1 315.9,219.8 317.2,219.6 318.5,219.3 319.8,219.4 321.1,219.5 322.4,219.6 323.7,219.7 325,219.8 326.3,219.9 327.6,220 328.9,220.1 330.2,220.2 331.5,220.3 332.8,220.5 334,220.6 335.3,220.7 336.6,220.8 337.9,221 339.2,221.1 340.5,221.2 341.8,221.2 343.1,221.2 344.4,221.3 345.7,221.3 347,221.3 348.3,221.3 349.6,221.4 350.9,221.4 352.1,221.4 353.4,221.4 354.7,221.4 356,221.4 357.3,221.5 358.6,221.5 359.9,221.5 361.2,221.5"/><polyline points="233.2,155.2 234.5,157 235.8,158.8 237.1,160.8 238.4,163 239.7,165.8 241,168.6 242.3,171.2 243.5,173.7 244.8,176 246.1,178.1 247.4,180 248.7,181.8 250,183.4 251.3,184.9 252.6,186.3 253.9,187.6 255.2,188.8 256.5,189.8 257.8,190.6 259.1,191.3 260.4,192 261.6,192.6 262.9,193.1 264.2,193.8 265.5,194.5 266.8,195.1 268.1,195.7 269.4,196.1 270.7,196.4 272,196.6 273.3,196.6 274.6,196.6 275.9,196.5 277.2,197.2 278.5,197.9 279.7,198.6 281,199.2 282.3,199.8 283.6,200.4 284.9,200.9 286.2,201.5 287.5,202 288.8,202.5 290.1,203 291.4,203.5 292.7,204 294,204.5 295.3,205.1 296.6,205.6 297.8,205.6 299.1,205.2 300.4,204.8 301.7,204.4 303,204 304.3,203.7 305.6,203.3 306.9,202.9 308.2,202.5 309.5,202.1 310.8,201.7 312.1,201.4 313.4,201 314.7,200.6 315.9,200.3 317.2,199.9 318.5,199.6 319.8,199.6 321.1,199.7 322.4,199.8 323.7,199.8 325,199.9 326.3,200 327.6,200 328.9,200.1 330.2,200.2 331.5,200.3 332.8,200.4 334,200.5 335.3,200.6 336.6,200.7 337.9,200.8 339.2,200.9 340.5,200.9 341.8,201 343.1,201.1 344.4,201.2 345.7,201.3 347,201.4 348.3,201.4 349.6,201.5 350.9,201.6 352.1,201.7 353.4,201.7 354.7,201.8 356,201.9 357.3,201.9 358.6,202 359.9,202.1 361.2,202.1"/><polyline points="233.2,159 234.5,161.1 235.8,163.3 237.1,165.5 238.4,168.1 239.7,171.1 241,174.2 242.3,177.2 243.5,180 244.8,182.7 246.1,185.2 247.4,187.5 248.7,189.6 250,191.7 251.3,193.6 252.6,195.3 253.9,197 255.2,198.7 256.5,200.5 257.8,201.9 259.1,203.3 260.4,204.7 261.6,205.9 262.9,207 264.2,208.2 265.5,209.2 266.8,210.2 268.1,211.1 269.4,212 270.7,212.7 272,213.4 273.3,213.9 274.6,214.3 275.9,214.6 277.2,215 278.5,215.3 279.7,215.6 281,215.9 282.3,216.2 283.6,216.5 284.9,216.7 286.2,216.9 287.5,217 288.8,217.2 290.1,217.3 291.4,217.5 292.7,217.6 294,217.8 295.3,217.9 296.6,218 297.8,218 299.1,217.8 300.4,217.5 301.7,217.3 303,217.1 304.3,216.8 305.6,216.6 306.9,216.4 308.2,216.2 309.5,215.9 310.8,215.7 312.1,215.5 313.4,215.3 314.7,215 315.9,214.8 317.2,214.6 318.5,214.4 319.8,214.5 321.1,214.5 322.4,214.6 323.7,214.7 325,214.8 326.3,214.9 327.6,215 328.9,215.1 330.2,215.1 331.5,215.3 332.8,215.4 334,215.5 335.3,215.6 336.6,215.7 337.9,215.8 339.2,215.9 340.5,215.8 341.8,215.5 343.1,215.2 344.4,214.9 345.7,214.6 347,214.3 348.3,214 349.6,213.7 350.9,213.4 352.1,213.2 353.4,212.9 354.7,212.6 356,212.3 357.3,212 358.6,211.6 359.9,211.3 361.2,211"/><polyline points="233.2,157.4 234.5,160 235.8,162.5 237.1,165.4 238.4,168.7 239.7,172.5 241,176.1 242.3,179.5 243.5,182.7 244.8,185.6 246.1,188.3 247.4,190.8 248.7,193.1 250,195.3 251.3,197.4 252.6,199.3 253.9,201 255.2,202.5 256.5,204 257.8,205.3 259.1,206.6 260.4,207.7 261.6,208.7 262.9,209.7 264.2,210.7 265.5,211.6 266.8,212.2 268.1,212.7 269.4,213 270.7,213.4 272,213.7 273.3,213.9 274.6,214.2 275.9,214.4 277.2,214.7 278.5,214.9 279.7,215.2 281,215.4 282.3,215.7 283.6,215.9 284.9,216.1 286.2,216.3 287.5,216.5 288.8,216.7 290.1,216.9 291.4,217.2 292.7,217.4 294,217.6 295.3,217.8 296.6,218 297.8,217.9 299.1,217.6 300.4,217.3 301.7,217 303,216.7 304.3,216.4 305.6,216.1 306.9,215.8 308.2,215.6 309.5,215.3 310.8,215.1 312.1,214.8 313.4,214.6 314.7,214.3 315.9,214.1 317.2,213.9 318.5,213.6 319.8,213.6 321.1,213.6 322.4,213.6 323.7,213.6 325,213.6 326.3,213.6 327.6,213.5 328.9,213.5 330.2,213.5 331.5,213.5 332.8,213.5 334,213.5 335.3,213.5 336.6,213.5 337.9,213.5 339.2,213.5 340.5,213.7 341.8,214.3 343.1,214.8 344.4,215.4 345.7,215.9 347,216.5 348.3,217 349.6,217.5 350.9,218 352.1,218.5 353.4,219 354.7,219.5 356,220 357.3,220.5 358.6,221 359.9,221.4 361.2,221.9"/><polyline points="233.2,157.6 234.5,160.4 235.8,163.3 237.1,166.8 238.4,171 239.7,175.1 241,178.9 242.3,182.3 243.5,185.3 244.8,188 246.1,190.5 247.4,192.7 248.7,194.8 250,196.6 251.3,197.9 252.6,199.1 253.9,200 255.2,201 256.5,202.1 257.8,203.1 259.1,204.1 260.4,204.9 261.6,205.5 262.9,206 264.2,206.5 265.5,207 266.8,207.5 268.1,207.9 269.4,208.3 270.7,208.6 272,208.9 273.3,209.2 274.6,209.4 275.9,209.7 277.2,209.8 278.5,209.8 279.7,209.9 281,210 282.3,210 283.6,210.1 284.9,210.2 286.2,210.3 287.5,210.3 288.8,210.4 290.1,210.5 291.4,210.6 292.7,210.7 294,210.8 295.3,210.9 296.6,211.1 297.8,211.1 299.1,211 300.4,210.9 301.7,210.9 303,210.8 304.3,210.7 305.6,210.7 306.9,210.6 308.2,210.6 309.5,210.6 310.8,210.5 312.1,210.5 313.4,210.4 314.7,210.4 315.9,210.4 317.2,210.3 318.5,210.3 319.8,209.9 321.1,209.4 322.4,208.9 323.7,208.5 325,208 326.3,207.5 327.6,207.1 328.9,206.6 330.2,206.1 331.5,205.6 332.8,205.1 334,204.5 335.3,204 336.6,203.5 337.9,202.9 339.2,202.3 340.5,202.3 341.8,202.9 343.1,203.5 344.4,204 345.7,204.6 347,205.1 348.3,205.7 349.6,206.2 350.9,206.7 352.1,207.3 353.4,207.8 354.7,208.4 356,208.9 357.3,209.5 358.6,210 359.9,210.6 361.2,211.3"/><polyline points="233.2,151.9 234.5,154.5 235.8,157 237.1,159.7 238.4,162.7 239.7,166.2 241,169.8 242.3,173.4 243.5,176.8 244.8,180.1 246.1,183.2 247.4,186.1 248.7,188.9 250,191.6 251.3,194.3 252.6,196.7 253.9,199.1 255.2,201.3 256.5,203.2 257.8,204.8 259.1,206.3 260.4,207.6 261.6,208.7 262.9,209.8 264.2,210.6 265.5,211.3 266.8,212 268.1,212.6 269.4,213.1 270.7,213.6 272,213.9 273.3,214.2 274.6,214.2 275.9,214.2 277.2,214.6 278.5,214.9 279.7,215.3 281,215.6 282.3,215.8 283.6,216.1 284.9,216.3 286.2,216.5 287.5,216.7 288.8,216.8 290.1,217 291.4,217.2 292.7,217.3 294,217.4 295.3,217.6 296.6,217.7 297.8,217.8 299.1,217.7 300.4,217.6 301.7,217.5 303,217.5 304.3,217.4 305.6,217.3 306.9,217.3 308.2,217.2 309.5,217.1 310.8,217 312.1,217 313.4,216.9 314.7,216.9 315.9,216.8 317.2,216.8 318.5,216.7 319.8,216.6 321.1,216.6 322.4,216.5 323.7,216.5 325,216.4 326.3,216.4 327.6,216.3 328.9,216.3 330.2,216.3 331.5,216.2 332.8,216.2 334,216.2 335.3,216.2 336.6,216.2 337.9,216.1 339.2,216.1 340.5,216.2 341.8,216.3 343.1,216.3 344.4,216.4 345.7,216.5 347,216.6 348.3,216.7 349.6,216.8 350.9,216.9 352.1,217 353.4,217.1 354.7,217.2 356,217.2 357.3,217.3 358.6,217.4 359.9,217.5 361.2,217.6"/><polyline points="233.2,160.1 234.5,161.4 235.8,162.7 237.1,164.4 238.4,166.7 239.7,169.2 241,171.7 242.3,174 243.5,176 244.8,177.8 246.1,179.4 247.4,180.8 248.7,182.1 250,183.3 251.3,184.4 252.6,185.3 253.9,186 255.2,186.6 256.5,187.2 257.8,187.7 259.1,188.2 260.4,188.6 261.6,189 262.9,189.6 264.2,190.5 265.5,191.2 266.8,191.8 268.1,192.2 269.4,192.5 270.7,192.8 272,193.1 273.3,193.4 274.6,193.6 275.9,193.7 277.2,193.9 278.5,194 279.7,194.1 281,194.2 282.3,194.3 283.6,194.4 284.9,194.4 286.2,194.5 287.5,194.6 288.8,194.7 290.1,194.7 291.4,194.8 292.7,194.9 294,194.9 295.3,195 296.6,195.1 297.8,195.1 299.1,195.1 300.4,195.2 301.7,195.2 303,195.2 304.3,195.3 305.6,195.3 306.9,195.4 308.2,195.5 309.5,195.5 310.8,195.6 312.1,195.7 313.4,195.8 314.7,195.9 315.9,196 317.2,196.1 318.5,196.2 319.8,196.1 321.1,196.1 322.4,196 323.7,195.9 325,195.8 326.3,195.8 327.6,195.7 328.9,195.6 330.2,195.6 331.5,195.5 332.8,195.4 334,195.4 335.3,195.3 336.6,195.2 337.9,195.1 339.2,195.1 340.5,194.9 341.8,194.8 343.1,194.7 344.4,194.5 345.7,194.3 347,194.2 348.3,194 349.6,193.8 350.9,193.6 352.1,193.4 353.4,193.2 354.7,193 356,192.8 357.3,192.6 358.6,192.3 359.9,192.1 361.2,191.8"/><polyline points="233.2,160.3 234.5,161.7 235.8,163.1 237.1,164.7 238.4,166.6 239.7,169.1 241,171.6 242.3,174.1 243.5,176.4 244.8,178.6 246.1,180.6 247.4,182.4 248.7,184.2 250,185.8 251.3,187.3 252.6,188.7 253.9,190.2 255.2,191.4 256.5,192.3 257.8,193.1 259.1,193.8 260.4,194.4 261.6,195 262.9,195.6 264.2,196.3 265.5,197 266.8,197.7 268.1,198.3 269.4,198.8 270.7,199.2 272,199.5 273.3,199.5 274.6,199.5 275.9,199.5 277.2,200 278.5,200.4 279.7,200.8 281,201.2 282.3,201.5 283.6,201.8 284.9,202.1 286.2,202.4 287.5,202.6 288.8,202.9 290.1,203.1 291.4,203.4 292.7,203.6 294,203.8 295.3,204.1 296.6,204.3 297.8,204.4 299.1,204.3 300.4,204.1 301.7,204 303,203.9 304.3,203.8 305.6,203.7 306.9,203.6 308.2,203.5 309.5,203.4 310.8,203.3 312.1,203.2 313.4,203.1 314.7,203 315.9,202.9 317.2,202.8 318.5,202.8 319.8,202.9 321.1,203 322.4,203.2 323.7,203.3 325,203.5 326.3,203.6 327.6,203.8 328.9,203.9 330.2,204.1 331.5,204.3 332.8,204.4 334,204.6 335.3,204.8 336.6,205 337.9,205.1 339.2,205.3 340.5,205.3 341.8,205.2 343.1,205 344.4,204.8 345.7,204.7 347,204.5 348.3,204.3 349.6,204.2 350.9,204 352.1,203.8 353.4,203.7 354.7,203.5 356,203.3 357.3,203.2 358.6,203 359.9,202.8 361.2,202.6"/><polyline points="233.2,152.4 234.5,154.7 235.8,157 237.1,159.5 238.4,162.4 239.7,165.8 241,169.2 242.3,172.5 243.5,175.6 244.8,178.6 246.1,181.4 247.4,183.9 248.7,186.4 250,188.7 251.3,190.9 252.6,193.1 253.9,195.1 255.2,197 256.5,198.6 257.8,200.1 259.1,201.5 260.4,202.8 261.6,203.9 262.9,204.9 264.2,205.9 265.5,206.8 266.8,207.6 268.1,208.4 269.4,209.1 270.7,209.6 272,209.9 273.3,210.1 274.6,210.3 275.9,210.5 277.2,210.4 278.5,210.2 279.7,210 281,209.8 282.3,209.5 283.6,209.2 284.9,208.9 286.2,208.6 287.5,208.3 288.8,207.9 290.1,207.6 291.4,207.3 292.7,206.9 294,206.6 295.3,206.2 296.6,205.9 297.8,205.8 299.1,205.9 300.4,206 301.7,206.1 303,206.3 304.3,206.4 305.6,206.5 306.9,206.6 308.2,206.8 309.5,206.9 310.8,207.1 312.1,207.2 313.4,207.4 314.7,207.5 315.9,207.7 317.2,207.9 318.5,208 319.8,208.3 321.1,208.6 322.4,208.9 323.7,209.2 325,209.5 326.3,209.8 327.6,210.2 328.9,210.5 330.2,210.8 331.5,211.1 332.8,211.5 334,211.8 335.3,212.1 336.6,212.4 337.9,212.8 339.2,213.1 340.5,213.1 341.8,212.8 343.1,212.5 344.4,212.1 345.7,211.8 347,211.5 348.3,211.1 349.6,210.8 350.9,210.5 352.1,210.1 353.4,209.8 354.7,209.4 356,209.1 357.3,208.8 358.6,208.4 359.9,208.1 361.2,207.7"/><polyline points="233.2,152.6 234.5,154.5 235.8,156.4 237.1,158.4 238.4,160.8 239.7,163.7 241,166.6 242.3,169.3 243.5,171.8 244.8,174.2 246.1,176.3 247.4,178.2 248.7,180 250,181.7 251.3,183.2 252.6,184.7 253.9,186 255.2,187.3 256.5,188.7 257.8,189.9 259.1,191 260.4,192.1 261.6,193.1 262.9,194.1 264.2,195.2 265.5,196.3 266.8,197.4 268.1,198.3 269.4,199.1 270.7,199.7 272,200.2 273.3,200.6 274.6,201 275.9,201.4 277.2,201.7 278.5,202 279.7,202.2 281,202.4 282.3,202.5 283.6,202.7 284.9,202.8 286.2,203 287.5,203.1 288.8,203.2 290.1,203.3 291.4,203.4 292.7,203.5 294,203.6 295.3,203.7 296.6,203.8 297.8,203.8 299.1,203.8 300.4,203.7 301.7,203.6 303,203.6 304.3,203.5 305.6,203.4 306.9,203.4 308.2,203.3 309.5,203.3 310.8,203.2 312.1,203.2 313.4,203.1 314.7,203.1 315.9,203.1 317.2,203.1 318.5,203.1 319.8,202.8 321.1,202.5 322.4,202.3 323.7,202 325,201.8 326.3,201.5 327.6,201.3 328.9,201 330.2,200.8 331.5,200.5 332.8,200.3 334,200.1 335.3,199.8 336.6,199.6 337.9,199.4 339.2,199.1 340.5,199.1 341.8,199.2 343.1,199.3 344.4,199.3 345.7,199.4 347,199.5 348.3,199.6 349.6,199.7 350.9,199.8 352.1,199.9 353.4,199.9 354.7,200 356,200.1 357.3,200.2 358.6,200.2 359.9,200.3 361.2,200.3"/><polyline points="233.2,152.8 234.5,155.6 235.8,158.5 237.1,161.8 238.4,165.8 239.7,170 241,173.9 242.3,177.5 243.5,180.9 244.8,183.9 246.1,186.8 247.4,189.4 248.7,191.9 250,194.2 251.3,196.2 252.6,198 253.9,199.5 255.2,200.9 256.5,202.2 257.8,203.3 259.1,204.2 260.4,205.1 261.6,205.9 262.9,206.5 264.2,206.9 265.5,207.2 266.8,207.4 268.1,207.6 269.4,207.7 270.7,207.8 272,207.8 273.3,207.8 274.6,207.8 275.9,207.7 277.2,207.7 278.5,207.7 279.7,207.7 281,207.7 282.3,207.7 283.6,207.7 284.9,207.7 286.2,207.6 287.5,207.6 288.8,207.6 290.1,207.6 291.4,207.5 292.7,207.5 294,207.5 295.3,207.5 296.6,207.5 297.8,207.5 299.1,207.5 300.4,207.4 301.7,207.4 303,207.4 304.3,207.4 305.6,207.4 306.9,207.4 308.2,207.4 309.5,207.4 310.8,207.5 312.1,207.5 313.4,207.5 314.7,207.6 315.9,207.6 317.2,207.6 318.5,207.7 319.8,207.9 321.1,208.2 322.4,208.5 323.7,208.8 325,209 326.3,209.3 327.6,209.6 328.9,209.9 330.2,210.1 331.5,210.4 332.8,210.6 334,210.9 335.3,211.1 336.6,211.4 337.9,211.6 339.2,211.8 340.5,211.7 341.8,211.2 343.1,210.6 344.4,210.1 345.7,209.5 347,208.9 348.3,208.4 349.6,207.8 350.9,207.2 352.1,206.6 353.4,206 354.7,205.4 356,204.7 357.3,204.1 358.6,203.5 359.9,202.9 361.2,202.3"/><polyline points="233.2,151 234.5,154.3 235.8,157.6 237.1,161.3 238.4,165.8 239.7,170.3 241,174.6 242.3,178.6 243.5,182.3 244.8,185.8 246.1,188.9 247.4,191.9 248.7,194.7 250,197.3 251.3,199.7 252.6,201.8 253.9,203.6 255.2,205.3 256.5,206.9 257.8,208.3 259.1,209.6 260.4,210.8 261.6,211.9 262.9,212.7 264.2,213.3 265.5,213.6 266.8,213.9 268.1,214.2 269.4,214.4 270.7,214.6 272,214.7 273.3,214.8 274.6,214.8 275.9,214.8 277.2,214.8 278.5,214.7 279.7,214.7 281,214.6 282.3,214.5 283.6,214.4 284.9,214.4 286.2,214.3 287.5,214.2 288.8,214.1 290.1,214 291.4,213.9 292.7,213.8 294,213.8 295.3,213.7 296.6,213.6 297.8,213.7 299.1,213.8 300.4,213.9 301.7,214 303,214.2 304.3,214.3 305.6,214.5 306.9,214.7 308.2,214.8 309.5,215 310.8,215.2 312.1,215.4 313.4,215.6 314.7,215.8 315.9,216 317.2,216.2 318.5,216.4 319.8,216.6 321.1,216.8 322.4,217 323.7,217.3 325,217.5 326.3,217.7 327.6,217.9 328.9,218.1 330.2,218.4 331.5,218.6 332.8,218.8 334,219 335.3,219.2 336.6,219.3 337.9,219.5 339.2,219.7 340.5,219.7 341.8,219.6 343.1,219.4 344.4,219.3 345.7,219.1 347,218.9 348.3,218.7 349.6,218.5 350.9,218.3 352.1,218.1 353.4,217.8 354.7,217.6 356,217.4 357.3,217.1 358.6,216.9 359.9,216.7 361.2,216.4"/><polyline points="233.2,157.8 234.5,159.6 235.8,161.4 237.1,163.5 238.4,166.2 239.7,169.2 241,172.3 242.3,175.2 243.5,177.9 244.8,180.4 246.1,182.7 247.4,184.9 248.7,187 250,189 251.3,190.9 252.6,192.7 253.9,194.3 255.2,195.6 256.5,196.5 257.8,197.4 259.1,198.2 260.4,198.8 261.6,199.4 262.9,200 264.2,200.7 265.5,201.4 266.8,201.9 268.1,202.1 269.4,202.3 270.7,202.4 272,202.5 273.3,202.5 274.6,202.5 275.9,202.5 277.2,202.5 278.5,202.5 279.7,202.5 281,202.5 282.3,202.4 283.6,202.4 284.9,202.3 286.2,202.3 287.5,202.2 288.8,202.2 290.1,202.1 291.4,202 292.7,202 294,201.9 295.3,201.8 296.6,201.8 297.8,201.8 299.1,201.9 300.4,202 301.7,202.1 303,202.3 304.3,202.4 305.6,202.5 306.9,202.7 308.2,202.8 309.5,203 310.8,203.2 312.1,203.3 313.4,203.5 314.7,203.7 315.9,203.9 317.2,204.1 318.5,204.3 319.8,204.2 321.1,204.2 322.4,204.1 323.7,204.1 325,204 326.3,204 327.6,203.9 328.9,203.9 330.2,203.9 331.5,203.8 332.8,203.8 334,203.7 335.3,203.7 336.6,203.7 337.9,203.6 339.2,203.6 340.5,203.6 341.8,203.7 343.1,203.9 344.4,204 345.7,204.1 347,204.2 348.3,204.3 349.6,204.4 350.9,204.5 352.1,204.6 353.4,204.7 354.7,204.8 356,204.8 357.3,204.9 358.6,205 359.9,205 361.2,205"/><polyline points="233.2,154.1 234.5,156.4 235.8,158.7 237.1,161.2 238.4,164.1 239.7,167.5 241,170.9 242.3,174.1 243.5,177.1 244.8,179.9 246.1,182.5 247.4,184.9 248.7,187.2 250,189.4 251.3,191.4 252.6,193.4 253.9,195.1 255.2,196.7 256.5,198 257.8,199.2 259.1,200.3 260.4,201.2 261.6,202.1 262.9,202.8 264.2,203.6 265.5,204.4 266.8,205 268.1,205.5 269.4,205.9 270.7,206.1 272,206.2 273.3,206.2 274.6,206.3 275.9,206.3 277.2,206.5 278.5,206.6 279.7,206.7 281,206.8 282.3,206.8 283.6,206.8 284.9,206.9 286.2,206.9 287.5,206.9 288.8,206.9 290.1,206.9 291.4,206.9 292.7,206.9 294,206.9 295.3,206.9 296.6,206.9 297.8,206.9 299.1,207 300.4,207 301.7,207.1 303,207.1 304.3,207.2 305.6,207.3 306.9,207.4 308.2,207.4 309.5,207.5 310.8,207.6 312.1,207.7 313.4,207.8 314.7,207.9 315.9,208 317.2,208.2 318.5,208.3 319.8,208.4 321.1,208.5 322.4,208.6 323.7,208.7 325,208.8 326.3,208.9 327.6,209.1 328.9,209.2 330.2,209.3 331.5,209.4 332.8,209.5 334,209.7 335.3,209.8 336.6,209.9 337.9,210.1 339.2,210.2 340.5,210.3 341.8,210.3 343.1,210.3 344.4,210.3 345.7,210.3 347,210.3 348.3,210.3 349.6,210.3 350.9,210.3 352.1,210.3 353.4,210.3 354.7,210.2 356,210.2 357.3,210.2 358.6,210.2 359.9,210.1 361.2,210.1"/><polyline points="233.2,153.3 234.5,156.3 235.8,159.4 237.1,163 238.4,167.3 239.7,171.7 241,175.8 242.3,179.7 243.5,183.2 244.8,186.5 246.1,189.6 247.4,192.4 248.7,195.2 250,197.7 251.3,200 252.6,201.9 253.9,203.7 255.2,205.2 256.5,206.4 257.8,207.4 259.1,208.2 260.4,209 261.6,209.5 262.9,209.9 264.2,210 265.5,210 266.8,209.9 268.1,209.9 269.4,209.8 270.7,209.6 272,209.4 273.3,209.1 274.6,208.8 275.9,208.5 277.2,208.4 278.5,208.3 279.7,208.1 281,208 282.3,207.8 283.6,207.7 284.9,207.5 286.2,207.3 287.5,207.2 288.8,207 290.1,206.9 291.4,206.7 292.7,206.6 294,206.4 295.3,206.3 296.6,206.2 297.8,206.3 299.1,206.6 300.4,206.9 301.7,207.3 303,207.6 304.3,208 305.6,208.4 306.9,208.7 308.2,209.1 309.5,209.5 310.8,209.9 312.1,210.3 313.4,210.7 314.7,211.1 315.9,211.5 317.2,211.9 318.5,212.3 319.8,212.3 321.1,212.3 322.4,212.4 323.7,212.4 325,212.4 326.3,212.5 327.6,212.5 328.9,212.5 330.2,212.5 331.5,212.5 332.8,212.5 334,212.5 335.3,212.5 336.6,212.5 337.9,212.5 339.2,212.5 340.5,212.5 341.8,212.6 343.1,212.7 344.4,212.8 345.7,212.8 347,212.9 348.3,213 349.6,213 350.9,213 352.1,213.1 353.4,213.1 354.7,213.1 356,213.2 357.3,213.2 358.6,213.2 359.9,213.2 361.2,213.3"/><polyline points="233.2,153.7 234.5,156.5 235.8,159.3 237.1,162.4 238.4,166.1 239.7,170 241,173.9 242.3,177.6 243.5,181 244.8,184.1 246.1,187 247.4,189.7 248.7,192.3 250,194.7 251.3,197 252.6,199.1 253.9,200.9 255.2,202.5 256.5,204.1 257.8,205.5 259.1,206.8 260.4,207.9 261.6,208.9 262.9,209.9 264.2,210.8 265.5,211.5 266.8,212 268.1,212.3 269.4,212.6 270.7,212.8 272,213 273.3,213.2 274.6,213.3 275.9,213.4 277.2,213.6 278.5,213.8 279.7,214 281,214.2 282.3,214.4 283.6,214.6 284.9,214.7 286.2,214.9 287.5,215.1 288.8,215.2 290.1,215.4 291.4,215.5 292.7,215.7 294,215.8 295.3,216 296.6,216.2 297.8,216.1 299.1,215.7 300.4,215.4 301.7,215.1 303,214.7 304.3,214.4 305.6,214.1 306.9,213.8 308.2,213.5 309.5,213.2 310.8,213 312.1,212.7 313.4,212.4 314.7,212.2 315.9,211.9 317.2,211.6 318.5,211.4 319.8,211.5 321.1,211.5 322.4,211.6 323.7,211.7 325,211.7 326.3,211.8 327.6,211.9 328.9,212 330.2,212.1 331.5,212.1 332.8,212.2 334,212.3 335.3,212.4 336.6,212.4 337.9,212.5 339.2,212.6 340.5,212.7 341.8,212.8 343.1,213 344.4,213.1 345.7,213.3 347,213.4 348.3,213.5 349.6,213.7 350.9,213.8 352.1,213.9 353.4,214 354.7,214.1 356,214.2 357.3,214.2 358.6,214.3 359.9,214.3 361.2,214.4"/><polyline points="233.2,150.8 234.5,154 235.8,157.2 237.1,161 238.4,165.5 239.7,169.9 241,174 242.3,177.7 243.5,181.1 244.8,184.1 246.1,186.9 247.4,189.5 248.7,191.8 250,193.9 251.3,195.6 252.6,197 253.9,198.2 255.2,199.6 256.5,201 257.8,202.4 259.1,203.8 260.4,205 261.6,205.9 262.9,206.6 264.2,207.4 265.5,208.1 266.8,208.7 268.1,209.3 269.4,209.9 270.7,210.4 272,210.8 273.3,211.2 274.6,211.7 275.9,212.1 277.2,212 278.5,211.8 279.7,211.7 281,211.5 282.3,211.4 283.6,211.2 284.9,211.1 286.2,210.9 287.5,210.8 288.8,210.6 290.1,210.5 291.4,210.4 292.7,210.2 294,210.1 295.3,210 296.6,209.9 297.8,209.9 299.1,209.9 300.4,209.9 301.7,209.9 303,209.9 304.3,210 305.6,210 306.9,210 308.2,210.1 309.5,210.1 310.8,210.2 312.1,210.2 313.4,210.3 314.7,210.3 315.9,210.3 317.2,210.4 318.5,210.4 319.8,210.8 321.1,211.1 322.4,211.4 323.7,211.7 325,212 326.3,212.3 327.6,212.6 328.9,212.9 330.2,213.1 331.5,213.4 332.8,213.7 334,213.9 335.3,214.1 336.6,214.4 337.9,214.6 339.2,214.8 340.5,214.7 341.8,214.3 343.1,213.9 344.4,213.5 345.7,213.1 347,212.7 348.3,212.3 349.6,211.9 350.9,211.5 352.1,211.1 353.4,210.7 354.7,210.3 356,209.9 357.3,209.5 358.6,209.2 359.9,208.9 361.2,208.6"/><polyline points="233.2,154.4 234.5,157.2 235.8,160.1 237.1,163.5 238.4,167.8 239.7,172 241,175.9 242.3,179.6 243.5,182.8 244.8,185.9 246.1,188.7 247.4,191.3 248.7,193.8 250,196 251.3,197.9 252.6,199.6 253.9,201.1 255.2,202.3 256.5,203 257.8,203.7 259.1,204.2 260.4,204.6 261.6,204.7 262.9,204.6 264.2,204.5 265.5,204.4 266.8,204.3 268.1,204.1 269.4,203.9 270.7,203.6 272,203.2 273.3,202.9 274.6,202.5 275.9,202.1 277.2,202.5 278.5,202.8 279.7,203.1 281,203.4 282.3,203.7 283.6,204 284.9,204.3 286.2,204.6 287.5,205 288.8,205.3 290.1,205.6 291.4,205.9 292.7,206.3 294,206.6 295.3,207 296.6,207.3 297.8,207.5 299.1,207.5 300.4,207.5 301.7,207.5 303,207.6 304.3,207.6 305.6,207.6 306.9,207.7 308.2,207.7 309.5,207.7 310.8,207.8 312.1,207.8 313.4,207.9 314.7,207.9 315.9,208 317.2,208 318.5,208.1 319.8,208 321.1,208 322.4,208 323.7,207.9 325,207.9 326.3,207.8 327.6,207.7 328.9,207.7 330.2,207.6 331.5,207.5 332.8,207.4 334,207.3 335.3,207.2 336.6,207.1 337.9,206.9 339.2,206.8 340.5,206.7 341.8,206.5 343.1,206.4 344.4,206.3 345.7,206.1 347,206 348.3,205.9 349.6,205.7 350.9,205.6 352.1,205.4 353.4,205.3 354.7,205.1 356,205 357.3,204.8 358.6,204.7 359.9,204.6 361.2,204.6"/><polyline points="233.2,155 234.5,157.9 235.8,160.9 237.1,164.4 238.4,168.8 239.7,173 241,176.9 242.3,180.5 243.5,183.7 244.8,186.6 246.1,189.2 247.4,191.7 248.7,193.9 250,195.9 251.3,197.5 252.6,198.8 253.9,200 255.2,201.1 256.5,202.2 257.8,203.2 259.1,204.2 260.4,205 261.6,205.5 262.9,205.8 264.2,206.3 265.5,206.7 266.8,207 268.1,207.4 269.4,207.6 270.7,207.8 272,208 273.3,208.1 274.6,208.2 275.9,208.4 277.2,208.5 278.5,208.5 279.7,208.6 281,208.7 282.3,208.7 283.6,208.8 284.9,208.9 286.2,209 287.5,209 288.8,209.1 290.1,209.2 291.4,209.3 292.7,209.4 294,209.5 295.3,209.6 296.6,209.8 297.8,209.8 299.1,209.8 300.4,209.7 301.7,209.7 303,209.6 304.3,209.6 305.6,209.6 306.9,209.6 308.2,209.6 309.5,209.6 310.8,209.6 312.1,209.6 313.4,209.6 314.7,209.6 315.9,209.6 317.2,209.6 318.5,209.5 319.8,209.7 321.1,209.9 322.4,210 323.7,210.2 325,210.4 326.3,210.5 327.6,210.6 328.9,210.8 330.2,210.9 331.5,211 332.8,211.1 334,211.2 335.3,211.3 336.6,211.4 337.9,211.4 339.2,211.4 340.5,211.2 341.8,210.8 343.1,210.4 344.4,209.9 345.7,209.5 347,209 348.3,208.6 349.6,208.1 350.9,207.7 352.1,207.2 353.4,206.8 354.7,206.3 356,205.9 357.3,205.4 358.6,205 359.9,204.7 361.2,204.3"/><polyline points="233.2,156 234.5,158.4 235.8,161 237.1,164 238.4,167.7 239.7,171.6 241,175.2 242.3,178.6 243.5,181.7 244.8,184.6 246.1,187.2 247.4,189.7 248.7,192 250,194.2 251.3,196.1 252.6,197.7 253.9,199.2 255.2,200.4 256.5,201.4 257.8,202.3 259.1,203 260.4,203.7 261.6,204.3 262.9,204.7 264.2,204.9 265.5,205.1 266.8,205.3 268.1,205.4 269.4,205.5 270.7,205.5 272,205.4 273.3,205.4 274.6,205.2 275.9,205.1 277.2,205.3 278.5,205.4 279.7,205.6 281,205.7 282.3,205.9 283.6,206 284.9,206.1 286.2,206.2 287.5,206.4 288.8,206.5 290.1,206.6 291.4,206.8 292.7,206.9 294,207.1 295.3,207.2 296.6,207.4 297.8,207.4 299.1,207.2 300.4,207.1 301.7,207 303,206.8 304.3,206.7 305.6,206.6 306.9,206.5 308.2,206.4 309.5,206.3 310.8,206.3 312.1,206.2 313.4,206.1 314.7,206 315.9,205.9 317.2,205.9 318.5,205.8 319.8,206.1 321.1,206.3 322.4,206.5 323.7,206.8 325,207 326.3,207.3 327.6,207.5 328.9,207.7 330.2,207.9 331.5,208.2 332.8,208.4 334,208.6 335.3,208.8 336.6,209 337.9,209.2 339.2,209.4 340.5,209.4 341.8,209.2 343.1,209.1 344.4,208.9 345.7,208.7 347,208.5 348.3,208.3 349.6,208.1 350.9,207.9 352.1,207.7 353.4,207.4 354.7,207.2 356,207 357.3,206.8 358.6,206.5 359.9,206.3 361.2,206.1"/><polyline points="233.2,154.7 234.5,156.5 235.8,158.2 237.1,160 238.4,162 239.7,164.5 241,167 242.3,169.4 243.5,171.6 244.8,173.7 246.1,175.5 247.4,177.1 248.7,178.5 250,179.8 251.3,180.9 252.6,181.9 253.9,182.8 255.2,184 256.5,185.4 257.8,186.8 259.1,188 260.4,189.2 261.6,190.4 262.9,191.6 264.2,193 265.5,194.3 266.8,195.5 268.1,196.7 269.4,197.8 270.7,198.9 272,199.8 273.3,200.6 274.6,201.2 275.9,201.8 277.2,201.8 278.5,201.7 279.7,201.7 281,201.6 282.3,201.5 283.6,201.3 284.9,201.2 286.2,201 287.5,200.7 288.8,200.5 290.1,200.3 291.4,200 292.7,199.8 294,199.5 295.3,199.3 296.6,199 297.8,199.1 299.1,199.5 300.4,199.9 301.7,200.3 303,200.7 304.3,201.1 305.6,201.5 306.9,201.9 308.2,202.3 309.5,202.7 310.8,203.1 312.1,203.5 313.4,203.9 314.7,204.3 315.9,204.7 317.2,205.2 318.5,205.6 319.8,205.2 321.1,204.8 322.4,204.4 323.7,204 325,203.7 326.3,203.3 327.6,202.9 328.9,202.6 330.2,202.2 331.5,201.8 332.8,201.5 334,201.1 335.3,200.8 336.6,200.4 337.9,200.1 339.2,199.7 340.5,199.6 341.8,199.7 343.1,199.7 344.4,199.8 345.7,199.8 347,199.9 348.3,199.9 349.6,200 350.9,200.1 352.1,200.1 353.4,200.2 354.7,200.2 356,200.3 357.3,200.3 358.6,200.4 359.9,200.4 361.2,200.5"/><polyline points="233.2,152.2 234.5,154.7 235.8,157.2 237.1,159.9 238.4,162.8 239.7,166.3 241,169.7 242.3,172.9 243.5,175.9 244.8,178.7 246.1,181.2 247.4,183.6 248.7,185.7 250,187.7 251.3,189.6 252.6,191.3 253.9,192.9 255.2,194.5 256.5,196 257.8,197.3 259.1,198.6 260.4,199.8 261.6,200.9 262.9,201.8 264.2,202.8 265.5,203.7 266.8,204.6 268.1,205.3 269.4,205.9 270.7,206.4 272,206.7 273.3,206.9 274.6,207.1 275.9,207.3 277.2,207.6 278.5,207.9 279.7,208.2 281,208.4 282.3,208.6 283.6,208.8 284.9,209 286.2,209.1 287.5,209.3 288.8,209.4 290.1,209.6 291.4,209.7 292.7,209.9 294,210 295.3,210.1 296.6,210.3 297.8,210.2 299.1,210 300.4,209.7 301.7,209.5 303,209.2 304.3,209 305.6,208.7 306.9,208.5 308.2,208.3 309.5,208 310.8,207.8 312.1,207.6 313.4,207.4 314.7,207.2 315.9,207 317.2,206.8 318.5,206.6 319.8,206.8 321.1,207.1 322.4,207.3 323.7,207.5 325,207.8 326.3,208 327.6,208.2 328.9,208.5 330.2,208.7 331.5,209 332.8,209.2 334,209.5 335.3,209.8 336.6,210 337.9,210.3 339.2,210.5 340.5,210.7 341.8,210.9 343.1,211 344.4,211.2 345.7,211.3 347,211.5 348.3,211.6 349.6,211.7 350.9,211.9 352.1,212 353.4,212.1 354.7,212.3 356,212.4 357.3,212.5 358.6,212.6 359.9,212.7 361.2,212.8"/><polyline points="233.2,159 234.5,161.7 235.8,164.4 237.1,167.6 238.4,171.6 239.7,175.6 241,179.5 242.3,183.1 243.5,186.3 244.8,189.3 246.1,192.1 247.4,194.7 248.7,197.2 250,199.5 251.3,201.5 252.6,203.3 253.9,204.9 255.2,206.2 256.5,207.4 257.8,208.3 259.1,209.2 260.4,210 261.6,210.7 262.9,211.2 264.2,211.5 265.5,211.7 266.8,211.9 268.1,212 269.4,212.1 270.7,212.1 272,212.1 273.3,212.1 274.6,212 275.9,211.9 277.2,211.7 278.5,211.5 279.7,211.3 281,211.1 282.3,210.9 283.6,210.7 284.9,210.5 286.2,210.3 287.5,210.1 288.8,209.9 290.1,209.7 291.4,209.4 292.7,209.2 294,209.1 295.3,208.9 296.6,208.7 297.8,208.8 299.1,209.1 300.4,209.4 301.7,209.8 303,210.2 304.3,210.5 305.6,210.9 306.9,211.3 308.2,211.7 309.5,212.1 310.8,212.5 312.1,212.8 313.4,213.3 314.7,213.7 315.9,214.1 317.2,214.5 318.5,214.9 319.8,214.8 321.1,214.7 322.4,214.7 323.7,214.6 325,214.5 326.3,214.5 327.6,214.4 328.9,214.3 330.2,214.2 331.5,214.1 332.8,214 334,213.9 335.3,213.8 336.6,213.7 337.9,213.6 339.2,213.4 340.5,213.3 341.8,213.2 343.1,213 344.4,212.9 345.7,212.7 347,212.5 348.3,212.3 349.6,212.1 350.9,211.9 352.1,211.7 353.4,211.5 354.7,211.3 356,211.1 357.3,210.8 358.6,210.6 359.9,210.4 361.2,210.2"/><polyline points="233.2,151.9 234.5,154.7 235.8,157.5 237.1,160.4 238.4,163.6 239.7,167.4 241,171.2 242.3,175 243.5,178.6 244.8,182 246.1,185.2 247.4,188.3 248.7,191.3 250,194.1 251.3,196.7 252.6,199.3 253.9,201.8 255.2,204 256.5,205.8 257.8,207.4 259.1,208.8 260.4,210 261.6,211.1 262.9,212 264.2,212.7 265.5,213.2 266.8,213.7 268.1,214.2 269.4,214.6 270.7,214.9 272,215 273.3,215 274.6,214.9 275.9,214.7 277.2,215 278.5,215.3 279.7,215.5 281,215.7 282.3,215.9 283.6,216 284.9,216.1 286.2,216.2 287.5,216.3 288.8,216.4 290.1,216.5 291.4,216.5 292.7,216.6 294,216.7 295.3,216.7 296.6,216.8 297.8,216.8 299.1,216.7 300.4,216.6 301.7,216.6 303,216.5 304.3,216.4 305.6,216.4 306.9,216.3 308.2,216.2 309.5,216.2 310.8,216.1 312.1,216 313.4,216 314.7,215.9 315.9,215.9 317.2,215.8 318.5,215.8 319.8,215.9 321.1,215.9 322.4,216 323.7,216.1 325,216.1 326.3,216.2 327.6,216.3 328.9,216.4 330.2,216.5 331.5,216.6 332.8,216.7 334,216.8 335.3,216.9 336.6,217 337.9,217.1 339.2,217.2 340.5,217.4 341.8,217.6 343.1,217.8 344.4,218.1 345.7,218.3 347,218.6 348.3,218.8 349.6,219.1 350.9,219.3 352.1,219.6 353.4,219.8 354.7,220 356,220.3 357.3,220.5 358.6,220.7 359.9,221 361.2,221.2"/><polyline points="233.2,158.9 234.5,160.9 235.8,162.9 237.1,165.5 238.4,168.7 239.7,172.2 241,175.6 242.3,178.7 243.5,181.6 244.8,184.3 246.1,186.9 247.4,189.3 248.7,191.5 250,193.7 251.3,195.7 252.6,197.5 253.9,199.1 255.2,200.3 256.5,201.3 257.8,202 259.1,202.7 260.4,203.2 261.6,203.8 262.9,204.2 264.2,204.7 265.5,204.9 266.8,205 268.1,205.1 269.4,205.1 270.7,205.1 272,205.1 273.3,205 274.6,204.8 275.9,204.7 277.2,204.7 278.5,204.7 279.7,204.6 281,204.6 282.3,204.6 283.6,204.6 284.9,204.5 286.2,204.5 287.5,204.4 288.8,204.4 290.1,204.3 291.4,204.3 292.7,204.3 294,204.2 295.3,204.2 296.6,204.2 297.8,204.3 299.1,204.5 300.4,204.7 301.7,205 303,205.2 304.3,205.5 305.6,205.7 306.9,206 308.2,206.3 309.5,206.6 310.8,206.9 312.1,207.2 313.4,207.5 314.7,207.8 315.9,208.1 317.2,208.4 318.5,208.7 319.8,208.4 321.1,208.1 322.4,207.8 323.7,207.5 325,207.3 326.3,207 327.6,206.7 328.9,206.4 330.2,206.1 331.5,205.8 332.8,205.5 334,205.2 335.3,204.9 336.6,204.6 337.9,204.3 339.2,204 340.5,204 341.8,204.5 343.1,204.9 344.4,205.4 345.7,205.8 347,206.2 348.3,206.6 349.6,207 350.9,207.4 352.1,207.8 353.4,208.2 354.7,208.5 356,208.9 357.3,209.2 358.6,209.6 359.9,209.9 361.2,210.3"/><polyline points="233.2,155.3 234.5,158 235.8,160.7 237.1,163.7 238.4,167.2 239.7,171 241,174.7 242.3,178.1 243.5,181.3 244.8,184.1 246.1,186.7 247.4,189.1 248.7,191.3 250,193.4 251.3,195.3 252.6,197 253.9,198.4 255.2,199.8 256.5,201.3 257.8,202.7 259.1,204 260.4,205.2 261.6,206.3 262.9,207.4 264.2,208.5 265.5,209.4 266.8,210.1 268.1,210.6 269.4,211.1 270.7,211.5 272,211.9 273.3,212.3 274.6,212.6 275.9,212.9 277.2,212.7 278.5,212.4 279.7,212.2 281,211.9 282.3,211.6 283.6,211.4 284.9,211.1 286.2,210.8 287.5,210.5 288.8,210.2 290.1,209.9 291.4,209.6 292.7,209.3 294,209 295.3,208.7 296.6,208.4 297.8,208.4 299.1,208.7 300.4,208.9 301.7,209.2 303,209.5 304.3,209.8 305.6,210.1 306.9,210.4 308.2,210.7 309.5,211 310.8,211.3 312.1,211.7 313.4,212 314.7,212.3 315.9,212.7 317.2,213 318.5,213.4 319.8,213.1 321.1,212.8 322.4,212.5 323.7,212.2 325,211.8 326.3,211.5 327.6,211.2 328.9,210.9 330.2,210.6 331.5,210.3 332.8,210 334,209.7 335.3,209.4 336.6,209.1 337.9,208.8 339.2,208.5 340.5,208.4 341.8,208.6 343.1,208.8 344.4,208.9 345.7,209.1 347,209.3 348.3,209.4 349.6,209.6 350.9,209.7 352.1,209.8 353.4,209.9 354.7,210 356,210.1 357.3,210.2 358.6,210.3 359.9,210.4 361.2,210.4"/></g><g filter="url(#bl2)"><polygon points="106.9,102.7 85.4,82.2 82.4,63.7 81,53.9 81.2,46.4 82,39.1 108.9,21.7 119.5,21.2 136.6,22.7 154.8,37.8 158.4,61.3 159.1,69.4 152.7,81.2 145.1,92.7 134.2,97.2 124.4,100.1" fill="#d8d0e8" fill-opacity="0.25" stroke="#d8d0e8" stroke-opacity="0.25" stroke-width="0.3"/></g><defs><clipPath id="dh"><polygon points="106.9,102.7 85.4,82.2 82.4,63.7 81,53.9 81.2,46.4 82,39.1 108.9,21.7 119.5,21.2 136.6,22.7 154.8,37.8 158.4,61.3 159.1,69.4 152.7,81.2 145.1,92.7 134.2,97.2 124.4,100.1"/></clipPath></defs><g clip-path="url(#dh)" filter="url(#bl3)"></g><g filter="url(#bl)"><g fill="none" stroke-width="0.5" stroke-opacity="0.14"><path d="M117.1 82.4L129.7 49.4M106.9 102.7L143 62M119.5 32.2L133.9 36.4M102.7 43.3L106.6 56M137.7 90.6L143 62M145.6 84.7L138.4 67.9M126.8 34L81 53.9M131.5 56.3L101 50.7M118.4 67.6L138.4 67.9M115.3 46.4L128.6 41.4M106.9 102.7L158.4 61.3M94 53.9L143 62M138.7 75.3L101.4 61.6M129.7 49.4L136.6 22.7M111.1 69.7L126.8 34M133.9 36.4L82.4 63.7M116.3 74.6L101 50.7M101 50.7L136.6 22.7M113.9 89.3L136.6 22.7M109.4 76.9L101.4 61.6M131.5 56.3L115.3 46.4M126.8 34L110.4 95.9M101 50.7L124.9 26.9M101.4 61.6L103.8 68.3M133.9 36.4L106.6 28.5M146.1 69.7L106.6 56M136.6 22.7L89.1 41.7M126.8 34L82 39.1M122.8 46.2L115.3 46.4M135.6 43.8L133.9 36.4M102.7 43.3L126.8 34M143 46.4L136.6 22.7M88.7 67.6L126.8 34M143 62L110 41M88.3 49.2L106.6 56M98.8 30.8L101.4 61.6M101.4 61.6L125.2 60.2M104.1 36.1L129.7 49.4M115.3 46.4L102 75.9M118.4 67.6L101.4 61.6M94 53.9L106.6 56M124.4 100.1L101.4 61.6M138.4 67.9L158.4 61.3M148.7 42L138.4 67.9M138.4 67.9L122.8 46.2M143 62L146.1 69.7M139.8 31.7L129.7 49.4M126.8 34L141.6 39.1M90.6 34.3L143 62M106.6 56L136.6 22.7M152.7 73.6L126.8 34M110 41L129.7 49.4M112.1 34L138.4 67.9M136.6 22.7L137.2 51.3M125.8 67.9L136.6 22.7M102.7 43.3L101 50.7M143 62L94.3 61.8M136.6 22.7L113.9 53.6M118.6 39.6L101 50.7M101 50.7L87.7 58.1M129.7 49.4L94 53.9M133.9 36.4L141.6 39.1M125 82.4L106.6 56M101.4 61.6L135.6 43.8M136.6 22.7L115.3 46.4M136.6 22.7L143 62M126.8 34L125.2 60.2M87.7 58.1L133.9 36.4M93 83.7L129.7 49.4M136.6 22.7L145.6 84.7M132.1 71.5L115.3 46.4M110 41L106.6 56M113.9 89.3L101.4 61.6M117.1 82.4L138.4 67.9M118.1 95.9L101 50.7M137.7 90.6L101 50.7M132.3 64.1L138.4 67.9M106.6 56L100.6 83.5M82.4 63.7L133.9 36.4M101 50.7L155.9 53.9M155.9 45.2L115.3 46.4M143 62L94.3 61.8M101.4 61.6L109.4 76.9M129.7 49.4L137.2 51.3M133.9 36.4L143 62M110.4 62.3L115.3 46.4M106.9 102.7L143 62M138.7 75.3L101.4 61.6M129.7 49.4L122.8 46.2M136.6 22.7L125.8 67.9M113.9 89.3L106.9 102.7M127.6 93.2L126.8 34M143 62L148.7 42M125.2 60.2L129.7 49.4M100.6 83.5L129.7 49.4M101 50.7L131.3 86.8M106.9 102.7L100.6 83.5M133.9 36.4L125.8 67.9M85.4 82.2L106.6 56M133.9 36.4L141.6 39.1M85.4 82.2L133.9 36.4M109.4 76.9L138.4 67.9M101 50.7L88.3 49.2M106.9 102.7L143 46.4M129.7 49.4L103.8 68.3M133.9 36.4L143 62M115.3 46.4L107.7 84.4M133.9 36.4L106.9 102.7M115.3 46.4L113.9 53.6M129.7 49.4L138.4 83.3M143 62L87 74.2M106.6 56L117.8 59.9M112.1 34L126.8 34M89.1 41.7L133.9 36.4M135.6 43.8L143 62M133.9 36.4L143 62M149.8 49.7L115.3 46.4M129.7 49.4L132.1 71.5M125.8 67.9L133.9 36.4M132.1 71.5L143 62M106.6 56L132.5 29.1M129.7 49.4L119.5 32.2M129.7 49.4L111.1 69.7M96.4 68.6L133.9 36.4M131.8 79.1L126.8 34M143 62L149.8 58.8M113.9 53.6L129.7 49.4M124.1 74.9L106.6 56M138.4 67.9L146.1 77.4M115.3 46.4L81 53.9M145.6 84.7L101 50.7M119.5 21.2L129.7 49.4M139.8 31.7L106.9 102.7M101.4 61.6L102.7 43.3M107.7 84.4L101.4 61.6M129.7 49.4L117.1 82.4M141.6 39.1L106.6 56M82.4 63.7L138.4 67.9M126.8 34L152.7 81.2M126.8 34L124.1 74.9M131.5 56.3L138.4 67.9M143 62L133.9 36.4M136.6 22.7L108.9 21.7M138.4 67.9L137.7 90.6M118.4 67.6L126.8 34M143 62L110.4 62.3M106.6 56L135.6 43.8M136.6 22.7L143.7 54.4M138.4 67.9L102 75.9M101.4 61.6L106.6 56M87 74.2L115.3 46.4M136.6 22.7L103.8 68.3M106.9 102.7L159.1 69.4M135.6 43.8L126.8 34M94 53.9L106.6 56M132.3 64.1L138.4 67.9M106.6 56L145.6 84.7M110.4 95.9L133.9 36.4M101 50.7L148.7 42M101 50.7L158.4 61.3M146.1 77.4L143 62M110.4 95.9L106.9 102.7M143 62L149.8 58.8M138.4 67.9L101.4 61.6M148.7 42L143 62M125.2 60.2L138.4 67.9M158.4 61.3L106.6 56M129.7 49.4L131.3 86.8M133.9 36.4L149.8 49.7" stroke="#b088f4"/><path d="M122.8 46.2L108.9 21.7M136.6 22.7L152.7 65.8M114.2 26.9L112.1 34M117.8 59.9L145.6 84.7M111.1 69.7L109.4 76.9M87.7 58.1L89.1 41.7M143 46.4L117.1 82.4M146.1 69.7L87.7 58.1M101.4 61.6L155.9 45.2M137.7 90.6L117.1 82.4M112.1 34L138.7 75.3M124.4 100.1L106.6 56M126.8 34L137.7 90.6M152.7 73.6L109.4 76.9M145.1 92.7L103.8 68.3M139.8 31.7L121.6 53.6M137.7 90.6L131.3 86.8M139.8 31.7L115.3 46.4M96.9 38.3L143 46.4M104.1 36.1L113.9 53.6M127.6 93.2L125.2 60.2M118.6 39.6L119.5 21.2M104.1 36.1L81.2 46.4M124.4 100.1L90.6 34.3M128.6 41.4L121.6 53.6M152.7 81.2L96.9 38.3M132.3 64.1L113.9 53.6M143 46.4L104.8 90.8M122.8 46.2L115.3 46.4M89.1 41.7L159.1 69.4M131.3 86.8L152.7 81.2M102.7 43.3L112.1 34M107.9 48.6L125.2 60.2M125.8 67.9L127.6 93.2M137.2 51.3L155.9 53.9M107.7 84.4L88.7 67.6M145.1 92.7L118.1 95.9M109.4 76.9L107.7 84.4M103.8 68.3L155.9 45.2M90.6 34.3L106.6 28.5M81.2 46.4L158.4 61.3M143 46.4L85.4 82.2M111.1 69.7L107.7 84.4M124.4 100.1L113.9 53.6M132.1 71.5L131.3 86.8M128.6 41.4L96.9 38.3M102.7 43.3L96.4 68.6M82 39.1L110.4 62.3M145.1 92.7L128.6 41.4M81.2 46.4L103.8 68.3M136.6 22.7L100.6 83.5M82 39.1L124.1 74.9M113.9 53.6L114.2 26.9M138.4 67.9L137.2 51.3M154.8 37.8L149.8 49.7M148.7 42L147.5 34.3M126.8 34L119.5 21.2M88.3 49.2L124.1 74.9M125.8 67.9L98.8 30.8M106.6 56L98.8 30.8M94 53.9L81 53.9M117.1 82.4L113.9 89.3M118.4 67.6L117.1 82.4M155.9 45.2L98.8 30.8M125.8 67.9L113.9 53.6M82.4 63.7L133.9 36.4M149.8 49.7L152.7 81.2M104.8 90.8L116.3 74.6M111.1 69.7L103.8 68.3M143 62L127.6 93.2M143 46.4L137.7 90.6M109.4 76.9L95.4 45.9M106.9 102.7L94.3 61.8M95.4 45.9L96.9 38.3M112.1 34L118.4 67.6M100.6 83.5L132.3 64.1M112.1 34L148.7 42M137.7 90.6L110.4 95.9M125 82.4L106.9 102.7M155.9 53.9L158.4 61.3M107.9 48.6L118.6 39.6M107.7 84.4L113.9 89.3M143 62L126.8 34M113.9 89.3L124.9 26.9M146.1 77.4L152.7 73.6M82 39.1L155.9 45.2M88.7 67.6L115.3 46.4M118.6 39.6L132.1 71.5M88.3 49.2L110.4 62.3M121.3 88.9L100.6 83.5M129.7 49.4L149.8 58.8M102 75.9L138.4 67.9M131.8 79.1L101.4 61.6M154.8 37.8L146.1 69.7M117.8 59.9L137.2 51.3M101.4 61.6L94.3 61.8M143.7 54.4L135.6 43.8M82.4 63.7L159.1 69.4M138.4 83.3L125 82.4M154.8 37.8L124.1 74.9M118.1 95.9L117.8 59.9M131.8 79.1L95.4 45.9M94 53.9L133.9 36.4M127.6 93.2L155.9 53.9M121.3 88.9L149.8 58.8M152.7 65.8L113.9 53.6M109.4 76.9L101.4 61.6M103.8 68.3L106.9 102.7M119.5 32.2L136.6 22.7M81 53.9L155.9 45.2M159.1 69.4L106.9 102.7M131.3 86.8L118.6 39.6M121.6 53.6L118.6 39.6M121.3 88.9L137.7 90.6M131.5 56.3L111.1 69.7M114.2 26.9L135.6 43.8M113.9 89.3L152.7 81.2M124.4 100.1L87.7 58.1M137.7 90.6L138.4 83.3M110.4 62.3L134.2 97.2M132.3 64.1L131.3 86.8M110 41L129.7 49.4M87.7 58.1L124.4 100.1M132.1 71.5L132.3 64.1M152.7 73.6L138.4 83.3M106.6 56L149.8 58.8M147.5 34.3L152.7 65.8M136.6 22.7L118.4 67.6M106.6 28.5L121.6 53.6M137.2 51.3L133.9 36.4M132.1 71.5L100.6 83.5M110.4 62.3L137.2 51.3M132.5 29.1L87.7 58.1M108.9 21.7L94.3 61.8M145.6 84.7L106.6 28.5M88.3 49.2L104.8 90.8M118.4 67.6L138.4 83.3M122.8 46.2L152.7 65.8M125.2 60.2L131.3 86.8M114.2 26.9L108.9 21.7M95.4 45.9L158.4 61.3M88.3 49.2L81.2 46.4M100.6 83.5L119.5 21.2M114.2 26.9L132.1 71.5M107.9 48.6L117.8 59.9M148.7 42L126.8 34M132.1 71.5L104.8 90.8M149.8 49.7L96.4 68.6M137.2 51.3L124.1 74.9M131.3 86.8L87.7 58.1M124.4 100.1L145.1 92.7M137.2 51.3L138.7 75.3M106.6 56L128.6 41.4M143 62L124.9 26.9M146.1 69.7L149.8 58.8M109.4 76.9L152.7 65.8M137.2 51.3L104.8 90.8M116.3 74.6L114.2 26.9M137.7 90.6L115.3 46.4M132.1 71.5L113.9 89.3M124.1 74.9L110.4 62.3M109.4 76.9L101.4 61.6M101.4 61.6L155.9 45.2M155.9 53.9L107.7 84.4M87.7 58.1L111.1 69.7M102.7 43.3L119.5 21.2M138.7 75.3L90.6 34.3M109.4 76.9L119.5 21.2M82.4 63.7L117.1 82.4M129.7 49.4L131.3 86.8M119.5 21.2L88.3 49.2M95.4 45.9L100.6 83.5M125.8 67.9L131.8 79.1M143.7 54.4L103.8 68.3M89.1 41.7L87 74.2M118.6 39.6L98.8 30.8M106.9 102.7L119.5 32.2M90.6 34.3L116.3 74.6M126.8 34L146.1 69.7M81.2 46.4L152.7 73.6M115.3 46.4L152.7 81.2M149.8 58.8L143 46.4M82.4 63.7L110.4 95.9M155.9 53.9L148.7 42M131.3 86.8L96.4 68.6M106.6 28.5L152.7 81.2M110.4 95.9L131.3 86.8M137.7 90.6L107.7 84.4M119.5 32.2L113.9 89.3M134.2 97.2L139.8 31.7M106.6 56L137.7 90.6M109.4 76.9L155.9 45.2M94.3 76.1L132.5 29.1M133.9 36.4L143 62M114.2 26.9L145.1 92.7M143.7 54.4L145.6 84.7M149.8 49.7L124.4 100.1M135.6 43.8L143 62M143.7 54.4L154.8 37.8M87 74.2L85.4 82.2M124.9 26.9L152.7 73.6M129.7 49.4L124.1 74.9M100.6 83.5L146.1 69.7M141.6 39.1L87 74.2" stroke="#98c8f0"/><path d="M131.8 79.1L82.4 63.7M110.4 95.9L145.1 92.7M94 53.9L110.4 95.9M113.9 89.3L132.3 64.1M118.6 39.6L98.8 30.8M131.8 79.1L132.1 71.5M131.8 79.1L125 82.4M132.1 71.5L136.6 22.7M102.7 43.3L106.6 28.5M137.7 90.6L149.8 58.8M94 53.9L113.9 89.3M110 41L113.9 53.6M137.7 90.6L131.8 79.1M132.1 71.5L111.1 69.7M138.7 75.3L94 53.9M107.7 84.4L149.8 58.8M152.7 65.8L149.8 58.8M131.8 79.1L90.6 34.3M106.6 28.5L94.3 76.1M87 74.2L107.9 48.6M124.9 26.9L104.8 90.8M93 83.7L110.4 95.9M98.8 30.8L110.4 95.9M106.6 28.5L96.9 38.3M94 53.9L117.1 82.4M110.4 95.9L155.9 45.2M143 46.4L143.7 54.4M117.1 82.4L94.3 61.8M104.8 90.8L109.4 76.9M94 53.9L113.9 89.3M93 83.7L154.8 37.8M116.3 74.6L135.6 43.8M87.7 58.1L94.3 61.8M113.9 89.3L87.7 58.1M104.8 90.8L101 50.7M106.6 28.5L155.9 53.9M152.7 73.6L145.1 92.7M138.4 83.3L145.1 92.7M87 74.2L111.1 69.7M94.3 61.8L154.8 37.8M117.1 82.4L109.4 76.9M110 41L106.6 28.5M94 53.9L103.8 68.3M149.8 58.8L81.2 46.4M148.7 42L103.8 68.3M113.9 89.3L136.6 22.7M104.8 90.8L94 53.9M110 41L122.8 46.2M106.6 28.5L133.9 36.4M98.8 30.8L117.8 59.9M132.1 71.5L94.3 61.8M138.4 67.9L143.7 54.4M143.7 54.4L112.1 34M124.1 74.9L87.7 58.1M87.7 58.1L96.4 68.6M131.8 79.1L107.9 48.6M106.6 28.5L93 83.7M100.6 83.5L98.8 30.8M96.9 38.3L110 41M143.7 54.4L149.8 58.8M159.1 69.4L149.8 58.8M87 74.2L85.4 82.2M127.6 93.2L117.1 82.4M131.3 86.8L94 53.9M87.7 58.1L100.6 83.5M135.6 43.8L143 62M88.3 49.2L103.8 68.3M87 74.2L94.3 76.1M139.8 31.7L131.8 79.1M118.4 67.6L106.6 28.5M131.8 79.1L138.4 83.3M106.6 56L87.7 58.1M118.4 67.6L94.3 61.8M82.4 63.7L149.8 58.8M110.4 62.3L104.8 90.8M106.6 28.5L113.9 89.3M110.4 95.9L129.7 49.4M106.6 28.5L155.9 53.9M131.5 56.3L87.7 58.1M82.4 63.7L148.7 42M121.3 88.9L82.4 63.7M143.7 54.4L127.6 93.2M132.1 71.5L152.7 73.6M101 50.7L82.4 63.7M82.4 63.7L96.4 68.6M106.6 28.5L131.3 86.8M132.1 71.5L119.5 32.2M94 53.9L103.8 68.3M135.6 43.8L88.3 49.2M132.1 71.5L106.6 56M87.7 58.1L89.1 41.7M122.8 46.2L135.6 43.8M143.7 54.4L147.5 34.3M119.5 32.2L117.1 82.4M106.6 56L82.4 63.7M116.3 74.6L117.1 82.4M154.8 37.8L133.9 36.4M89.1 41.7L132.1 71.5M154.8 37.8L143.7 54.4M87 74.2L109.4 76.9M149.8 58.8L132.1 71.5M94.3 61.8L132.1 71.5M131.8 79.1L98.8 30.8M152.7 65.8L103.8 68.3M101 50.7L103.8 68.3M106.6 56L103.8 68.3M132.1 71.5L106.6 28.5M135.6 43.8L110 41M112.1 34L143.7 54.4M106.6 28.5L132.1 71.5M109.4 76.9L135.6 43.8M131.8 79.1L136.6 22.7M98.8 30.8L113.9 53.6M138.7 75.3L132.1 71.5M132.1 71.5L138.4 83.3M104.1 36.1L131.8 79.1M94 53.9L82.4 63.7M117.1 82.4L131.5 56.3M88.7 67.6L82.4 63.7M94 53.9L158.4 61.3M93 83.7L110 41M149.8 58.8L132.1 71.5M138.4 67.9L117.1 82.4M131.8 79.1L146.1 77.4M159.1 69.4L103.8 68.3M117.1 82.4L121.3 88.9M93 83.7L88.3 49.2M131.8 79.1L131.3 86.8M145.6 84.7L87 74.2M102.7 43.3L110 41M94 53.9L145.1 92.7M118.6 39.6L82.4 63.7M135.6 43.8L148.7 42M135.6 43.8L87.7 58.1M113.9 89.3L87.7 58.1M145.6 84.7L117.1 82.4M117.1 82.4L143.7 54.4M94.3 61.8L148.7 42M82.4 63.7L143.7 54.4M155.9 53.9L98.8 30.8M125.2 60.2L110.4 95.9M106.6 28.5L88.3 49.2M154.8 37.8L138.4 67.9M94 53.9L101.4 61.6M114.2 26.9L110.4 95.9M108.9 21.7L113.9 89.3M149.8 58.8L118.1 95.9M149.8 58.8L146.1 69.7M113.9 53.6L94.3 61.8M106.6 28.5L117.8 59.9M88.3 49.2L82.4 63.7M110 41L102 75.9M103.8 68.3L94.3 61.8M159.1 69.4L135.6 43.8M152.7 65.8L93 83.7M143.7 54.4L87.7 58.1M94 53.9L127.6 93.2M88.7 67.6L87 74.2M131.8 79.1L117.1 82.4M145.1 92.7L138.4 83.3M143.7 54.4L135.6 43.8M112.1 34L87 74.2M98.8 30.8L131.5 56.3M118.4 67.6L82.4 63.7M138.4 83.3L94.3 61.8M118.1 95.9L145.1 92.7M94 53.9L124.1 74.9M94.3 76.1L106.6 28.5M131.8 79.1L131.3 86.8M135.6 43.8L138.7 75.3M104.8 90.8L113.9 89.3M143.7 54.4L128.6 41.4M87 74.2L124.1 74.9M154.8 37.8L118.6 39.6M135.6 43.8L132.5 29.1M82.4 63.7L135.6 43.8M117.1 82.4L96.9 38.3M94 53.9L108.9 21.7M131.8 79.1L95.4 45.9M117.1 82.4L118.4 67.6M143.7 54.4L94.3 76.1M143.7 54.4L81.2 46.4M119.5 32.2L143.7 54.4M98.8 30.8L138.4 67.9M143.7 54.4L95.4 45.9M90.6 34.3L145.1 92.7M143.7 54.4L110 41M104.8 90.8L145.1 92.7M104.8 90.8L155.9 53.9M118.4 67.6L93 83.7M110 41L102 75.9M98.8 30.8L110.4 95.9M110.4 95.9L93 83.7M133.9 36.4L103.8 68.3M87.7 58.1L82 39.1M125 82.4L103.8 68.3M103.8 68.3L106.6 28.5M143 46.4L94 53.9M131.5 56.3L113.9 89.3M117.1 82.4L155.9 53.9M104.8 90.8L124.4 100.1M149.8 58.8L132.1 71.5M135.6 43.8L108.9 21.7M149.8 49.7L82.4 63.7M103.8 68.3L159.1 69.4M138.4 83.3L131.8 79.1M110.4 95.9L117.1 82.4M135.6 43.8L110.4 95.9M106.9 102.7L149.8 58.8M82.4 63.7L149.8 49.7M103.8 68.3L124.1 74.9M145.1 92.7L129.7 49.4M117.1 82.4L113.9 89.3M104.8 90.8L101.4 61.6M94 53.9L141.6 39.1M118.1 95.9L135.6 43.8M104.8 90.8L87 74.2M110 41L102.7 43.3M87.7 58.1L104.8 90.8M112.1 34L145.1 92.7M110.4 95.9L106.6 56M87 74.2L81.2 46.4M117.1 82.4L93 83.7M94 53.9L94.3 76.1M131.3 86.8L82.4 63.7M81.2 46.4L143.7 54.4M135.6 43.8L87 74.2M87 74.2L94.3 61.8M135.6 43.8L143 46.4M119.5 32.2L117.1 82.4M104.8 90.8L106.9 102.7M110 41L146.1 69.7M82 39.1L87.7 58.1M106.6 56L82.4 63.7M100.6 83.5L117.1 82.4M111.1 69.7L103.8 68.3M143.7 54.4L143 46.4M125.2 60.2L154.8 37.8M106.6 56L135.6 43.8M124.9 26.9L87.7 58.1M93 83.7L117.1 82.4M149.8 58.8L118.4 67.6M117.1 82.4L145.1 92.7M131.3 86.8L93 83.7M98.8 30.8L117.1 82.4M94.3 61.8L117.8 59.9M94 53.9L106.6 56M110 41L149.8 49.7M93 83.7L152.7 65.8M103.8 68.3L114.2 26.9M143 46.4L117.1 82.4M110.4 95.9L159.1 69.4M93 83.7L107.9 48.6M117.1 82.4L143 62M134.2 97.2L94 53.9M131.3 86.8L104.8 90.8M149.8 58.8L152.7 65.8M106.6 28.5L96.9 38.3M135.6 43.8L149.8 58.8M131.5 56.3L110 41M145.1 92.7L138.7 75.3M110 41L87 74.2M143.7 54.4L155.9 45.2M106.6 56L145.1 92.7M110 41L110.4 95.9M125 82.4L145.1 92.7M96.4 68.6L94 53.9M149.8 58.8L101 50.7M103.8 68.3L131.8 79.1M118.6 39.6L154.8 37.8M113.9 53.6L113.9 89.3M132.1 71.5L117.1 82.4M104.8 90.8L127.6 93.2M152.7 65.8L93 83.7M87 74.2L110 41" stroke="#70e088"/><path d="M87.7 58.1L136.6 22.7M138.7 75.3L146.1 77.4M152.7 81.2L89.1 41.7M113.9 53.6L111.1 69.7M107.7 84.4L98.8 30.8M94.3 76.1L103.8 68.3M137.2 51.3L113.9 53.6M138.4 83.3L158.4 61.3M146.1 69.7L125.2 60.2M128.6 41.4L152.7 73.6M149.8 58.8L118.4 67.6M119.5 32.2L96.9 38.3M111.1 69.7L94.3 61.8M104.8 90.8L125.8 67.9M108.9 21.7L159.1 69.4M131.5 56.3L103.8 68.3M143.7 54.4L116.3 74.6M125.2 60.2L137.2 51.3M102.7 43.3L96.9 38.3M81 53.9L81.2 46.4M152.7 65.8L154.8 37.8M122.8 46.2L114.2 26.9M119.5 21.2L87 74.2M136.6 22.7L128.6 41.4M119.5 32.2L110 41M85.4 82.2L94.3 76.1M118.6 39.6L102 75.9M101.4 61.6L113.9 89.3M143 62L87.7 58.1M88.3 49.2L115.3 46.4M125.8 67.9L110.4 95.9M119.5 32.2L145.6 84.7M118.4 67.6L121.6 53.6M118.4 67.6L136.6 22.7M121.6 53.6L103.8 68.3M94 53.9L117.1 82.4M94.3 76.1L149.8 49.7M81.2 46.4L94.3 61.8M118.4 67.6L143 46.4M85.4 82.2L155.9 45.2M146.1 69.7L117.8 59.9M139.8 31.7L135.6 43.8M152.7 73.6L125 82.4M132.5 29.1L114.2 26.9M95.4 45.9L135.6 43.8M143 46.4L152.7 65.8M85.4 82.2L152.7 73.6M117.1 82.4L138.4 67.9M118.6 39.6L113.9 53.6M88.7 67.6L152.7 65.8M124.9 26.9L133.9 36.4M132.5 29.1L143 46.4M94 53.9L152.7 65.8M145.1 92.7L136.6 22.7M143 46.4L118.4 67.6M124.4 100.1L132.1 71.5M82 39.1L96.9 38.3M117.1 82.4L114.2 26.9M87.7 58.1L145.1 92.7M94.3 61.8L133.9 36.4M114.2 26.9L132.3 64.1M146.1 69.7L127.6 93.2M158.4 61.3L122.8 46.2M110 41L95.4 45.9M145.1 92.7L148.7 42M118.4 67.6L129.7 49.4M154.8 37.8L141.6 39.1M138.4 83.3L117.8 59.9M95.4 45.9L106.6 56M108.9 21.7L110.4 62.3M155.9 53.9L104.1 36.1M113.9 53.6L127.6 93.2M81 53.9L126.8 34M82 39.1L90.6 34.3M152.7 65.8L87.7 58.1M90.6 34.3L85.4 82.2M113.9 53.6L125.8 67.9M154.8 37.8L110 41M102 75.9L155.9 45.2M125.2 60.2L103.8 68.3M152.7 65.8L87.7 58.1M108.9 21.7L107.7 84.4M131.3 86.8L96.9 38.3M122.8 46.2L96.9 38.3M93 83.7L139.8 31.7M94 53.9L121.6 53.6M146.1 69.7L149.8 58.8M118.4 67.6L107.9 48.6M124.4 100.1L121.3 88.9M119.5 21.2L113.9 53.6M139.8 31.7L154.8 37.8M125.8 67.9L107.7 84.4M94 53.9L102 75.9M137.2 51.3L138.4 67.9M106.6 56L106.9 102.7M81.2 46.4L94.3 61.8M103.8 68.3L104.1 36.1M81 53.9L126.8 34M119.5 21.2L100.6 83.5M122.8 46.2L149.8 49.7M131.5 56.3L94 53.9M103.8 68.3L102 75.9M131.5 56.3L121.6 53.6M101 50.7L110.4 95.9M149.8 49.7L126.8 34M116.3 74.6L104.8 90.8M118.4 67.6L108.9 21.7M106.6 56L125 82.4M110.4 62.3L87.7 58.1M132.1 71.5L138.4 83.3M112.1 34L98.8 30.8M89.1 41.7L106.6 28.5M145.6 84.7L82.4 63.7M114.2 26.9L95.4 45.9M116.3 74.6L141.6 39.1M132.3 64.1L119.5 32.2M116.3 74.6L143 62M132.3 64.1L98.8 30.8M155.9 53.9L152.7 73.6M110.4 95.9L137.7 90.6M133.9 36.4L131.5 56.3M117.8 59.9L138.4 67.9M117.1 82.4L127.6 93.2M147.5 34.3L155.9 45.2M110.4 95.9L119.5 32.2M143 62L149.8 58.8M110.4 95.9L107.9 48.6M118.4 67.6L118.6 39.6M118.1 95.9L152.7 65.8M81.2 46.4L136.6 22.7M90.6 34.3L81.2 46.4M131.3 86.8L108.9 21.7M152.7 65.8L112.1 34M113.9 89.3L137.7 90.6M118.6 39.6L82.4 63.7M139.8 31.7L98.8 30.8M158.4 61.3L146.1 77.4M143 46.4L124.4 100.1M106.6 28.5L132.5 29.1M96.9 38.3L89.1 41.7M117.8 59.9L155.9 45.2M124.4 100.1L110.4 62.3M145.6 84.7L112.1 34M127.6 93.2L126.8 34M113.9 89.3L155.9 45.2M152.7 81.2L93 83.7M131.3 86.8L147.5 34.3M138.4 83.3L119.5 21.2M93 83.7L124.4 100.1M121.6 53.6L124.9 26.9M131.3 86.8L138.7 75.3M138.4 83.3L110.4 95.9M107.7 84.4L143.7 54.4M122.8 46.2L146.1 77.4M149.8 58.8L124.1 74.9M94 53.9L102.7 43.3M159.1 69.4L81.2 46.4M94.3 76.1L104.8 90.8M131.3 86.8L116.3 74.6M88.7 67.6L125 82.4M98.8 30.8L107.7 84.4M143.7 54.4L124.4 100.1M101.4 61.6L149.8 58.8M118.1 95.9L88.3 49.2M143 46.4L132.1 71.5M96.4 68.6L93 83.7M136.6 22.7L85.4 82.2M94.3 61.8L106.6 56M101 50.7L82.4 63.7M107.7 84.4L132.5 29.1M154.8 37.8L149.8 58.8M106.6 28.5L82 39.1M118.4 67.6L154.8 37.8" stroke="#a8a8f0"/><path d="M118.4 67.6L118.6 39.6M118.4 67.6L138.4 67.9M89.1 41.7L152.7 65.8M107.7 84.4L118.4 67.6M113.9 53.6L128.6 41.4M118.4 67.6L132.3 64.1M132.5 29.1L114.2 26.9M128.6 41.4L118.6 39.6M118.4 67.6L152.7 73.6M125 82.4L113.9 53.6M135.6 43.8L128.6 41.4M114.2 26.9L87.7 58.1M121.6 53.6L114.2 26.9M132.3 64.1L114.2 26.9M93 83.7L118.4 67.6M114.2 26.9L131.8 79.1M118.4 67.6L81 53.9M114.2 26.9L154.8 37.8M132.5 29.1L125 82.4M113.9 53.6L89.1 41.7M110.4 95.9L89.1 41.7M143 62L114.2 26.9M127.6 93.2L125 82.4M96.4 68.6L128.6 41.4M114.2 26.9L147.5 34.3M118.4 67.6L104.8 90.8M90.6 34.3L128.6 41.4M124.4 100.1L125 82.4M114.2 26.9L121.3 88.9M125 82.4L124.4 100.1M89.1 41.7L128.6 41.4M125 82.4L107.9 48.6M133.9 36.4L125 82.4M118.4 67.6L132.1 71.5M101 50.7L128.6 41.4M89.1 41.7L90.6 34.3M134.2 97.2L118.4 67.6M132.1 71.5L114.2 26.9M87 74.2L118.4 67.6M138.4 83.3L89.1 41.7M114.2 26.9L132.3 64.1M118.4 67.6L118.6 39.6M118.4 67.6L107.7 84.4M118.4 67.6L94.3 76.1M149.8 49.7L114.2 26.9M113.9 53.6L89.1 41.7M124.9 26.9L114.2 26.9M125 82.4L82.4 63.7M114.2 26.9L112.1 34M125 82.4L89.1 41.7M89.1 41.7L143.7 54.4M145.6 84.7L118.4 67.6M131.8 79.1L114.2 26.9M118.4 67.6L110.4 62.3M96.4 68.6L89.1 41.7M124.1 74.9L125 82.4M114.2 26.9L107.7 84.4M131.8 79.1L118.4 67.6M147.5 34.3L118.4 67.6" stroke="#70ccf4"/><path d="M119.5 32.2L106.9 102.7M94.3 61.8L119.5 32.2M104.8 90.8L117.8 59.9M95.4 45.9L124.9 26.9M136.6 22.7L119.5 32.2M143.7 54.4L118.6 39.6M141.6 39.1L124.9 26.9M118.6 39.6L116.3 74.6M131.5 56.3L119.5 32.2M118.6 39.6L87 74.2M117.8 59.9L101 50.7M148.7 42L119.5 32.2M85.4 82.2L119.5 32.2M124.9 26.9L139.8 31.7M117.8 59.9L139.8 31.7M119.5 21.2L124.9 26.9M143.7 54.4L119.5 32.2M102 75.9L152.7 81.2M102.7 43.3L118.6 39.6M118.6 39.6L135.6 43.8M82.4 63.7L124.9 26.9M152.7 81.2L117.8 59.9M102 75.9L87 74.2M87 74.2L117.8 59.9M115.3 46.4L102 75.9M118.6 39.6L143 62M124.9 26.9L137.7 90.6M116.3 74.6L118.6 39.6M118.6 39.6L98.8 30.8M110 41L124.9 26.9M117.8 59.9L100.6 83.5M125 82.4L124.9 26.9M118.4 67.6L119.5 32.2M131.5 56.3L96.4 68.6M102 75.9L88.3 49.2M94.3 61.8L96.4 68.6M96.4 68.6L111.1 69.7M129.7 49.4L118.6 39.6M117.8 59.9L110.4 95.9M87 74.2L117.8 59.9M124.9 26.9L146.1 69.7M124.9 26.9L136.6 22.7M102 75.9L126.8 34M124.9 26.9L96.4 68.6M159.1 69.4L118.6 39.6M117.8 59.9L89.1 41.7M110.4 62.3L102 75.9M124.9 26.9L82.4 63.7M117.8 59.9L152.7 81.2M124.9 26.9L119.5 21.2M138.4 83.3L119.5 32.2M118.6 39.6L136.6 22.7M106.6 56L119.5 32.2M96.4 68.6L125 82.4M106.6 28.5L102 75.9M102 75.9L110.4 95.9M96.4 68.6L102.7 43.3M115.3 46.4L118.6 39.6M138.7 75.3L124.9 26.9M146.1 77.4L117.8 59.9M117.8 59.9L138.4 83.3M115.3 46.4L118.6 39.6M119.5 32.2L158.4 61.3M118.6 39.6L82.4 63.7M102 75.9L134.2 97.2M132.3 64.1L118.6 39.6M102 75.9L106.9 102.7M95.4 45.9L118.6 39.6M87 74.2L102 75.9M102 75.9L104.8 90.8M96.9 38.3L96.4 68.6M158.4 61.3L124.9 26.9M117.8 59.9L152.7 65.8M102 75.9L137.2 51.3M118.6 39.6L82 39.1M109.4 76.9L102 75.9M102 75.9L119.5 32.2M145.6 84.7L117.8 59.9M118.6 39.6L141.6 39.1M118.6 39.6L124.9 26.9" stroke="#68e0c8"/><path d="M125.2 60.2L102.7 43.3M107.9 48.6L141.6 39.1M107.9 48.6L135.6 43.8M111.1 69.7L141.6 39.1M145.6 84.7L137.7 90.6M107.9 48.6L119.5 32.2M107.9 48.6L134.2 97.2M117.8 59.9L111.1 69.7M114.2 26.9L102.7 43.3M111.1 69.7L132.5 29.1M135.6 43.8L102.7 43.3M125 82.4L137.7 90.6M107.9 48.6L113.9 89.3M102.7 43.3L82.4 63.7M107.9 48.6L113.9 89.3M124.9 26.9L137.7 90.6M145.6 84.7L96.9 38.3M107.9 48.6L119.5 21.2M102.7 43.3L85.4 82.2M110.4 95.9L137.7 90.6M102.7 43.3L122.8 46.2M145.6 84.7L152.7 73.6M106.9 102.7L107.9 48.6M145.6 84.7L88.7 67.6M145.6 84.7L93 83.7M138.4 83.3L107.9 48.6M106.9 102.7L137.7 90.6M137.7 90.6L113.9 89.3M145.6 84.7L122.8 46.2M137.7 90.6L111.1 69.7M111.1 69.7L102.7 43.3M145.6 84.7L149.8 58.8M145.6 84.7L114.2 26.9M111.1 69.7L121.3 88.9M98.8 30.8L111.1 69.7M111.1 69.7L100.6 83.5M152.7 73.6L145.6 84.7M107.9 48.6L136.6 22.7M143.7 54.4L137.7 90.6M107.9 48.6L132.3 64.1M118.6 39.6L145.6 84.7M152.7 81.2L107.9 48.6M137.7 90.6L89.1 41.7M111.1 69.7L137.7 90.6M145.6 84.7L96.4 68.6M81 53.9L107.9 48.6M102.7 43.3L138.7 75.3M145.6 84.7L107.9 48.6M111.1 69.7L121.3 88.9M88.3 49.2L102.7 43.3M107.9 48.6L101.4 61.6M107.9 48.6L149.8 49.7M107.9 48.6L81.2 46.4M152.7 81.2L145.6 84.7M155.9 53.9L102.7 43.3M107.9 48.6L125.2 60.2M107.9 48.6L124.1 74.9M136.6 22.7L137.7 90.6M102.7 43.3L138.7 75.3M137.7 90.6L82 39.1M111.1 69.7L81.2 46.4M131.3 86.8L111.1 69.7" stroke="#f488bc"/><path d="M138.4 67.9L125.2 60.2M109.4 76.9L124.4 100.1M107.7 84.4L121.6 53.6M95.4 45.9L138.4 67.9M138.4 83.3L95.4 45.9M117.8 59.9L82 39.1M102 75.9L81.2 46.4M125.2 60.2L149.8 49.7M125.2 60.2L104.1 36.1M146.1 77.4L134.2 97.2M89.1 41.7L82 39.1M125.2 60.2L143.7 54.4M82 39.1L128.6 41.4M124.4 100.1L124.1 74.9M119.5 32.2L95.4 45.9M134.2 97.2L103.8 68.3M94.3 76.1L112.1 34M115.3 46.4L125.2 60.2M82 39.1L95.4 45.9M110.4 95.9L95.4 45.9M146.1 77.4L134.2 97.2M106.6 28.5L107.7 84.4M85.4 82.2L124.4 100.1M107.7 84.4L132.1 71.5M115.3 46.4L81.2 46.4M131.3 86.8L148.7 42M131.5 56.3L124.4 100.1M95.4 45.9L104.1 36.1M134.2 97.2L87.7 58.1M107.9 48.6L112.1 34M134.2 97.2L93 83.7M139.8 31.7L148.7 42M121.6 53.6L95.4 45.9M137.7 90.6L95.4 45.9M107.7 84.4L143.7 54.4M95.4 45.9L128.6 41.4M112.1 34L124.9 26.9M132.5 29.1L125.2 60.2M131.3 86.8L134.2 97.2M95.4 45.9L136.6 22.7M82 39.1L104.1 36.1M135.6 43.8L125.2 60.2M82.4 63.7L125.2 60.2M82 39.1L133.9 36.4M82 39.1L145.1 92.7M134.2 97.2L106.9 102.7M106.9 102.7L95.4 45.9M148.7 42L87 74.2M81.2 46.4L94.3 76.1M96.4 68.6L95.4 45.9M106.9 102.7L148.7 42M95.4 45.9L155.9 45.2M121.3 88.9L107.7 84.4M87.7 58.1L125.2 60.2M134.2 97.2L132.3 64.1M145.6 84.7L82 39.1M113.9 53.6L125.2 60.2M122.8 46.2L134.2 97.2M127.6 93.2L124.4 100.1M149.8 49.7L81.2 46.4M82 39.1L94.3 76.1M124.4 100.1L81.2 46.4M107.9 48.6L95.4 45.9M112.1 34L94 53.9M112.1 34L138.4 67.9M116.3 74.6L81.2 46.4M132.3 64.1L125.2 60.2M134.2 97.2L113.9 53.6M95.4 45.9L115.3 46.4M134.2 97.2L107.9 48.6M134.2 97.2L107.9 48.6M146.1 69.7L124.4 100.1M124.4 100.1L138.7 75.3M107.7 84.4L106.6 56M106.6 28.5L107.7 84.4M134.2 97.2L145.6 84.7M112.1 34L107.7 84.4M82 39.1L117.1 82.4M117.8 59.9L82 39.1M107.7 84.4L145.6 84.7M132.3 64.1L107.7 84.4M125.2 60.2L116.3 74.6M158.4 61.3L124.4 100.1M134.2 97.2L106.9 102.7M118.1 95.9L82 39.1M148.7 42L125 82.4M81 53.9L95.4 45.9M95.4 45.9L126.8 34M119.5 21.2L95.4 45.9M138.4 83.3L95.4 45.9M81.2 46.4L117.1 82.4M125.2 60.2L119.5 32.2M131.5 56.3L95.4 45.9M112.1 34L152.7 65.8M137.2 51.3L112.1 34M107.7 84.4L125.2 60.2M109.4 76.9L148.7 42M107.7 84.4L94.3 61.8M107.7 84.4L133.9 36.4M124.9 26.9L148.7 42M98.8 30.8L107.7 84.4M134.2 97.2L111.1 69.7" stroke="#f47a80"/><path d="M108.9 21.7L118.4 67.6M128.6 41.4L100.6 83.5M94.3 76.1L110.4 62.3M134.2 97.2L124.1 74.9M125.8 67.9L125.2 60.2M139.8 31.7L128.6 41.4M94.3 61.8L141.6 39.1M94.3 76.1L118.1 95.9M111.1 69.7L149.8 49.7M125.8 67.9L121.6 53.6M155.9 45.2L118.1 95.9M94.3 76.1L110.4 95.9M132.5 29.1L152.7 65.8M85.4 82.2L94.3 61.8M141.6 39.1L149.8 49.7M128.6 41.4L131.3 86.8M85.4 82.2L88.3 49.2M98.8 30.8L100.6 83.5M139.8 31.7L100.6 83.5M124.1 74.9L138.4 67.9M141.6 39.1L152.7 81.2M117.1 82.4L131.3 86.8M118.1 95.9L124.1 74.9M102 75.9L100.6 83.5M118.1 95.9L82 39.1M121.6 53.6L81 53.9M155.9 53.9L146.1 77.4M124.1 74.9L139.8 31.7M132.5 29.1L158.4 61.3M121.6 53.6L102.7 43.3M158.4 61.3L141.6 39.1M138.4 67.9L121.6 53.6M82 39.1L131.3 86.8M126.8 34L139.8 31.7M101 50.7L141.6 39.1M124.1 74.9L118.6 39.6M131.3 86.8L118.1 95.9M124.4 100.1L131.3 86.8M94.3 61.8L146.1 77.4M108.9 21.7L110 41M94 53.9L124.1 74.9M121.6 53.6L145.6 84.7M158.4 61.3L146.1 77.4M102 75.9L85.4 82.2M121.6 53.6L103.8 68.3M143 62L149.8 49.7M121.6 53.6L134.2 97.2M139.8 31.7L119.5 21.2M121.6 53.6L100.6 83.5M118.1 95.9L124.1 74.9M131.3 86.8L139.8 31.7M138.4 83.3L94.3 76.1M85.4 82.2L125 82.4M81.2 46.4L125.8 67.9M118.6 39.6L121.6 53.6M124.1 74.9L146.1 69.7M111.1 69.7L118.1 95.9M132.5 29.1L133.9 36.4M110.4 62.3L132.5 29.1M108.9 21.7L104.1 36.1M111.1 69.7L100.6 83.5M108.9 21.7L152.7 65.8M119.5 21.2L125.8 67.9M121.6 53.6L106.9 102.7M96.9 38.3L146.1 77.4M94.3 76.1L159.1 69.4M124.1 74.9L103.8 68.3M121.6 53.6L143 46.4M124.1 74.9L90.6 34.3M82 39.1L94.3 76.1M118.1 95.9L110.4 95.9M141.6 39.1L159.1 69.4M118.4 67.6L124.1 74.9M131.3 86.8L116.3 74.6M136.6 22.7L141.6 39.1M125.8 67.9L106.9 102.7M125.8 67.9L122.8 46.2M143 62L125.8 67.9M131.5 56.3L141.6 39.1M94.3 76.1L159.1 69.4M146.1 77.4L117.8 59.9M96.9 38.3L94.3 76.1M124.1 74.9L125.8 67.9M81 53.9L108.9 21.7M87.7 58.1L100.6 83.5M124.1 74.9L137.2 51.3M149.8 49.7L101.4 61.6M139.8 31.7L159.1 69.4M102.7 43.3L85.4 82.2M124.1 74.9L145.1 92.7M94.3 76.1L131.3 86.8M94.3 76.1L118.1 95.9M115.3 46.4L131.3 86.8M81 53.9L141.6 39.1M121.6 53.6L132.5 29.1M141.6 39.1L129.7 49.4M108.9 21.7L155.9 45.2M125.8 67.9L124.4 100.1M108.9 21.7L159.1 69.4M102.7 43.3L108.9 21.7M146.1 77.4L122.8 46.2M141.6 39.1L139.8 31.7M141.6 39.1L147.5 34.3M124.1 74.9L146.1 69.7M118.1 95.9L121.3 88.9M107.7 84.4L118.1 95.9M152.7 73.6L131.3 86.8M113.9 53.6L149.8 49.7M119.5 21.2L100.6 83.5M133.9 36.4L125.8 67.9M98.8 30.8L108.9 21.7M146.1 77.4L138.4 83.3M121.6 53.6L143 62M119.5 21.2L132.5 29.1M96.9 38.3L108.9 21.7M132.1 71.5L141.6 39.1M128.6 41.4L124.1 74.9M129.7 49.4L141.6 39.1M135.6 43.8L108.9 21.7M104.8 90.8L100.6 83.5M149.8 49.7L141.6 39.1M85.4 82.2L111.1 69.7M124.1 74.9L94 53.9M87 74.2L94.3 76.1M149.8 58.8L141.6 39.1M115.3 46.4L124.1 74.9M118.1 95.9L107.7 84.4M95.4 45.9L94.3 76.1M82.4 63.7L149.8 49.7M103.8 68.3L108.9 21.7M94.3 76.1L116.3 74.6M125.8 67.9L131.3 86.8M82 39.1L118.1 95.9M145.1 92.7L94.3 76.1M121.6 53.6L98.8 30.8M108.9 21.7L146.1 69.7M94.3 76.1L129.7 49.4M94.3 61.8L108.9 21.7M139.8 31.7L152.7 65.8M113.9 89.3L132.5 29.1M139.8 31.7L110.4 62.3M121.6 53.6L145.1 92.7M139.8 31.7L132.1 71.5M90.6 34.3L118.1 95.9M94.3 76.1L128.6 41.4M95.4 45.9L108.9 21.7M132.5 29.1L108.9 21.7M139.8 31.7L131.8 79.1M141.6 39.1L124.1 74.9M117.1 82.4L139.8 31.7M146.1 77.4L137.2 51.3M94.3 76.1L113.9 89.3M94.3 76.1L135.6 43.8M112.1 34L108.9 21.7M121.6 53.6L124.9 26.9M149.8 49.7L141.6 39.1M131.8 79.1L124.1 74.9M125.8 67.9L134.2 97.2M159.1 69.4L131.3 86.8M108.9 21.7L137.2 51.3M124.1 74.9L133.9 36.4M118.4 67.6L139.8 31.7M114.2 26.9L132.5 29.1M98.8 30.8L139.8 31.7M132.5 29.1L147.5 34.3M125.8 67.9L94 53.9M108.9 21.7L132.5 29.1M131.3 86.8L117.1 82.4M101.4 61.6L118.1 95.9M102 75.9L94.3 76.1M155.9 53.9L131.3 86.8M121.6 53.6L122.8 46.2M139.8 31.7L143.7 54.4M125 82.4L100.6 83.5M154.8 37.8L100.6 83.5M118.1 95.9L102.7 43.3M132.5 29.1L112.1 34M108.9 21.7L139.8 31.7M100.6 83.5L112.1 34M106.6 56L149.8 49.7M124.9 26.9L85.4 82.2M90.6 34.3L108.9 21.7M127.6 93.2L100.6 83.5M108.9 21.7L110.4 95.9M147.5 34.3L141.6 39.1M146.1 77.4L118.1 95.9M132.5 29.1L138.4 67.9M121.6 53.6L137.2 51.3M146.1 69.7L94.3 76.1M118.1 95.9L102 75.9M149.8 49.7L131.8 79.1M85.4 82.2L124.4 100.1M88.7 67.6L94.3 76.1M139.8 31.7L115.3 46.4M139.8 31.7L106.6 56M125.8 67.9L118.4 67.6M118.1 95.9L110.4 95.9M94 53.9L125.8 67.9M125.8 67.9L82 39.1M85.4 82.2L87.7 58.1M146.1 77.4L119.5 21.2M131.3 86.8L118.1 95.9M104.1 36.1L149.8 49.7M108.9 21.7L106.6 28.5" stroke="#8898f4"/><path d="M81 53.9L143 46.4M124.9 26.9L110.4 62.3M81 53.9L96.9 38.3M96.9 38.3L82 39.1M158.4 61.3L152.7 65.8M159.1 69.4L132.5 29.1M119.5 21.2L101 50.7M152.7 73.6L139.8 31.7M117.8 59.9L110.4 62.3M159.1 69.4L143 62M88.3 49.2L110.4 95.9M159.1 69.4L146.1 69.7M110.4 62.3L125.2 60.2M101.4 61.6L88.3 49.2M88.3 49.2L108.9 21.7M81 53.9L101.4 61.6M102.7 43.3L81 53.9M107.7 84.4L88.3 49.2M94 53.9L159.1 69.4M145.1 92.7L158.4 61.3M152.7 73.6L96.4 68.6M110.4 62.3L143 62M100.6 83.5L96.9 38.3M152.7 73.6L117.8 59.9M152.7 73.6L138.4 83.3M102.7 43.3L119.5 21.2M109.4 76.9L158.4 61.3M94 53.9L81 53.9M152.7 73.6L90.6 34.3M88.3 49.2L129.7 49.4M94.3 61.8L96.9 38.3M109.4 76.9L88.3 49.2M114.2 26.9L159.1 69.4M158.4 61.3L128.6 41.4M136.6 22.7L119.5 21.2M152.7 81.2L152.7 73.6M136.6 22.7L96.9 38.3M110.4 62.3L147.5 34.3M126.8 34L96.9 38.3M132.3 64.1L152.7 73.6M106.6 56L159.1 69.4M96.9 38.3L152.7 73.6M128.6 41.4L110.4 62.3M124.9 26.9L152.7 73.6M139.8 31.7L158.4 61.3M158.4 61.3L87.7 58.1M96.9 38.3L106.9 102.7M98.8 30.8L96.9 38.3M132.1 71.5L81 53.9M159.1 69.4L152.7 73.6M117.8 59.9L119.5 21.2M119.5 21.2L134.2 97.2M152.7 81.2L152.7 73.6M149.8 49.7L110.4 62.3M95.4 45.9L110.4 62.3M159.1 69.4L108.9 21.7M81 53.9L137.2 51.3M81 53.9L152.7 73.6M96.9 38.3L132.3 64.1M110.4 62.3L82 39.1M145.6 84.7L88.3 49.2M89.1 41.7L81 53.9M138.4 83.3L81 53.9M81.2 46.4L88.3 49.2M107.9 48.6L159.1 69.4M88.3 49.2L129.7 49.4M121.3 88.9L159.1 69.4M101 50.7L96.9 38.3M110.4 62.3L110.4 95.9M96.9 38.3L116.3 74.6M104.1 36.1L110.4 62.3M110.4 62.3L138.4 67.9M137.2 51.3L88.3 49.2M88.3 49.2L159.1 69.4M81 53.9L124.9 26.9M145.1 92.7L159.1 69.4M82 39.1L96.9 38.3M149.8 58.8L152.7 73.6M88.3 49.2L100.6 83.5M111.1 69.7L81 53.9M110.4 62.3L110 41M124.9 26.9L152.7 73.6M148.7 42L152.7 73.6M101.4 61.6L110.4 62.3M158.4 61.3L102.7 43.3M113.9 53.6L96.9 38.3M119.5 21.2L126.8 34M82 39.1L110.4 62.3M119.5 21.2L124.1 74.9M152.7 73.6L154.8 37.8M104.1 36.1L96.9 38.3M115.3 46.4L88.3 49.2M152.7 73.6L145.1 92.7M87 74.2L110.4 62.3M133.9 36.4L88.3 49.2M138.4 83.3L159.1 69.4M110.4 95.9L159.1 69.4" stroke="#f4a870"/><path d="M141.6 39.1L124.1 74.9M110 41L104.8 90.8M113.9 53.6L118.4 67.6M141.6 39.1L94 53.9M90.6 34.3L146.1 69.7M117.1 82.4L85.4 82.2M125 82.4L110.4 95.9M138.4 67.9L101.4 61.6M125.8 67.9L95.4 45.9M101.4 61.6L98.8 30.8M131.5 56.3L82 39.1M143 46.4L135.6 43.8M85.4 82.2L96.4 68.6M138.4 83.3L82 39.1M93 83.7L116.3 74.6M143 46.4L138.4 67.9M94 53.9L109.4 76.9M98.8 30.8L101.4 61.6M138.7 75.3L124.1 74.9M143 62L155.9 53.9M102 75.9L125.2 60.2M146.1 77.4L82.4 63.7M146.1 77.4L138.7 75.3M125.8 67.9L152.7 65.8M143.7 54.4L154.8 37.8M100.6 83.5L102.7 43.3M132.1 71.5L152.7 73.6M138.7 75.3L101 50.7M87 74.2L125 82.4M119.5 21.2L95.4 45.9M104.8 90.8L107.9 48.6M106.9 102.7L82 39.1M131.3 86.8L138.4 67.9M125.2 60.2L110 41M134.2 97.2L152.7 65.8M106.6 56L94.3 76.1M155.9 45.2L133.9 36.4M143 46.4L110 41M113.9 89.3L124.1 74.9M136.6 22.7L90.6 34.3M112.1 34L114.2 26.9M149.8 49.7L107.7 84.4M115.3 46.4L108.9 21.7M101 50.7L158.4 61.3M90.6 34.3L114.2 26.9M116.3 74.6L158.4 61.3M96.9 38.3L132.5 29.1M154.8 37.8L116.3 74.6M111.1 69.7L112.1 34M82.4 63.7L145.1 92.7M113.9 89.3L125 82.4M88.3 49.2L98.8 30.8M121.3 88.9L137.7 90.6M96.9 38.3L106.6 56M139.8 31.7L106.6 28.5M101.4 61.6L104.1 36.1M122.8 46.2L110 41M106.9 102.7L128.6 41.4M137.2 51.3L114.2 26.9M127.6 93.2L149.8 58.8M143.7 54.4L113.9 89.3M143 46.4L135.6 43.8M81.2 46.4L110 41M143 62L94.3 61.8M158.4 61.3L124.1 74.9M89.1 41.7L94.3 76.1M94 53.9L146.1 69.7M117.8 59.9L89.1 41.7M108.9 21.7L143.7 54.4M81 53.9L149.8 49.7M131.8 79.1L125 82.4M89.1 41.7L113.9 89.3M118.6 39.6L81.2 46.4M126.8 34L159.1 69.4M119.5 21.2L125.2 60.2M141.6 39.1L125.2 60.2M124.4 100.1L82 39.1M101.4 61.6L112.1 34M141.6 39.1L94.3 61.8M117.1 82.4L89.1 41.7M139.8 31.7L107.7 84.4M126.8 34L119.5 21.2M146.1 77.4L152.7 65.8M117.8 59.9L94.3 76.1M155.9 53.9L124.4 100.1M124.1 74.9L116.3 74.6M145.1 92.7L81 53.9M131.5 56.3L155.9 53.9M109.4 76.9L100.6 83.5M106.6 56L104.1 36.1M132.1 71.5L81 53.9M94.3 76.1L82 39.1M147.5 34.3L107.9 48.6M106.6 56L149.8 58.8M125.2 60.2L145.1 92.7M141.6 39.1L149.8 58.8M110.4 95.9L93 83.7M134.2 97.2L137.2 51.3M127.6 93.2L110.4 95.9M110 41L139.8 31.7M102.7 43.3L89.1 41.7M125.2 60.2L158.4 61.3M122.8 46.2L152.7 81.2M85.4 82.2L124.4 100.1M152.7 81.2L131.5 56.3M127.6 93.2L110.4 62.3M101 50.7L152.7 81.2M96.9 38.3L104.1 36.1M122.8 46.2L101.4 61.6M100.6 83.5L101.4 61.6M138.4 83.3L146.1 69.7M138.4 83.3L104.1 36.1M104.1 36.1L145.6 84.7M155.9 45.2L132.5 29.1M137.7 90.6L125.8 67.9M132.1 71.5L109.4 76.9M85.4 82.2L116.3 74.6M107.9 48.6L101.4 61.6M137.7 90.6L132.3 64.1M124.9 26.9L125 82.4M137.7 90.6L131.5 56.3M133.9 36.4L106.6 56M94.3 61.8L114.2 26.9M159.1 69.4L137.7 90.6M125.2 60.2L143 46.4M128.6 41.4L135.6 43.8M146.1 69.7L117.1 82.4M159.1 69.4L88.3 49.2M137.2 51.3L109.4 76.9M81.2 46.4L132.1 71.5M117.8 59.9L82.4 63.7M110.4 95.9L121.6 53.6M145.6 84.7L101 50.7M131.3 86.8L152.7 73.6M101 50.7L113.9 53.6M133.9 36.4L122.8 46.2M124.1 74.9L147.5 34.3M94 53.9L139.8 31.7M125.8 67.9L138.7 75.3M148.7 42L102.7 43.3M106.9 102.7L102 75.9M137.2 51.3L101 50.7M119.5 21.2L136.6 22.7M136.6 22.7L134.2 97.2M113.9 53.6L141.6 39.1M104.1 36.1L152.7 81.2M95.4 45.9L155.9 45.2M112.1 34L113.9 89.3M94 53.9L82.4 63.7M85.4 82.2L88.3 49.2M131.5 56.3L106.6 28.5M88.3 49.2L87.7 58.1M110 41L102.7 43.3M125.8 67.9L104.8 90.8M149.8 49.7L106.6 28.5M131.5 56.3L124.9 26.9M116.3 74.6L111.1 69.7M133.9 36.4L88.3 49.2M138.7 75.3L117.1 82.4M101 50.7L135.6 43.8M133.9 36.4L118.6 39.6M94.3 61.8L110.4 62.3M146.1 69.7L88.3 49.2M111.1 69.7L147.5 34.3M104.1 36.1L111.1 69.7M104.8 90.8L107.9 48.6M82.4 63.7L132.1 71.5M121.6 53.6L107.7 84.4M118.1 95.9L145.6 84.7M131.5 56.3L152.7 65.8M82 39.1L155.9 45.2M155.9 53.9L96.9 38.3M113.9 53.6L118.4 67.6M111.1 69.7L121.3 88.9M137.7 90.6L128.6 41.4M159.1 69.4L82.4 63.7M148.7 42L108.9 21.7M124.1 74.9L111.1 69.7M116.3 74.6L101.4 61.6M111.1 69.7L119.5 21.2M129.7 49.4L135.6 43.8M131.3 86.8L113.9 89.3M106.6 56L138.4 67.9M135.6 43.8L138.4 67.9M93 83.7L87 74.2M111.1 69.7L132.3 64.1M131.5 56.3L147.5 34.3M110 41L106.9 102.7M131.5 56.3L148.7 42M152.7 65.8L95.4 45.9M95.4 45.9L125.8 67.9M159.1 69.4L149.8 49.7M106.6 56L96.9 38.3M85.4 82.2L96.4 68.6M93 83.7L134.2 97.2M89.1 41.7L131.8 79.1M106.6 56L124.1 74.9M124.9 26.9L146.1 69.7M131.5 56.3L82 39.1M149.8 58.8L90.6 34.3M143.7 54.4L137.7 90.6M158.4 61.3L149.8 49.7M139.8 31.7L104.8 90.8M131.3 86.8L149.8 49.7M81 53.9L107.9 48.6M108.9 21.7L148.7 42M133.9 36.4L110.4 62.3M114.2 26.9L81 53.9M131.8 79.1L143 62M125 82.4L121.3 88.9M82.4 63.7L149.8 58.8M141.6 39.1L115.3 46.4" stroke="#a0e0c0"/><path d="M121.3 88.9L110.4 95.9M136.6 22.7L121.3 88.9M127.6 93.2L147.5 34.3M137.2 51.3L127.6 93.2M138.4 83.3L132.3 64.1M117.1 82.4L113.9 53.6M145.6 84.7L132.3 64.1M121.3 88.9L125 82.4M137.2 51.3L131.5 56.3M146.1 69.7L158.4 61.3M82.4 63.7L132.3 64.1M152.7 81.2L133.9 36.4M132.3 64.1L147.5 34.3M110.4 62.3L88.7 67.6M88.7 67.6L121.3 88.9M132.3 64.1L108.9 21.7M149.8 58.8L132.3 64.1M125 82.4L137.2 51.3M132.3 64.1L94.3 61.8M146.1 69.7L149.8 58.8M132.3 64.1L132.1 71.5M113.9 53.6L155.9 45.2M94.3 76.1L132.3 64.1M113.9 53.6L102.7 43.3M132.3 64.1L100.6 83.5M88.7 67.6L113.9 89.3M134.2 97.2L152.7 81.2M121.3 88.9L159.1 69.4M113.9 53.6L81.2 46.4M146.1 69.7L101 50.7M132.3 64.1L133.9 36.4M117.8 59.9L152.7 81.2M147.5 34.3L88.3 49.2M96.9 38.3L146.1 69.7M132.3 64.1L107.7 84.4M145.6 84.7L152.7 81.2M88.7 67.6L113.9 53.6M122.8 46.2L88.7 67.6M94.3 76.1L88.7 67.6M132.3 64.1L119.5 21.2M88.7 67.6L95.4 45.9M88.7 67.6L143.7 54.4M81.2 46.4L146.1 69.7M145.1 92.7L88.7 67.6M133.9 36.4L88.7 67.6M141.6 39.1L146.1 69.7M88.7 67.6L132.3 64.1M146.1 69.7L124.9 26.9M113.9 53.6L124.1 74.9M119.5 32.2L88.7 67.6M152.7 81.2L146.1 69.7M121.3 88.9L106.9 102.7M112.1 34L88.7 67.6M85.4 82.2L147.5 34.3M137.2 51.3L98.8 30.8M117.1 82.4L147.5 34.3M113.9 53.6L118.4 67.6M113.9 89.3L137.2 51.3M89.1 41.7L147.5 34.3M121.6 53.6L146.1 69.7M88.7 67.6L117.8 59.9M137.2 51.3L138.4 83.3M155.9 45.2L137.2 51.3M147.5 34.3L131.8 79.1M147.5 34.3L134.2 97.2M100.6 83.5L121.3 88.9M159.1 69.4L121.3 88.9M137.2 51.3L109.4 76.9M121.3 88.9L131.3 86.8M152.7 81.2L152.7 73.6M121.3 88.9L149.8 49.7M113.9 53.6L94.3 76.1M155.9 53.9L147.5 34.3M137.2 51.3L93 83.7M152.7 81.2L152.7 73.6M134.2 97.2L132.3 64.1M138.4 67.9L146.1 69.7M88.7 67.6L95.4 45.9M113.9 53.6L113.9 89.3M146.1 69.7L137.2 51.3M114.2 26.9L88.7 67.6M152.7 81.2L143 62M121.3 88.9L113.9 53.6M147.5 34.3L106.9 102.7M109.4 76.9L132.3 64.1M147.5 34.3L146.1 69.7M88.7 67.6L113.9 53.6M132.5 29.1L132.3 64.1M113.9 53.6L145.6 84.7M152.7 81.2L93 83.7M87.7 58.1L88.7 67.6M125.2 60.2L137.2 51.3M152.7 81.2L159.1 69.4M121.3 88.9L124.4 100.1M147.5 34.3L108.9 21.7M82.4 63.7L88.7 67.6M113.9 53.6L104.1 36.1M94.3 76.1L137.2 51.3M88.7 67.6L96.9 38.3M113.9 53.6L124.1 74.9M111.1 69.7L152.7 81.2M121.3 88.9L104.8 90.8" stroke="#e8d860"/><path d="M106.6 28.5L143 46.4M90.6 34.3L124.9 26.9M113.9 89.3L131.5 56.3M131.5 56.3L138.7 75.3M138.7 75.3L152.7 65.8M145.1 92.7L116.3 74.6M155.9 53.9L131.3 86.8M106.6 28.5L143 46.4M159.1 69.4L138.7 75.3M121.3 88.9L138.7 75.3M90.6 34.3L88.3 49.2M159.1 69.4L155.9 53.9M127.6 93.2L143.7 54.4M125 82.4L155.9 53.9M152.7 65.8L141.6 39.1M90.6 34.3L102.7 43.3M109.4 76.9L132.3 64.1M116.3 74.6L121.6 53.6M143 46.4L113.9 53.6M110 41L152.7 65.8M96.9 38.3L127.6 93.2M138.7 75.3L94.3 76.1M82.4 63.7L109.4 76.9M109.4 76.9L116.3 74.6M116.3 74.6L131.5 56.3M132.1 71.5L152.7 65.8M155.9 45.2L90.6 34.3M138.7 75.3L124.1 74.9M112.1 34L90.6 34.3M159.1 69.4L131.5 56.3M146.1 69.7L127.6 93.2M116.3 74.6L138.4 67.9M113.9 53.6L127.6 93.2M110.4 95.9L109.4 76.9M87 74.2L143 46.4M126.8 34L127.6 93.2M101.4 61.6L138.7 75.3M158.4 61.3L143 46.4M112.1 34L138.7 75.3M143 46.4L132.3 64.1M143 46.4L126.8 34M146.1 77.4L152.7 65.8M116.3 74.6L148.7 42M133.9 36.4L116.3 74.6M138.4 83.3L143 46.4M101 50.7L152.7 65.8M127.6 93.2L129.7 49.4M138.7 75.3L129.7 49.4M131.5 56.3L90.6 34.3M109.4 76.9L145.1 92.7M155.9 45.2L152.7 65.8M127.6 93.2L96.9 38.3M90.6 34.3L124.1 74.9M109.4 76.9L113.9 53.6M131.5 56.3L113.9 53.6M116.3 74.6L118.6 39.6M143 46.4L152.7 81.2M82 39.1L90.6 34.3M131.5 56.3L146.1 77.4M143 46.4L124.9 26.9M94.3 61.8L138.7 75.3M116.3 74.6L119.5 21.2M112.1 34L116.3 74.6M138.7 75.3L104.8 90.8M146.1 69.7L116.3 74.6M109.4 76.9L138.4 83.3M101.4 61.6L138.7 75.3M96.9 38.3L138.7 75.3M147.5 34.3L127.6 93.2M96.9 38.3L116.3 74.6M109.4 76.9L155.9 53.9M131.5 56.3L100.6 83.5M138.7 75.3L124.1 74.9M152.7 65.8L145.6 84.7M135.6 43.8L131.5 56.3M127.6 93.2L95.4 45.9M154.8 37.8L155.9 53.9M143.7 54.4L131.5 56.3M87 74.2L90.6 34.3M127.6 93.2L118.1 95.9M109.4 76.9L118.6 39.6M116.3 74.6L143 46.4M90.6 34.3L152.7 73.6M138.7 75.3L129.7 49.4M152.7 65.8L132.3 64.1M116.3 74.6L109.4 76.9M139.8 31.7L131.5 56.3M109.4 76.9L146.1 69.7M152.7 65.8L133.9 36.4M127.6 93.2L88.7 67.6M107.9 48.6L127.6 93.2M145.1 92.7L143 46.4M131.5 56.3L141.6 39.1M131.5 56.3L145.6 84.7M146.1 69.7L152.7 65.8M138.7 75.3L137.7 90.6M109.4 76.9L102 75.9M85.4 82.2L127.6 93.2M132.3 64.1L138.7 75.3M131.3 86.8L109.4 76.9M138.7 75.3L118.6 39.6M127.6 93.2L121.3 88.9M131.5 56.3L118.1 95.9M152.7 65.8L131.5 56.3M109.4 76.9L131.8 79.1M102 75.9L90.6 34.3M127.6 93.2L152.7 81.2M103.8 68.3L131.5 56.3M159.1 69.4L131.5 56.3M155.9 53.9L147.5 34.3M131.5 56.3L125.8 67.9M138.7 75.3L106.9 102.7M143 46.4L125.2 60.2M128.6 41.4L152.7 65.8M138.7 75.3L143.7 54.4M152.7 65.8L112.1 34" stroke="#e880e8"/><path d="M132.1 71.5L155.9 45.2M138.4 83.3L85.4 82.2M122.8 46.2L152.7 65.8M138.4 83.3L101 50.7M119.5 32.2L104.1 36.1M138.4 83.3L133.9 36.4M122.8 46.2L128.6 41.4M155.9 45.2L106.6 56M104.1 36.1L139.8 31.7M138.4 83.3L125.8 67.9M122.8 46.2L101.4 61.6M131.3 86.8L122.8 46.2M104.1 36.1L133.9 36.4M125.2 60.2L104.1 36.1M138.4 83.3L152.7 73.6M118.1 95.9L155.9 45.2M104.1 36.1L101.4 61.6M104.1 36.1L94 53.9M107.9 48.6L122.8 46.2M129.7 49.4L104.1 36.1M155.9 45.2L155.9 53.9M93 83.7L138.4 83.3M122.8 46.2L98.8 30.8M94.3 61.8L122.8 46.2M155.9 45.2L134.2 97.2M104.1 36.1L145.1 92.7M138.4 83.3L88.3 49.2M128.6 41.4L122.8 46.2M104.1 36.1L102.7 43.3M106.6 28.5L122.8 46.2M131.5 56.3L104.1 36.1M110 41L122.8 46.2M131.3 86.8L104.1 36.1M110.4 62.3L122.8 46.2M138.4 83.3L137.7 90.6M137.2 51.3L138.4 83.3M122.8 46.2L152.7 65.8M155.9 45.2L100.6 83.5M108.9 21.7L138.4 83.3M104.1 36.1L93 83.7M131.5 56.3L104.1 36.1M155.9 45.2L149.8 49.7M138.7 75.3L122.8 46.2M122.8 46.2L101.4 61.6M106.6 28.5L155.9 45.2" stroke="#b8e870"/></g><g fill="none" stroke-width="0.5" stroke-opacity="0.25"><path d="M106.9 102.7L85.4 82.2M136.6 22.7L154.8 37.8" stroke="#b088f4"/><path d="M85.4 82.2L82.4 63.7M108.9 21.7L119.5 21.2" stroke="#8898f4"/><path d="M82.4 63.7L81 53.9M154.8 37.8L158.4 61.3M145.1 92.7L134.2 97.2" stroke="#70e088"/><path d="M81 53.9L81.2 46.4M119.5 21.2L136.6 22.7M158.4 61.3L159.1 69.4M159.1 69.4L152.7 81.2" stroke="#f4a870"/><path d="M81.2 46.4L82 39.1M82 39.1L108.9 21.7M134.2 97.2L124.4 100.1M124.4 100.1L106.9 102.7" stroke="#f47a80"/><path d="M152.7 81.2L145.1 92.7" stroke="#e8d860"/><path d="M106.9 102.7L96.4 68.6M106.9 102.7L103.8 68.3M106.9 102.7L87 74.2M106.9 102.7L116.3 74.6M106.9 102.7L94.3 76.1M106.9 102.7L102 75.9M106.9 102.7L131.8 79.1M106.9 102.7L85.4 82.2M106.9 102.7L125 82.4M106.9 102.7L93 83.7M106.9 102.7L100.6 83.5M106.9 102.7L131.3 86.8M106.9 102.7L113.9 89.3M106.9 102.7L121.3 88.9M106.9 102.7L104.8 90.8M106.9 102.7L127.6 93.2M106.9 102.7L118.1 95.9M106.9 102.7L134.2 97.2M85.4 82.2L81.2 46.4M85.4 82.2L88.3 49.2M85.4 82.2L81 53.9M85.4 82.2L94 53.9M85.4 82.2L94.3 61.8M85.4 82.2L101.4 61.6M85.4 82.2L110.4 62.3M85.4 82.2L82.4 63.7M85.4 82.2L88.7 67.6M85.4 82.2L96.4 68.6M85.4 82.2L111.1 69.7M85.4 82.2L87 74.2M85.4 82.2L116.3 74.6M85.4 82.2L94.3 76.1M85.4 82.2L109.4 76.9" stroke="#a898f0"/></g></g><g filter="url(#bl2)"><g><circle cx="108.9" cy="21.7" r="1.15" fill="#5a7af2"/><circle cx="119.5" cy="21.2" r="1.15" fill="#f59a4a"/><circle cx="136.6" cy="22.7" r="1.15" fill="#985af2"/><circle cx="114.2" cy="26.9" r="1.15" fill="#4accec"/><circle cx="124.9" cy="26.9" r="1.15" fill="#4adcb6"/><circle cx="106.6" cy="28.5" r="1.15" fill="#5adc6a"/><circle cx="132.5" cy="29.1" r="1.15" fill="#5a7af2"/><circle cx="98.8" cy="30.8" r="1.15" fill="#5adc6a"/><circle cx="139.8" cy="31.7" r="1.15" fill="#5a7af2"/><circle cx="119.5" cy="32.2" r="1.15" fill="#4adcb6"/><circle cx="90.6" cy="34.3" r="1.15" fill="#e25ae2"/><circle cx="112.1" cy="34" r="1.15" fill="#f25a55"/><circle cx="126.8" cy="34" r="1.15" fill="#985af2"/><circle cx="147.5" cy="34.3" r="1.15" fill="#f2d44a"/><circle cx="104.1" cy="36.1" r="1.15" fill="#bde24a"/><circle cx="133.9" cy="36.4" r="1.15" fill="#985af2"/><circle cx="154.8" cy="37.8" r="1.15" fill="#5adc6a"/><circle cx="96.9" cy="38.3" r="1.15" fill="#f59a4a"/><circle cx="82" cy="39.1" r="1.15" fill="#f25a55"/><circle cx="118.6" cy="39.6" r="1.15" fill="#4adcb6"/><circle cx="141.6" cy="39.1" r="1.15" fill="#5a7af2"/><circle cx="89.1" cy="41.7" r="1.15" fill="#4accec"/><circle cx="110" cy="41" r="1.15" fill="#5adc6a"/><circle cx="128.6" cy="41.4" r="1.15" fill="#4accec"/><circle cx="148.7" cy="42" r="1.15" fill="#f25a55"/><circle cx="102.7" cy="43.3" r="1.15" fill="#f26aa6"/><circle cx="135.6" cy="43.8" r="1.15" fill="#5adc6a"/><circle cx="95.4" cy="45.9" r="1.15" fill="#f25a55"/><circle cx="81.2" cy="46.4" r="1.15" fill="#f25a55"/><circle cx="115.3" cy="46.4" r="1.15" fill="#985af2"/><circle cx="122.8" cy="46.2" r="1.15" fill="#bde24a"/><circle cx="143" cy="46.4" r="1.15" fill="#e25ae2"/><circle cx="155.9" cy="45.2" r="1.15" fill="#bde24a"/><circle cx="88.3" cy="49.2" r="1.15" fill="#f59a4a"/><circle cx="101" cy="50.7" r="1.15" fill="#985af2"/><circle cx="107.9" cy="48.6" r="1.15" fill="#f26aa6"/><circle cx="129.7" cy="49.4" r="1.15" fill="#985af2"/><circle cx="149.8" cy="49.7" r="1.15" fill="#5a7af2"/><circle cx="137.2" cy="51.3" r="1.15" fill="#f2d44a"/><circle cx="81" cy="53.9" r="1.15" fill="#f59a4a"/><circle cx="94" cy="53.9" r="1.15" fill="#5adc6a"/><circle cx="113.9" cy="53.6" r="1.15" fill="#f2d44a"/><circle cx="121.6" cy="53.6" r="1.15" fill="#5a7af2"/><circle cx="143.7" cy="54.4" r="1.15" fill="#5adc6a"/><circle cx="155.9" cy="53.9" r="1.15" fill="#e25ae2"/><circle cx="106.6" cy="56" r="1.15" fill="#985af2"/><circle cx="131.5" cy="56.3" r="1.15" fill="#e25ae2"/><circle cx="87.7" cy="58.1" r="1.15" fill="#5adc6a"/><circle cx="117.8" cy="59.9" r="1.15" fill="#4adcb6"/><circle cx="125.2" cy="60.2" r="1.15" fill="#f25a55"/><circle cx="149.8" cy="58.8" r="1.15" fill="#5adc6a"/><circle cx="94.3" cy="61.8" r="1.15" fill="#5adc6a"/><circle cx="101.4" cy="61.6" r="1.15" fill="#985af2"/><circle cx="110.4" cy="62.3" r="1.15" fill="#f59a4a"/><circle cx="143" cy="62" r="1.15" fill="#985af2"/><circle cx="158.4" cy="61.3" r="1.15" fill="#f59a4a"/><circle cx="82.4" cy="63.7" r="1.15" fill="#5adc6a"/><circle cx="132.3" cy="64.1" r="1.15" fill="#f2d44a"/><circle cx="152.7" cy="65.8" r="1.15" fill="#e25ae2"/><circle cx="88.7" cy="67.6" r="1.15" fill="#f2d44a"/><circle cx="96.4" cy="68.6" r="1.15" fill="#4adcb6"/><circle cx="103.8" cy="68.3" r="1.15" fill="#5adc6a"/><circle cx="118.4" cy="67.6" r="1.15" fill="#4accec"/><circle cx="125.8" cy="67.9" r="1.15" fill="#5a7af2"/><circle cx="138.4" cy="67.9" r="1.15" fill="#985af2"/><circle cx="111.1" cy="69.7" r="1.15" fill="#f26aa6"/><circle cx="146.1" cy="69.7" r="1.15" fill="#f2d44a"/><circle cx="159.1" cy="69.4" r="1.15" fill="#f59a4a"/><circle cx="132.1" cy="71.5" r="1.15" fill="#5adc6a"/><circle cx="87" cy="74.2" r="1.15" fill="#5adc6a"/><circle cx="116.3" cy="74.6" r="1.15" fill="#e25ae2"/><circle cx="124.1" cy="74.9" r="1.15" fill="#5a7af2"/><circle cx="152.7" cy="73.6" r="1.15" fill="#f59a4a"/><circle cx="138.7" cy="75.3" r="1.15" fill="#e25ae2"/><circle cx="94.3" cy="76.1" r="1.15" fill="#5a7af2"/><circle cx="102" cy="75.9" r="1.15" fill="#4adcb6"/><circle cx="109.4" cy="76.9" r="1.15" fill="#e25ae2"/><circle cx="146.1" cy="77.4" r="1.15" fill="#5a7af2"/><circle cx="131.8" cy="79.1" r="1.15" fill="#5adc6a"/><circle cx="152.7" cy="81.2" r="1.15" fill="#f2d44a"/><circle cx="85.4" cy="82.2" r="1.15" fill="#5a7af2"/><circle cx="117.1" cy="82.4" r="1.15" fill="#5adc6a"/><circle cx="125" cy="82.4" r="1.15" fill="#4accec"/><circle cx="138.4" cy="83.3" r="1.15" fill="#bde24a"/><circle cx="93" cy="83.7" r="1.15" fill="#5adc6a"/><circle cx="100.6" cy="83.5" r="1.15" fill="#5a7af2"/><circle cx="107.7" cy="84.4" r="1.15" fill="#f25a55"/><circle cx="145.6" cy="84.7" r="1.15" fill="#f26aa6"/><circle cx="131.3" cy="86.8" r="1.15" fill="#5a7af2"/><circle cx="113.9" cy="89.3" r="1.15" fill="#5adc6a"/><circle cx="121.3" cy="88.9" r="1.15" fill="#f2d44a"/><circle cx="104.8" cy="90.8" r="1.15" fill="#5adc6a"/><circle cx="137.7" cy="90.6" r="1.15" fill="#f26aa6"/><circle cx="145.1" cy="92.7" r="1.15" fill="#5adc6a"/><circle cx="127.6" cy="93.2" r="1.15" fill="#e25ae2"/><circle cx="110.4" cy="95.9" r="1.15" fill="#5adc6a"/><circle cx="118.1" cy="95.9" r="1.15" fill="#5a7af2"/><circle cx="134.2" cy="97.2" r="1.15" fill="#f25a55"/><circle cx="124.4" cy="100.1" r="1.15" fill="#f25a55"/><circle cx="106.9" cy="102.7" r="1.15" fill="#985af2"/></g></g><g filter="url(#bl)"><g fill="none" stroke-width="0.3" stroke-opacity="0.22"><path d="M182.2 82.3L185.5 82.1M194.2 78.3L196.7 78.2M187.8 72L188.6 70M183.4 93.6L186.3 92.2M192.8 75.8L190.7 76.1M185.9 79.1L185.5 82.1M178 89.6L175.4 86.9M177 79.7L179.1 77.2M192.8 75.8L194.2 78.3M166.5 82.8L167.6 80.8M191.6 73L188.3 74.9M181.1 69.6L178.8 66.9M183.6 77.1L182.3 74.3M187.8 72L188.3 74.9M190.9 82.7L192.5 84.5M178.7 95.2L181.1 94.7" stroke="#b3f4a3"/><path d="M188.4 95L192.4 94M175.8 67.6L178.8 66.9M173.1 83.5L173.1 85.6M175.5 72.1L173 71M175.5 72.1L178 71.4M172.7 77.2L169.5 79.7M188.8 85.3L188.2 88.5M170.1 83.6L167.3 85.5M178.9 86.8L175.4 86.9M193.9 81.8L190.9 82.7M171.1 70L169.2 73.7M181.5 67.1L181.1 69.6M182.8 84.4L179.7 83.5" stroke="#f4b1a3"/><path d="M191 78.3L194.2 78.3M184.8 73.3L185.3 69.8M189.5 80.7L190.9 82.7M166.5 87.6L167.3 85.5M168.2 77.8L167.6 80.8M177 79.7L180 81.3M176.1 77.3L172.7 77.2M180 81.3L179.7 83.5M183 87.5L185.3 87.3M197.9 83.9L198.5 81.8M185.3 84.7L185.5 82.1M177.7 84.4L175 84.8M165.1 80.7L165.3 84.6M173.1 83.5L175.2 82.2M170.1 83.6L167.6 80.8M191.8 91.8L194.3 92.5M188.8 91.7L190.2 93.8" stroke="#a3f4dc"/><path d="M189.2 67.7L191.5 70.2M173.5 80.1L169.5 79.7M181.5 76.3L182.3 74.3M192.8 75.8L191.6 73M166.5 87.6L168.2 90.3M177.9 73.6L178 71.4M181.5 76.3L180.7 78.7M175.5 90.6L176.6 93.2M191.6 73L193.8 71.7M171.8 81.5L169.5 79.7M188 82.7L185.9 79.1M178.6 69.2L181.1 69.6M183.2 91L186.3 92.2M193.9 81.8L192.5 84.5M178.7 95.2L176.2 96.4M191.8 91.8L190.2 93.8M177.7 84.4L180 81.3M178 71.4L181.1 69.6M188 82.7L185.5 82.1M167.6 80.8L165.1 80.7M195.4 73.4L193.8 71.7" stroke="#f4e7a3"/><path d="M191.8 91.8L188.8 91.7M191.6 73L190.7 76.1M181.1 88.9L183 87.5M196.5 80.6L193.9 81.8M186.2 89.3L185.3 87.3M183.5 79.7L185.5 82.1M182.8 84.4L185.5 82.1M185.5 95.3L183.4 93.6M188.8 78.6L185.9 79.1M183.2 70.6L184.8 73.3M172.8 91.3L171.4 93.9M187.2 77L183.6 77.1M192.6 87.1L195.5 87M195.4 73.4L191.6 73M195.4 73.4L192.8 75.8" stroke="#a3c3f4"/><path d="M170.1 83.6L173.1 83.5M172.2 74.2L172.7 77.2M183.2 91L181.5 92.5M170.7 76.5L167.6 75.7M185.6 67.5L181.5 67.1M175.5 90.6L175.4 86.9M170.7 87.8L167.3 85.5M187.8 72L184.8 73.3M181 72.7L177.9 73.6M179.1 77.2L181.5 76.3M181.5 67.1L183.2 70.6M181.1 88.9L181 86M181 86L183 87.5M167.6 80.8L169.5 79.7M176.1 77.3L177.9 73.6M183.2 91L181.1 88.9" stroke="#a3f4f4"/><path d="M188.8 78.6L190.7 76.1M195.1 84.6L195.5 87M175 84.8L175.2 82.2M173.8 93.3L176.2 96.4M192.4 94L190.2 93.8M182.8 84.4L185.3 84.7M168.2 77.8L167.6 75.7M181 72.7L178 71.4M183.2 70.6L181.1 69.6M175 84.8L175.4 86.9M175.4 86.9L173.1 85.6M183.5 79.7L180.7 78.7M177 79.7L176.1 77.3M175.5 72.1L174.5 75.3M177.9 73.6L174.5 75.3M177.7 84.4L175.2 82.2M176.1 77.3L173.5 80.1M171.8 81.5L175.2 82.2M183.6 77.1L181.5 76.3M177 79.7L180.7 78.7M183.5 79.7L183.6 77.1M175.5 72.1L174.3 69.2M171.8 81.5L173.1 83.5" stroke="#a3e6f4"/><path d="M170.1 83.6L173.1 85.6M195.1 84.6L197.6 86.5M172.2 74.2L169.2 73.7M189.2 67.7L185.6 67.5M182.2 82.3L180 81.3M191 78.3L192.4 80.2M196.5 80.6L198.5 79.2M188.8 85.3L190.9 82.7M192.6 87.1L192.5 84.5M166.5 87.6L165.3 84.6M198.5 81.8L198.5 79.2M185.5 95.3L188.4 95M193.8 89.5L195.5 87M169.7 91.9L168.2 90.3M191 78.3L192.8 75.8M173.8 93.3L171.4 93.9" stroke="#f4a3ec"/><path d="M187.2 77L188.3 74.9M178.6 69.2L178 71.4M195.1 84.6L193.9 81.8M181.5 92.5L181.1 94.7M194.2 78.3L192.4 80.2M187.2 77L185.9 79.1M183.5 79.7L185.9 79.1M197.6 86.5L197.2 88.9M179.7 74.6L182.3 74.3M178.9 92L181.5 92.5M166.1 78L167.6 80.8M178.9 92L176.6 93.2M166.5 82.8L165.3 84.6M178.9 86.8L181.1 88.9M181 72.7L181.1 69.6M177.7 84.4L175.4 86.9M176.1 77.3L179.1 77.2M181 86L179.7 83.5M188.8 91.7L188.2 88.5M169.7 91.9L172.8 91.3" stroke="#cba3f4"/><path d="M177.7 84.4L179.7 83.5M171.1 70L173 71M177 79.7L173.5 80.1M185.3 69.8L188.6 70M188.8 85.3L185.3 84.7M172.2 74.2L174.5 75.3M189.5 80.7L188.8 78.6M171.8 81.5L170.1 83.6M183.2 70.6L185.3 69.8M175.5 90.6L172.9 89.1M191.6 73L188.6 70M174.3 69.2L173 71M183.2 91L183.4 93.6" stroke="#a3a6f4"/><path d="M189.5 80.7L192.4 80.2M185.5 95.3L186.3 92.2M183.6 77.1L180.7 78.7M183.2 91L183 87.5M175.5 72.1L172.2 74.2M166.5 82.8L170.1 83.6M175.4 86.9L172.9 89.1M195.1 84.6L197.9 83.9M193.9 81.8L194.2 78.3M183.4 93.6L181.5 92.5M186.2 89.3L188.2 88.5M172.7 77.2L174.5 75.3M178.9 92L181.1 94.7M183.6 77.1L185.9 79.1" stroke="#bda3f4"/><path d="M166.1 78L165.1 80.7M197.8 76.2L196.7 78.2M181.1 88.9L178 89.6M187.2 77L188.8 78.6M173.5 80.1L172.7 77.2M192.4 94L194.3 92.5M182.8 84.4L181 86M171.1 70L174.3 69.2M182.2 82.3L179.7 83.5M179.7 74.6L181.5 76.3M185.3 87.3L185.3 84.7M187.2 77L190.7 76.1M178.9 86.8L177.7 84.4M168.2 77.8L169.5 79.7M188.4 95L188.8 91.7M178.7 95.2L182.6 96.4M183.2 91L186.2 89.3M191.6 73L191.5 70.2M188.2 88.5L185.3 87.3M180 81.3L180.7 78.7" stroke="#f4a3bb"/><path d="M193.8 89.5L194.3 92.5M179.7 74.6L177.9 73.6M187.8 72L185.3 69.8M191.8 91.8L193.8 89.5M170.7 87.8L168.2 90.3M191.8 91.8L192.4 94M181 72.7L183.2 70.6M175.5 72.1L177.9 73.6M178.9 92L181.1 88.9M197.8 76.2L198.5 79.2M178.7 95.2L176.6 93.2M183.6 77.1L186.2 75.1M190.9 82.7L192.4 80.2M195.1 84.6L192.6 87.1M192.8 75.8L195.2 76.2" stroke="#e4a3f4"/><path d="M188.8 91.7L186.2 89.3M183.2 70.6L182.3 74.3M170.7 87.8L173.1 85.6M195.4 73.4L197.8 76.2M195.1 84.6L192.5 84.5M189.2 67.7L188.6 70M174.3 69.2L175.8 67.6M191 89.4L193.8 89.5M191.5 70.2L188.6 70M191.8 91.8L191 89.4M198.5 79.2L196.7 78.2M188.8 85.3L192.5 84.5M187.8 72L191.6 73M196.5 80.6L194.2 78.3M186.2 89.3L183 87.5M184.8 73.3L182.3 74.3M191.5 70.2L193.8 71.7M166.1 78L167.6 75.7M181 72.7L182.3 74.3M175 84.8L173.1 85.6M168.2 77.8L170.7 76.5M170.7 76.5L169.5 79.7M187.8 72L186.2 75.1M173.8 93.3L172.8 91.3M178.9 86.8L179.7 83.5M187.2 77L186.2 75.1M172.2 74.2L170.7 76.5M175.5 90.6L178.9 92" stroke="#f4a3a3"/><path d="M183.4 93.6L181.1 94.7M178.9 86.8L181 86M189.5 80.7L185.9 79.1M179.7 74.6L179.1 77.2M172.9 89.1L173.1 85.6M189.5 80.7L191 78.3M175 84.8L173.1 83.5M183.6 77.1L184.8 73.3M170.1 83.6L169.5 79.7M188.4 95L186.3 92.2M166.1 78L168.2 77.8M175.5 90.6L173.8 93.3M197.6 86.5L195.5 87M183 87.5L185.3 84.7M185.6 67.5L185.3 69.8M169.7 91.9L171.4 93.9M188.3 74.9L186.2 75.1" stroke="#a3f4b0"/><path d="M188.8 85.3L188 82.7M197.8 76.2L195.2 76.2M169.2 73.7L167.6 75.7M167.3 85.5L165.3 84.6M194.2 78.3L195.2 76.2M172.7 77.2L170.7 76.5M182.2 82.3L182.8 84.4M177.9 73.6L179.1 77.2M188.8 91.7L191 89.4M173.5 80.1L175.2 82.2M195.2 76.2L196.7 78.2M178.9 92L178 89.6M178.9 86.8L178 89.6M169.2 73.7L170.7 76.5M196.5 80.6L196.7 78.2M197.2 88.9L195.5 87M179.7 74.6L181 72.7M186.2 89.3L186.3 92.2M182.8 84.4L183 87.5M192.6 87.1L191 89.4M188.8 85.3L185.3 87.3M171.8 81.5L173.5 80.1M188.8 85.3L192.6 87.1" stroke="#f4a3d4"/><path d="M185.6 67.5L183.2 70.6M197.9 83.9L196.5 80.6M166.5 82.8L165.1 80.7M188 82.7L190.9 82.7M188.4 95L190.2 93.8M178.6 69.2L175.8 67.6M197.2 88.9L193.8 89.5M182.2 82.3L183.5 79.7M195.4 73.4L195.2 76.2M176.1 77.3L174.5 75.3M197.9 83.9L197.6 86.5M188.2 88.5L191 89.4M188.8 91.7L186.3 92.2M181.1 88.9L181.5 92.5M182.6 96.4L181.1 94.7" stroke="#daf4a3"/><path d="M177 79.7L175.2 82.2M175.5 90.6L172.8 91.3M181.5 67.1L178.8 66.9M176.6 93.2L176.2 96.4M170.7 87.8L172.9 89.1M178.7 95.2L178.9 92M172.8 91.3L172.9 89.1M191 78.3L188.8 78.6M185.6 67.5L188.6 70M188 82.7L185.3 84.7M193.9 81.8L192.4 80.2M183.5 79.7L180 81.3M188 82.7L189.5 80.7M176.6 93.2L173.8 93.3M191 78.3L190.7 76.1M196.5 80.6L198.5 81.8M192.6 87.1L193.8 89.5" stroke="#f4caa3"/><path d="M166.5 82.8L167.3 85.5M182.6 96.4L183.4 93.6M175.5 90.6L178 89.6M172.2 74.2L173 71M184.8 73.3L186.2 75.1M185.5 95.3L182.6 96.4M188.3 74.9L190.7 76.1M178.6 69.2L178.8 66.9M179.1 77.2L180.7 78.7" stroke="#a4f4a3"/></g><g><rect x="170.3" y="69.2" width="1.6" height="1.6" fill="#8feb84"/><rect x="186.4" y="76.2" width="1.6" height="1.6" fill="#84eb89"/><rect x="194.6" y="72.6" width="1.6" height="1.6" fill="#ebb084"/><rect x="197" y="75.4" width="1.6" height="1.6" fill="#d784eb"/><rect x="184.7" y="94.5" width="1.6" height="1.6" fill="#eb9284"/><rect x="187.6" y="94.2" width="1.6" height="1.6" fill="#eb9584"/><rect x="188.4" y="66.9" width="1.6" height="1.6" fill="#87eb84"/><rect x="194.3" y="83.8" width="1.6" height="1.6" fill="#84eb86"/><rect x="174.7" y="71.3" width="1.6" height="1.6" fill="#eb8485"/><rect x="197.1" y="83.1" width="1.6" height="1.6" fill="#eb84cb"/><rect x="188" y="84.5" width="1.6" height="1.6" fill="#ebb784"/><rect x="174.7" y="89.8" width="1.6" height="1.6" fill="#a384eb"/><rect x="196.8" y="85.7" width="1.6" height="1.6" fill="#eb84c2"/><rect x="168.9" y="91.1" width="1.6" height="1.6" fill="#848beb"/><rect x="187" y="71.2" width="1.6" height="1.6" fill="#eb84e7"/><rect x="165.7" y="82" width="1.6" height="1.6" fill="#eb8a84"/><rect x="181.4" y="81.5" width="1.6" height="1.6" fill="#d3eb84"/><rect x="178.1" y="86" width="1.6" height="1.6" fill="#eb84b8"/><rect x="176.9" y="83.6" width="1.6" height="1.6" fill="#eb849a"/><rect x="174.2" y="84" width="1.6" height="1.6" fill="#d584eb"/><rect x="182.7" y="78.9" width="1.6" height="1.6" fill="#eb84be"/><rect x="187.2" y="81.9" width="1.6" height="1.6" fill="#84a8eb"/><rect x="176.2" y="78.9" width="1.6" height="1.6" fill="#ebab84"/><rect x="177.9" y="94.4" width="1.6" height="1.6" fill="#84a8eb"/><rect x="177.8" y="68.4" width="1.6" height="1.6" fill="#848beb"/><rect x="182.8" y="76.3" width="1.6" height="1.6" fill="#eb84e6"/><rect x="175.3" y="76.5" width="1.6" height="1.6" fill="#eb849d"/><rect x="182.4" y="90.2" width="1.6" height="1.6" fill="#ebb984"/><rect x="178.1" y="91.2" width="1.6" height="1.6" fill="#db84eb"/><rect x="195.7" y="79.8" width="1.6" height="1.6" fill="#84ebe3"/><rect x="193.1" y="81" width="1.6" height="1.6" fill="#c384eb"/><rect x="182" y="83.6" width="1.6" height="1.6" fill="#84dceb"/><rect x="180.3" y="88.1" width="1.6" height="1.6" fill="#c284eb"/><rect x="191" y="91" width="1.6" height="1.6" fill="#9aeb84"/><rect x="169.9" y="87" width="1.6" height="1.6" fill="#99eb84"/><rect x="178.9" y="73.8" width="1.6" height="1.6" fill="#84eb9e"/><rect x="171.4" y="73.4" width="1.6" height="1.6" fill="#eb8c84"/><rect x="173.5" y="68.4" width="1.6" height="1.6" fill="#84aceb"/><rect x="180.2" y="71.9" width="1.6" height="1.6" fill="#eb848d"/><rect x="165.3" y="77.2" width="1.6" height="1.6" fill="#84eb9a"/><rect x="171" y="80.7" width="1.6" height="1.6" fill="#eb8b84"/><rect x="177.2" y="88.8" width="1.6" height="1.6" fill="#84a3eb"/><rect x="188.7" y="79.9" width="1.6" height="1.6" fill="#eb84cb"/><rect x="184.8" y="66.7" width="1.6" height="1.6" fill="#84eb9d"/><rect x="180.7" y="66.3" width="1.6" height="1.6" fill="#8beb84"/><rect x="182.4" y="69.8" width="1.6" height="1.6" fill="#ebb584"/><rect x="175.8" y="92.4" width="1.6" height="1.6" fill="#e984eb"/><rect x="188" y="90.9" width="1.6" height="1.6" fill="#eb8485"/><rect x="190.2" y="77.5" width="1.6" height="1.6" fill="#eb8498"/><rect x="177.1" y="72.8" width="1.6" height="1.6" fill="#848eeb"/><rect x="181.8" y="95.6" width="1.6" height="1.6" fill="#84eb9f"/><rect x="169.3" y="82.8" width="1.6" height="1.6" fill="#eb8c84"/><rect x="185.4" y="88.5" width="1.6" height="1.6" fill="#84d6eb"/><rect x="196.4" y="88.1" width="1.6" height="1.6" fill="#8beb84"/><rect x="178.3" y="76.4" width="1.6" height="1.6" fill="#ebde84"/><rect x="192" y="75" width="1.6" height="1.6" fill="#eb84c2"/><rect x="182.6" y="92.8" width="1.6" height="1.6" fill="#84ebe4"/><rect x="168.4" y="72.9" width="1.6" height="1.6" fill="#ebd584"/><rect x="165.7" y="86.8" width="1.6" height="1.6" fill="#84e1eb"/><rect x="191.8" y="86.3" width="1.6" height="1.6" fill="#ca84eb"/><rect x="190.8" y="72.2" width="1.6" height="1.6" fill="#d484eb"/><rect x="180.2" y="85.2" width="1.6" height="1.6" fill="#84d0eb"/><rect x="173" y="92.5" width="1.6" height="1.6" fill="#eb84da"/><rect x="182.2" y="86.7" width="1.6" height="1.6" fill="#ebe184"/><rect x="172.3" y="82.7" width="1.6" height="1.6" fill="#84ebce"/><rect x="184" y="72.5" width="1.6" height="1.6" fill="#8490eb"/><rect x="190.7" y="69.4" width="1.6" height="1.6" fill="#eb84a2"/><rect x="187.4" y="87.7" width="1.6" height="1.6" fill="#cc84eb"/><rect x="167.4" y="77" width="1.6" height="1.6" fill="#84b9eb"/><rect x="172.7" y="79.3" width="1.6" height="1.6" fill="#eb84a5"/><rect x="172" y="90.5" width="1.6" height="1.6" fill="#ebe684"/><rect x="166.5" y="84.7" width="1.6" height="1.6" fill="#84eb88"/><rect x="193.4" y="77.5" width="1.6" height="1.6" fill="#84eb97"/><rect x="174.6" y="86.1" width="1.6" height="1.6" fill="#eb84c1"/><rect x="166.8" y="80" width="1.6" height="1.6" fill="#d984eb"/><rect x="171.9" y="76.4" width="1.6" height="1.6" fill="#ebd184"/><rect x="172.1" y="88.3" width="1.6" height="1.6" fill="#89eb84"/><rect x="175" y="66.8" width="1.6" height="1.6" fill="#84ebd4"/><rect x="184.5" y="86.5" width="1.6" height="1.6" fill="#eb9084"/><rect x="190.2" y="88.6" width="1.6" height="1.6" fill="#98eb84"/><rect x="184.5" y="83.9" width="1.6" height="1.6" fill="#ebdb84"/><rect x="187.5" y="74.1" width="1.6" height="1.6" fill="#b984eb"/><rect x="175.4" y="95.6" width="1.6" height="1.6" fill="#84afeb"/><rect x="191.6" y="93.2" width="1.6" height="1.6" fill="#8deb84"/><rect x="188" y="77.8" width="1.6" height="1.6" fill="#84e8eb"/><rect x="185.1" y="78.3" width="1.6" height="1.6" fill="#eb8684"/><rect x="185.5" y="91.4" width="1.6" height="1.6" fill="#84ebe3"/><rect x="193" y="70.9" width="1.6" height="1.6" fill="#84eb8f"/><rect x="193" y="88.7" width="1.6" height="1.6" fill="#c7eb84"/><rect x="167.4" y="89.5" width="1.6" height="1.6" fill="#eb84a0"/><rect x="193.5" y="91.7" width="1.6" height="1.6" fill="#b084eb"/><rect x="180.7" y="75.5" width="1.6" height="1.6" fill="#c7eb84"/><rect x="179.2" y="80.5" width="1.6" height="1.6" fill="#e084eb"/><rect x="197.7" y="81" width="1.6" height="1.6" fill="#84eb95"/><rect x="164.3" y="79.9" width="1.6" height="1.6" fill="#eb84ae"/><rect x="169.9" y="75.7" width="1.6" height="1.6" fill="#eb848a"/><rect x="173.7" y="74.5" width="1.6" height="1.6" fill="#cceb84"/><rect x="184.5" y="69" width="1.6" height="1.6" fill="#84eb8e"/><rect x="179.9" y="77.9" width="1.6" height="1.6" fill="#cdeb84"/><rect x="168.7" y="78.9" width="1.6" height="1.6" fill="#eb848f"/><rect x="172.3" y="84.8" width="1.6" height="1.6" fill="#84ebe5"/><rect x="177.2" y="70.6" width="1.6" height="1.6" fill="#84eb84"/><rect x="180.7" y="91.7" width="1.6" height="1.6" fill="#eba984"/><rect x="194.4" y="75.4" width="1.6" height="1.6" fill="#84ebe9"/><rect x="190.1" y="81.9" width="1.6" height="1.6" fill="#ebb184"/><rect x="197.7" y="78.4" width="1.6" height="1.6" fill="#eb84e9"/><rect x="172.2" y="70.2" width="1.6" height="1.6" fill="#eb84a4"/><rect x="174.4" y="81.4" width="1.6" height="1.6" fill="#e284eb"/><rect x="180.3" y="68.8" width="1.6" height="1.6" fill="#eb84e3"/><rect x="191.6" y="79.4" width="1.6" height="1.6" fill="#84eb89"/><rect x="166.8" y="74.9" width="1.6" height="1.6" fill="#e084eb"/><rect x="184.7" y="81.3" width="1.6" height="1.6" fill="#eb9484"/><rect x="178" y="66.1" width="1.6" height="1.6" fill="#eb9884"/><rect x="191.7" y="83.7" width="1.6" height="1.6" fill="#cc84eb"/><rect x="180.3" y="93.9" width="1.6" height="1.6" fill="#caeb84"/><rect x="194.7" y="86.2" width="1.6" height="1.6" fill="#848feb"/><rect x="189.9" y="75.3" width="1.6" height="1.6" fill="#84e4eb"/><rect x="187.8" y="69.2" width="1.6" height="1.6" fill="#b384eb"/><rect x="189.4" y="93" width="1.6" height="1.6" fill="#84e0eb"/><rect x="185.4" y="74.3" width="1.6" height="1.6" fill="#a484eb"/><rect x="170.6" y="93.1" width="1.6" height="1.6" fill="#eb84a9"/><rect x="164.5" y="83.8" width="1.6" height="1.6" fill="#d684eb"/><rect x="195.9" y="77.4" width="1.6" height="1.6" fill="#a484eb"/><rect x="181.5" y="73.5" width="1.6" height="1.6" fill="#9c84eb"/><rect x="178.9" y="82.7" width="1.6" height="1.6" fill="#9beb84"/></g></g><g filter="url(#bl)"><g fill="none" stroke-width="0.45" stroke-opacity="0.28"><path d="M267.2 32L268.9 42.3M235.5 80.3L246.1 72M260.8 41L249.5 45.7M264.3 47.4L251.7 53.5M290.2 57.4L287.6 71.1M262.8 61.4L250.5 66.2M277.6 62.4L276.4 76.2M285.1 64L283.4 77.5M258.3 67.3L268.4 75.4M295.1 71.5L283.4 77.5M283.4 77.5L294.1 85.1M299.1 78.9L297.4 91.6M255.8 79.7L243.7 85.9" stroke="#f4b1a3"/><path d="M300.4 39.6L308 50.1M241.6 93.9L252.3 86M238.6 48.6L247.5 59.3M286.5 50.7L275 55.8M302.2 52.3L290.2 57.4M260.6 74.6L248.3 79M306 80L294.1 85.1M277.5 95.9L264.7 100.9" stroke="#f4a3bb"/><path d="M300.4 39.6L294.4 51.2M264.3 47.4L275 55.8M272.6 68.4L271.4 81.7" stroke="#f4a3a3"/><path d="M308 50.1L304.4 59.5M250.5 66.2L238.4 71.3M268.4 75.4L255.8 79.7M255.8 79.7L266.6 88.2" stroke="#a4f4a3"/><path d="M313 63.7L300 66M247.6 42.6L245 52.4M284.1 43.8L271.4 49.2M291.4 44.1L278.6 49.7M286.5 50.7L285.1 64M262.7 94.1L272.4 101.9" stroke="#b3f4a3"/><path d="M313 63.7L303.3 72.1M253.6 98.4L241.6 93.9M253.6 98.4L259.5 87.3M238.6 48.6L239.8 58.9M273.7 36.2L271.4 49.2M249.5 45.7L259.1 53.8M265.3 68.7L263.7 81" stroke="#f4caa3"/><path d="M312.5 78.8L308.2 67.1M241.5 78.4L252.3 86M263.7 81L262.7 94.1M266.6 88.2L264.7 100.9" stroke="#a3c3f4"/><path d="M312.5 78.8L299.1 78.9M251.7 53.5L239.8 58.9M270.4 62L268.4 75.4M293.2 65.2L290.6 77.7M274.1 88.8L285.4 96.7" stroke="#bda3f4"/><path d="M291.3 102.9L289.2 91.5M291.3 102.9L297.4 91.6M300 66L299.1 78.9M287.6 71.1L286.3 83.6M290.6 77.7L301.1 85.1M297.4 91.6L285.4 96.7" stroke="#a3f4b0"/><path d="M279.3 106.8L267.2 106M247.6 42.6L260.8 41M280.9 37.2L291.4 44.1M262.8 61.4L260.6 74.6M277.6 62.4L287.6 71.1M258.3 67.3L255.8 79.7M295.1 71.5L294.1 85.1M260.6 74.6L259.5 87.3" stroke="#daf4a3"/><path d="M267.2 106L270 95.1M284.1 43.8L282.2 57.1M286.5 50.7L296.7 58.7M304.4 59.5L293.2 65.2M303.3 72.1L301.1 85.1" stroke="#f4a3d4"/><path d="M233.4 62.2L238.4 71.3M288 37.2L286.5 50.7M271.4 49.2L259.1 53.8M282.2 57.1L293.2 65.2" stroke="#a3e6f4"/><path d="M238.6 48.6L249.5 45.7M260.6 74.6L271.4 81.7M278.6 82.9L266.6 88.2M266.6 88.2L255.1 93.8" stroke="#f4a3ec"/><path d="M260.8 41L271.4 49.2M259.1 53.8L247.5 59.3M285.1 64L272.6 68.4M293.2 65.2L280.1 70.1M271.4 81.7L270 95.1" stroke="#f4e7a3"/><path d="M268.9 42.3L278.6 49.7M282.2 57.1L280.1 70.1M296.7 58.7L285.1 64M295.1 71.5L306 80M290.6 77.7L278.6 82.9M248.3 79L259.5 87.3M278.6 82.9L289.2 91.5" stroke="#e4a3f4"/><path d="M268.9 42.3L267.5 54.5M282.2 57.1L270.4 62M255.2 59.8L242.9 65" stroke="#a3a6f4"/><path d="M249.5 45.7L247.5 59.3M271.4 81.7L281.9 89.4" stroke="#a3f4f4"/><path d="M251.7 53.5L262.8 61.4M275 55.8L285.1 64M303.3 72.1L290.6 77.7" stroke="#cba3f4"/><path d="M267.5 54.5L277.6 62.4M239.8 58.9L250.5 66.2M308.2 67.1L306 80M242.9 65L253.1 72.8M276.4 76.2L274.1 88.8M286.3 83.6L274.1 88.8" stroke="#a3f4dc"/></g><g fill="none" stroke-width="0.45" stroke-opacity="0.5"><path d="M258.2 34.4L267.2 32M312.5 78.8L306 80M267.2 106L272.4 101.9M235.5 80.3L241.5 78.4M271.4 49.2L278.6 49.7M245 52.4L251.7 53.5M282.2 57.1L290.2 57.4M247.5 59.3L242.9 65M303.3 72.1L299.1 78.9M246.1 72L248.3 79M299.1 78.9L301.1 85.1M306 80L301.1 85.1M266.6 88.2L262.7 94.1M235.5 80.3L233.4 62.2M238.6 48.6L247.6 42.6" stroke="#b3f4a3"/><path d="M258.2 34.4L260.8 41M259.1 53.8L255.2 59.8M275 55.8L277.6 62.4M300 66L308.2 67.1M303.3 72.1L306 80M278.6 82.9L281.9 89.4M294.1 85.1L289.2 91.5M266.6 88.2L274.1 88.8" stroke="#a3f4b0"/><path d="M267.2 32L273.7 36.2M313 63.7L308.2 67.1M238.6 48.6L245 52.4M273.7 36.2L268.9 42.3M288 37.2L284.1 43.8M268.9 42.3L264.3 47.4M276.4 43.3L278.6 49.7M282.2 57.1L285.1 64M239.8 58.9L247.5 59.3M277.6 62.4L285.1 64M258.3 67.3L260.6 74.6M295.1 71.5L303.3 72.1M271.4 81.7L274.1 88.8M267.2 106L253.6 98.4" stroke="#a3e6f4"/><path d="M286.8 30.5L280.9 37.2M306.4 92.4L301.1 85.1M291.4 44.1L298.8 45.9M304.4 59.5L300 66M270.4 62L265.3 68.7M293.2 65.2L300 66M272.6 68.4L280.1 70.1M287.6 71.1L295.1 71.5M260.6 74.6L268.4 75.4M276.4 76.2L283.4 77.5M290.6 77.7L294.1 85.1M263.7 81L259.5 87.3M297.4 91.6L292.6 97.3M313 63.7L312.5 78.8" stroke="#bda3f4"/><path d="M286.8 30.5L288 37.2M280.9 37.2L288 37.2M256.5 46.8L259.1 53.8M267.5 54.5L275 55.8M296.7 58.7L300 66M247.5 59.3L250.5 66.2M253.1 72.8L248.3 79M283.4 77.5L290.6 77.7M248.3 79L243.7 85.9M271.4 81.7L266.6 88.2M281.9 89.4L285.4 96.7M279.3 106.8L267.2 106M247.6 42.6L258.2 34.4" stroke="#a3f4f4"/><path d="M300.4 39.6L298.8 45.9M308 50.1L302.2 52.3M251.7 53.5L259.1 53.8M259.1 53.8L262.8 61.4M304.4 59.5L308.2 67.1M258.3 67.3L253.1 72.8M272.6 68.4L276.4 76.2M260.6 74.6L255.8 79.7M263.7 81L271.4 81.7M278.6 82.9L274.1 88.8M301.1 85.1L297.4 91.6M289.2 91.5L297.4 91.6" stroke="#f4a3bb"/><path d="M313 63.7L304.4 59.5M306.4 92.4L297.4 91.6M276.4 43.3L284.1 43.8M284.1 43.8L278.6 49.7M284.1 43.8L286.5 50.7M256.5 46.8L251.7 53.5M264.3 47.4L271.4 49.2M264.3 47.4L259.1 53.8M264.3 47.4L267.5 54.5M278.6 49.7L286.5 50.7M302.2 52.3L304.4 59.5M275 55.8L282.2 57.1M290.2 57.4L285.1 64M250.5 66.2L246.1 72M260.6 74.6L263.7 81M241.5 78.4L248.3 79M294.1 85.1L301.1 85.1" stroke="#cba3f4"/><path d="M291.3 102.9L285.4 96.7M268.9 42.3L271.4 49.2M284.1 43.8L291.4 44.1M286.5 50.7L294.4 51.2M262.8 61.4L270.4 62M242.9 65L246.1 72M250.5 66.2L253.1 72.8M299.1 78.9L294.1 85.1M255.1 93.8L262.7 94.1M286.8 30.5L300.4 39.6" stroke="#f4caa3"/><path d="M291.3 102.9L292.6 97.3M278.6 49.7L275 55.8M286.5 50.7L290.2 57.4M282.2 57.1L277.6 62.4M242.9 65L250.5 66.2M242.9 65L238.4 71.3M265.3 68.7L268.4 75.4M238.4 71.3L241.5 78.4M248.3 79L255.8 79.7M286.3 83.6L289.2 91.5M289.2 91.5L285.4 96.7M262.7 94.1L270 95.1M267.2 32L286.8 30.5M312.5 78.8L306.4 92.4" stroke="#f4a3a3"/><path d="M279.3 106.8L272.4 101.9M267.2 106L264.7 100.9M249.5 45.7L251.7 53.5M290.2 57.4L296.7 58.7M290.2 57.4L293.2 65.2M285.1 64L293.2 65.2M250.5 66.2L258.3 67.3M258.3 67.3L265.3 68.7M238.4 71.3L246.1 72M253.1 72.8L255.8 79.7M241.5 78.4L243.7 85.9M263.7 81L266.6 88.2M271.4 81.7L278.6 82.9M286.3 83.6L281.9 89.4M274.1 88.8L281.9 89.4M274.1 88.8L277.5 95.9M262.7 94.1L264.7 100.9" stroke="#f4b1a3"/><path d="M253.6 98.4L255.1 93.8M288 37.2L291.4 44.1M260.8 41L264.3 47.4M298.8 45.9L302.2 52.3M251.7 53.5L255.2 59.8M262.8 61.4L258.3 67.3M280.1 70.1L283.4 77.5M268.4 75.4L276.4 76.2M255.8 79.7L263.7 81M255.8 79.7L259.5 87.3M277.5 95.9L272.4 101.9M285.4 96.7L292.6 97.3M241.6 93.9L235.5 80.3" stroke="#e4a3f4"/><path d="M241.6 93.9L243.7 85.9M233.4 62.2L239.8 58.9M260.8 41L256.5 46.8M249.5 45.7L256.5 46.8M239.8 58.9L242.9 65M246.1 72L241.5 78.4M255.8 79.7L252.3 86M281.9 89.4L289.2 91.5M270 95.1L277.5 95.9" stroke="#f4a3d4"/><path d="M235.5 80.3L238.4 71.3M291.4 44.1L294.4 51.2M294.4 51.2L296.7 58.7M255.2 59.8L262.8 61.4M270.4 62L277.6 62.4M270.4 62L272.6 68.4M272.6 68.4L268.4 75.4M280.1 70.1L276.4 76.2M295.1 71.5L290.6 77.7M276.4 76.2L278.6 82.9M290.6 77.7L299.1 78.9M248.3 79L252.3 86M294.1 85.1L297.4 91.6M308 50.1L313 63.7" stroke="#daf4a3"/><path d="M247.6 42.6L249.5 45.7M273.7 36.2L280.9 37.2M273.7 36.2L276.4 43.3M278.6 49.7L282.2 57.1M302.2 52.3L296.7 58.7M245 52.4L247.5 59.3M267.5 54.5L262.8 61.4M296.7 58.7L304.4 59.5M247.5 59.3L255.2 59.8M255.2 59.8L258.3 67.3M262.8 61.4L265.3 68.7M277.6 62.4L280.1 70.1M285.1 64L287.6 71.1M293.2 65.2L287.6 71.1M308.2 67.1L303.3 72.1M265.3 68.7L272.6 68.4M268.4 75.4L263.7 81M283.4 77.5L286.3 83.6M299.1 78.9L306 80M243.7 85.9L252.3 86M252.3 86L255.1 93.8M289.2 91.5L292.6 97.3M264.7 100.9L272.4 101.9M258.2 34.4L267.2 32M300.4 39.6L308 50.1M291.3 102.9L279.3 106.8" stroke="#f4e7a3"/><path d="M247.6 42.6L256.5 46.8M280.9 37.2L284.1 43.8M260.8 41L268.9 42.3M293.2 65.2L295.1 71.5M265.3 68.7L260.6 74.6M287.6 71.1L290.6 77.7M295.1 71.5L299.1 78.9M290.6 77.7L286.3 83.6M286.3 83.6L294.1 85.1M266.6 88.2L270 95.1" stroke="#f4a3ec"/><path d="M280.9 37.2L276.4 43.3M276.4 43.3L271.4 49.2M271.4 49.2L275 55.8M300 66L303.3 72.1M276.4 76.2L271.4 81.7M283.4 77.5L278.6 82.9M252.3 86L259.5 87.3M270 95.1L264.7 100.9" stroke="#a3f4dc"/><path d="M268.9 42.3L276.4 43.3M286.5 50.7L282.2 57.1M294.4 51.2L302.2 52.3M259.1 53.8L267.5 54.5M275 55.8L270.4 62M285.1 64L280.1 70.1M300 66L295.1 71.5M274.1 88.8L270 95.1M233.4 62.2L238.6 48.6" stroke="#a3c3f4"/><path d="M291.4 44.1L286.5 50.7M271.4 49.2L267.5 54.5M245 52.4L239.8 58.9M251.7 53.5L247.5 59.3M267.5 54.5L270.4 62M277.6 62.4L272.6 68.4M287.6 71.1L283.4 77.5M246.1 72L253.1 72.8M253.1 72.8L260.6 74.6M268.4 75.4L271.4 81.7M259.5 87.3L266.6 88.2M259.5 87.3L262.7 94.1M306.4 92.4L291.3 102.9M253.6 98.4L241.6 93.9" stroke="#a4f4a3"/><path d="M298.8 45.9L294.4 51.2M249.5 45.7L245 52.4M256.5 46.8L264.3 47.4M294.4 51.2L290.2 57.4M296.7 58.7L293.2 65.2M255.2 59.8L250.5 66.2M280.1 70.1L287.6 71.1M278.6 82.9L286.3 83.6M259.5 87.3L255.1 93.8M281.9 89.4L277.5 95.9M270 95.1L272.4 101.9M277.5 95.9L285.4 96.7" stroke="#a3a6f4"/></g><g><rect x="257.3" y="33.5" width="1.7" height="1.7" fill="#7299e8"/><rect x="266.3" y="31.1" width="1.7" height="1.7" fill="#7274e8"/><rect x="285.9" y="29.6" width="1.7" height="1.7" fill="#729ce8"/><rect x="299.5" y="38.8" width="1.7" height="1.7" fill="#7282e8"/><rect x="307.1" y="49.2" width="1.7" height="1.7" fill="#e872dd"/><rect x="312.1" y="62.9" width="1.7" height="1.7" fill="#bee872"/><rect x="311.6" y="78" width="1.7" height="1.7" fill="#e8a372"/><rect x="305.5" y="91.6" width="1.7" height="1.7" fill="#e872d9"/><rect x="290.4" y="102.1" width="1.7" height="1.7" fill="#e8a172"/><rect x="278.4" y="106" width="1.7" height="1.7" fill="#e87279"/><rect x="266.3" y="105.2" width="1.7" height="1.7" fill="#72a7e8"/><rect x="252.8" y="97.6" width="1.7" height="1.7" fill="#72d2e8"/><rect x="240.8" y="93.1" width="1.7" height="1.7" fill="#e87d72"/><rect x="234.7" y="79.5" width="1.7" height="1.7" fill="#86e872"/><rect x="232.6" y="61.4" width="1.7" height="1.7" fill="#a972e8"/><rect x="237.8" y="47.8" width="1.7" height="1.7" fill="#e8a672"/><rect x="246.8" y="41.8" width="1.7" height="1.7" fill="#72e2e8"/><rect x="272.8" y="35.4" width="1.7" height="1.7" fill="#8fe872"/><rect x="280.1" y="36.4" width="1.7" height="1.7" fill="#ba72e8"/><rect x="287.1" y="36.4" width="1.7" height="1.7" fill="#92e872"/><rect x="259.9" y="40.2" width="1.7" height="1.7" fill="#e872db"/><rect x="268.1" y="41.4" width="1.7" height="1.7" fill="#e872b6"/><rect x="275.6" y="42.4" width="1.7" height="1.7" fill="#72ace8"/><rect x="283.2" y="43" width="1.7" height="1.7" fill="#e872bd"/><rect x="290.6" y="43.3" width="1.7" height="1.7" fill="#c3e872"/><rect x="297.9" y="45" width="1.7" height="1.7" fill="#93e872"/><rect x="248.6" y="44.8" width="1.7" height="1.7" fill="#cce872"/><rect x="255.7" y="45.9" width="1.7" height="1.7" fill="#72e8dc"/><rect x="263.5" y="46.6" width="1.7" height="1.7" fill="#e87273"/><rect x="270.6" y="48.4" width="1.7" height="1.7" fill="#72d8e8"/><rect x="277.7" y="48.9" width="1.7" height="1.7" fill="#ad72e8"/><rect x="285.6" y="49.9" width="1.7" height="1.7" fill="#cc72e8"/><rect x="293.5" y="50.3" width="1.7" height="1.7" fill="#72cae8"/><rect x="301.4" y="51.5" width="1.7" height="1.7" fill="#c8e872"/><rect x="244.1" y="51.6" width="1.7" height="1.7" fill="#72e8e6"/><rect x="250.9" y="52.7" width="1.7" height="1.7" fill="#9c72e8"/><rect x="258.3" y="52.9" width="1.7" height="1.7" fill="#e872e6"/><rect x="266.7" y="53.6" width="1.7" height="1.7" fill="#e872b6"/><rect x="274.2" y="55" width="1.7" height="1.7" fill="#72e8c3"/><rect x="281.4" y="56.2" width="1.7" height="1.7" fill="#e872ae"/><rect x="289.3" y="56.6" width="1.7" height="1.7" fill="#e87672"/><rect x="295.9" y="57.8" width="1.7" height="1.7" fill="#c672e8"/><rect x="303.6" y="58.6" width="1.7" height="1.7" fill="#e872d5"/><rect x="238.9" y="58" width="1.7" height="1.7" fill="#7280e8"/><rect x="246.6" y="58.5" width="1.7" height="1.7" fill="#7296e8"/><rect x="254.3" y="59" width="1.7" height="1.7" fill="#e87372"/><rect x="262" y="60.6" width="1.7" height="1.7" fill="#a672e8"/><rect x="269.5" y="61.1" width="1.7" height="1.7" fill="#a072e8"/><rect x="276.8" y="61.6" width="1.7" height="1.7" fill="#9a72e8"/><rect x="284.2" y="63.2" width="1.7" height="1.7" fill="#7296e8"/><rect x="292.3" y="64.4" width="1.7" height="1.7" fill="#72aae8"/><rect x="299.2" y="65.1" width="1.7" height="1.7" fill="#8f72e8"/><rect x="307.3" y="66.3" width="1.7" height="1.7" fill="#7ee872"/><rect x="242.1" y="64.1" width="1.7" height="1.7" fill="#e87e72"/><rect x="249.7" y="65.3" width="1.7" height="1.7" fill="#c5e872"/><rect x="257.4" y="66.4" width="1.7" height="1.7" fill="#72e888"/><rect x="264.5" y="67.8" width="1.7" height="1.7" fill="#a172e8"/><rect x="271.8" y="67.6" width="1.7" height="1.7" fill="#72aee8"/><rect x="279.2" y="69.3" width="1.7" height="1.7" fill="#e8ce72"/><rect x="286.7" y="70.3" width="1.7" height="1.7" fill="#c4e872"/><rect x="294.3" y="70.6" width="1.7" height="1.7" fill="#e87293"/><rect x="302.5" y="71.2" width="1.7" height="1.7" fill="#8be872"/><rect x="237.5" y="70.4" width="1.7" height="1.7" fill="#e8d172"/><rect x="245.3" y="71.2" width="1.7" height="1.7" fill="#77e872"/><rect x="252.2" y="71.9" width="1.7" height="1.7" fill="#86e872"/><rect x="259.7" y="73.7" width="1.7" height="1.7" fill="#7fe872"/><rect x="267.6" y="74.5" width="1.7" height="1.7" fill="#e872b7"/><rect x="275.6" y="75.3" width="1.7" height="1.7" fill="#98e872"/><rect x="282.5" y="76.6" width="1.7" height="1.7" fill="#72e892"/><rect x="289.7" y="76.9" width="1.7" height="1.7" fill="#e87b72"/><rect x="298.2" y="78.1" width="1.7" height="1.7" fill="#e872b5"/><rect x="305.1" y="79.2" width="1.7" height="1.7" fill="#e8ae72"/><rect x="240.6" y="77.5" width="1.7" height="1.7" fill="#e872d0"/><rect x="247.4" y="78.1" width="1.7" height="1.7" fill="#c972e8"/><rect x="254.9" y="78.9" width="1.7" height="1.7" fill="#72dfe8"/><rect x="262.9" y="80.2" width="1.7" height="1.7" fill="#e87278"/><rect x="270.5" y="80.9" width="1.7" height="1.7" fill="#a272e8"/><rect x="277.8" y="82.1" width="1.7" height="1.7" fill="#da72e8"/><rect x="285.4" y="82.7" width="1.7" height="1.7" fill="#9b72e8"/><rect x="293.2" y="84.3" width="1.7" height="1.7" fill="#e89172"/><rect x="300.2" y="84.3" width="1.7" height="1.7" fill="#e87276"/><rect x="242.8" y="85.1" width="1.7" height="1.7" fill="#dd72e8"/><rect x="251.5" y="85.2" width="1.7" height="1.7" fill="#e87772"/><rect x="258.7" y="86.5" width="1.7" height="1.7" fill="#e87272"/><rect x="265.7" y="87.3" width="1.7" height="1.7" fill="#72a4e8"/><rect x="273.3" y="87.9" width="1.7" height="1.7" fill="#72a6e8"/><rect x="281" y="88.6" width="1.7" height="1.7" fill="#a472e8"/><rect x="288.3" y="90.6" width="1.7" height="1.7" fill="#72e8c7"/><rect x="296.5" y="90.7" width="1.7" height="1.7" fill="#72d3e8"/><rect x="254.3" y="92.9" width="1.7" height="1.7" fill="#cee872"/><rect x="261.9" y="93.2" width="1.7" height="1.7" fill="#72e8e0"/><rect x="269.2" y="94.3" width="1.7" height="1.7" fill="#9f72e8"/><rect x="276.6" y="95.1" width="1.7" height="1.7" fill="#72e88b"/><rect x="284.5" y="95.9" width="1.7" height="1.7" fill="#e8b672"/><rect x="291.7" y="96.5" width="1.7" height="1.7" fill="#b872e8"/><rect x="263.9" y="100" width="1.7" height="1.7" fill="#e872c0"/><rect x="271.5" y="101.1" width="1.7" height="1.7" fill="#7ce872"/></g></g><g filter="url(#bl)"><g fill="none" stroke-width="0.3" stroke-opacity="0.15"><path d="M336.9 89.2L336.6 92.4M345 64.2L347.8 65.8M340.4 64.4L337.1 65.1M344.4 80.1L343.3 83.9M331.1 73.9L329.9 70M349.9 89.2L352.6 85.3M347.9 82.3L346 86.4M348.5 93L346.4 90M338.1 74.2L336.4 71M362.1 86.6L366.9 87.4M362.9 83.5L366.5 79.1M332.4 82L334.6 86.7M345 64.2L340.4 64.4M353.4 90.4L351 95.5M328.9 77.1L332.5 78.7M356.9 98.7L356.1 93.3M332.4 82L329 80.7M359.5 68.1L362.4 66.7" stroke="#a3f4f4"/><path d="M362.7 74.8L363.4 70M329 80.7L328.9 77.1M336.9 89.2L340 88.1M340 88.1L336.6 83.6M356.1 93.3L356.4 88.4M347.9 82.3L350.8 79.8M356.9 85L356.4 88.4M352.6 85.3L356.4 88.4M343.6 92.8L340.6 91.2M340 88.1L340.6 91.2M339.5 69.4L340.4 64.4M367.2 72.7L366 75.7M348.4 69L347.8 65.8M367.2 72.7L362.7 74.8M366.5 83.4L371.8 81M343 74.3L338.1 74.2M334.8 73.9L333.2 70.8" stroke="#a3f4dc"/><path d="M356.9 85L360.1 89.8M343.6 92.8L338.5 95.2M356.9 98.7L355.1 101.8M338.1 74.2L334.8 73.9M340 84L340.9 80.6M370.5 76.7L366.5 79.1M343 74.3L344.5 69.8M338.1 74.2L340.3 77.4M348.2 97.1L345.6 99.6M359.5 68.1L363.4 70M353.8 81.2L358.8 81.8M344.5 69.8L347.8 65.8M336.9 89.2L340.6 91.2M360.5 96.1L361.9 99.5" stroke="#a4f4a3"/><path d="M340 88.1L343.3 83.9M366.5 83.4L371.1 84.3M359.5 68.1L356.6 64.4M332.4 82L336.6 83.6M371.1 84.3L371.8 81M356.9 98.7L359.1 102.2M346.7 78L350.8 79.8M334.8 73.9L332.5 78.7M346.4 90L343.3 88.7M339.5 69.4L342.9 67M329 80.7L329.3 85.9" stroke="#bda3f4"/><path d="M362.1 86.6L356.9 85M332.4 82L335.7 77.8M361.7 79.9L362.9 83.5M360.5 96.1L356.1 93.3M348.2 97.1L345.1 95.9M352.8 76.8L357.6 77.8M331.1 73.9L328.9 77.1M352.8 76.8L353.8 71.5M331.1 73.9L332.5 78.7M366 75.7L370.5 76.7M340.9 80.6L343.3 83.9M371.1 84.3L366.9 87.4M345 64.2L342.9 67M344.4 80.1L347.9 82.3M338.5 95.2L340.6 91.2" stroke="#a3c3f4"/><path d="M345 64.2L348 62.2M339.5 69.4L336.4 71M353.8 81.2L356.9 85M352.8 76.8L356.4 74.6M353.8 71.5L357.2 70.6M362.7 74.8L366 75.7M360.1 89.8L362.2 92.5M353.8 71.5L350.3 71.5M339.5 69.4L337.1 65.1M335.7 77.8L332.5 78.7M352.6 85.3L353.4 90.4M362.1 86.6L360.1 89.8M345.6 99.6L345.1 95.9M362.1 86.6L358.8 81.8M353.4 90.4L356.1 93.3M356.9 98.7L354 96.6M348.6 74.6L348.4 69M335.1 67.6L337.1 65.1M351 65L354.1 67.4M357.6 77.8L362.7 74.8M353.4 90.4L356.4 88.4M362.9 83.5L366.5 83.4M351 65L347.8 65.8" stroke="#a3e6f4"/><path d="M342.9 67L347.8 65.8M334.6 86.7L336.6 83.6M370.5 76.7L371.8 81M335.7 77.8L340.9 80.6M343.3 88.7L343.3 83.9M356.1 93.3L351 95.5M365.3 91.7L362.2 92.5M361.7 79.9L357.6 77.8M332.3 92.7L336.6 92.4M335.1 67.6L333.2 70.8M344.5 69.8L342.9 67M343 74.3L339.5 69.4M367.2 72.7L370.5 76.7M342.5 98.3L345.1 95.9M362.9 83.5L366.9 87.4M366.5 79.1L371.8 81M340.6 91.2L336.6 92.4" stroke="#a3f4b0"/><path d="M346 86.4L343.3 88.7M352.6 85.3L353.8 81.2M336.6 83.6L335.7 77.8M352.6 85.3L356.9 85M336.9 89.2L332.3 92.7M360.1 89.8L356.1 93.3M360.1 72.2L359.5 68.1M360.1 72.2L363.4 70M331.1 73.9L333.2 70.8M336.6 83.6L340.9 80.6" stroke="#daf4a3"/><path d="M356.1 93.3L354 96.6M365.3 91.7L366.9 87.4M361.9 99.5L359.1 102.2M348.5 93L345.1 95.9M353.8 71.5L356.4 74.6M366 75.7L366.5 79.1M340.3 77.4L344.4 80.1M359.5 68.1L357.2 70.6M343 74.3L340.3 77.4M347.8 65.8L348 62.2M343 74.3L348.6 74.6M348.2 97.1L351 95.5M346.7 78L344.4 80.1M356.4 74.6L357.2 70.6" stroke="#f4b1a3"/><path d="M336.9 89.2L334.6 86.7M360.5 96.1L363.8 95.4M329 80.7L332.5 78.7M340 84L343.3 83.9M330.1 89.3L329.3 85.9M357.6 77.8L356.4 74.6M353.8 81.2L350.8 79.8M355.1 101.8L354 96.6M334.6 86.7L329.3 85.9M332.4 82L329.3 85.9M349.9 89.2L353.4 90.4M363.8 95.4L362.2 92.5" stroke="#f4a3d4"/><path d="M342.5 98.3L345.6 99.6M348.5 93L343.6 92.8M360.1 72.2L357.2 70.6M338.5 95.2L336.6 92.4M333.2 70.8L329.9 70M334.8 73.9L336.4 71M340 84L336.6 83.6M348.6 74.6L346.7 78M352.8 76.8L350.8 79.8M335.1 67.6L336.4 71M361.9 99.5L356.9 98.7M340.3 77.4L340.9 80.6" stroke="#b3f4a3"/><path d="M366.5 83.4L366.9 87.4M352.8 76.8L353.8 81.2M360.5 96.1L356.9 98.7M361.9 99.5L363.8 95.4M348.5 93L351 95.5M360.1 89.8L356.4 88.4M362.1 86.6L365.3 91.7" stroke="#f4a3ec"/><path d="M343.6 92.8L346.4 90M352.6 85.3L350.8 79.8M350.3 71.5L354.1 67.4M352.6 85.3L347.9 82.3M351 65L348 62.2M365.3 91.7L360.1 89.8" stroke="#e4a3f4"/><path d="M351 95.5L354 96.6M340.3 77.4L335.7 77.8M343.6 92.8L343.3 88.7M342.5 98.3L343.6 92.8M335.1 67.6L339.5 69.4M361.7 79.9L358.8 81.8M353.8 71.5L354.1 67.4M366.9 87.4L370.1 88.1M357.6 77.8L358.8 81.8M366.5 83.4L366.5 79.1" stroke="#f4a3a3"/><path d="M334.6 86.7L330.1 89.3M356.9 85L358.8 81.8M348.6 74.6L350.8 79.8M363.4 70L362.4 66.7M348.4 69L344.5 69.8M361.7 79.9L366 75.7M357.6 77.8L353.8 81.2M348.2 97.1L351.6 100.9M332.3 92.7L330.1 89.3M346 86.4L346.4 90M348.2 97.1L348.5 93" stroke="#cba3f4"/><path d="M352.8 76.8L348.6 74.6M362.7 74.8L360.1 72.2M343 74.3L346.7 78M334.8 73.9L335.7 77.8M333.2 70.8L336.4 71M361.7 79.9L362.7 74.8M346 86.4L343.3 83.9M349.9 89.2L348.5 93M343.6 92.8L345.1 95.9M346.7 78L347.9 82.3M356.6 64.4L354.1 67.4" stroke="#f4e7a3"/><path d="M351.6 100.9L351 95.5M344.4 80.1L340.9 80.6M348.4 69L350.3 71.5M362.9 83.5L362.1 86.6M360.1 72.2L356.4 74.6M349.9 89.2L346.4 90M332.4 82L332.5 78.7M361.7 79.9L366.5 79.1M340.4 64.4L342.9 67M348.4 69L354.1 67.4M340 88.1L340 84" stroke="#f4caa3"/><path d="M359.5 68.1L354.1 67.4M351.6 100.9L354 96.6M371.1 84.3L370.1 88.1M351.6 100.9L355.1 101.8M355.1 101.8L359.1 102.2M354.1 67.4L357.2 70.6M336.9 89.2L336.6 83.6M348.6 74.6L350.3 71.5M367.2 72.7L363.4 70M342.5 98.3L338.5 95.2M338.1 74.2L335.7 77.8M362.9 83.5L358.8 81.8M348.4 69L351 65" stroke="#a3a6f4"/><path d="M348.5 93L353.4 90.4M339.5 69.4L338.1 74.2M351 65L356.6 64.4M340 88.1L343.3 88.7M334.8 73.9L331.1 73.9M335.1 67.6L329.9 70M340.6 91.2L343.3 88.7M360.5 96.1L362.2 92.5M339.5 69.4L344.5 69.8M365.3 91.7L363.8 95.4M352.8 76.8L350.3 71.5M347.9 82.3L343.3 83.9M349.9 89.2L346 86.4" stroke="#f4a3bb"/></g><g><rect x="359.6" y="95.2" width="1.8" height="1.8" fill="#85d8e9"/><rect x="336" y="88.3" width="1.8" height="1.8" fill="#e9858d"/><rect x="331.4" y="91.8" width="1.8" height="1.8" fill="#e985dd"/><rect x="347.3" y="96.2" width="1.8" height="1.8" fill="#85e995"/><rect x="350.7" y="100" width="1.8" height="1.8" fill="#85e1e9"/><rect x="360.8" y="79" width="1.8" height="1.8" fill="#a0e985"/><rect x="342.1" y="73.4" width="1.8" height="1.8" fill="#ae85e9"/><rect x="351.9" y="75.9" width="1.8" height="1.8" fill="#e98597"/><rect x="341.6" y="97.4" width="1.8" height="1.8" fill="#e98c85"/><rect x="366.3" y="71.8" width="1.8" height="1.8" fill="#9f85e9"/><rect x="361" y="98.6" width="1.8" height="1.8" fill="#85e9e4"/><rect x="331.5" y="81.1" width="1.8" height="1.8" fill="#e985e1"/><rect x="334.2" y="66.7" width="1.8" height="1.8" fill="#e985e1"/><rect x="349" y="88.3" width="1.8" height="1.8" fill="#ba85e9"/><rect x="362" y="82.6" width="1.8" height="1.8" fill="#cee985"/><rect x="339.1" y="87.2" width="1.8" height="1.8" fill="#e9b285"/><rect x="356.7" y="76.9" width="1.8" height="1.8" fill="#85dfe9"/><rect x="338.6" y="68.5" width="1.8" height="1.8" fill="#85e999"/><rect x="344.1" y="63.3" width="1.8" height="1.8" fill="#88e985"/><rect x="347.7" y="73.7" width="1.8" height="1.8" fill="#cce985"/><rect x="347.6" y="92.1" width="1.8" height="1.8" fill="#98e985"/><rect x="351.7" y="84.4" width="1.8" height="1.8" fill="#e985ca"/><rect x="345.8" y="77.1" width="1.8" height="1.8" fill="#c285e9"/><rect x="337.2" y="73.3" width="1.8" height="1.8" fill="#9be985"/><rect x="339.1" y="83.1" width="1.8" height="1.8" fill="#85a4e9"/><rect x="356" y="97.8" width="1.8" height="1.8" fill="#85e3e9"/><rect x="339.4" y="76.5" width="1.8" height="1.8" fill="#85b1e9"/><rect x="361.8" y="73.9" width="1.8" height="1.8" fill="#e99885"/><rect x="328.1" y="79.8" width="1.8" height="1.8" fill="#85dde9"/><rect x="365.6" y="82.5" width="1.8" height="1.8" fill="#e985e6"/><rect x="347.5" y="68.1" width="1.8" height="1.8" fill="#85e9c5"/><rect x="352.5" y="89.5" width="1.8" height="1.8" fill="#b485e9"/><rect x="350.1" y="64.1" width="1.8" height="1.8" fill="#8685e9"/><rect x="359.2" y="71.3" width="1.8" height="1.8" fill="#858ae9"/><rect x="365.1" y="74.8" width="1.8" height="1.8" fill="#ad85e9"/><rect x="361.2" y="85.7" width="1.8" height="1.8" fill="#e98c85"/><rect x="339.5" y="63.5" width="1.8" height="1.8" fill="#e9858e"/><rect x="352.9" y="80.3" width="1.8" height="1.8" fill="#e985aa"/><rect x="342.7" y="91.9" width="1.8" height="1.8" fill="#e99185"/><rect x="358.6" y="67.2" width="1.8" height="1.8" fill="#85e9de"/><rect x="364.4" y="90.8" width="1.8" height="1.8" fill="#a2e985"/><rect x="370.2" y="83.4" width="1.8" height="1.8" fill="#e98588"/><rect x="356" y="84.1" width="1.8" height="1.8" fill="#e985be"/><rect x="369.6" y="75.8" width="1.8" height="1.8" fill="#e98c85"/><rect x="337.6" y="94.3" width="1.8" height="1.8" fill="#e98587"/><rect x="343.5" y="79.2" width="1.8" height="1.8" fill="#95e985"/><rect x="352.9" y="70.6" width="1.8" height="1.8" fill="#85e99a"/><rect x="343.6" y="68.9" width="1.8" height="1.8" fill="#e9c085"/><rect x="359.2" y="88.9" width="1.8" height="1.8" fill="#e9b385"/><rect x="333.7" y="85.8" width="1.8" height="1.8" fill="#a785e9"/><rect x="362.5" y="69.1" width="1.8" height="1.8" fill="#bc85e9"/><rect x="347" y="81.4" width="1.8" height="1.8" fill="#85cee9"/><rect x="339.7" y="90.3" width="1.8" height="1.8" fill="#85e6e9"/><rect x="335.7" y="82.7" width="1.8" height="1.8" fill="#c185e9"/><rect x="333.9" y="73" width="1.8" height="1.8" fill="#858ce9"/><rect x="344.7" y="98.7" width="1.8" height="1.8" fill="#85e992"/><rect x="342" y="66.1" width="1.8" height="1.8" fill="#e98598"/><rect x="365.6" y="78.2" width="1.8" height="1.8" fill="#e985a6"/><rect x="330.2" y="73" width="1.8" height="1.8" fill="#858be9"/><rect x="366" y="86.5" width="1.8" height="1.8" fill="#a785e9"/><rect x="355.7" y="63.5" width="1.8" height="1.8" fill="#e9e085"/><rect x="354.2" y="100.9" width="1.8" height="1.8" fill="#cee985"/><rect x="334.8" y="76.9" width="1.8" height="1.8" fill="#85e8e9"/><rect x="332.3" y="69.9" width="1.8" height="1.8" fill="#d485e9"/><rect x="355.2" y="92.4" width="1.8" height="1.8" fill="#85ade9"/><rect x="355.5" y="73.7" width="1.8" height="1.8" fill="#9f85e9"/><rect x="350.1" y="94.6" width="1.8" height="1.8" fill="#e9e185"/><rect x="328" y="76.2" width="1.8" height="1.8" fill="#85a3e9"/><rect x="357.9" y="80.9" width="1.8" height="1.8" fill="#e985e7"/><rect x="362.9" y="94.5" width="1.8" height="1.8" fill="#e985a1"/><rect x="345.1" y="85.5" width="1.8" height="1.8" fill="#85e987"/><rect x="345.5" y="89.1" width="1.8" height="1.8" fill="#e985e4"/><rect x="369.2" y="87.2" width="1.8" height="1.8" fill="#85dce9"/><rect x="342.4" y="87.8" width="1.8" height="1.8" fill="#e9bb85"/><rect x="346.9" y="64.9" width="1.8" height="1.8" fill="#d785e9"/><rect x="349.9" y="78.9" width="1.8" height="1.8" fill="#e99085"/><rect x="340" y="79.7" width="1.8" height="1.8" fill="#85b1e9"/><rect x="349.4" y="70.6" width="1.8" height="1.8" fill="#e9e185"/><rect x="370.9" y="80.1" width="1.8" height="1.8" fill="#e985a6"/><rect x="358.2" y="101.3" width="1.8" height="1.8" fill="#c1e985"/><rect x="329.2" y="88.4" width="1.8" height="1.8" fill="#db85e9"/><rect x="353.2" y="66.5" width="1.8" height="1.8" fill="#85e996"/><rect x="336.2" y="64.2" width="1.8" height="1.8" fill="#e9859d"/><rect x="328.4" y="85" width="1.8" height="1.8" fill="#85e99e"/><rect x="356.3" y="69.7" width="1.8" height="1.8" fill="#e9db85"/><rect x="335.5" y="70.1" width="1.8" height="1.8" fill="#ad85e9"/><rect x="335.7" y="91.5" width="1.8" height="1.8" fill="#8fe985"/><rect x="353.1" y="95.7" width="1.8" height="1.8" fill="#85b4e9"/><rect x="329" y="69.1" width="1.8" height="1.8" fill="#96e985"/><rect x="331.6" y="77.8" width="1.8" height="1.8" fill="#9ce985"/><rect x="347.1" y="61.3" width="1.8" height="1.8" fill="#e985e2"/><rect x="355.5" y="87.5" width="1.8" height="1.8" fill="#e9b185"/><rect x="344.2" y="95" width="1.8" height="1.8" fill="#e985e9"/><rect x="361.3" y="91.6" width="1.8" height="1.8" fill="#ce85e9"/><rect x="342.4" y="83" width="1.8" height="1.8" fill="#e98e85"/><rect x="361.5" y="65.8" width="1.8" height="1.8" fill="#85aae9"/></g></g><polyline fill="none" stroke="#d6433b" stroke-width="1.55" stroke-linejoin="round" stroke-linecap="round" points="64.5,70.5 65.9,72.3 67.4,74.6 68.8,77.5 70.3,80.5 71.7,83.5 73.1,86.4 74.6,89.3 76,91.9 77.4,94.5 78.9,97.2 80.3,100 81.8,102.5 83.2,104.7 84.6,106.8 86.1,108.5 87.5,109.9 88.9,111 90.4,111.7 91.8,112.3 93.3,112.8 94.7,113.1 96.1,113.4 97.6,113.6 99,113.7 100.5,113.9 101.9,114 103.3,114 104.8,114 106.2,113.9 107.6,113.9 109.1,113.8 110.5,113.8 112,113.8 113.4,113.8 114.8,113.8 116.3,113.8 117.7,113.8 119.2,113.8 120.6,113.8 122,113.8 123.5,113.8 124.9,113.8 126.3,113.9 127.8,113.9 129.2,113.9 130.7,113.9 132.1,113.9 133.5,113.9 135,113.9 136.4,113.9 137.8,113.9 139.3,113.9 140.7,114 142.2,114 143.6,114 145,114 146.5,114 147.9,114 149.4,114 150.8,114.1 152.2,114.1 153.7,114.1 155.1,114.1 156.5,114.1 158,114.1 159.4,114.2 160.9,114.2 162.3,114.2 163.7,114.2 165.2,114.2 166.6,114.3 168.1,114.3 169.5,114.3 170.9,114.4 172.4,114.4 173.8,114.4 175.2,114.4 176.7,114.5 178.1,114.5 179.6,114.5 181,114.6 182.4,114.6 183.9,114.6 185.3,114.7 186.7,114.7 188.2,114.7 189.6,114.7 191.1,114.8 192.5,114.8"/><polyline fill="none" stroke="#36c2d0" stroke-width="1.45" stroke-linejoin="round" stroke-linecap="round" points="232.9,119.1 234.3,119.1 235.8,119.1 237.2,119.1 238.7,119.1 240.1,119.2 241.5,119.2 243,119.2 244.4,119.2 245.9,119.2 247.3,119.2 248.8,119.3 250.2,119.3 251.6,119.3 253.1,119.3 254.5,119.4 256,119.5 257.4,119.6 258.8,119.8 260.3,119.9 261.7,120 263.2,120 264.6,120 266.1,120.1 267.5,120.1 268.9,120.1 270.4,120.1 271.8,120.1 273.3,120.2 274.7,120.2 276.1,120.2 277.6,120.2 279,120.2 280.5,120.2 281.9,120.2 283.4,120.2 284.8,120.2 286.2,120.2 287.7,120.3 289.1,120.3 290.6,120.3 292,120.3 293.4,120.3 294.9,120.3 296.3,120.3 297.8,120.3 299.2,120.3 300.7,120.3 302.1,120.3 303.5,120.3 305,120.3 306.4,120.3 307.9,120.3 309.3,120.3 310.7,120.3 312.2,120.3 313.6,120.3 315.1,120.4 316.5,120.4 318,120.4 319.4,120.4 320.8,120.4 322.3,120.4 323.7,120.4 325.2,120.4 326.6,120.4 328,120.4 329.5,120.4 330.9,120.4 332.4,120.4 333.8,120.4 335.3,120.4 336.7,120.4 338.1,120.4 339.6,120.4 341,120.4 342.5,120.4 343.9,120.4 345.3,120.4 346.8,120.4 348.2,120.4 349.7,120.4 351.1,120.4 352.6,120.4 354,120.4 355.4,120.4 356.9,120.4 358.3,120.4 359.8,120.4 361.2,120.4"/><polyline fill="none" stroke="#64d22c" stroke-width="1.9" stroke-linejoin="round" stroke-linecap="round" points="64.4,152.3 65.8,157.4 67.3,162.7 68.7,168.3 70.2,174.1 71.6,180.2 73,185.9 74.5,191.1 75.9,195.7 77.4,200.1 78.8,204 80.2,207.2 81.7,209.7 83.1,212 84.6,213.9 86,215.6 87.4,217.1 88.9,218.5 90.3,219.6 91.7,220.5 93.2,221.2 94.6,221.9 96.1,222.3 97.5,222.6 98.9,222.8 100.4,222.9 101.8,223 103.3,223 104.7,223.1 106.1,223.2 107.6,223.2 109,223.3 110.5,223.4 111.9,223.5 113.3,223.5 114.8,223.6 116.2,223.7 117.7,223.7 119.1,223.8 120.5,223.8 122,223.9 123.4,224 124.9,224 126.3,224.1 127.7,224.1 129.2,224.2 130.6,224.3 132,224.3 133.5,224.4 134.9,224.4 136.4,224.5 137.8,224.5 139.2,224.6 140.7,224.7 142.1,224.7 143.6,224.8 145,224.8 146.4,224.9 147.9,225 149.3,225 150.8,225.1 152.2,225.2 153.6,225.2 155.1,225.3 156.5,225.4 158,225.4 159.4,225.5 160.8,225.6 162.3,225.6 163.7,225.7 165.2,225.7 166.6,225.8 168,225.9 169.5,225.9 170.9,226 172.3,226.1 173.8,226.1 175.2,226.2 176.7,226.3 178.1,226.3 179.5,226.4 181,226.5 182.4,226.5 183.9,226.6 185.3,226.7 186.7,226.7 188.2,226.8 189.6,226.9 191.1,226.9 192.5,227"/><polyline fill="none" stroke="#8630d6" stroke-width="1.9" stroke-linejoin="round" stroke-linecap="round" points="233.2,152.3 234.6,155.8 236.1,159.4 237.5,163.9 239,169.1 240.4,174 241.8,178.5 243.3,182.6 244.7,186.4 246.1,189.8 247.6,193.1 249,196.1 250.5,198.8 251.9,201.1 253.3,203.1 254.8,204.9 256.2,206.4 257.6,207.8 259.1,209 260.5,210.1 262,210.8 263.4,211.2 264.8,211.5 266.3,211.8 267.7,212 269.2,212.1 270.6,212.2 272,212.2 273.5,212.2 274.9,212.2 276.3,212.1 277.8,212.1 279.2,212 280.7,211.9 282.1,211.9 283.5,211.8 285,211.7 286.4,211.7 287.9,211.6 289.3,211.6 290.7,211.5 292.2,211.5 293.6,211.4 295,211.4 296.5,211.4 297.9,211.4 299.4,211.4 300.8,211.4 302.2,211.5 303.7,211.5 305.1,211.6 306.5,211.6 308,211.7 309.4,211.8 310.9,211.8 312.3,211.9 313.7,212 315.2,212.1 316.6,212.1 318.1,212.2 319.5,212.3 320.9,212.4 322.4,212.4 323.8,212.5 325.2,212.6 326.7,212.6 328.1,212.7 329.6,212.7 331,212.8 332.4,212.8 333.9,212.8 335.3,212.8 336.8,212.8 338.2,212.8 339.6,212.7 341.1,212.6 342.5,212.6 343.9,212.5 345.4,212.4 346.8,212.3 348.3,212.2 349.7,212.1 351.1,212 352.6,211.8 354,211.7 355.4,211.6 356.9,211.5 358.3,211.4 359.8,211.3 361.2,211.2"/><line x1="81.2" y1="63.5" x2="69.8" y2="67.6" stroke="#7a7a7a" stroke-width="1.1" stroke-dasharray="2.6 2.2"/><polygon points="64.9,69.4 69,65.6 70.5,69.7" fill="#ababab" stroke="#8e8e8e" stroke-width="0.5"/><line x1="188.6" y1="98" x2="191.2" y2="106.7" stroke="#7a7a7a" stroke-width="1.1" stroke-dasharray="2.6 2.2"/><polygon points="192.7,111.7 189.1,107.3 193.3,106.1" fill="#ababab" stroke="#8e8e8e" stroke-width="0.5"/><line x1="251" y1="103" x2="237.1" y2="113.8" stroke="#7a7a7a" stroke-width="1.1" stroke-dasharray="2.6 2.2"/><polygon points="233,117 235.8,112.1 238.5,115.5" fill="#ababab" stroke="#8e8e8e" stroke-width="0.5"/><line x1="353.6" y1="103.3" x2="358.1" y2="113.2" stroke="#7a7a7a" stroke-width="1.1" stroke-dasharray="2.6 2.2"/><polygon points="360.3,117.9 356.1,114.1 360.1,112.3" fill="#ababab" stroke="#8e8e8e" stroke-width="0.5"/><g><line x1="58.5" y1="40" x2="58.5" y2="133.1" stroke="#111" stroke-width="1.2"/><line x1="55.1" y1="132.5" x2="199" y2="132.5" stroke="#111" stroke-width="1.2"/><line x1="55.1" y1="52.5" x2="58.5" y2="52.5" stroke="#222" stroke-width="1.1"/><line x1="55.1" y1="92.5" x2="58.5" y2="92.5" stroke="#222" stroke-width="1.1"/><line x1="64.5" y1="132.5" x2="64.5" y2="135.5" stroke="#333" stroke-width="1.1"/><line x1="115.5" y1="132.5" x2="115.5" y2="135.5" stroke="#333" stroke-width="1.1"/><line x1="166.6" y1="132.5" x2="166.6" y2="135.5" stroke="#333" stroke-width="1.1"/></g><g><line x1="227" y1="40" x2="227" y2="133.1" stroke="#3a3a3a" stroke-width="1.8"/><line x1="223.6" y1="132.5" x2="367.5" y2="132.5" stroke="#111" stroke-width="1.2"/><line x1="223.6" y1="52.5" x2="227" y2="52.5" stroke="#222" stroke-width="1.1"/><line x1="223.6" y1="92.5" x2="227" y2="92.5" stroke="#222" stroke-width="1.1"/><line x1="232.8" y1="132.5" x2="232.8" y2="135.5" stroke="#333" stroke-width="1.1"/><line x1="284.1" y1="132.5" x2="284.1" y2="135.5" stroke="#333" stroke-width="1.1"/><line x1="335.4" y1="132.5" x2="335.4" y2="135.5" stroke="#333" stroke-width="1.1"/></g><g><line x1="58.5" y1="150.7" x2="58.5" y2="243.9" stroke="#111" stroke-width="1.2"/><line x1="55.1" y1="243" x2="199" y2="243" stroke="#3a3a3a" stroke-width="1.8"/><line x1="55.1" y1="150.7" x2="58.5" y2="150.7" stroke="#222" stroke-width="1.1"/><line x1="55.1" y1="196.7" x2="58.5" y2="196.7" stroke="#222" stroke-width="1.1"/><line x1="64.5" y1="243" x2="64.5" y2="246" stroke="#333" stroke-width="1.1"/><line x1="115.5" y1="243" x2="115.5" y2="246" stroke="#333" stroke-width="1.1"/><line x1="166.6" y1="243" x2="166.6" y2="246" stroke="#333" stroke-width="1.1"/></g><g><line x1="227" y1="150.7" x2="227" y2="243.9" stroke="#3a3a3a" stroke-width="1.8"/><line x1="223.6" y1="243" x2="367.5" y2="243" stroke="#3a3a3a" stroke-width="1.8"/><line x1="223.6" y1="150.7" x2="227" y2="150.7" stroke="#222" stroke-width="1.1"/><line x1="223.6" y1="196.7" x2="227" y2="196.7" stroke="#222" stroke-width="1.1"/><line x1="232.8" y1="243" x2="232.8" y2="246" stroke="#333" stroke-width="1.1"/><line x1="284.1" y1="243" x2="284.1" y2="246" stroke="#333" stroke-width="1.1"/><line x1="335.4" y1="243" x2="335.4" y2="246" stroke="#333" stroke-width="1.1"/></g><g font-family="Liberation Sans, sans-serif" stroke="#000" stroke-width="0.15"><text x="130.3" y="11.2" font-size="12.7" text-anchor="middle" font-weight="normal" fill="#000">Scale-dependent</text><text x="301.6" y="11.2" font-size="12.7" text-anchor="middle" font-weight="normal" fill="#000">Scale-free</text><text x="36.8" y="32.8" font-size="12.5" text-anchor="start" font-weight="bold" fill="#000">a</text><text x="36.8" y="148.6" font-size="12.5" text-anchor="start" font-weight="bold" fill="#000">b</text><text x="216.6" y="32.8" font-size="12.5" text-anchor="start" font-weight="bold" fill="#000">c</text><text x="216.6" y="148.8" font-size="12.5" text-anchor="start" font-weight="bold" fill="#000">d</text><text x="10.8" y="77" font-size="12.7" text-anchor="middle" font-weight="normal" fill="#000" transform="rotate(-90 10.8 77)">Average number of</text><text x="25.2" y="76.2" font-size="12.7" text-anchor="middle" font-weight="normal" fill="#000" transform="rotate(-90 25.2 76.2)">neighbors (NN)</text><text x="18.7" y="197.5" font-size="12.7" text-anchor="middle" font-weight="normal" fill="#000" transform="rotate(-90 18.7 197.5)">Group sparsity (SP)</text><text x="206.5" y="282.2" font-size="12.7" text-anchor="middle" font-weight="normal" fill="#000">Simulation step</text><text x="54.1" y="56.5" font-size="11" text-anchor="end" font-weight="normal" fill="#000">40</text><text x="54.1" y="96.5" font-size="11" text-anchor="end" font-weight="normal" fill="#000">20</text><text x="54.1" y="136.5" font-size="11" text-anchor="end" font-weight="normal" fill="#000">0</text><text x="54.1" y="154.7" font-size="11" text-anchor="end" font-weight="normal" fill="#000">5</text><text x="54.1" y="200.7" font-size="11" text-anchor="end" font-weight="normal" fill="#000">3</text><text x="54.1" y="246.7" font-size="11" text-anchor="end" font-weight="normal" fill="#000">1</text><text x="64.5" y="256.2" font-size="11" text-anchor="middle" font-weight="normal" fill="#000">0</text><text x="115.5" y="256.2" font-size="11" text-anchor="middle" font-weight="normal" fill="#000">200</text><text x="166.6" y="256.2" font-size="11" text-anchor="middle" font-weight="normal" fill="#000">400</text><text x="232.8" y="256.2" font-size="11" text-anchor="middle" font-weight="normal" fill="#000">0</text><text x="284.1" y="256.2" font-size="11" text-anchor="middle" font-weight="normal" fill="#000">200</text><text x="335.4" y="256.2" font-size="11" text-anchor="middle" font-weight="normal" fill="#000">400</text></g></svg></body></html>
